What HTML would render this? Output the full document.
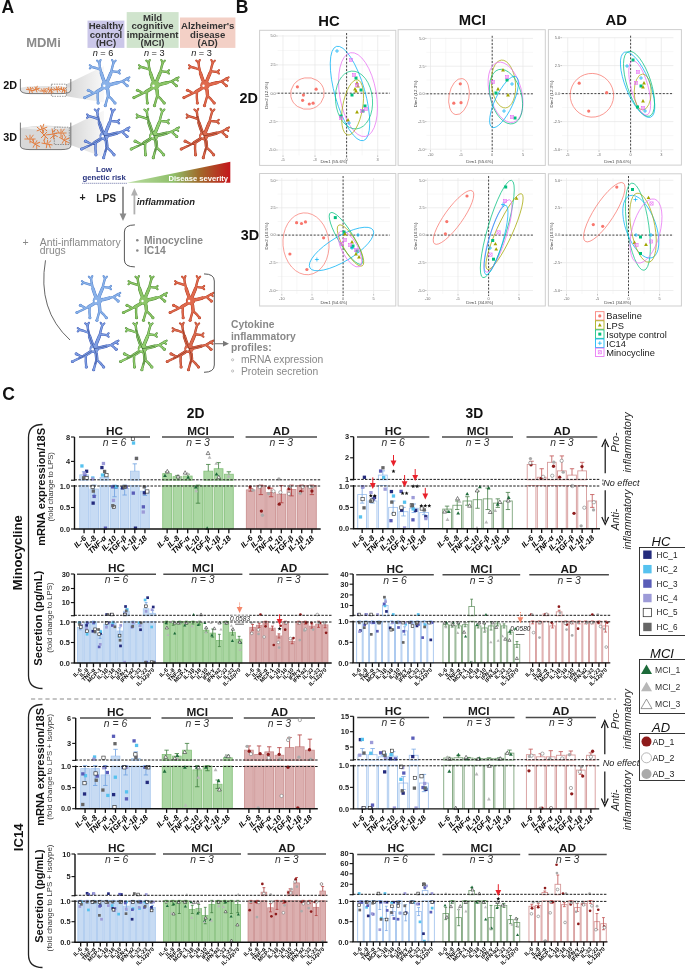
<!DOCTYPE html>
<html><head><meta charset="utf-8"><style>
html,body{margin:0;padding:0;background:#fff;width:685px;height:970px;overflow:hidden}
svg{display:block;will-change:transform}
text{font-family:"Liberation Sans", sans-serif}
</style></head><body>
<svg width="685" height="970" viewBox="0 0 685 970">
<line x1="79.00" y1="437.00" x2="150.00" y2="437.00" stroke="#4a4a4a" stroke-width="1.5"/>
<text x="114.50" y="435.00" font-size="11.8" font-weight="bold" fill="#1a1a1a" text-anchor="middle">HC</text>
<text x="114.50" y="445.90" font-size="10.4" font-style="italic" fill="#333" text-anchor="middle">n = 6</text>
<rect x="79.71" y="485.50" width="8.72" height="43.50" fill="#c7dbf3" stroke="#a9c8ee" stroke-width="0.8"/>
<rect x="79.71" y="474.82" width="8.72" height="5.38" fill="#c7dbf3" stroke="#a9c8ee" stroke-width="0.8"/>
<line x1="84.07" y1="471.77" x2="84.07" y2="474.82" stroke="#6d9fe0" stroke-width="0.8"/>
<line x1="81.89" y1="471.77" x2="86.25" y2="471.77" stroke="#6d9fe0" stroke-width="0.8"/>
<rect x="84.96" y="469.59" width="3.30" height="3.30" fill="#242b7d"/>
<rect x="80.28" y="464.31" width="3.30" height="3.30" fill="#56c2ef"/>
<rect x="83.21" y="473.41" width="3.30" height="3.30" fill="#5a5db8"/>
<rect x="82.63" y="471.45" width="3.30" height="3.30" fill="#9d9bd8"/>
<rect x="84.91" y="476.30" width="3.30" height="3.30" fill="#ffffff" stroke="#222" stroke-width="0.6"/>
<rect x="81.99" y="476.17" width="3.30" height="3.30" fill="#666666"/>
<rect x="89.85" y="489.01" width="8.72" height="39.99" fill="#c7dbf3" stroke="#a9c8ee" stroke-width="0.8"/>
<line x1="94.21" y1="485.14" x2="94.21" y2="495.46" stroke="#6d9fe0" stroke-width="0.8"/>
<line x1="92.03" y1="485.14" x2="96.39" y2="485.14" stroke="#6d9fe0" stroke-width="0.8"/>
<line x1="92.03" y1="495.46" x2="96.39" y2="495.46" stroke="#6d9fe0" stroke-width="0.8"/>
<rect x="91.50" y="501.46" width="3.30" height="3.30" fill="#242b7d"/>
<rect x="91.14" y="476.34" width="3.30" height="3.30" fill="#56c2ef"/>
<rect x="92.50" y="494.74" width="3.30" height="3.30" fill="#5a5db8"/>
<rect x="90.93" y="477.35" width="3.30" height="3.30" fill="#9d9bd8"/>
<rect x="90.97" y="485.21" width="3.30" height="3.30" fill="#ffffff" stroke="#222" stroke-width="0.6"/>
<rect x="91.68" y="489.45" width="3.30" height="3.30" fill="#666666"/>
<rect x="100.00" y="485.50" width="8.72" height="43.50" fill="#c7dbf3" stroke="#a9c8ee" stroke-width="0.8"/>
<rect x="100.00" y="477.56" width="8.72" height="2.64" fill="#c7dbf3" stroke="#a9c8ee" stroke-width="0.8"/>
<line x1="104.36" y1="474.51" x2="104.36" y2="477.56" stroke="#6d9fe0" stroke-width="0.8"/>
<line x1="102.18" y1="474.51" x2="106.54" y2="474.51" stroke="#6d9fe0" stroke-width="0.8"/>
<rect x="100.28" y="465.93" width="3.30" height="3.30" fill="#242b7d"/>
<rect x="100.79" y="473.41" width="3.30" height="3.30" fill="#56c2ef"/>
<rect x="103.80" y="526.49" width="3.30" height="3.30" fill="#5a5db8"/>
<rect x="101.79" y="461.86" width="3.30" height="3.30" fill="#9d9bd8"/>
<rect x="104.80" y="473.51" width="3.30" height="3.30" fill="#ffffff" stroke="#222" stroke-width="0.6"/>
<rect x="102.96" y="469.79" width="3.30" height="3.30" fill="#666666"/>
<rect x="110.14" y="485.50" width="8.72" height="43.50" fill="#c7dbf3" stroke="#a9c8ee" stroke-width="0.8"/>
<line x1="114.50" y1="485.14" x2="114.50" y2="496.75" stroke="#6d9fe0" stroke-width="0.8"/>
<line x1="112.32" y1="485.14" x2="116.68" y2="485.14" stroke="#6d9fe0" stroke-width="0.8"/>
<line x1="112.32" y1="496.75" x2="116.68" y2="496.75" stroke="#6d9fe0" stroke-width="0.8"/>
<rect x="114.32" y="485.21" width="3.30" height="3.30" fill="#242b7d"/>
<rect x="114.45" y="485.21" width="3.30" height="3.30" fill="#56c2ef"/>
<rect x="110.96" y="485.21" width="3.30" height="3.30" fill="#5a5db8"/>
<rect x="111.78" y="498.81" width="3.30" height="3.30" fill="#9d9bd8"/>
<rect x="112.32" y="505.32" width="3.30" height="3.30" fill="#ffffff" stroke="#222" stroke-width="0.6"/>
<rect x="111.18" y="504.04" width="3.30" height="3.30" fill="#666666"/>
<rect x="120.28" y="488.58" width="8.72" height="40.42" fill="#c7dbf3" stroke="#a9c8ee" stroke-width="0.8"/>
<line x1="124.64" y1="485.14" x2="124.64" y2="495.03" stroke="#6d9fe0" stroke-width="0.8"/>
<line x1="122.46" y1="485.14" x2="126.82" y2="485.14" stroke="#6d9fe0" stroke-width="0.8"/>
<line x1="122.46" y1="495.03" x2="126.82" y2="495.03" stroke="#6d9fe0" stroke-width="0.8"/>
<rect x="120.79" y="486.26" width="3.30" height="3.30" fill="#242b7d"/>
<rect x="124.57" y="485.21" width="3.30" height="3.30" fill="#5a5db8"/>
<rect x="123.88" y="485.21" width="3.30" height="3.30" fill="#9d9bd8"/>
<rect x="123.03" y="485.21" width="3.30" height="3.30" fill="#ffffff" stroke="#222" stroke-width="0.6"/>
<rect x="122.56" y="485.21" width="3.30" height="3.30" fill="#666666"/>
<rect x="130.42" y="485.50" width="8.72" height="43.50" fill="#c7dbf3" stroke="#a9c8ee" stroke-width="0.8"/>
<rect x="130.42" y="471.16" width="8.72" height="9.04" fill="#c7dbf3" stroke="#a9c8ee" stroke-width="0.8"/>
<line x1="134.79" y1="463.84" x2="134.79" y2="471.16" stroke="#6d9fe0" stroke-width="0.8"/>
<line x1="132.61" y1="463.84" x2="136.97" y2="463.84" stroke="#6d9fe0" stroke-width="0.8"/>
<rect x="133.83" y="526.49" width="3.30" height="3.30" fill="#242b7d"/>
<rect x="131.87" y="441.38" width="3.30" height="3.30" fill="#56c2ef"/>
<rect x="131.65" y="491.46" width="3.30" height="3.30" fill="#5a5db8"/>
<rect x="134.80" y="456.87" width="3.30" height="3.30" fill="#9d9bd8"/>
<rect x="131.24" y="437.35" width="3.30" height="3.30" fill="#ffffff" stroke="#222" stroke-width="0.6"/>
<rect x="134.85" y="456.75" width="3.30" height="3.30" fill="#666666"/>
<rect x="140.57" y="491.16" width="8.72" height="37.84" fill="#c7dbf3" stroke="#a9c8ee" stroke-width="0.8"/>
<line x1="144.93" y1="486.86" x2="144.93" y2="495.46" stroke="#6d9fe0" stroke-width="0.8"/>
<line x1="142.75" y1="486.86" x2="147.11" y2="486.86" stroke="#6d9fe0" stroke-width="0.8"/>
<line x1="142.75" y1="495.46" x2="147.11" y2="495.46" stroke="#6d9fe0" stroke-width="0.8"/>
<rect x="142.71" y="491.17" width="3.30" height="3.30" fill="#242b7d"/>
<rect x="141.71" y="505.20" width="3.30" height="3.30" fill="#5a5db8"/>
<rect x="141.62" y="510.36" width="3.30" height="3.30" fill="#9d9bd8"/>
<rect x="145.65" y="489.82" width="3.30" height="3.30" fill="#ffffff" stroke="#222" stroke-width="0.6"/>
<rect x="142.63" y="485.21" width="3.30" height="3.30" fill="#666666"/>
<line x1="162.00" y1="437.00" x2="234.00" y2="437.00" stroke="#4a4a4a" stroke-width="1.5"/>
<text x="198.00" y="435.00" font-size="11.8" font-weight="bold" fill="#1a1a1a" text-anchor="middle">MCI</text>
<text x="198.00" y="445.90" font-size="10.4" font-style="italic" fill="#333" text-anchor="middle">n = 3</text>
<rect x="162.72" y="485.50" width="8.85" height="43.50" fill="#abd7a3" stroke="#86c07c" stroke-width="0.8"/>
<rect x="162.72" y="473.60" width="8.85" height="6.60" fill="#abd7a3" stroke="#86c07c" stroke-width="0.8"/>
<line x1="167.14" y1="471.77" x2="167.14" y2="473.60" stroke="#3e7e3c" stroke-width="0.8"/>
<line x1="164.93" y1="471.77" x2="169.35" y2="471.77" stroke="#3e7e3c" stroke-width="0.8"/>
<path d="M164.99 473.70L166.89 477.12L163.09 477.12Z" fill="#1d6b3a"/>
<path d="M167.54 470.13L169.44 473.55L165.64 473.55Z" fill="#b8b8b8"/>
<path d="M167.33 469.39L169.22 472.81L165.43 472.81Z" fill="#ffffff" stroke="#333" stroke-width="0.6"/>
<rect x="173.01" y="485.50" width="8.85" height="43.50" fill="#abd7a3" stroke="#86c07c" stroke-width="0.8"/>
<rect x="173.01" y="476.65" width="8.85" height="3.55" fill="#abd7a3" stroke="#86c07c" stroke-width="0.8"/>
<line x1="177.43" y1="475.43" x2="177.43" y2="476.65" stroke="#3e7e3c" stroke-width="0.8"/>
<line x1="175.22" y1="475.43" x2="179.64" y2="475.43" stroke="#3e7e3c" stroke-width="0.8"/>
<path d="M179.57 475.02L181.46 478.43L177.67 478.43Z" fill="#b8b8b8"/>
<path d="M178.00 474.63L179.90 478.04L176.10 478.04Z" fill="#ffffff" stroke="#333" stroke-width="0.6"/>
<rect x="183.29" y="485.50" width="8.85" height="43.50" fill="#abd7a3" stroke="#86c07c" stroke-width="0.8"/>
<rect x="183.29" y="476.04" width="8.85" height="4.16" fill="#abd7a3" stroke="#86c07c" stroke-width="0.8"/>
<line x1="187.71" y1="474.21" x2="187.71" y2="476.04" stroke="#3e7e3c" stroke-width="0.8"/>
<line x1="185.50" y1="474.21" x2="189.93" y2="474.21" stroke="#3e7e3c" stroke-width="0.8"/>
<path d="M188.15 475.22L190.05 478.64L186.25 478.64Z" fill="#1d6b3a"/>
<path d="M187.63 471.68L189.53 475.10L185.73 475.10Z" fill="#b8b8b8"/>
<path d="M185.11 470.72L187.01 474.13L183.22 474.13Z" fill="#ffffff" stroke="#333" stroke-width="0.6"/>
<rect x="193.58" y="485.50" width="8.85" height="43.50" fill="#abd7a3" stroke="#86c07c" stroke-width="0.8"/>
<line x1="198.00" y1="485.14" x2="198.00" y2="503.20" stroke="#3e7e3c" stroke-width="0.8"/>
<line x1="195.79" y1="485.14" x2="200.21" y2="485.14" stroke="#3e7e3c" stroke-width="0.8"/>
<line x1="195.79" y1="503.20" x2="200.21" y2="503.20" stroke="#3e7e3c" stroke-width="0.8"/>
<path d="M195.81 484.96L197.70 488.38L193.91 488.38Z" fill="#1d6b3a"/>
<path d="M196.21 488.83L198.11 492.24L194.31 492.24Z" fill="#b8b8b8"/>
<rect x="203.86" y="485.50" width="8.85" height="43.50" fill="#abd7a3" stroke="#86c07c" stroke-width="0.8"/>
<rect x="203.86" y="471.16" width="8.85" height="9.04" fill="#abd7a3" stroke="#86c07c" stroke-width="0.8"/>
<line x1="208.29" y1="464.45" x2="208.29" y2="471.16" stroke="#3e7e3c" stroke-width="0.8"/>
<line x1="206.07" y1="464.45" x2="210.50" y2="464.45" stroke="#3e7e3c" stroke-width="0.8"/>
<path d="M207.18 526.24L209.07 529.66L205.28 529.66Z" fill="#1d6b3a"/>
<path d="M209.58 455.41L211.48 458.82L207.69 458.82Z" fill="#b8b8b8"/>
<path d="M208.04 451.17L209.94 454.58L206.14 454.58Z" fill="#ffffff" stroke="#333" stroke-width="0.6"/>
<rect x="214.15" y="485.50" width="8.85" height="43.50" fill="#abd7a3" stroke="#86c07c" stroke-width="0.8"/>
<rect x="214.15" y="468.72" width="8.85" height="11.48" fill="#abd7a3" stroke="#86c07c" stroke-width="0.8"/>
<line x1="218.57" y1="462.62" x2="218.57" y2="468.72" stroke="#3e7e3c" stroke-width="0.8"/>
<line x1="216.36" y1="462.62" x2="220.78" y2="462.62" stroke="#3e7e3c" stroke-width="0.8"/>
<path d="M216.54 472.20L218.44 475.62L214.64 475.62Z" fill="#1d6b3a"/>
<path d="M216.27 461.46L218.17 464.87L214.37 464.87Z" fill="#b8b8b8"/>
<path d="M218.72 475.21L220.62 478.63L216.82 478.63Z" fill="#ffffff" stroke="#333" stroke-width="0.6"/>
<rect x="224.43" y="485.50" width="8.85" height="43.50" fill="#abd7a3" stroke="#86c07c" stroke-width="0.8"/>
<rect x="224.43" y="474.21" width="8.85" height="5.99" fill="#abd7a3" stroke="#86c07c" stroke-width="0.8"/>
<line x1="228.86" y1="471.77" x2="228.86" y2="474.21" stroke="#3e7e3c" stroke-width="0.8"/>
<line x1="226.65" y1="471.77" x2="231.07" y2="471.77" stroke="#3e7e3c" stroke-width="0.8"/>
<path d="M228.67 474.23L230.56 477.65L226.77 477.65Z" fill="#b8b8b8"/>
<line x1="245.60" y1="437.00" x2="317.00" y2="437.00" stroke="#4a4a4a" stroke-width="1.5"/>
<text x="281.30" y="435.00" font-size="11.8" font-weight="bold" fill="#1a1a1a" text-anchor="middle">AD</text>
<text x="281.30" y="445.90" font-size="10.4" font-style="italic" fill="#333" text-anchor="middle">n = 3</text>
<rect x="246.31" y="489.87" width="8.77" height="39.13" fill="#dcb0b0" stroke="#c98c8c" stroke-width="0.8"/>
<line x1="250.70" y1="488.58" x2="250.70" y2="491.16" stroke="#b03a3a" stroke-width="0.8"/>
<line x1="248.51" y1="488.58" x2="252.89" y2="488.58" stroke="#b03a3a" stroke-width="0.8"/>
<line x1="248.51" y1="491.16" x2="252.89" y2="491.16" stroke="#b03a3a" stroke-width="0.8"/>
<circle cx="250.12" cy="486.86" r="1.65" fill="#8e1b1b"/>
<circle cx="253.04" cy="490.19" r="1.65" fill="#aaaaaa"/>
<rect x="256.51" y="485.50" width="8.77" height="43.50" fill="#dcb0b0" stroke="#c98c8c" stroke-width="0.8"/>
<line x1="260.90" y1="485.14" x2="260.90" y2="494.60" stroke="#b03a3a" stroke-width="0.8"/>
<line x1="258.71" y1="485.14" x2="263.09" y2="485.14" stroke="#b03a3a" stroke-width="0.8"/>
<line x1="258.71" y1="494.60" x2="263.09" y2="494.60" stroke="#b03a3a" stroke-width="0.8"/>
<circle cx="261.37" cy="511.08" r="1.65" fill="#8e1b1b"/>
<circle cx="259.67" cy="486.86" r="1.65" fill="#ffffff" stroke="#777" stroke-width="0.6"/>
<circle cx="262.46" cy="515.26" r="1.65" fill="#aaaaaa"/>
<rect x="266.71" y="492.45" width="8.77" height="36.55" fill="#dcb0b0" stroke="#c98c8c" stroke-width="0.8"/>
<line x1="271.10" y1="488.15" x2="271.10" y2="496.75" stroke="#b03a3a" stroke-width="0.8"/>
<line x1="268.91" y1="488.15" x2="273.29" y2="488.15" stroke="#b03a3a" stroke-width="0.8"/>
<line x1="268.91" y1="496.75" x2="273.29" y2="496.75" stroke="#b03a3a" stroke-width="0.8"/>
<circle cx="268.84" cy="487.83" r="1.65" fill="#8e1b1b"/>
<circle cx="273.52" cy="491.24" r="1.65" fill="#ffffff" stroke="#777" stroke-width="0.6"/>
<circle cx="268.63" cy="493.54" r="1.65" fill="#aaaaaa"/>
<rect x="276.91" y="494.17" width="8.77" height="34.83" fill="#dcb0b0" stroke="#c98c8c" stroke-width="0.8"/>
<line x1="281.30" y1="485.57" x2="281.30" y2="502.77" stroke="#b03a3a" stroke-width="0.8"/>
<line x1="279.11" y1="485.57" x2="283.49" y2="485.57" stroke="#b03a3a" stroke-width="0.8"/>
<line x1="279.11" y1="502.77" x2="283.49" y2="502.77" stroke="#b03a3a" stroke-width="0.8"/>
<circle cx="279.28" cy="504.13" r="1.65" fill="#8e1b1b"/>
<circle cx="280.39" cy="492.31" r="1.65" fill="#ffffff" stroke="#777" stroke-width="0.6"/>
<circle cx="278.86" cy="479.00" r="1.65" fill="#aaaaaa"/>
<rect x="287.11" y="489.44" width="8.77" height="39.56" fill="#dcb0b0" stroke="#c98c8c" stroke-width="0.8"/>
<line x1="291.50" y1="485.14" x2="291.50" y2="495.89" stroke="#b03a3a" stroke-width="0.8"/>
<line x1="289.31" y1="485.14" x2="293.69" y2="485.14" stroke="#b03a3a" stroke-width="0.8"/>
<line x1="289.31" y1="495.89" x2="293.69" y2="495.89" stroke="#b03a3a" stroke-width="0.8"/>
<circle cx="288.99" cy="488.67" r="1.65" fill="#8e1b1b"/>
<circle cx="288.90" cy="493.87" r="1.65" fill="#ffffff" stroke="#777" stroke-width="0.6"/>
<circle cx="290.30" cy="486.86" r="1.65" fill="#aaaaaa"/>
<rect x="297.31" y="485.50" width="8.77" height="43.50" fill="#dcb0b0" stroke="#c98c8c" stroke-width="0.8"/>
<line x1="301.70" y1="485.14" x2="301.70" y2="491.16" stroke="#b03a3a" stroke-width="0.8"/>
<line x1="299.51" y1="485.14" x2="303.89" y2="485.14" stroke="#b03a3a" stroke-width="0.8"/>
<line x1="299.51" y1="491.16" x2="303.89" y2="491.16" stroke="#b03a3a" stroke-width="0.8"/>
<circle cx="300.63" cy="491.63" r="1.65" fill="#8e1b1b"/>
<circle cx="302.75" cy="486.86" r="1.65" fill="#ffffff" stroke="#777" stroke-width="0.6"/>
<circle cx="300.25" cy="493.28" r="1.65" fill="#aaaaaa"/>
<rect x="307.51" y="485.50" width="8.77" height="43.50" fill="#dcb0b0" stroke="#c98c8c" stroke-width="0.8"/>
<line x1="311.90" y1="485.14" x2="311.90" y2="494.60" stroke="#b03a3a" stroke-width="0.8"/>
<line x1="309.71" y1="485.14" x2="314.09" y2="485.14" stroke="#b03a3a" stroke-width="0.8"/>
<line x1="309.71" y1="494.60" x2="314.09" y2="494.60" stroke="#b03a3a" stroke-width="0.8"/>
<circle cx="311.94" cy="491.03" r="1.65" fill="#8e1b1b"/>
<circle cx="309.78" cy="486.86" r="1.65" fill="#ffffff" stroke="#777" stroke-width="0.6"/>
<circle cx="312.31" cy="486.86" r="1.65" fill="#aaaaaa"/>
<line x1="74.50" y1="479.80" x2="320.70" y2="479.80" stroke="#1a1a1a" stroke-width="1.0" stroke-dasharray="2.5,1.3"/>
<line x1="74.50" y1="486.00" x2="320.70" y2="486.00" stroke="#1a1a1a" stroke-width="1.0" stroke-dasharray="2.5,1.3"/>
<line x1="74.50" y1="437.00" x2="74.50" y2="480.70" stroke="#111" stroke-width="1.4"/>
<line x1="74.50" y1="485.00" x2="74.50" y2="529.00" stroke="#111" stroke-width="1.4"/>
<line x1="73.80" y1="529.00" x2="320.70" y2="529.00" stroke="#111" stroke-width="1.4"/>
<line x1="71.00" y1="437.00" x2="74.50" y2="437.00" stroke="#111" stroke-width="1.1"/>
<text x="70.00" y="439.60" font-size="7.4" font-weight="bold" fill="#222" text-anchor="end">8</text>
<line x1="71.00" y1="461.40" x2="74.50" y2="461.40" stroke="#111" stroke-width="1.1"/>
<text x="70.00" y="464.00" font-size="7.4" font-weight="bold" fill="#222" text-anchor="end">4</text>
<line x1="71.00" y1="480.20" x2="74.50" y2="480.20" stroke="#111" stroke-width="1.1"/>
<line x1="71.00" y1="486.00" x2="74.50" y2="486.00" stroke="#111" stroke-width="1.1"/>
<text x="70.00" y="488.60" font-size="7.4" font-weight="bold" fill="#222" text-anchor="end">1.0</text>
<line x1="71.00" y1="507.50" x2="74.50" y2="507.50" stroke="#111" stroke-width="1.1"/>
<text x="70.00" y="510.10" font-size="7.4" font-weight="bold" fill="#222" text-anchor="end">0.5</text>
<line x1="71.00" y1="529.00" x2="74.50" y2="529.00" stroke="#111" stroke-width="1.1"/>
<text x="70.00" y="531.60" font-size="7.4" font-weight="bold" fill="#222" text-anchor="end">0.0</text>
<line x1="84.07" y1="529.00" x2="84.07" y2="533.20" stroke="#111" stroke-width="1.3"/>
<text x="86.67" y="538.60" font-size="7.7" font-weight="bold" font-style="italic" fill="#000" text-anchor="end" transform="rotate(-45 86.67142857142856 538.6)">IL-6</text>
<line x1="94.21" y1="529.00" x2="94.21" y2="533.20" stroke="#111" stroke-width="1.3"/>
<text x="96.81" y="538.60" font-size="7.7" font-weight="bold" font-style="italic" fill="#000" text-anchor="end" transform="rotate(-45 96.8142857142857 538.6)">IL-8</text>
<line x1="104.36" y1="529.00" x2="104.36" y2="533.20" stroke="#111" stroke-width="1.3"/>
<text x="106.96" y="538.60" font-size="7.7" font-weight="bold" font-style="italic" fill="#000" text-anchor="end" transform="rotate(-45 106.95714285714286 538.6)">TNF-α</text>
<line x1="114.50" y1="529.00" x2="114.50" y2="533.20" stroke="#111" stroke-width="1.3"/>
<text x="117.10" y="538.60" font-size="7.7" font-weight="bold" font-style="italic" fill="#000" text-anchor="end" transform="rotate(-45 117.1 538.6)">IL-10</text>
<line x1="124.64" y1="529.00" x2="124.64" y2="533.20" stroke="#111" stroke-width="1.3"/>
<text x="127.24" y="538.60" font-size="7.7" font-weight="bold" font-style="italic" fill="#000" text-anchor="end" transform="rotate(-45 127.24285714285713 538.6)">TGF-β</text>
<line x1="134.79" y1="529.00" x2="134.79" y2="533.20" stroke="#111" stroke-width="1.3"/>
<text x="137.39" y="538.60" font-size="7.7" font-weight="bold" font-style="italic" fill="#000" text-anchor="end" transform="rotate(-45 137.38571428571427 538.6)">IL-1β</text>
<line x1="144.93" y1="529.00" x2="144.93" y2="533.20" stroke="#111" stroke-width="1.3"/>
<text x="147.53" y="538.60" font-size="7.7" font-weight="bold" font-style="italic" fill="#000" text-anchor="end" transform="rotate(-45 147.52857142857144 538.6)">IL-18</text>
<line x1="167.14" y1="529.00" x2="167.14" y2="533.20" stroke="#111" stroke-width="1.3"/>
<text x="169.74" y="538.60" font-size="7.7" font-weight="bold" font-style="italic" fill="#000" text-anchor="end" transform="rotate(-45 169.74285714285713 538.6)">IL-6</text>
<line x1="177.43" y1="529.00" x2="177.43" y2="533.20" stroke="#111" stroke-width="1.3"/>
<text x="180.03" y="538.60" font-size="7.7" font-weight="bold" font-style="italic" fill="#000" text-anchor="end" transform="rotate(-45 180.02857142857144 538.6)">IL-8</text>
<line x1="187.71" y1="529.00" x2="187.71" y2="533.20" stroke="#111" stroke-width="1.3"/>
<text x="190.31" y="538.60" font-size="7.7" font-weight="bold" font-style="italic" fill="#000" text-anchor="end" transform="rotate(-45 190.31428571428572 538.6)">TNF-α</text>
<line x1="198.00" y1="529.00" x2="198.00" y2="533.20" stroke="#111" stroke-width="1.3"/>
<text x="200.60" y="538.60" font-size="7.7" font-weight="bold" font-style="italic" fill="#000" text-anchor="end" transform="rotate(-45 200.6 538.6)">IL-10</text>
<line x1="208.29" y1="529.00" x2="208.29" y2="533.20" stroke="#111" stroke-width="1.3"/>
<text x="210.89" y="538.60" font-size="7.7" font-weight="bold" font-style="italic" fill="#000" text-anchor="end" transform="rotate(-45 210.88571428571427 538.6)">TGF-β</text>
<line x1="218.57" y1="529.00" x2="218.57" y2="533.20" stroke="#111" stroke-width="1.3"/>
<text x="221.17" y="538.60" font-size="7.7" font-weight="bold" font-style="italic" fill="#000" text-anchor="end" transform="rotate(-45 221.17142857142858 538.6)">IL-1β</text>
<line x1="228.86" y1="529.00" x2="228.86" y2="533.20" stroke="#111" stroke-width="1.3"/>
<text x="231.46" y="538.60" font-size="7.7" font-weight="bold" font-style="italic" fill="#000" text-anchor="end" transform="rotate(-45 231.45714285714286 538.6)">IL-18</text>
<line x1="250.70" y1="529.00" x2="250.70" y2="533.20" stroke="#111" stroke-width="1.3"/>
<text x="253.30" y="538.60" font-size="7.7" font-weight="bold" font-style="italic" fill="#000" text-anchor="end" transform="rotate(-45 253.29999999999998 538.6)">IL-6</text>
<line x1="260.90" y1="529.00" x2="260.90" y2="533.20" stroke="#111" stroke-width="1.3"/>
<text x="263.50" y="538.60" font-size="7.7" font-weight="bold" font-style="italic" fill="#000" text-anchor="end" transform="rotate(-45 263.5 538.6)">IL-8</text>
<line x1="271.10" y1="529.00" x2="271.10" y2="533.20" stroke="#111" stroke-width="1.3"/>
<text x="273.70" y="538.60" font-size="7.7" font-weight="bold" font-style="italic" fill="#000" text-anchor="end" transform="rotate(-45 273.70000000000005 538.6)">TNF-α</text>
<line x1="281.30" y1="529.00" x2="281.30" y2="533.20" stroke="#111" stroke-width="1.3"/>
<text x="283.90" y="538.60" font-size="7.7" font-weight="bold" font-style="italic" fill="#000" text-anchor="end" transform="rotate(-45 283.90000000000003 538.6)">IL-10</text>
<line x1="291.50" y1="529.00" x2="291.50" y2="533.20" stroke="#111" stroke-width="1.3"/>
<text x="294.10" y="538.60" font-size="7.7" font-weight="bold" font-style="italic" fill="#000" text-anchor="end" transform="rotate(-45 294.1 538.6)">TGF-β</text>
<line x1="301.70" y1="529.00" x2="301.70" y2="533.20" stroke="#111" stroke-width="1.3"/>
<text x="304.30" y="538.60" font-size="7.7" font-weight="bold" font-style="italic" fill="#000" text-anchor="end" transform="rotate(-45 304.3 538.6)">IL-1β</text>
<line x1="311.90" y1="529.00" x2="311.90" y2="533.20" stroke="#111" stroke-width="1.3"/>
<text x="314.50" y="538.60" font-size="7.7" font-weight="bold" font-style="italic" fill="#000" text-anchor="end" transform="rotate(-45 314.5 538.6)">IL-18</text>
<line x1="77.00" y1="574.30" x2="156.00" y2="574.30" stroke="#4a4a4a" stroke-width="1.5"/>
<text x="116.50" y="572.30" font-size="11.8" font-weight="bold" fill="#1a1a1a" text-anchor="middle">HC</text>
<text x="116.50" y="583.20" font-size="10.4" font-style="italic" fill="#333" text-anchor="middle">n = 6</text>
<rect x="77.46" y="627.33" width="5.66" height="35.67" fill="#c7dbf3" stroke="#a9c8ee" stroke-width="0.8"/>
<line x1="80.29" y1="624.87" x2="80.29" y2="629.79" stroke="#6d9fe0" stroke-width="0.8"/>
<line x1="78.88" y1="624.87" x2="81.71" y2="624.87" stroke="#6d9fe0" stroke-width="0.8"/>
<line x1="78.88" y1="629.79" x2="81.71" y2="629.79" stroke="#6d9fe0" stroke-width="0.8"/>
<rect x="78.57" y="621.47" width="2.70" height="2.70" fill="#242b7d"/>
<rect x="77.79" y="621.47" width="2.70" height="2.70" fill="#56c2ef"/>
<rect x="80.36" y="623.97" width="2.70" height="2.70" fill="#9d9bd8"/>
<rect x="79.43" y="625.68" width="2.70" height="2.70" fill="#ffffff" stroke="#222" stroke-width="0.6"/>
<rect x="78.17" y="623.08" width="2.70" height="2.70" fill="#666666"/>
<rect x="84.04" y="622.62" width="5.66" height="40.38" fill="#c7dbf3" stroke="#a9c8ee" stroke-width="0.8"/>
<line x1="86.87" y1="621.38" x2="86.87" y2="623.85" stroke="#6d9fe0" stroke-width="0.8"/>
<line x1="85.46" y1="621.38" x2="88.29" y2="621.38" stroke="#6d9fe0" stroke-width="0.8"/>
<line x1="85.46" y1="623.85" x2="88.29" y2="623.85" stroke="#6d9fe0" stroke-width="0.8"/>
<rect x="85.25" y="624.04" width="2.70" height="2.70" fill="#242b7d"/>
<rect x="85.76" y="632.88" width="2.70" height="2.70" fill="#56c2ef"/>
<rect x="86.06" y="621.47" width="2.70" height="2.70" fill="#5a5db8"/>
<rect x="85.14" y="627.09" width="2.70" height="2.70" fill="#9d9bd8"/>
<rect x="85.64" y="629.86" width="2.70" height="2.70" fill="#ffffff" stroke="#222" stroke-width="0.6"/>
<rect x="90.63" y="621.50" width="5.66" height="41.50" fill="#c7dbf3" stroke="#a9c8ee" stroke-width="0.8"/>
<line x1="93.46" y1="621.18" x2="93.46" y2="624.05" stroke="#6d9fe0" stroke-width="0.8"/>
<line x1="92.04" y1="621.18" x2="94.87" y2="621.18" stroke="#6d9fe0" stroke-width="0.8"/>
<line x1="92.04" y1="624.05" x2="94.87" y2="624.05" stroke="#6d9fe0" stroke-width="0.8"/>
<rect x="91.51" y="629.89" width="2.70" height="2.70" fill="#242b7d"/>
<rect x="92.72" y="621.47" width="2.70" height="2.70" fill="#56c2ef"/>
<rect x="92.36" y="621.47" width="2.70" height="2.70" fill="#5a5db8"/>
<rect x="93.78" y="627.95" width="2.70" height="2.70" fill="#ffffff" stroke="#222" stroke-width="0.6"/>
<rect x="93.71" y="630.61" width="2.70" height="2.70" fill="#666666"/>
<rect x="97.21" y="634.30" width="5.66" height="28.70" fill="#c7dbf3" stroke="#a9c8ee" stroke-width="0.8"/>
<line x1="100.04" y1="630.20" x2="100.04" y2="638.40" stroke="#6d9fe0" stroke-width="0.8"/>
<line x1="98.63" y1="630.20" x2="101.46" y2="630.20" stroke="#6d9fe0" stroke-width="0.8"/>
<line x1="98.63" y1="638.40" x2="101.46" y2="638.40" stroke="#6d9fe0" stroke-width="0.8"/>
<rect x="99.36" y="632.02" width="2.70" height="2.70" fill="#242b7d"/>
<rect x="99.50" y="630.21" width="2.70" height="2.70" fill="#56c2ef"/>
<rect x="97.80" y="645.53" width="2.70" height="2.70" fill="#5a5db8"/>
<rect x="98.89" y="643.00" width="2.70" height="2.70" fill="#9d9bd8"/>
<rect x="97.81" y="632.87" width="2.70" height="2.70" fill="#ffffff" stroke="#222" stroke-width="0.6"/>
<rect x="97.19" y="628.14" width="2.70" height="2.70" fill="#666666"/>
<rect x="103.79" y="624.05" width="5.66" height="38.95" fill="#c7dbf3" stroke="#a9c8ee" stroke-width="0.8"/>
<line x1="106.62" y1="622.00" x2="106.62" y2="626.10" stroke="#6d9fe0" stroke-width="0.8"/>
<line x1="105.21" y1="622.00" x2="108.04" y2="622.00" stroke="#6d9fe0" stroke-width="0.8"/>
<line x1="105.21" y1="626.10" x2="108.04" y2="626.10" stroke="#6d9fe0" stroke-width="0.8"/>
<rect x="105.33" y="613.15" width="2.70" height="2.70" fill="#242b7d"/>
<rect x="106.95" y="621.47" width="2.70" height="2.70" fill="#5a5db8"/>
<rect x="105.07" y="625.91" width="2.70" height="2.70" fill="#9d9bd8"/>
<rect x="105.31" y="621.65" width="2.70" height="2.70" fill="#ffffff" stroke="#222" stroke-width="0.6"/>
<rect x="106.59" y="613.15" width="2.70" height="2.70" fill="#666666"/>
<rect x="110.38" y="622.82" width="5.66" height="40.18" fill="#c7dbf3" stroke="#a9c8ee" stroke-width="0.8"/>
<line x1="113.21" y1="621.18" x2="113.21" y2="624.87" stroke="#6d9fe0" stroke-width="0.8"/>
<line x1="111.79" y1="621.18" x2="114.62" y2="621.18" stroke="#6d9fe0" stroke-width="0.8"/>
<line x1="111.79" y1="624.87" x2="114.62" y2="624.87" stroke="#6d9fe0" stroke-width="0.8"/>
<rect x="110.25" y="613.15" width="2.70" height="2.70" fill="#242b7d"/>
<rect x="111.41" y="621.47" width="2.70" height="2.70" fill="#56c2ef"/>
<rect x="110.97" y="624.17" width="2.70" height="2.70" fill="#5a5db8"/>
<rect x="110.68" y="613.15" width="2.70" height="2.70" fill="#ffffff" stroke="#222" stroke-width="0.6"/>
<rect x="113.55" y="625.42" width="2.70" height="2.70" fill="#666666"/>
<rect x="116.96" y="631.02" width="5.66" height="31.98" fill="#c7dbf3" stroke="#a9c8ee" stroke-width="0.8"/>
<line x1="119.79" y1="627.74" x2="119.79" y2="634.30" stroke="#6d9fe0" stroke-width="0.8"/>
<line x1="118.38" y1="627.74" x2="121.21" y2="627.74" stroke="#6d9fe0" stroke-width="0.8"/>
<line x1="118.38" y1="634.30" x2="121.21" y2="634.30" stroke="#6d9fe0" stroke-width="0.8"/>
<rect x="119.16" y="644.57" width="2.70" height="2.70" fill="#242b7d"/>
<rect x="117.78" y="634.76" width="2.70" height="2.70" fill="#56c2ef"/>
<rect x="119.38" y="624.09" width="2.70" height="2.70" fill="#9d9bd8"/>
<rect x="118.20" y="634.27" width="2.70" height="2.70" fill="#ffffff" stroke="#222" stroke-width="0.6"/>
<rect x="118.68" y="638.93" width="2.70" height="2.70" fill="#666666"/>
<rect x="123.54" y="621.50" width="5.66" height="41.50" fill="#c7dbf3" stroke="#a9c8ee" stroke-width="0.8"/>
<rect x="123.54" y="611.18" width="5.66" height="4.52" fill="#c7dbf3" stroke="#a9c8ee" stroke-width="0.8"/>
<line x1="126.37" y1="609.04" x2="126.37" y2="611.18" stroke="#6d9fe0" stroke-width="0.8"/>
<line x1="124.96" y1="609.04" x2="127.79" y2="609.04" stroke="#6d9fe0" stroke-width="0.8"/>
<rect x="124.20" y="605.15" width="2.70" height="2.70" fill="#242b7d"/>
<rect x="125.89" y="608.14" width="2.70" height="2.70" fill="#56c2ef"/>
<rect x="123.71" y="612.60" width="2.70" height="2.70" fill="#5a5db8"/>
<rect x="123.33" y="660.83" width="2.70" height="2.70" fill="#9d9bd8"/>
<rect x="123.58" y="613.15" width="2.70" height="2.70" fill="#ffffff" stroke="#222" stroke-width="0.6"/>
<rect x="124.89" y="609.52" width="2.70" height="2.70" fill="#666666"/>
<rect x="130.13" y="621.50" width="5.66" height="41.50" fill="#c7dbf3" stroke="#a9c8ee" stroke-width="0.8"/>
<line x1="132.96" y1="621.18" x2="132.96" y2="624.05" stroke="#6d9fe0" stroke-width="0.8"/>
<line x1="131.54" y1="621.18" x2="134.37" y2="621.18" stroke="#6d9fe0" stroke-width="0.8"/>
<line x1="131.54" y1="624.05" x2="134.37" y2="624.05" stroke="#6d9fe0" stroke-width="0.8"/>
<rect x="130.74" y="625.65" width="2.70" height="2.70" fill="#5a5db8"/>
<rect x="131.82" y="621.47" width="2.70" height="2.70" fill="#9d9bd8"/>
<rect x="131.39" y="625.01" width="2.70" height="2.70" fill="#666666"/>
<rect x="136.71" y="624.05" width="5.66" height="38.95" fill="#c7dbf3" stroke="#a9c8ee" stroke-width="0.8"/>
<line x1="139.54" y1="622.00" x2="139.54" y2="626.10" stroke="#6d9fe0" stroke-width="0.8"/>
<line x1="138.13" y1="622.00" x2="140.96" y2="622.00" stroke="#6d9fe0" stroke-width="0.8"/>
<line x1="138.13" y1="626.10" x2="140.96" y2="626.10" stroke="#6d9fe0" stroke-width="0.8"/>
<rect x="139.20" y="628.39" width="2.70" height="2.70" fill="#242b7d"/>
<rect x="137.63" y="621.47" width="2.70" height="2.70" fill="#56c2ef"/>
<rect x="138.85" y="624.29" width="2.70" height="2.70" fill="#9d9bd8"/>
<rect x="139.83" y="621.47" width="2.70" height="2.70" fill="#666666"/>
<rect x="143.29" y="621.50" width="5.66" height="41.50" fill="#c7dbf3" stroke="#a9c8ee" stroke-width="0.8"/>
<rect x="143.29" y="608.75" width="5.66" height="6.95" fill="#c7dbf3" stroke="#a9c8ee" stroke-width="0.8"/>
<line x1="146.12" y1="602.60" x2="146.12" y2="608.75" stroke="#6d9fe0" stroke-width="0.8"/>
<line x1="144.71" y1="602.60" x2="147.54" y2="602.60" stroke="#6d9fe0" stroke-width="0.8"/>
<rect x="146.28" y="596.33" width="2.70" height="2.70" fill="#242b7d"/>
<rect x="143.76" y="598.63" width="2.70" height="2.70" fill="#56c2ef"/>
<rect x="145.33" y="660.83" width="2.70" height="2.70" fill="#5a5db8"/>
<rect x="144.74" y="610.02" width="2.70" height="2.70" fill="#9d9bd8"/>
<rect x="144.57" y="604.94" width="2.70" height="2.70" fill="#ffffff" stroke="#222" stroke-width="0.6"/>
<rect x="144.12" y="660.83" width="2.70" height="2.70" fill="#666666"/>
<rect x="149.88" y="621.50" width="5.66" height="41.50" fill="#c7dbf3" stroke="#a9c8ee" stroke-width="0.8"/>
<rect x="149.88" y="613.33" width="5.66" height="2.37" fill="#c7dbf3" stroke="#a9c8ee" stroke-width="0.8"/>
<line x1="152.71" y1="610.32" x2="152.71" y2="613.33" stroke="#6d9fe0" stroke-width="0.8"/>
<line x1="151.29" y1="610.32" x2="154.12" y2="610.32" stroke="#6d9fe0" stroke-width="0.8"/>
<rect x="151.89" y="605.65" width="2.70" height="2.70" fill="#242b7d"/>
<rect x="150.34" y="625.65" width="2.70" height="2.70" fill="#56c2ef"/>
<rect x="152.87" y="660.83" width="2.70" height="2.70" fill="#5a5db8"/>
<rect x="150.69" y="608.33" width="2.70" height="2.70" fill="#9d9bd8"/>
<rect x="150.28" y="660.83" width="2.70" height="2.70" fill="#ffffff" stroke="#222" stroke-width="0.6"/>
<rect x="152.61" y="660.83" width="2.70" height="2.70" fill="#666666"/>
<line x1="163.30" y1="574.30" x2="242.40" y2="574.30" stroke="#4a4a4a" stroke-width="1.5"/>
<text x="202.85" y="572.30" font-size="11.8" font-weight="bold" fill="#1a1a1a" text-anchor="middle">MCI</text>
<text x="202.85" y="583.20" font-size="10.4" font-style="italic" fill="#333" text-anchor="middle">n = 3</text>
<rect x="163.76" y="621.50" width="5.67" height="41.50" fill="#abd7a3" stroke="#86c07c" stroke-width="0.8"/>
<line x1="166.60" y1="621.18" x2="166.60" y2="624.05" stroke="#3e7e3c" stroke-width="0.8"/>
<line x1="165.18" y1="621.18" x2="168.01" y2="621.18" stroke="#3e7e3c" stroke-width="0.8"/>
<line x1="165.18" y1="624.05" x2="168.01" y2="624.05" stroke="#3e7e3c" stroke-width="0.8"/>
<path d="M166.10 621.27L167.65 624.06L164.55 624.06Z" fill="#1d6b3a"/>
<path d="M168.02 633.21L169.57 636.01L166.46 636.01Z" fill="#b8b8b8"/>
<path d="M166.88 626.10L168.44 628.90L165.33 628.90Z" fill="#ffffff" stroke="#333" stroke-width="0.6"/>
<rect x="170.35" y="623.23" width="5.67" height="39.77" fill="#abd7a3" stroke="#86c07c" stroke-width="0.8"/>
<line x1="173.19" y1="621.18" x2="173.19" y2="625.28" stroke="#3e7e3c" stroke-width="0.8"/>
<line x1="171.77" y1="621.18" x2="174.60" y2="621.18" stroke="#3e7e3c" stroke-width="0.8"/>
<line x1="171.77" y1="625.28" x2="174.60" y2="625.28" stroke="#3e7e3c" stroke-width="0.8"/>
<path d="M174.71 631.79L176.26 634.58L173.16 634.58Z" fill="#1d6b3a"/>
<path d="M174.85 621.27L176.40 624.06L173.30 624.06Z" fill="#ffffff" stroke="#333" stroke-width="0.6"/>
<rect x="176.94" y="621.50" width="5.67" height="41.50" fill="#abd7a3" stroke="#86c07c" stroke-width="0.8"/>
<line x1="179.78" y1="621.18" x2="179.78" y2="624.05" stroke="#3e7e3c" stroke-width="0.8"/>
<line x1="178.36" y1="621.18" x2="181.20" y2="621.18" stroke="#3e7e3c" stroke-width="0.8"/>
<line x1="178.36" y1="624.05" x2="181.20" y2="624.05" stroke="#3e7e3c" stroke-width="0.8"/>
<path d="M179.95 621.27L181.50 624.06L178.39 624.06Z" fill="#1d6b3a"/>
<path d="M179.73 621.73L181.29 624.53L178.18 624.53Z" fill="#b8b8b8"/>
<path d="M178.17 621.27L179.72 624.06L176.62 624.06Z" fill="#ffffff" stroke="#333" stroke-width="0.6"/>
<rect x="183.54" y="621.50" width="5.67" height="41.50" fill="#abd7a3" stroke="#86c07c" stroke-width="0.8"/>
<line x1="186.37" y1="621.18" x2="186.37" y2="624.05" stroke="#3e7e3c" stroke-width="0.8"/>
<line x1="184.95" y1="621.18" x2="187.79" y2="621.18" stroke="#3e7e3c" stroke-width="0.8"/>
<line x1="184.95" y1="624.05" x2="187.79" y2="624.05" stroke="#3e7e3c" stroke-width="0.8"/>
<path d="M184.75 623.66L186.31 626.46L183.20 626.46Z" fill="#1d6b3a"/>
<path d="M185.19 621.27L186.74 624.06L183.64 624.06Z" fill="#b8b8b8"/>
<path d="M186.62 621.27L188.17 624.06L185.06 624.06Z" fill="#ffffff" stroke="#333" stroke-width="0.6"/>
<rect x="190.13" y="621.50" width="5.67" height="41.50" fill="#abd7a3" stroke="#86c07c" stroke-width="0.8"/>
<line x1="192.96" y1="621.18" x2="192.96" y2="624.05" stroke="#3e7e3c" stroke-width="0.8"/>
<line x1="191.55" y1="621.18" x2="194.38" y2="621.18" stroke="#3e7e3c" stroke-width="0.8"/>
<line x1="191.55" y1="624.05" x2="194.38" y2="624.05" stroke="#3e7e3c" stroke-width="0.8"/>
<path d="M193.66 612.95L195.21 615.74L192.11 615.74Z" fill="#1d6b3a"/>
<path d="M191.98 624.55L193.54 627.35L190.43 627.35Z" fill="#b8b8b8"/>
<rect x="196.72" y="622.82" width="5.67" height="40.18" fill="#abd7a3" stroke="#86c07c" stroke-width="0.8"/>
<line x1="199.55" y1="621.18" x2="199.55" y2="624.87" stroke="#3e7e3c" stroke-width="0.8"/>
<line x1="198.14" y1="621.18" x2="200.97" y2="621.18" stroke="#3e7e3c" stroke-width="0.8"/>
<line x1="198.14" y1="624.87" x2="200.97" y2="624.87" stroke="#3e7e3c" stroke-width="0.8"/>
<path d="M198.24 623.11L199.80 625.91L196.69 625.91Z" fill="#1d6b3a"/>
<path d="M201.06 612.95L202.61 615.74L199.51 615.74Z" fill="#ffffff" stroke="#333" stroke-width="0.6"/>
<rect x="203.31" y="630.20" width="5.67" height="32.80" fill="#abd7a3" stroke="#86c07c" stroke-width="0.8"/>
<line x1="206.15" y1="628.15" x2="206.15" y2="632.25" stroke="#3e7e3c" stroke-width="0.8"/>
<line x1="204.73" y1="628.15" x2="207.56" y2="628.15" stroke="#3e7e3c" stroke-width="0.8"/>
<line x1="204.73" y1="632.25" x2="207.56" y2="632.25" stroke="#3e7e3c" stroke-width="0.8"/>
<path d="M204.86 621.27L206.41 624.06L203.30 624.06Z" fill="#1d6b3a"/>
<path d="M206.02 630.72L207.57 633.52L204.47 633.52Z" fill="#b8b8b8"/>
<path d="M206.21 626.03L207.76 628.82L204.66 628.82Z" fill="#ffffff" stroke="#333" stroke-width="0.6"/>
<rect x="209.90" y="633.07" width="5.67" height="29.93" fill="#abd7a3" stroke="#86c07c" stroke-width="0.8"/>
<line x1="212.74" y1="628.97" x2="212.74" y2="637.17" stroke="#3e7e3c" stroke-width="0.8"/>
<line x1="211.32" y1="628.97" x2="214.15" y2="628.97" stroke="#3e7e3c" stroke-width="0.8"/>
<line x1="211.32" y1="637.17" x2="214.15" y2="637.17" stroke="#3e7e3c" stroke-width="0.8"/>
<path d="M211.85 633.58L213.40 636.38L210.30 636.38Z" fill="#1d6b3a"/>
<path d="M211.11 621.27L212.67 624.06L209.56 624.06Z" fill="#b8b8b8"/>
<path d="M214.33 626.85L215.89 629.64L212.78 629.64Z" fill="#ffffff" stroke="#333" stroke-width="0.6"/>
<rect x="216.49" y="640.45" width="5.67" height="22.55" fill="#abd7a3" stroke="#86c07c" stroke-width="0.8"/>
<line x1="219.33" y1="634.30" x2="219.33" y2="646.60" stroke="#3e7e3c" stroke-width="0.8"/>
<line x1="217.91" y1="634.30" x2="220.75" y2="634.30" stroke="#3e7e3c" stroke-width="0.8"/>
<line x1="217.91" y1="646.60" x2="220.75" y2="646.60" stroke="#3e7e3c" stroke-width="0.8"/>
<path d="M220.09 621.27L221.64 624.06L218.54 624.06Z" fill="#1d6b3a"/>
<path d="M220.94 627.74L222.49 630.53L219.39 630.53Z" fill="#b8b8b8"/>
<path d="M219.40 621.27L220.95 624.06L217.85 624.06Z" fill="#ffffff" stroke="#333" stroke-width="0.6"/>
<rect x="223.09" y="621.50" width="5.67" height="41.50" fill="#abd7a3" stroke="#86c07c" stroke-width="0.8"/>
<line x1="225.92" y1="621.18" x2="225.92" y2="624.05" stroke="#3e7e3c" stroke-width="0.8"/>
<line x1="224.50" y1="621.18" x2="227.34" y2="621.18" stroke="#3e7e3c" stroke-width="0.8"/>
<line x1="224.50" y1="624.05" x2="227.34" y2="624.05" stroke="#3e7e3c" stroke-width="0.8"/>
<path d="M225.87 621.27L227.42 624.06L224.31 624.06Z" fill="#1d6b3a"/>
<path d="M225.32 621.27L226.87 624.06L223.77 624.06Z" fill="#b8b8b8"/>
<path d="M226.90 621.27L228.45 624.06L225.35 624.06Z" fill="#ffffff" stroke="#333" stroke-width="0.6"/>
<rect x="229.68" y="632.25" width="5.67" height="30.75" fill="#abd7a3" stroke="#86c07c" stroke-width="0.8"/>
<line x1="232.51" y1="629.38" x2="232.51" y2="635.12" stroke="#3e7e3c" stroke-width="0.8"/>
<line x1="231.10" y1="629.38" x2="233.93" y2="629.38" stroke="#3e7e3c" stroke-width="0.8"/>
<line x1="231.10" y1="635.12" x2="233.93" y2="635.12" stroke="#3e7e3c" stroke-width="0.8"/>
<path d="M232.39 639.10L233.94 641.90L230.84 641.90Z" fill="#1d6b3a"/>
<path d="M231.36 624.04L232.92 626.83L229.81 626.83Z" fill="#b8b8b8"/>
<path d="M232.93 627.51L234.48 630.30L231.38 630.30Z" fill="#ffffff" stroke="#333" stroke-width="0.6"/>
<rect x="236.27" y="639.22" width="5.67" height="23.78" fill="#abd7a3" stroke="#86c07c" stroke-width="0.8"/>
<line x1="239.10" y1="636.35" x2="239.10" y2="642.09" stroke="#3e7e3c" stroke-width="0.8"/>
<line x1="237.69" y1="636.35" x2="240.52" y2="636.35" stroke="#3e7e3c" stroke-width="0.8"/>
<line x1="237.69" y1="642.09" x2="240.52" y2="642.09" stroke="#3e7e3c" stroke-width="0.8"/>
<path d="M240.79 641.04L242.34 643.83L239.24 643.83Z" fill="#1d6b3a"/>
<path d="M240.33 648.05L241.88 650.84L238.78 650.84Z" fill="#b8b8b8"/>
<path d="M239.77 640.35L241.32 643.14L238.22 643.14Z" fill="#ffffff" stroke="#333" stroke-width="0.6"/>
<line x1="249.30" y1="574.30" x2="328.40" y2="574.30" stroke="#4a4a4a" stroke-width="1.5"/>
<text x="288.85" y="572.30" font-size="11.8" font-weight="bold" fill="#1a1a1a" text-anchor="middle">AD</text>
<text x="288.85" y="583.20" font-size="10.4" font-style="italic" fill="#333" text-anchor="middle">n = 3</text>
<rect x="249.76" y="627.33" width="5.67" height="35.67" fill="#dcb0b0" stroke="#c98c8c" stroke-width="0.8"/>
<line x1="252.60" y1="624.46" x2="252.60" y2="630.20" stroke="#b03a3a" stroke-width="0.8"/>
<line x1="251.18" y1="624.46" x2="254.01" y2="624.46" stroke="#b03a3a" stroke-width="0.8"/>
<line x1="251.18" y1="630.20" x2="254.01" y2="630.20" stroke="#b03a3a" stroke-width="0.8"/>
<circle cx="251.47" cy="633.03" r="1.35" fill="#8e1b1b"/>
<circle cx="251.73" cy="633.38" r="1.35" fill="#ffffff" stroke="#777" stroke-width="0.6"/>
<circle cx="251.58" cy="622.82" r="1.35" fill="#aaaaaa"/>
<rect x="256.35" y="625.28" width="5.67" height="37.72" fill="#dcb0b0" stroke="#c98c8c" stroke-width="0.8"/>
<line x1="259.19" y1="623.23" x2="259.19" y2="627.33" stroke="#b03a3a" stroke-width="0.8"/>
<line x1="257.77" y1="623.23" x2="260.60" y2="623.23" stroke="#b03a3a" stroke-width="0.8"/>
<line x1="257.77" y1="627.33" x2="260.60" y2="627.33" stroke="#b03a3a" stroke-width="0.8"/>
<circle cx="260.47" cy="614.50" r="1.35" fill="#8e1b1b"/>
<circle cx="258.37" cy="629.80" r="1.35" fill="#ffffff" stroke="#777" stroke-width="0.6"/>
<circle cx="258.55" cy="634.00" r="1.35" fill="#aaaaaa"/>
<rect x="262.94" y="621.50" width="5.67" height="41.50" fill="#dcb0b0" stroke="#c98c8c" stroke-width="0.8"/>
<line x1="265.78" y1="621.18" x2="265.78" y2="624.05" stroke="#b03a3a" stroke-width="0.8"/>
<line x1="264.36" y1="621.18" x2="267.20" y2="621.18" stroke="#b03a3a" stroke-width="0.8"/>
<line x1="264.36" y1="624.05" x2="267.20" y2="624.05" stroke="#b03a3a" stroke-width="0.8"/>
<circle cx="265.55" cy="626.35" r="1.35" fill="#8e1b1b"/>
<circle cx="264.15" cy="636.95" r="1.35" fill="#ffffff" stroke="#777" stroke-width="0.6"/>
<rect x="269.54" y="628.15" width="5.67" height="34.85" fill="#dcb0b0" stroke="#c98c8c" stroke-width="0.8"/>
<line x1="272.37" y1="626.10" x2="272.37" y2="630.20" stroke="#b03a3a" stroke-width="0.8"/>
<line x1="270.95" y1="626.10" x2="273.79" y2="626.10" stroke="#b03a3a" stroke-width="0.8"/>
<line x1="270.95" y1="630.20" x2="273.79" y2="630.20" stroke="#b03a3a" stroke-width="0.8"/>
<circle cx="273.77" cy="644.99" r="1.35" fill="#8e1b1b"/>
<circle cx="273.32" cy="622.82" r="1.35" fill="#aaaaaa"/>
<rect x="276.13" y="635.94" width="5.67" height="27.06" fill="#dcb0b0" stroke="#c98c8c" stroke-width="0.8"/>
<line x1="278.96" y1="633.89" x2="278.96" y2="637.99" stroke="#b03a3a" stroke-width="0.8"/>
<line x1="277.55" y1="633.89" x2="280.38" y2="633.89" stroke="#b03a3a" stroke-width="0.8"/>
<line x1="277.55" y1="637.99" x2="280.38" y2="637.99" stroke="#b03a3a" stroke-width="0.8"/>
<circle cx="280.66" cy="625.74" r="1.35" fill="#8e1b1b"/>
<circle cx="278.29" cy="642.36" r="1.35" fill="#ffffff" stroke="#777" stroke-width="0.6"/>
<circle cx="279.07" cy="647.60" r="1.35" fill="#aaaaaa"/>
<rect x="282.72" y="621.50" width="5.67" height="41.50" fill="#dcb0b0" stroke="#c98c8c" stroke-width="0.8"/>
<line x1="285.55" y1="621.18" x2="285.55" y2="624.05" stroke="#b03a3a" stroke-width="0.8"/>
<line x1="284.14" y1="621.18" x2="286.97" y2="621.18" stroke="#b03a3a" stroke-width="0.8"/>
<line x1="284.14" y1="624.05" x2="286.97" y2="624.05" stroke="#b03a3a" stroke-width="0.8"/>
<circle cx="285.19" cy="629.63" r="1.35" fill="#8e1b1b"/>
<circle cx="286.10" cy="622.82" r="1.35" fill="#ffffff" stroke="#777" stroke-width="0.6"/>
<rect x="289.31" y="641.27" width="5.67" height="21.73" fill="#dcb0b0" stroke="#c98c8c" stroke-width="0.8"/>
<line x1="292.15" y1="638.81" x2="292.15" y2="643.73" stroke="#b03a3a" stroke-width="0.8"/>
<line x1="290.73" y1="638.81" x2="293.56" y2="638.81" stroke="#b03a3a" stroke-width="0.8"/>
<line x1="290.73" y1="643.73" x2="293.56" y2="643.73" stroke="#b03a3a" stroke-width="0.8"/>
<circle cx="293.47" cy="638.06" r="1.35" fill="#8e1b1b"/>
<circle cx="290.46" cy="638.50" r="1.35" fill="#ffffff" stroke="#777" stroke-width="0.6"/>
<rect x="295.90" y="621.50" width="5.67" height="41.50" fill="#dcb0b0" stroke="#c98c8c" stroke-width="0.8"/>
<line x1="298.74" y1="621.18" x2="298.74" y2="624.05" stroke="#b03a3a" stroke-width="0.8"/>
<line x1="297.32" y1="621.18" x2="300.15" y2="621.18" stroke="#b03a3a" stroke-width="0.8"/>
<line x1="297.32" y1="624.05" x2="300.15" y2="624.05" stroke="#b03a3a" stroke-width="0.8"/>
<circle cx="300.42" cy="614.50" r="1.35" fill="#8e1b1b"/>
<circle cx="299.56" cy="623.08" r="1.35" fill="#ffffff" stroke="#777" stroke-width="0.6"/>
<circle cx="299.75" cy="640.04" r="1.35" fill="#aaaaaa"/>
<rect x="302.49" y="621.50" width="5.67" height="41.50" fill="#dcb0b0" stroke="#c98c8c" stroke-width="0.8"/>
<line x1="305.33" y1="621.18" x2="305.33" y2="624.05" stroke="#b03a3a" stroke-width="0.8"/>
<line x1="303.91" y1="621.18" x2="306.75" y2="621.18" stroke="#b03a3a" stroke-width="0.8"/>
<line x1="303.91" y1="624.05" x2="306.75" y2="624.05" stroke="#b03a3a" stroke-width="0.8"/>
<circle cx="306.23" cy="622.82" r="1.35" fill="#8e1b1b"/>
<circle cx="305.34" cy="629.27" r="1.35" fill="#ffffff" stroke="#777" stroke-width="0.6"/>
<circle cx="304.50" cy="630.40" r="1.35" fill="#aaaaaa"/>
<rect x="309.09" y="626.10" width="5.67" height="36.90" fill="#dcb0b0" stroke="#c98c8c" stroke-width="0.8"/>
<line x1="311.92" y1="624.05" x2="311.92" y2="628.15" stroke="#b03a3a" stroke-width="0.8"/>
<line x1="310.50" y1="624.05" x2="313.34" y2="624.05" stroke="#b03a3a" stroke-width="0.8"/>
<line x1="310.50" y1="628.15" x2="313.34" y2="628.15" stroke="#b03a3a" stroke-width="0.8"/>
<circle cx="311.58" cy="622.84" r="1.35" fill="#8e1b1b"/>
<circle cx="313.12" cy="629.54" r="1.35" fill="#aaaaaa"/>
<rect x="315.68" y="624.05" width="5.67" height="38.95" fill="#dcb0b0" stroke="#c98c8c" stroke-width="0.8"/>
<line x1="318.51" y1="621.18" x2="318.51" y2="627.33" stroke="#b03a3a" stroke-width="0.8"/>
<line x1="317.10" y1="621.18" x2="319.93" y2="621.18" stroke="#b03a3a" stroke-width="0.8"/>
<line x1="317.10" y1="627.33" x2="319.93" y2="627.33" stroke="#b03a3a" stroke-width="0.8"/>
<circle cx="320.21" cy="622.82" r="1.35" fill="#8e1b1b"/>
<circle cx="317.27" cy="614.50" r="1.35" fill="#ffffff" stroke="#777" stroke-width="0.6"/>
<circle cx="318.73" cy="622.82" r="1.35" fill="#aaaaaa"/>
<rect x="322.27" y="624.87" width="5.67" height="38.13" fill="#dcb0b0" stroke="#c98c8c" stroke-width="0.8"/>
<line x1="325.10" y1="622.00" x2="325.10" y2="627.74" stroke="#b03a3a" stroke-width="0.8"/>
<line x1="323.69" y1="622.00" x2="326.52" y2="622.00" stroke="#b03a3a" stroke-width="0.8"/>
<line x1="323.69" y1="627.74" x2="326.52" y2="627.74" stroke="#b03a3a" stroke-width="0.8"/>
<circle cx="326.07" cy="632.86" r="1.35" fill="#8e1b1b"/>
<circle cx="324.57" cy="622.82" r="1.35" fill="#ffffff" stroke="#777" stroke-width="0.6"/>
<circle cx="325.02" cy="622.39" r="1.35" fill="#aaaaaa"/>
<line x1="74.40" y1="615.30" x2="331.70" y2="615.30" stroke="#1a1a1a" stroke-width="1.0" stroke-dasharray="2.5,1.3"/>
<line x1="74.40" y1="622.00" x2="331.70" y2="622.00" stroke="#1a1a1a" stroke-width="1.0" stroke-dasharray="2.5,1.3"/>
<line x1="74.40" y1="574.00" x2="74.40" y2="616.20" stroke="#111" stroke-width="1.4"/>
<line x1="74.40" y1="621.00" x2="74.40" y2="663.00" stroke="#111" stroke-width="1.4"/>
<line x1="73.70" y1="663.00" x2="331.70" y2="663.00" stroke="#111" stroke-width="1.4"/>
<line x1="70.90" y1="574.00" x2="74.40" y2="574.00" stroke="#111" stroke-width="1.1"/>
<text x="69.90" y="576.60" font-size="7.4" font-weight="bold" fill="#222" text-anchor="end">30</text>
<line x1="70.90" y1="588.50" x2="74.40" y2="588.50" stroke="#111" stroke-width="1.1"/>
<text x="69.90" y="591.10" font-size="7.4" font-weight="bold" fill="#222" text-anchor="end">20</text>
<line x1="70.90" y1="602.60" x2="74.40" y2="602.60" stroke="#111" stroke-width="1.1"/>
<text x="69.90" y="605.20" font-size="7.4" font-weight="bold" fill="#222" text-anchor="end">10</text>
<line x1="70.90" y1="615.70" x2="74.40" y2="615.70" stroke="#111" stroke-width="1.1"/>
<line x1="70.90" y1="622.00" x2="74.40" y2="622.00" stroke="#111" stroke-width="1.1"/>
<text x="69.90" y="624.60" font-size="7.4" font-weight="bold" fill="#222" text-anchor="end">1.0</text>
<line x1="70.90" y1="642.50" x2="74.40" y2="642.50" stroke="#111" stroke-width="1.1"/>
<text x="69.90" y="645.10" font-size="7.4" font-weight="bold" fill="#222" text-anchor="end">0.5</text>
<line x1="70.90" y1="663.00" x2="74.40" y2="663.00" stroke="#111" stroke-width="1.1"/>
<text x="69.90" y="665.60" font-size="7.4" font-weight="bold" fill="#222" text-anchor="end">0.0</text>
<line x1="80.29" y1="663.00" x2="80.29" y2="667.20" stroke="#111" stroke-width="1.3"/>
<text x="82.19" y="670.40" font-size="5.6" font-weight="bold" fill="#000" text-anchor="end" transform="rotate(-45 82.19166666666668 670.4)">IL-6</text>
<line x1="86.88" y1="663.00" x2="86.88" y2="667.20" stroke="#111" stroke-width="1.3"/>
<text x="88.78" y="670.40" font-size="5.6" font-weight="bold" fill="#000" text-anchor="end" transform="rotate(-45 88.775 670.4)">IL-8</text>
<line x1="93.46" y1="663.00" x2="93.46" y2="667.20" stroke="#111" stroke-width="1.3"/>
<text x="95.36" y="670.40" font-size="5.6" font-weight="bold" fill="#000" text-anchor="end" transform="rotate(-45 95.35833333333333 670.4)">TNF-α</text>
<line x1="100.04" y1="663.00" x2="100.04" y2="667.20" stroke="#111" stroke-width="1.3"/>
<text x="101.94" y="670.40" font-size="5.6" font-weight="bold" fill="#000" text-anchor="end" transform="rotate(-45 101.94166666666666 670.4)">MCP-1</text>
<line x1="106.62" y1="663.00" x2="106.62" y2="667.20" stroke="#111" stroke-width="1.3"/>
<text x="108.53" y="670.40" font-size="5.6" font-weight="bold" fill="#000" text-anchor="end" transform="rotate(-45 108.525 670.4)">IL-1β</text>
<line x1="113.21" y1="663.00" x2="113.21" y2="667.20" stroke="#111" stroke-width="1.3"/>
<text x="115.11" y="670.40" font-size="5.6" font-weight="bold" fill="#000" text-anchor="end" transform="rotate(-45 115.10833333333333 670.4)">IL-18</text>
<line x1="119.79" y1="663.00" x2="119.79" y2="667.20" stroke="#111" stroke-width="1.3"/>
<text x="121.69" y="670.40" font-size="5.6" font-weight="bold" fill="#000" text-anchor="end" transform="rotate(-45 121.69166666666666 670.4)">IL-10</text>
<line x1="126.38" y1="663.00" x2="126.38" y2="667.20" stroke="#111" stroke-width="1.3"/>
<text x="128.28" y="670.40" font-size="5.6" font-weight="bold" fill="#000" text-anchor="end" transform="rotate(-45 128.275 670.4)">IFN-γ</text>
<line x1="132.96" y1="663.00" x2="132.96" y2="667.20" stroke="#111" stroke-width="1.3"/>
<text x="134.86" y="670.40" font-size="5.6" font-weight="bold" fill="#000" text-anchor="end" transform="rotate(-45 134.85833333333332 670.4)">IFN-α2</text>
<line x1="139.54" y1="663.00" x2="139.54" y2="667.20" stroke="#111" stroke-width="1.3"/>
<text x="141.44" y="670.40" font-size="5.6" font-weight="bold" fill="#000" text-anchor="end" transform="rotate(-45 141.44166666666666 670.4)">IL-33</text>
<line x1="146.12" y1="663.00" x2="146.12" y2="667.20" stroke="#111" stroke-width="1.3"/>
<text x="148.03" y="670.40" font-size="5.6" font-weight="bold" fill="#000" text-anchor="end" transform="rotate(-45 148.025 670.4)">IL-23</text>
<line x1="152.71" y1="663.00" x2="152.71" y2="667.20" stroke="#111" stroke-width="1.3"/>
<text x="154.61" y="670.40" font-size="5.6" font-weight="bold" fill="#000" text-anchor="end" transform="rotate(-45 154.60833333333332 670.4)">IL-12p70</text>
<line x1="166.60" y1="663.00" x2="166.60" y2="667.20" stroke="#111" stroke-width="1.3"/>
<text x="168.50" y="670.40" font-size="5.6" font-weight="bold" fill="#000" text-anchor="end" transform="rotate(-45 168.49583333333334 670.4)">IL-6</text>
<line x1="173.19" y1="663.00" x2="173.19" y2="667.20" stroke="#111" stroke-width="1.3"/>
<text x="175.09" y="670.40" font-size="5.6" font-weight="bold" fill="#000" text-anchor="end" transform="rotate(-45 175.0875 670.4)">IL-8</text>
<line x1="179.78" y1="663.00" x2="179.78" y2="667.20" stroke="#111" stroke-width="1.3"/>
<text x="181.68" y="670.40" font-size="5.6" font-weight="bold" fill="#000" text-anchor="end" transform="rotate(-45 181.67916666666667 670.4)">TNF-α</text>
<line x1="186.37" y1="663.00" x2="186.37" y2="667.20" stroke="#111" stroke-width="1.3"/>
<text x="188.27" y="670.40" font-size="5.6" font-weight="bold" fill="#000" text-anchor="end" transform="rotate(-45 188.27083333333334 670.4)">MCP-1</text>
<line x1="192.96" y1="663.00" x2="192.96" y2="667.20" stroke="#111" stroke-width="1.3"/>
<text x="194.86" y="670.40" font-size="5.6" font-weight="bold" fill="#000" text-anchor="end" transform="rotate(-45 194.8625 670.4)">IL-1β</text>
<line x1="199.55" y1="663.00" x2="199.55" y2="667.20" stroke="#111" stroke-width="1.3"/>
<text x="201.45" y="670.40" font-size="5.6" font-weight="bold" fill="#000" text-anchor="end" transform="rotate(-45 201.45416666666668 670.4)">IL-18</text>
<line x1="206.15" y1="663.00" x2="206.15" y2="667.20" stroke="#111" stroke-width="1.3"/>
<text x="208.05" y="670.40" font-size="5.6" font-weight="bold" fill="#000" text-anchor="end" transform="rotate(-45 208.04583333333335 670.4)">IL-10</text>
<line x1="212.74" y1="663.00" x2="212.74" y2="667.20" stroke="#111" stroke-width="1.3"/>
<text x="214.64" y="670.40" font-size="5.6" font-weight="bold" fill="#000" text-anchor="end" transform="rotate(-45 214.63750000000002 670.4)">IFN-γ</text>
<line x1="219.33" y1="663.00" x2="219.33" y2="667.20" stroke="#111" stroke-width="1.3"/>
<text x="221.23" y="670.40" font-size="5.6" font-weight="bold" fill="#000" text-anchor="end" transform="rotate(-45 221.22916666666669 670.4)">IFN-α2</text>
<line x1="225.92" y1="663.00" x2="225.92" y2="667.20" stroke="#111" stroke-width="1.3"/>
<text x="227.82" y="670.40" font-size="5.6" font-weight="bold" fill="#000" text-anchor="end" transform="rotate(-45 227.82083333333335 670.4)">IL-33</text>
<line x1="232.51" y1="663.00" x2="232.51" y2="667.20" stroke="#111" stroke-width="1.3"/>
<text x="234.41" y="670.40" font-size="5.6" font-weight="bold" fill="#000" text-anchor="end" transform="rotate(-45 234.4125 670.4)">IL-23</text>
<line x1="239.10" y1="663.00" x2="239.10" y2="667.20" stroke="#111" stroke-width="1.3"/>
<text x="241.00" y="670.40" font-size="5.6" font-weight="bold" fill="#000" text-anchor="end" transform="rotate(-45 241.0041666666667 670.4)">IL-12p70</text>
<line x1="252.60" y1="663.00" x2="252.60" y2="667.20" stroke="#111" stroke-width="1.3"/>
<text x="254.50" y="670.40" font-size="5.6" font-weight="bold" fill="#000" text-anchor="end" transform="rotate(-45 254.49583333333334 670.4)">IL-6</text>
<line x1="259.19" y1="663.00" x2="259.19" y2="667.20" stroke="#111" stroke-width="1.3"/>
<text x="261.09" y="670.40" font-size="5.6" font-weight="bold" fill="#000" text-anchor="end" transform="rotate(-45 261.0875 670.4)">IL-8</text>
<line x1="265.78" y1="663.00" x2="265.78" y2="667.20" stroke="#111" stroke-width="1.3"/>
<text x="267.68" y="670.40" font-size="5.6" font-weight="bold" fill="#000" text-anchor="end" transform="rotate(-45 267.6791666666667 670.4)">TNF-α</text>
<line x1="272.37" y1="663.00" x2="272.37" y2="667.20" stroke="#111" stroke-width="1.3"/>
<text x="274.27" y="670.40" font-size="5.6" font-weight="bold" fill="#000" text-anchor="end" transform="rotate(-45 274.2708333333333 670.4)">MCP-1</text>
<line x1="278.96" y1="663.00" x2="278.96" y2="667.20" stroke="#111" stroke-width="1.3"/>
<text x="280.86" y="670.40" font-size="5.6" font-weight="bold" fill="#000" text-anchor="end" transform="rotate(-45 280.86249999999995 670.4)">IL-1β</text>
<line x1="285.55" y1="663.00" x2="285.55" y2="667.20" stroke="#111" stroke-width="1.3"/>
<text x="287.45" y="670.40" font-size="5.6" font-weight="bold" fill="#000" text-anchor="end" transform="rotate(-45 287.45416666666665 670.4)">IL-18</text>
<line x1="292.15" y1="663.00" x2="292.15" y2="667.20" stroke="#111" stroke-width="1.3"/>
<text x="294.05" y="670.40" font-size="5.6" font-weight="bold" fill="#000" text-anchor="end" transform="rotate(-45 294.0458333333333 670.4)">IL-10</text>
<line x1="298.74" y1="663.00" x2="298.74" y2="667.20" stroke="#111" stroke-width="1.3"/>
<text x="300.64" y="670.40" font-size="5.6" font-weight="bold" fill="#000" text-anchor="end" transform="rotate(-45 300.6375 670.4)">IFN-γ</text>
<line x1="305.33" y1="663.00" x2="305.33" y2="667.20" stroke="#111" stroke-width="1.3"/>
<text x="307.23" y="670.40" font-size="5.6" font-weight="bold" fill="#000" text-anchor="end" transform="rotate(-45 307.22916666666663 670.4)">IFN-α2</text>
<line x1="311.92" y1="663.00" x2="311.92" y2="667.20" stroke="#111" stroke-width="1.3"/>
<text x="313.82" y="670.40" font-size="5.6" font-weight="bold" fill="#000" text-anchor="end" transform="rotate(-45 313.8208333333333 670.4)">IL-33</text>
<line x1="318.51" y1="663.00" x2="318.51" y2="667.20" stroke="#111" stroke-width="1.3"/>
<text x="320.41" y="670.40" font-size="5.6" font-weight="bold" fill="#000" text-anchor="end" transform="rotate(-45 320.41249999999997 670.4)">IL-23</text>
<line x1="325.10" y1="663.00" x2="325.10" y2="667.20" stroke="#111" stroke-width="1.3"/>
<text x="327.00" y="670.40" font-size="5.6" font-weight="bold" fill="#000" text-anchor="end" transform="rotate(-45 327.0041666666666 670.4)">IL-12p70</text>
<line x1="80.00" y1="718.00" x2="151.00" y2="718.00" stroke="#4a4a4a" stroke-width="1.5"/>
<text x="115.50" y="716.00" font-size="11.8" font-weight="bold" fill="#1a1a1a" text-anchor="middle">HC</text>
<text x="115.50" y="726.90" font-size="10.4" font-style="italic" fill="#333" text-anchor="middle">n = 6</text>
<rect x="80.71" y="768.61" width="8.72" height="40.09" fill="#c7dbf3" stroke="#a9c8ee" stroke-width="0.8"/>
<line x1="85.07" y1="765.66" x2="85.07" y2="783.38" stroke="#6d9fe0" stroke-width="0.8"/>
<line x1="82.89" y1="765.66" x2="87.25" y2="765.66" stroke="#6d9fe0" stroke-width="0.8"/>
<line x1="82.89" y1="783.38" x2="87.25" y2="783.38" stroke="#6d9fe0" stroke-width="0.8"/>
<rect x="82.90" y="792.32" width="3.30" height="3.30" fill="#242b7d"/>
<rect x="83.83" y="774.03" width="3.30" height="3.30" fill="#56c2ef"/>
<rect x="81.17" y="772.24" width="3.30" height="3.30" fill="#5a5db8"/>
<rect x="82.85" y="781.51" width="3.30" height="3.30" fill="#ffffff" stroke="#222" stroke-width="0.6"/>
<rect x="81.13" y="802.85" width="3.30" height="3.30" fill="#666666"/>
<rect x="90.85" y="768.61" width="8.72" height="40.09" fill="#c7dbf3" stroke="#a9c8ee" stroke-width="0.8"/>
<line x1="95.21" y1="765.66" x2="95.21" y2="785.49" stroke="#6d9fe0" stroke-width="0.8"/>
<line x1="93.03" y1="765.66" x2="97.39" y2="765.66" stroke="#6d9fe0" stroke-width="0.8"/>
<line x1="93.03" y1="785.49" x2="97.39" y2="785.49" stroke="#6d9fe0" stroke-width="0.8"/>
<rect x="92.93" y="755.35" width="3.30" height="3.30" fill="#56c2ef"/>
<rect x="95.60" y="774.42" width="3.30" height="3.30" fill="#5a5db8"/>
<rect x="92.21" y="757.55" width="3.30" height="3.30" fill="#9d9bd8"/>
<rect x="93.93" y="771.81" width="3.30" height="3.30" fill="#ffffff" stroke="#222" stroke-width="0.6"/>
<rect x="94.58" y="778.61" width="3.30" height="3.30" fill="#666666"/>
<rect x="101.00" y="774.94" width="8.72" height="33.76" fill="#c7dbf3" stroke="#a9c8ee" stroke-width="0.8"/>
<line x1="105.36" y1="765.66" x2="105.36" y2="785.49" stroke="#6d9fe0" stroke-width="0.8"/>
<line x1="103.18" y1="765.66" x2="107.54" y2="765.66" stroke="#6d9fe0" stroke-width="0.8"/>
<line x1="103.18" y1="785.49" x2="107.54" y2="785.49" stroke="#6d9fe0" stroke-width="0.8"/>
<rect x="103.16" y="765.69" width="3.30" height="3.30" fill="#242b7d"/>
<rect x="106.18" y="793.77" width="3.30" height="3.30" fill="#56c2ef"/>
<rect x="105.68" y="770.87" width="3.30" height="3.30" fill="#5a5db8"/>
<rect x="102.10" y="766.08" width="3.30" height="3.30" fill="#9d9bd8"/>
<rect x="101.84" y="756.09" width="3.30" height="3.30" fill="#ffffff" stroke="#222" stroke-width="0.6"/>
<rect x="101.24" y="788.40" width="3.30" height="3.30" fill="#666666"/>
<rect x="111.14" y="766.00" width="8.72" height="42.70" fill="#c7dbf3" stroke="#a9c8ee" stroke-width="0.8"/>
<rect x="111.14" y="756.10" width="8.72" height="4.30" fill="#c7dbf3" stroke="#a9c8ee" stroke-width="0.8"/>
<line x1="115.50" y1="749.33" x2="115.50" y2="756.10" stroke="#6d9fe0" stroke-width="0.8"/>
<line x1="113.32" y1="749.33" x2="117.68" y2="749.33" stroke="#6d9fe0" stroke-width="0.8"/>
<rect x="111.97" y="792.96" width="3.30" height="3.30" fill="#242b7d"/>
<rect x="113.68" y="775.56" width="3.30" height="3.30" fill="#56c2ef"/>
<rect x="111.87" y="734.64" width="3.30" height="3.30" fill="#5a5db8"/>
<rect x="112.81" y="806.21" width="3.30" height="3.30" fill="#9d9bd8"/>
<rect x="112.84" y="805.48" width="3.30" height="3.30" fill="#ffffff" stroke="#222" stroke-width="0.6"/>
<rect x="113.34" y="742.05" width="3.30" height="3.30" fill="#666666"/>
<rect x="121.28" y="766.00" width="8.72" height="42.70" fill="#c7dbf3" stroke="#a9c8ee" stroke-width="0.8"/>
<line x1="125.64" y1="765.66" x2="125.64" y2="774.94" stroke="#6d9fe0" stroke-width="0.8"/>
<line x1="123.46" y1="765.66" x2="127.82" y2="765.66" stroke="#6d9fe0" stroke-width="0.8"/>
<line x1="123.46" y1="774.94" x2="127.82" y2="774.94" stroke="#6d9fe0" stroke-width="0.8"/>
<rect x="121.75" y="765.69" width="3.30" height="3.30" fill="#242b7d"/>
<rect x="124.93" y="790.24" width="3.30" height="3.30" fill="#56c2ef"/>
<rect x="124.84" y="797.21" width="3.30" height="3.30" fill="#5a5db8"/>
<rect x="124.92" y="765.69" width="3.30" height="3.30" fill="#9d9bd8"/>
<rect x="122.70" y="765.69" width="3.30" height="3.30" fill="#ffffff" stroke="#222" stroke-width="0.6"/>
<rect x="131.42" y="766.00" width="8.72" height="42.70" fill="#c7dbf3" stroke="#a9c8ee" stroke-width="0.8"/>
<rect x="131.42" y="758.64" width="8.72" height="1.76" fill="#c7dbf3" stroke="#a9c8ee" stroke-width="0.8"/>
<line x1="135.79" y1="751.87" x2="135.79" y2="758.64" stroke="#6d9fe0" stroke-width="0.8"/>
<line x1="133.61" y1="751.87" x2="137.97" y2="751.87" stroke="#6d9fe0" stroke-width="0.8"/>
<rect x="134.91" y="743.78" width="3.30" height="3.30" fill="#56c2ef"/>
<rect x="132.44" y="739.22" width="3.30" height="3.30" fill="#5a5db8"/>
<rect x="134.24" y="754.75" width="3.30" height="3.30" fill="#9d9bd8"/>
<rect x="133.74" y="752.74" width="3.30" height="3.30" fill="#ffffff" stroke="#222" stroke-width="0.6"/>
<rect x="134.29" y="756.04" width="3.30" height="3.30" fill="#666666"/>
<rect x="141.57" y="766.00" width="8.72" height="42.70" fill="#c7dbf3" stroke="#a9c8ee" stroke-width="0.8"/>
<line x1="145.93" y1="765.66" x2="145.93" y2="774.94" stroke="#6d9fe0" stroke-width="0.8"/>
<line x1="143.75" y1="765.66" x2="148.11" y2="765.66" stroke="#6d9fe0" stroke-width="0.8"/>
<line x1="143.75" y1="774.94" x2="148.11" y2="774.94" stroke="#6d9fe0" stroke-width="0.8"/>
<rect x="145.57" y="780.75" width="3.30" height="3.30" fill="#242b7d"/>
<rect x="143.64" y="765.69" width="3.30" height="3.30" fill="#56c2ef"/>
<rect x="143.33" y="765.69" width="3.30" height="3.30" fill="#5a5db8"/>
<rect x="146.61" y="765.69" width="3.30" height="3.30" fill="#ffffff" stroke="#222" stroke-width="0.6"/>
<rect x="144.68" y="765.69" width="3.30" height="3.30" fill="#666666"/>
<line x1="161.50" y1="718.00" x2="233.00" y2="718.00" stroke="#4a4a4a" stroke-width="1.5"/>
<text x="197.25" y="716.00" font-size="11.8" font-weight="bold" fill="#1a1a1a" text-anchor="middle">MCI</text>
<text x="197.25" y="726.90" font-size="10.4" font-style="italic" fill="#333" text-anchor="middle">n = 3</text>
<rect x="162.22" y="766.00" width="8.78" height="42.70" fill="#abd7a3" stroke="#86c07c" stroke-width="0.8"/>
<rect x="162.22" y="754.41" width="8.78" height="5.99" fill="#abd7a3" stroke="#86c07c" stroke-width="0.8"/>
<line x1="166.61" y1="750.17" x2="166.61" y2="754.41" stroke="#3e7e3c" stroke-width="0.8"/>
<line x1="164.41" y1="750.17" x2="168.80" y2="750.17" stroke="#3e7e3c" stroke-width="0.8"/>
<path d="M164.55 769.29L166.45 772.71L162.66 772.71Z" fill="#1d6b3a"/>
<path d="M165.73 754.92L167.63 758.33L163.83 758.33Z" fill="#ffffff" stroke="#333" stroke-width="0.6"/>
<rect x="172.43" y="766.00" width="8.78" height="42.70" fill="#abd7a3" stroke="#86c07c" stroke-width="0.8"/>
<rect x="172.43" y="756.10" width="8.78" height="4.30" fill="#abd7a3" stroke="#86c07c" stroke-width="0.8"/>
<line x1="176.82" y1="753.56" x2="176.82" y2="756.10" stroke="#3e7e3c" stroke-width="0.8"/>
<line x1="174.63" y1="753.56" x2="179.02" y2="753.56" stroke="#3e7e3c" stroke-width="0.8"/>
<path d="M177.41 753.67L179.31 757.08L175.52 757.08Z" fill="#1d6b3a"/>
<path d="M177.50 756.60L179.40 760.02L175.61 760.02Z" fill="#b8b8b8"/>
<path d="M174.80 756.27L176.70 759.69L172.91 759.69Z" fill="#ffffff" stroke="#333" stroke-width="0.6"/>
<rect x="182.64" y="766.00" width="8.78" height="42.70" fill="#abd7a3" stroke="#86c07c" stroke-width="0.8"/>
<rect x="182.64" y="750.17" width="8.78" height="10.23" fill="#abd7a3" stroke="#86c07c" stroke-width="0.8"/>
<line x1="187.04" y1="743.40" x2="187.04" y2="750.17" stroke="#3e7e3c" stroke-width="0.8"/>
<line x1="184.84" y1="743.40" x2="189.23" y2="743.40" stroke="#3e7e3c" stroke-width="0.8"/>
<path d="M184.91 765.33L186.81 768.75L183.02 768.75Z" fill="#1d6b3a"/>
<path d="M185.55 803.36L187.45 806.77L183.65 806.77Z" fill="#b8b8b8"/>
<path d="M184.73 750.09L186.63 753.50L182.83 753.50Z" fill="#ffffff" stroke="#333" stroke-width="0.6"/>
<rect x="192.86" y="769.88" width="8.78" height="38.82" fill="#abd7a3" stroke="#86c07c" stroke-width="0.8"/>
<line x1="197.25" y1="765.66" x2="197.25" y2="786.76" stroke="#3e7e3c" stroke-width="0.8"/>
<line x1="195.05" y1="765.66" x2="199.45" y2="765.66" stroke="#3e7e3c" stroke-width="0.8"/>
<line x1="195.05" y1="786.76" x2="199.45" y2="786.76" stroke="#3e7e3c" stroke-width="0.8"/>
<path d="M196.73 765.45L198.63 768.86L194.83 768.86Z" fill="#1d6b3a"/>
<path d="M198.41 775.39L200.31 778.80L196.51 778.80Z" fill="#b8b8b8"/>
<path d="M198.32 765.45L200.22 768.86L196.42 768.86Z" fill="#ffffff" stroke="#333" stroke-width="0.6"/>
<rect x="203.07" y="766.00" width="8.78" height="42.70" fill="#abd7a3" stroke="#86c07c" stroke-width="0.8"/>
<line x1="207.46" y1="765.66" x2="207.46" y2="770.72" stroke="#3e7e3c" stroke-width="0.8"/>
<line x1="205.27" y1="765.66" x2="209.66" y2="765.66" stroke="#3e7e3c" stroke-width="0.8"/>
<line x1="205.27" y1="770.72" x2="209.66" y2="770.72" stroke="#3e7e3c" stroke-width="0.8"/>
<path d="M205.95 765.45L207.85 768.86L204.05 768.86Z" fill="#1d6b3a"/>
<rect x="213.29" y="784.22" width="8.78" height="24.48" fill="#abd7a3" stroke="#86c07c" stroke-width="0.8"/>
<line x1="217.68" y1="780.00" x2="217.68" y2="788.44" stroke="#3e7e3c" stroke-width="0.8"/>
<line x1="215.48" y1="780.00" x2="219.87" y2="780.00" stroke="#3e7e3c" stroke-width="0.8"/>
<line x1="215.48" y1="788.44" x2="219.87" y2="788.44" stroke="#3e7e3c" stroke-width="0.8"/>
<path d="M218.59 778.81L220.48 782.23L216.69 782.23Z" fill="#1d6b3a"/>
<path d="M215.55 767.85L217.45 771.27L213.66 771.27Z" fill="#b8b8b8"/>
<path d="M219.39 787.59L221.29 791.01L217.49 791.01Z" fill="#ffffff" stroke="#333" stroke-width="0.6"/>
<rect x="223.50" y="766.00" width="8.78" height="42.70" fill="#abd7a3" stroke="#86c07c" stroke-width="0.8"/>
<rect x="223.50" y="757.79" width="8.78" height="2.61" fill="#abd7a3" stroke="#86c07c" stroke-width="0.8"/>
<line x1="227.89" y1="755.25" x2="227.89" y2="757.79" stroke="#3e7e3c" stroke-width="0.8"/>
<line x1="225.70" y1="755.25" x2="230.09" y2="755.25" stroke="#3e7e3c" stroke-width="0.8"/>
<path d="M225.86 754.25L227.76 757.67L223.96 757.67Z" fill="#1d6b3a"/>
<path d="M225.94 753.78L227.84 757.20L224.04 757.20Z" fill="#b8b8b8"/>
<path d="M228.35 754.21L230.25 757.63L226.45 757.63Z" fill="#ffffff" stroke="#333" stroke-width="0.6"/>
<line x1="243.80" y1="718.00" x2="315.00" y2="718.00" stroke="#4a4a4a" stroke-width="1.5"/>
<text x="279.40" y="716.00" font-size="11.8" font-weight="bold" fill="#1a1a1a" text-anchor="middle">AD</text>
<text x="279.40" y="726.90" font-size="10.4" font-style="italic" fill="#333" text-anchor="middle">n = 3</text>
<rect x="244.51" y="766.00" width="8.75" height="42.70" fill="#dcb0b0" stroke="#c98c8c" stroke-width="0.8"/>
<rect x="244.51" y="750.17" width="8.75" height="10.23" fill="#dcb0b0" stroke="#c98c8c" stroke-width="0.8"/>
<line x1="248.89" y1="745.94" x2="248.89" y2="750.17" stroke="#b03a3a" stroke-width="0.8"/>
<line x1="246.70" y1="745.94" x2="251.07" y2="745.94" stroke="#b03a3a" stroke-width="0.8"/>
<circle cx="249.25" cy="751.24" r="1.65" fill="#8e1b1b"/>
<circle cx="250.92" cy="754.09" r="1.65" fill="#ffffff" stroke="#777" stroke-width="0.6"/>
<circle cx="247.05" cy="746.36" r="1.65" fill="#aaaaaa"/>
<rect x="254.68" y="766.00" width="8.75" height="42.70" fill="#dcb0b0" stroke="#c98c8c" stroke-width="0.8"/>
<rect x="254.68" y="754.41" width="8.75" height="5.99" fill="#dcb0b0" stroke="#c98c8c" stroke-width="0.8"/>
<line x1="259.06" y1="745.94" x2="259.06" y2="754.41" stroke="#b03a3a" stroke-width="0.8"/>
<line x1="256.87" y1="745.94" x2="261.24" y2="745.94" stroke="#b03a3a" stroke-width="0.8"/>
<circle cx="260.15" cy="753.71" r="1.65" fill="#8e1b1b"/>
<circle cx="258.19" cy="807.86" r="1.65" fill="#aaaaaa"/>
<rect x="264.85" y="766.00" width="8.75" height="42.70" fill="#dcb0b0" stroke="#c98c8c" stroke-width="0.8"/>
<rect x="264.85" y="751.87" width="8.75" height="8.53" fill="#dcb0b0" stroke="#c98c8c" stroke-width="0.8"/>
<line x1="269.23" y1="746.79" x2="269.23" y2="751.87" stroke="#b03a3a" stroke-width="0.8"/>
<line x1="267.04" y1="746.79" x2="271.42" y2="746.79" stroke="#b03a3a" stroke-width="0.8"/>
<circle cx="268.33" cy="754.51" r="1.65" fill="#8e1b1b"/>
<circle cx="268.71" cy="757.92" r="1.65" fill="#ffffff" stroke="#777" stroke-width="0.6"/>
<rect x="275.03" y="766.00" width="8.75" height="42.70" fill="#dcb0b0" stroke="#c98c8c" stroke-width="0.8"/>
<rect x="275.03" y="755.25" width="8.75" height="5.15" fill="#dcb0b0" stroke="#c98c8c" stroke-width="0.8"/>
<line x1="279.40" y1="747.63" x2="279.40" y2="755.25" stroke="#b03a3a" stroke-width="0.8"/>
<line x1="277.21" y1="747.63" x2="281.59" y2="747.63" stroke="#b03a3a" stroke-width="0.8"/>
<circle cx="279.15" cy="754.34" r="1.65" fill="#8e1b1b"/>
<circle cx="281.57" cy="795.96" r="1.65" fill="#ffffff" stroke="#777" stroke-width="0.6"/>
<circle cx="279.80" cy="758.82" r="1.65" fill="#aaaaaa"/>
<rect x="285.20" y="766.00" width="8.75" height="42.70" fill="#dcb0b0" stroke="#c98c8c" stroke-width="0.8"/>
<rect x="285.20" y="747.63" width="8.75" height="12.77" fill="#dcb0b0" stroke="#c98c8c" stroke-width="0.8"/>
<line x1="289.57" y1="737.47" x2="289.57" y2="747.63" stroke="#b03a3a" stroke-width="0.8"/>
<line x1="287.38" y1="737.47" x2="291.76" y2="737.47" stroke="#b03a3a" stroke-width="0.8"/>
<circle cx="288.03" cy="767.25" r="1.65" fill="#8e1b1b"/>
<circle cx="288.07" cy="740.04" r="1.65" fill="#ffffff" stroke="#777" stroke-width="0.6"/>
<circle cx="289.12" cy="738.01" r="1.65" fill="#aaaaaa"/>
<rect x="295.37" y="766.00" width="8.75" height="42.70" fill="#dcb0b0" stroke="#c98c8c" stroke-width="0.8"/>
<rect x="295.37" y="746.79" width="8.75" height="13.61" fill="#dcb0b0" stroke="#c98c8c" stroke-width="0.8"/>
<line x1="299.74" y1="734.93" x2="299.74" y2="746.79" stroke="#b03a3a" stroke-width="0.8"/>
<line x1="297.56" y1="734.93" x2="301.93" y2="734.93" stroke="#b03a3a" stroke-width="0.8"/>
<circle cx="297.80" cy="807.86" r="1.65" fill="#8e1b1b"/>
<circle cx="299.82" cy="720.00" r="1.65" fill="#ffffff" stroke="#777" stroke-width="0.6"/>
<circle cx="298.91" cy="757.19" r="1.65" fill="#aaaaaa"/>
<rect x="305.54" y="766.00" width="8.75" height="42.70" fill="#dcb0b0" stroke="#c98c8c" stroke-width="0.8"/>
<rect x="305.54" y="750.17" width="8.75" height="10.23" fill="#dcb0b0" stroke="#c98c8c" stroke-width="0.8"/>
<line x1="309.91" y1="739.17" x2="309.91" y2="750.17" stroke="#b03a3a" stroke-width="0.8"/>
<line x1="307.73" y1="739.17" x2="312.10" y2="739.17" stroke="#b03a3a" stroke-width="0.8"/>
<circle cx="309.44" cy="749.76" r="1.65" fill="#8e1b1b"/>
<circle cx="310.79" cy="759.20" r="1.65" fill="#aaaaaa"/>
<line x1="75.70" y1="760.00" x2="317.80" y2="760.00" stroke="#1a1a1a" stroke-width="1.0" stroke-dasharray="2.5,1.3"/>
<line x1="75.70" y1="766.50" x2="317.80" y2="766.50" stroke="#1a1a1a" stroke-width="1.0" stroke-dasharray="2.5,1.3"/>
<line x1="75.70" y1="718.00" x2="75.70" y2="760.90" stroke="#111" stroke-width="1.4"/>
<line x1="75.70" y1="765.50" x2="75.70" y2="808.70" stroke="#111" stroke-width="1.4"/>
<line x1="75.00" y1="808.70" x2="317.80" y2="808.70" stroke="#111" stroke-width="1.4"/>
<line x1="72.20" y1="718.00" x2="75.70" y2="718.00" stroke="#111" stroke-width="1.1"/>
<text x="71.20" y="720.60" font-size="7.4" font-weight="bold" fill="#222" text-anchor="end">6</text>
<line x1="72.20" y1="743.40" x2="75.70" y2="743.40" stroke="#111" stroke-width="1.1"/>
<text x="71.20" y="746.00" font-size="7.4" font-weight="bold" fill="#222" text-anchor="end">3</text>
<line x1="72.20" y1="760.40" x2="75.70" y2="760.40" stroke="#111" stroke-width="1.1"/>
<line x1="72.20" y1="766.50" x2="75.70" y2="766.50" stroke="#111" stroke-width="1.1"/>
<text x="71.20" y="769.10" font-size="7.4" font-weight="bold" fill="#222" text-anchor="end">1.0</text>
<line x1="72.20" y1="787.60" x2="75.70" y2="787.60" stroke="#111" stroke-width="1.1"/>
<text x="71.20" y="790.20" font-size="7.4" font-weight="bold" fill="#222" text-anchor="end">0.5</text>
<line x1="72.20" y1="808.70" x2="75.70" y2="808.70" stroke="#111" stroke-width="1.1"/>
<text x="71.20" y="811.30" font-size="7.4" font-weight="bold" fill="#222" text-anchor="end">0.0</text>
<line x1="85.07" y1="808.70" x2="85.07" y2="812.90" stroke="#111" stroke-width="1.3"/>
<text x="87.67" y="818.30" font-size="7.7" font-weight="bold" font-style="italic" fill="#000" text-anchor="end" transform="rotate(-45 87.67142857142856 818.3000000000001)">IL-6</text>
<line x1="95.21" y1="808.70" x2="95.21" y2="812.90" stroke="#111" stroke-width="1.3"/>
<text x="97.81" y="818.30" font-size="7.7" font-weight="bold" font-style="italic" fill="#000" text-anchor="end" transform="rotate(-45 97.8142857142857 818.3000000000001)">IL-8</text>
<line x1="105.36" y1="808.70" x2="105.36" y2="812.90" stroke="#111" stroke-width="1.3"/>
<text x="107.96" y="818.30" font-size="7.7" font-weight="bold" font-style="italic" fill="#000" text-anchor="end" transform="rotate(-45 107.95714285714286 818.3000000000001)">TNF-α</text>
<line x1="115.50" y1="808.70" x2="115.50" y2="812.90" stroke="#111" stroke-width="1.3"/>
<text x="118.10" y="818.30" font-size="7.7" font-weight="bold" font-style="italic" fill="#000" text-anchor="end" transform="rotate(-45 118.1 818.3000000000001)">IL-10</text>
<line x1="125.64" y1="808.70" x2="125.64" y2="812.90" stroke="#111" stroke-width="1.3"/>
<text x="128.24" y="818.30" font-size="7.7" font-weight="bold" font-style="italic" fill="#000" text-anchor="end" transform="rotate(-45 128.24285714285713 818.3000000000001)">TGF-β</text>
<line x1="135.79" y1="808.70" x2="135.79" y2="812.90" stroke="#111" stroke-width="1.3"/>
<text x="138.39" y="818.30" font-size="7.7" font-weight="bold" font-style="italic" fill="#000" text-anchor="end" transform="rotate(-45 138.38571428571427 818.3000000000001)">IL-1β</text>
<line x1="145.93" y1="808.70" x2="145.93" y2="812.90" stroke="#111" stroke-width="1.3"/>
<text x="148.53" y="818.30" font-size="7.7" font-weight="bold" font-style="italic" fill="#000" text-anchor="end" transform="rotate(-45 148.52857142857144 818.3000000000001)">IL-18</text>
<line x1="166.61" y1="808.70" x2="166.61" y2="812.90" stroke="#111" stroke-width="1.3"/>
<text x="169.21" y="818.30" font-size="7.7" font-weight="bold" font-style="italic" fill="#000" text-anchor="end" transform="rotate(-45 169.20714285714286 818.3000000000001)">IL-6</text>
<line x1="176.82" y1="808.70" x2="176.82" y2="812.90" stroke="#111" stroke-width="1.3"/>
<text x="179.42" y="818.30" font-size="7.7" font-weight="bold" font-style="italic" fill="#000" text-anchor="end" transform="rotate(-45 179.42142857142855 818.3000000000001)">IL-8</text>
<line x1="187.04" y1="808.70" x2="187.04" y2="812.90" stroke="#111" stroke-width="1.3"/>
<text x="189.64" y="818.30" font-size="7.7" font-weight="bold" font-style="italic" fill="#000" text-anchor="end" transform="rotate(-45 189.63571428571427 818.3000000000001)">TNF-α</text>
<line x1="197.25" y1="808.70" x2="197.25" y2="812.90" stroke="#111" stroke-width="1.3"/>
<text x="199.85" y="818.30" font-size="7.7" font-weight="bold" font-style="italic" fill="#000" text-anchor="end" transform="rotate(-45 199.85 818.3000000000001)">IL-10</text>
<line x1="207.46" y1="808.70" x2="207.46" y2="812.90" stroke="#111" stroke-width="1.3"/>
<text x="210.06" y="818.30" font-size="7.7" font-weight="bold" font-style="italic" fill="#000" text-anchor="end" transform="rotate(-45 210.06428571428572 818.3000000000001)">TGF-β</text>
<line x1="217.68" y1="808.70" x2="217.68" y2="812.90" stroke="#111" stroke-width="1.3"/>
<text x="220.28" y="818.30" font-size="7.7" font-weight="bold" font-style="italic" fill="#000" text-anchor="end" transform="rotate(-45 220.2785714285714 818.3000000000001)">IL-1β</text>
<line x1="227.89" y1="808.70" x2="227.89" y2="812.90" stroke="#111" stroke-width="1.3"/>
<text x="230.49" y="818.30" font-size="7.7" font-weight="bold" font-style="italic" fill="#000" text-anchor="end" transform="rotate(-45 230.49285714285713 818.3000000000001)">IL-18</text>
<line x1="248.89" y1="808.70" x2="248.89" y2="812.90" stroke="#111" stroke-width="1.3"/>
<text x="251.49" y="818.30" font-size="7.7" font-weight="bold" font-style="italic" fill="#000" text-anchor="end" transform="rotate(-45 251.4857142857143 818.3000000000001)">IL-6</text>
<line x1="259.06" y1="808.70" x2="259.06" y2="812.90" stroke="#111" stroke-width="1.3"/>
<text x="261.66" y="818.30" font-size="7.7" font-weight="bold" font-style="italic" fill="#000" text-anchor="end" transform="rotate(-45 261.6571428571429 818.3000000000001)">IL-8</text>
<line x1="269.23" y1="808.70" x2="269.23" y2="812.90" stroke="#111" stroke-width="1.3"/>
<text x="271.83" y="818.30" font-size="7.7" font-weight="bold" font-style="italic" fill="#000" text-anchor="end" transform="rotate(-45 271.8285714285715 818.3000000000001)">TNF-α</text>
<line x1="279.40" y1="808.70" x2="279.40" y2="812.90" stroke="#111" stroke-width="1.3"/>
<text x="282.00" y="818.30" font-size="7.7" font-weight="bold" font-style="italic" fill="#000" text-anchor="end" transform="rotate(-45 282.0 818.3000000000001)">IL-10</text>
<line x1="289.57" y1="808.70" x2="289.57" y2="812.90" stroke="#111" stroke-width="1.3"/>
<text x="292.17" y="818.30" font-size="7.7" font-weight="bold" font-style="italic" fill="#000" text-anchor="end" transform="rotate(-45 292.1714285714286 818.3000000000001)">TGF-β</text>
<line x1="299.74" y1="808.70" x2="299.74" y2="812.90" stroke="#111" stroke-width="1.3"/>
<text x="302.34" y="818.30" font-size="7.7" font-weight="bold" font-style="italic" fill="#000" text-anchor="end" transform="rotate(-45 302.34285714285716 818.3000000000001)">IL-1β</text>
<line x1="309.91" y1="808.70" x2="309.91" y2="812.90" stroke="#111" stroke-width="1.3"/>
<text x="312.51" y="818.30" font-size="7.7" font-weight="bold" font-style="italic" fill="#000" text-anchor="end" transform="rotate(-45 312.51428571428573 818.3000000000001)">IL-18</text>
<line x1="77.40" y1="854.00" x2="155.80" y2="854.00" stroke="#4a4a4a" stroke-width="1.5"/>
<text x="116.60" y="852.00" font-size="11.8" font-weight="bold" fill="#1a1a1a" text-anchor="middle">HC</text>
<text x="116.60" y="862.90" font-size="10.4" font-style="italic" fill="#333" text-anchor="middle">n = 6</text>
<rect x="77.86" y="900.70" width="5.62" height="41.50" fill="#c7dbf3" stroke="#a9c8ee" stroke-width="0.8"/>
<line x1="80.67" y1="900.38" x2="80.67" y2="903.25" stroke="#6d9fe0" stroke-width="0.8"/>
<line x1="79.26" y1="900.38" x2="82.07" y2="900.38" stroke="#6d9fe0" stroke-width="0.8"/>
<line x1="79.26" y1="903.25" x2="82.07" y2="903.25" stroke="#6d9fe0" stroke-width="0.8"/>
<rect x="77.95" y="900.67" width="2.70" height="2.70" fill="#242b7d"/>
<rect x="80.14" y="900.67" width="2.70" height="2.70" fill="#56c2ef"/>
<rect x="78.48" y="900.67" width="2.70" height="2.70" fill="#5a5db8"/>
<rect x="78.46" y="905.19" width="2.70" height="2.70" fill="#9d9bd8"/>
<rect x="78.74" y="900.81" width="2.70" height="2.70" fill="#ffffff" stroke="#222" stroke-width="0.6"/>
<rect x="80.07" y="902.97" width="2.70" height="2.70" fill="#666666"/>
<rect x="84.39" y="900.70" width="5.62" height="41.50" fill="#c7dbf3" stroke="#a9c8ee" stroke-width="0.8"/>
<line x1="87.20" y1="900.38" x2="87.20" y2="903.25" stroke="#6d9fe0" stroke-width="0.8"/>
<line x1="85.80" y1="900.38" x2="88.60" y2="900.38" stroke="#6d9fe0" stroke-width="0.8"/>
<line x1="85.80" y1="903.25" x2="88.60" y2="903.25" stroke="#6d9fe0" stroke-width="0.8"/>
<rect x="85.75" y="891.97" width="2.70" height="2.70" fill="#242b7d"/>
<rect x="87.06" y="908.62" width="2.70" height="2.70" fill="#56c2ef"/>
<rect x="87.33" y="893.15" width="2.70" height="2.70" fill="#5a5db8"/>
<rect x="85.18" y="900.10" width="2.70" height="2.70" fill="#9d9bd8"/>
<rect x="85.82" y="900.67" width="2.70" height="2.70" fill="#666666"/>
<rect x="90.92" y="900.70" width="5.62" height="41.50" fill="#c7dbf3" stroke="#a9c8ee" stroke-width="0.8"/>
<line x1="93.73" y1="900.38" x2="93.73" y2="903.25" stroke="#6d9fe0" stroke-width="0.8"/>
<line x1="92.33" y1="900.38" x2="95.14" y2="900.38" stroke="#6d9fe0" stroke-width="0.8"/>
<line x1="92.33" y1="903.25" x2="95.14" y2="903.25" stroke="#6d9fe0" stroke-width="0.8"/>
<rect x="91.38" y="900.67" width="2.70" height="2.70" fill="#242b7d"/>
<rect x="93.41" y="900.67" width="2.70" height="2.70" fill="#56c2ef"/>
<rect x="92.12" y="892.32" width="2.70" height="2.70" fill="#5a5db8"/>
<rect x="92.66" y="892.49" width="2.70" height="2.70" fill="#9d9bd8"/>
<rect x="91.03" y="900.67" width="2.70" height="2.70" fill="#ffffff" stroke="#222" stroke-width="0.6"/>
<rect x="94.02" y="900.67" width="2.70" height="2.70" fill="#666666"/>
<rect x="97.46" y="900.70" width="5.62" height="41.50" fill="#c7dbf3" stroke="#a9c8ee" stroke-width="0.8"/>
<line x1="100.27" y1="900.38" x2="100.27" y2="903.25" stroke="#6d9fe0" stroke-width="0.8"/>
<line x1="98.86" y1="900.38" x2="101.67" y2="900.38" stroke="#6d9fe0" stroke-width="0.8"/>
<line x1="98.86" y1="903.25" x2="101.67" y2="903.25" stroke="#6d9fe0" stroke-width="0.8"/>
<rect x="98.92" y="904.26" width="2.70" height="2.70" fill="#242b7d"/>
<rect x="98.32" y="904.97" width="2.70" height="2.70" fill="#5a5db8"/>
<rect x="100.19" y="917.89" width="2.70" height="2.70" fill="#9d9bd8"/>
<rect x="98.17" y="900.67" width="2.70" height="2.70" fill="#ffffff" stroke="#222" stroke-width="0.6"/>
<rect x="98.05" y="914.00" width="2.70" height="2.70" fill="#666666"/>
<rect x="103.99" y="900.70" width="5.62" height="41.50" fill="#c7dbf3" stroke="#a9c8ee" stroke-width="0.8"/>
<line x1="106.80" y1="900.38" x2="106.80" y2="903.25" stroke="#6d9fe0" stroke-width="0.8"/>
<line x1="105.40" y1="900.38" x2="108.20" y2="900.38" stroke="#6d9fe0" stroke-width="0.8"/>
<line x1="105.40" y1="903.25" x2="108.20" y2="903.25" stroke="#6d9fe0" stroke-width="0.8"/>
<rect x="107.08" y="892.32" width="2.70" height="2.70" fill="#242b7d"/>
<rect x="106.17" y="900.67" width="2.70" height="2.70" fill="#56c2ef"/>
<rect x="106.02" y="900.67" width="2.70" height="2.70" fill="#5a5db8"/>
<rect x="107.02" y="904.24" width="2.70" height="2.70" fill="#9d9bd8"/>
<rect x="104.95" y="900.67" width="2.70" height="2.70" fill="#ffffff" stroke="#222" stroke-width="0.6"/>
<rect x="106.45" y="901.16" width="2.70" height="2.70" fill="#666666"/>
<rect x="110.52" y="900.70" width="5.62" height="41.50" fill="#c7dbf3" stroke="#a9c8ee" stroke-width="0.8"/>
<line x1="113.33" y1="900.38" x2="113.33" y2="903.25" stroke="#6d9fe0" stroke-width="0.8"/>
<line x1="111.93" y1="900.38" x2="114.74" y2="900.38" stroke="#6d9fe0" stroke-width="0.8"/>
<line x1="111.93" y1="903.25" x2="114.74" y2="903.25" stroke="#6d9fe0" stroke-width="0.8"/>
<rect x="111.42" y="907.00" width="2.70" height="2.70" fill="#242b7d"/>
<rect x="110.83" y="904.23" width="2.70" height="2.70" fill="#56c2ef"/>
<rect x="113.66" y="907.17" width="2.70" height="2.70" fill="#5a5db8"/>
<rect x="113.18" y="909.24" width="2.70" height="2.70" fill="#9d9bd8"/>
<rect x="112.15" y="908.37" width="2.70" height="2.70" fill="#ffffff" stroke="#222" stroke-width="0.6"/>
<rect x="111.16" y="900.67" width="2.70" height="2.70" fill="#666666"/>
<rect x="117.06" y="900.70" width="5.62" height="41.50" fill="#c7dbf3" stroke="#a9c8ee" stroke-width="0.8"/>
<line x1="119.87" y1="900.38" x2="119.87" y2="903.25" stroke="#6d9fe0" stroke-width="0.8"/>
<line x1="118.46" y1="900.38" x2="121.27" y2="900.38" stroke="#6d9fe0" stroke-width="0.8"/>
<line x1="118.46" y1="903.25" x2="121.27" y2="903.25" stroke="#6d9fe0" stroke-width="0.8"/>
<rect x="120.03" y="893.15" width="2.70" height="2.70" fill="#242b7d"/>
<rect x="117.28" y="912.78" width="2.70" height="2.70" fill="#56c2ef"/>
<rect x="118.26" y="892.89" width="2.70" height="2.70" fill="#5a5db8"/>
<rect x="119.67" y="900.67" width="2.70" height="2.70" fill="#ffffff" stroke="#222" stroke-width="0.6"/>
<rect x="118.67" y="900.67" width="2.70" height="2.70" fill="#666666"/>
<rect x="123.59" y="906.12" width="5.62" height="36.08" fill="#c7dbf3" stroke="#a9c8ee" stroke-width="0.8"/>
<line x1="126.40" y1="902.02" x2="126.40" y2="910.22" stroke="#6d9fe0" stroke-width="0.8"/>
<line x1="125.00" y1="902.02" x2="127.80" y2="902.02" stroke="#6d9fe0" stroke-width="0.8"/>
<line x1="125.00" y1="910.22" x2="127.80" y2="910.22" stroke="#6d9fe0" stroke-width="0.8"/>
<rect x="124.09" y="900.67" width="2.70" height="2.70" fill="#242b7d"/>
<rect x="125.11" y="900.67" width="2.70" height="2.70" fill="#56c2ef"/>
<rect x="123.88" y="901.70" width="2.70" height="2.70" fill="#5a5db8"/>
<rect x="124.87" y="907.60" width="2.70" height="2.70" fill="#9d9bd8"/>
<rect x="124.66" y="912.30" width="2.70" height="2.70" fill="#666666"/>
<rect x="130.12" y="900.70" width="5.62" height="41.50" fill="#c7dbf3" stroke="#a9c8ee" stroke-width="0.8"/>
<line x1="132.93" y1="900.38" x2="132.93" y2="903.25" stroke="#6d9fe0" stroke-width="0.8"/>
<line x1="131.53" y1="900.38" x2="134.34" y2="900.38" stroke="#6d9fe0" stroke-width="0.8"/>
<line x1="131.53" y1="903.25" x2="134.34" y2="903.25" stroke="#6d9fe0" stroke-width="0.8"/>
<rect x="130.77" y="917.89" width="2.70" height="2.70" fill="#242b7d"/>
<rect x="131.64" y="907.26" width="2.70" height="2.70" fill="#56c2ef"/>
<rect x="131.03" y="908.29" width="2.70" height="2.70" fill="#5a5db8"/>
<rect x="130.62" y="900.67" width="2.70" height="2.70" fill="#9d9bd8"/>
<rect x="131.66" y="900.67" width="2.70" height="2.70" fill="#ffffff" stroke="#222" stroke-width="0.6"/>
<rect x="132.97" y="892.20" width="2.70" height="2.70" fill="#666666"/>
<rect x="136.66" y="900.70" width="5.62" height="41.50" fill="#c7dbf3" stroke="#a9c8ee" stroke-width="0.8"/>
<line x1="139.47" y1="900.38" x2="139.47" y2="903.25" stroke="#6d9fe0" stroke-width="0.8"/>
<line x1="138.06" y1="900.38" x2="140.87" y2="900.38" stroke="#6d9fe0" stroke-width="0.8"/>
<line x1="138.06" y1="903.25" x2="140.87" y2="903.25" stroke="#6d9fe0" stroke-width="0.8"/>
<rect x="139.54" y="900.67" width="2.70" height="2.70" fill="#242b7d"/>
<rect x="138.16" y="907.19" width="2.70" height="2.70" fill="#56c2ef"/>
<rect x="139.16" y="900.67" width="2.70" height="2.70" fill="#5a5db8"/>
<rect x="137.82" y="906.04" width="2.70" height="2.70" fill="#9d9bd8"/>
<rect x="136.78" y="893.15" width="2.70" height="2.70" fill="#ffffff" stroke="#222" stroke-width="0.6"/>
<rect x="136.91" y="900.67" width="2.70" height="2.70" fill="#666666"/>
<rect x="143.19" y="902.02" width="5.62" height="40.18" fill="#c7dbf3" stroke="#a9c8ee" stroke-width="0.8"/>
<line x1="146.00" y1="900.38" x2="146.00" y2="904.07" stroke="#6d9fe0" stroke-width="0.8"/>
<line x1="144.60" y1="900.38" x2="147.40" y2="900.38" stroke="#6d9fe0" stroke-width="0.8"/>
<line x1="144.60" y1="904.07" x2="147.40" y2="904.07" stroke="#6d9fe0" stroke-width="0.8"/>
<rect x="143.54" y="900.67" width="2.70" height="2.70" fill="#56c2ef"/>
<rect x="143.09" y="906.12" width="2.70" height="2.70" fill="#5a5db8"/>
<rect x="144.88" y="893.15" width="2.70" height="2.70" fill="#9d9bd8"/>
<rect x="145.73" y="900.67" width="2.70" height="2.70" fill="#ffffff" stroke="#222" stroke-width="0.6"/>
<rect x="143.80" y="905.00" width="2.70" height="2.70" fill="#666666"/>
<rect x="149.72" y="907.35" width="5.62" height="34.85" fill="#c7dbf3" stroke="#a9c8ee" stroke-width="0.8"/>
<line x1="152.53" y1="905.30" x2="152.53" y2="909.40" stroke="#6d9fe0" stroke-width="0.8"/>
<line x1="151.13" y1="905.30" x2="153.94" y2="905.30" stroke="#6d9fe0" stroke-width="0.8"/>
<line x1="151.13" y1="909.40" x2="153.94" y2="909.40" stroke="#6d9fe0" stroke-width="0.8"/>
<rect x="150.14" y="905.99" width="2.70" height="2.70" fill="#242b7d"/>
<rect x="149.75" y="900.67" width="2.70" height="2.70" fill="#56c2ef"/>
<rect x="150.24" y="900.79" width="2.70" height="2.70" fill="#5a5db8"/>
<rect x="152.22" y="900.67" width="2.70" height="2.70" fill="#9d9bd8"/>
<rect x="150.22" y="909.09" width="2.70" height="2.70" fill="#ffffff" stroke="#222" stroke-width="0.6"/>
<rect x="149.63" y="900.67" width="2.70" height="2.70" fill="#666666"/>
<line x1="163.00" y1="854.00" x2="241.00" y2="854.00" stroke="#4a4a4a" stroke-width="1.5"/>
<text x="202.00" y="852.00" font-size="11.8" font-weight="bold" fill="#1a1a1a" text-anchor="middle">MCI</text>
<text x="202.00" y="862.90" font-size="10.4" font-style="italic" fill="#333" text-anchor="middle">n = 3</text>
<rect x="163.46" y="900.70" width="5.59" height="41.50" fill="#abd7a3" stroke="#86c07c" stroke-width="0.8"/>
<line x1="166.25" y1="900.38" x2="166.25" y2="903.25" stroke="#3e7e3c" stroke-width="0.8"/>
<line x1="164.85" y1="900.38" x2="167.65" y2="900.38" stroke="#3e7e3c" stroke-width="0.8"/>
<line x1="164.85" y1="903.25" x2="167.65" y2="903.25" stroke="#3e7e3c" stroke-width="0.8"/>
<path d="M167.29 904.30L168.85 907.09L165.74 907.09Z" fill="#1d6b3a"/>
<path d="M166.15 900.47L167.71 903.26L164.60 903.26Z" fill="#b8b8b8"/>
<rect x="169.96" y="900.70" width="5.59" height="41.50" fill="#abd7a3" stroke="#86c07c" stroke-width="0.8"/>
<line x1="172.75" y1="900.38" x2="172.75" y2="905.30" stroke="#3e7e3c" stroke-width="0.8"/>
<line x1="171.35" y1="900.38" x2="174.15" y2="900.38" stroke="#3e7e3c" stroke-width="0.8"/>
<line x1="171.35" y1="905.30" x2="174.15" y2="905.30" stroke="#3e7e3c" stroke-width="0.8"/>
<path d="M173.81 902.39L175.36 905.19L172.26 905.19Z" fill="#1d6b3a"/>
<path d="M171.88 911.59L173.43 914.39L170.33 914.39Z" fill="#b8b8b8"/>
<path d="M173.62 912.17L175.17 914.97L172.07 914.97Z" fill="#ffffff" stroke="#333" stroke-width="0.6"/>
<rect x="176.46" y="900.70" width="5.59" height="41.50" fill="#abd7a3" stroke="#86c07c" stroke-width="0.8"/>
<line x1="179.25" y1="900.38" x2="179.25" y2="913.50" stroke="#3e7e3c" stroke-width="0.8"/>
<line x1="177.85" y1="900.38" x2="180.65" y2="900.38" stroke="#3e7e3c" stroke-width="0.8"/>
<line x1="177.85" y1="913.50" x2="180.65" y2="913.50" stroke="#3e7e3c" stroke-width="0.8"/>
<path d="M177.86 900.62L179.41 903.42L176.31 903.42Z" fill="#1d6b3a"/>
<path d="M178.60 900.47L180.15 903.26L177.04 903.26Z" fill="#b8b8b8"/>
<path d="M178.66 900.47L180.21 903.26L177.10 903.26Z" fill="#ffffff" stroke="#333" stroke-width="0.6"/>
<rect x="182.96" y="900.70" width="5.59" height="41.50" fill="#abd7a3" stroke="#86c07c" stroke-width="0.8"/>
<line x1="185.75" y1="900.38" x2="185.75" y2="903.25" stroke="#3e7e3c" stroke-width="0.8"/>
<line x1="184.35" y1="900.38" x2="187.15" y2="900.38" stroke="#3e7e3c" stroke-width="0.8"/>
<line x1="184.35" y1="903.25" x2="187.15" y2="903.25" stroke="#3e7e3c" stroke-width="0.8"/>
<path d="M185.35 904.65L186.90 907.44L183.80 907.44Z" fill="#1d6b3a"/>
<path d="M186.91 892.95L188.46 895.74L185.36 895.74Z" fill="#b8b8b8"/>
<path d="M184.84 900.47L186.39 903.26L183.29 903.26Z" fill="#ffffff" stroke="#333" stroke-width="0.6"/>
<rect x="189.46" y="909.40" width="5.59" height="32.80" fill="#abd7a3" stroke="#86c07c" stroke-width="0.8"/>
<line x1="192.25" y1="905.30" x2="192.25" y2="913.50" stroke="#3e7e3c" stroke-width="0.8"/>
<line x1="190.85" y1="905.30" x2="193.65" y2="905.30" stroke="#3e7e3c" stroke-width="0.8"/>
<line x1="190.85" y1="913.50" x2="193.65" y2="913.50" stroke="#3e7e3c" stroke-width="0.8"/>
<path d="M191.06 900.47L192.61 903.26L189.51 903.26Z" fill="#1d6b3a"/>
<path d="M191.55 915.94L193.11 918.73L190.00 918.73Z" fill="#b8b8b8"/>
<path d="M193.73 900.81L195.28 903.61L192.17 903.61Z" fill="#ffffff" stroke="#333" stroke-width="0.6"/>
<rect x="195.96" y="908.58" width="5.59" height="33.62" fill="#abd7a3" stroke="#86c07c" stroke-width="0.8"/>
<line x1="198.75" y1="904.48" x2="198.75" y2="912.68" stroke="#3e7e3c" stroke-width="0.8"/>
<line x1="197.35" y1="904.48" x2="200.15" y2="904.48" stroke="#3e7e3c" stroke-width="0.8"/>
<line x1="197.35" y1="912.68" x2="200.15" y2="912.68" stroke="#3e7e3c" stroke-width="0.8"/>
<path d="M197.75 911.69L199.30 914.48L196.20 914.48Z" fill="#1d6b3a"/>
<path d="M199.70 907.68L201.26 910.47L198.15 910.47Z" fill="#b8b8b8"/>
<path d="M197.77 900.54L199.32 903.33L196.22 903.33Z" fill="#ffffff" stroke="#333" stroke-width="0.6"/>
<rect x="202.46" y="915.55" width="5.59" height="26.65" fill="#abd7a3" stroke="#86c07c" stroke-width="0.8"/>
<line x1="205.25" y1="907.35" x2="205.25" y2="923.75" stroke="#3e7e3c" stroke-width="0.8"/>
<line x1="203.85" y1="907.35" x2="206.65" y2="907.35" stroke="#3e7e3c" stroke-width="0.8"/>
<line x1="203.85" y1="923.75" x2="206.65" y2="923.75" stroke="#3e7e3c" stroke-width="0.8"/>
<path d="M204.52 919.21L206.08 922.01L202.97 922.01Z" fill="#1d6b3a"/>
<path d="M204.42 920.23L205.97 923.02L202.86 923.02Z" fill="#b8b8b8"/>
<path d="M205.70 916.23L207.25 919.03L204.14 919.03Z" fill="#ffffff" stroke="#333" stroke-width="0.6"/>
<rect x="208.96" y="904.48" width="5.59" height="37.72" fill="#abd7a3" stroke="#86c07c" stroke-width="0.8"/>
<line x1="211.75" y1="900.38" x2="211.75" y2="912.68" stroke="#3e7e3c" stroke-width="0.8"/>
<line x1="210.35" y1="900.38" x2="213.15" y2="900.38" stroke="#3e7e3c" stroke-width="0.8"/>
<line x1="210.35" y1="912.68" x2="213.15" y2="912.68" stroke="#3e7e3c" stroke-width="0.8"/>
<path d="M210.54 918.00L212.10 920.80L208.99 920.80Z" fill="#1d6b3a"/>
<path d="M211.44 918.84L212.99 921.64L209.88 921.64Z" fill="#b8b8b8"/>
<rect x="215.46" y="900.70" width="5.59" height="41.50" fill="#abd7a3" stroke="#86c07c" stroke-width="0.8"/>
<line x1="218.25" y1="900.38" x2="218.25" y2="903.25" stroke="#3e7e3c" stroke-width="0.8"/>
<line x1="216.85" y1="900.38" x2="219.65" y2="900.38" stroke="#3e7e3c" stroke-width="0.8"/>
<line x1="216.85" y1="903.25" x2="219.65" y2="903.25" stroke="#3e7e3c" stroke-width="0.8"/>
<path d="M218.81 904.35L220.36 907.15L217.25 907.15Z" fill="#b8b8b8"/>
<path d="M218.54 900.47L220.09 903.26L216.99 903.26Z" fill="#ffffff" stroke="#333" stroke-width="0.6"/>
<rect x="221.96" y="900.70" width="5.59" height="41.50" fill="#abd7a3" stroke="#86c07c" stroke-width="0.8"/>
<line x1="224.75" y1="900.38" x2="224.75" y2="903.25" stroke="#3e7e3c" stroke-width="0.8"/>
<line x1="223.35" y1="900.38" x2="226.15" y2="900.38" stroke="#3e7e3c" stroke-width="0.8"/>
<line x1="223.35" y1="903.25" x2="226.15" y2="903.25" stroke="#3e7e3c" stroke-width="0.8"/>
<path d="M225.72 900.47L227.27 903.26L224.17 903.26Z" fill="#1d6b3a"/>
<path d="M223.45 905.29L225.00 908.08L221.90 908.08Z" fill="#b8b8b8"/>
<path d="M225.65 909.94L227.20 912.74L224.10 912.74Z" fill="#ffffff" stroke="#333" stroke-width="0.6"/>
<rect x="228.46" y="900.70" width="5.59" height="41.50" fill="#abd7a3" stroke="#86c07c" stroke-width="0.8"/>
<line x1="231.25" y1="900.38" x2="231.25" y2="913.50" stroke="#3e7e3c" stroke-width="0.8"/>
<line x1="229.85" y1="900.38" x2="232.65" y2="900.38" stroke="#3e7e3c" stroke-width="0.8"/>
<line x1="229.85" y1="913.50" x2="232.65" y2="913.50" stroke="#3e7e3c" stroke-width="0.8"/>
<path d="M231.12 914.79L232.67 917.58L229.57 917.58Z" fill="#1d6b3a"/>
<path d="M231.44 939.06L233.00 941.85L229.89 941.85Z" fill="#ffffff" stroke="#333" stroke-width="0.6"/>
<rect x="234.96" y="904.48" width="5.59" height="37.72" fill="#abd7a3" stroke="#86c07c" stroke-width="0.8"/>
<line x1="237.75" y1="900.38" x2="237.75" y2="912.68" stroke="#3e7e3c" stroke-width="0.8"/>
<line x1="236.35" y1="900.38" x2="239.15" y2="900.38" stroke="#3e7e3c" stroke-width="0.8"/>
<line x1="236.35" y1="912.68" x2="239.15" y2="912.68" stroke="#3e7e3c" stroke-width="0.8"/>
<path d="M238.33 912.67L239.88 915.47L236.78 915.47Z" fill="#1d6b3a"/>
<path d="M238.20 892.82L239.75 895.62L236.65 895.62Z" fill="#b8b8b8"/>
<path d="M237.37 923.16L238.92 925.95L235.82 925.95Z" fill="#ffffff" stroke="#333" stroke-width="0.6"/>
<line x1="247.60" y1="854.00" x2="326.00" y2="854.00" stroke="#4a4a4a" stroke-width="1.5"/>
<text x="286.80" y="852.00" font-size="11.8" font-weight="bold" fill="#1a1a1a" text-anchor="middle">AD</text>
<text x="286.80" y="862.90" font-size="10.4" font-style="italic" fill="#333" text-anchor="middle">n = 3</text>
<rect x="248.06" y="900.70" width="5.62" height="41.50" fill="#dcb0b0" stroke="#c98c8c" stroke-width="0.8"/>
<line x1="250.87" y1="900.38" x2="250.87" y2="903.25" stroke="#b03a3a" stroke-width="0.8"/>
<line x1="249.46" y1="900.38" x2="252.27" y2="900.38" stroke="#b03a3a" stroke-width="0.8"/>
<line x1="249.46" y1="903.25" x2="252.27" y2="903.25" stroke="#b03a3a" stroke-width="0.8"/>
<circle cx="249.66" cy="910.17" r="1.35" fill="#8e1b1b"/>
<circle cx="250.76" cy="902.02" r="1.35" fill="#aaaaaa"/>
<rect x="254.59" y="900.70" width="5.62" height="41.50" fill="#dcb0b0" stroke="#c98c8c" stroke-width="0.8"/>
<line x1="257.40" y1="900.38" x2="257.40" y2="903.25" stroke="#b03a3a" stroke-width="0.8"/>
<line x1="256.00" y1="900.38" x2="258.80" y2="900.38" stroke="#b03a3a" stroke-width="0.8"/>
<line x1="256.00" y1="903.25" x2="258.80" y2="903.25" stroke="#b03a3a" stroke-width="0.8"/>
<circle cx="255.72" cy="902.02" r="1.35" fill="#8e1b1b"/>
<circle cx="258.82" cy="902.48" r="1.35" fill="#ffffff" stroke="#777" stroke-width="0.6"/>
<circle cx="256.98" cy="917.06" r="1.35" fill="#aaaaaa"/>
<rect x="261.12" y="900.70" width="5.62" height="41.50" fill="#dcb0b0" stroke="#c98c8c" stroke-width="0.8"/>
<rect x="261.12" y="892.19" width="5.62" height="3.51" fill="#dcb0b0" stroke="#c98c8c" stroke-width="0.8"/>
<line x1="263.93" y1="887.67" x2="263.93" y2="892.19" stroke="#b03a3a" stroke-width="0.8"/>
<line x1="262.53" y1="887.67" x2="265.34" y2="887.67" stroke="#b03a3a" stroke-width="0.8"/>
<circle cx="262.35" cy="883.95" r="1.35" fill="#8e1b1b"/>
<circle cx="263.86" cy="893.49" r="1.35" fill="#ffffff" stroke="#777" stroke-width="0.6"/>
<rect x="267.66" y="907.76" width="5.62" height="34.44" fill="#dcb0b0" stroke="#c98c8c" stroke-width="0.8"/>
<line x1="270.47" y1="903.66" x2="270.47" y2="911.86" stroke="#b03a3a" stroke-width="0.8"/>
<line x1="269.06" y1="903.66" x2="271.87" y2="903.66" stroke="#b03a3a" stroke-width="0.8"/>
<line x1="269.06" y1="911.86" x2="271.87" y2="911.86" stroke="#b03a3a" stroke-width="0.8"/>
<circle cx="271.40" cy="916.30" r="1.35" fill="#8e1b1b"/>
<circle cx="271.61" cy="902.02" r="1.35" fill="#ffffff" stroke="#777" stroke-width="0.6"/>
<circle cx="270.72" cy="894.50" r="1.35" fill="#aaaaaa"/>
<rect x="274.19" y="900.70" width="5.62" height="41.50" fill="#dcb0b0" stroke="#c98c8c" stroke-width="0.8"/>
<line x1="277.00" y1="900.38" x2="277.00" y2="909.40" stroke="#b03a3a" stroke-width="0.8"/>
<line x1="275.60" y1="900.38" x2="278.40" y2="900.38" stroke="#b03a3a" stroke-width="0.8"/>
<line x1="275.60" y1="909.40" x2="278.40" y2="909.40" stroke="#b03a3a" stroke-width="0.8"/>
<circle cx="275.90" cy="914.06" r="1.35" fill="#8e1b1b"/>
<rect x="280.72" y="900.70" width="5.62" height="41.50" fill="#dcb0b0" stroke="#c98c8c" stroke-width="0.8"/>
<line x1="283.53" y1="900.38" x2="283.53" y2="903.25" stroke="#b03a3a" stroke-width="0.8"/>
<line x1="282.13" y1="900.38" x2="284.94" y2="900.38" stroke="#b03a3a" stroke-width="0.8"/>
<line x1="282.13" y1="903.25" x2="284.94" y2="903.25" stroke="#b03a3a" stroke-width="0.8"/>
<circle cx="285.10" cy="902.02" r="1.35" fill="#8e1b1b"/>
<circle cx="283.37" cy="912.75" r="1.35" fill="#ffffff" stroke="#777" stroke-width="0.6"/>
<circle cx="284.64" cy="905.30" r="1.35" fill="#aaaaaa"/>
<rect x="287.26" y="900.70" width="5.62" height="41.50" fill="#dcb0b0" stroke="#c98c8c" stroke-width="0.8"/>
<rect x="287.26" y="891.06" width="5.62" height="4.64" fill="#dcb0b0" stroke="#c98c8c" stroke-width="0.8"/>
<line x1="290.07" y1="888.80" x2="290.07" y2="891.06" stroke="#b03a3a" stroke-width="0.8"/>
<line x1="288.66" y1="888.80" x2="291.47" y2="888.80" stroke="#b03a3a" stroke-width="0.8"/>
<circle cx="288.50" cy="892.52" r="1.35" fill="#8e1b1b"/>
<circle cx="290.75" cy="892.95" r="1.35" fill="#ffffff" stroke="#777" stroke-width="0.6"/>
<circle cx="291.55" cy="889.21" r="1.35" fill="#aaaaaa"/>
<rect x="293.79" y="900.70" width="5.62" height="41.50" fill="#dcb0b0" stroke="#c98c8c" stroke-width="0.8"/>
<rect x="293.79" y="882.93" width="5.62" height="12.77" fill="#dcb0b0" stroke="#c98c8c" stroke-width="0.8"/>
<line x1="296.60" y1="877.50" x2="296.60" y2="882.93" stroke="#b03a3a" stroke-width="0.8"/>
<line x1="295.20" y1="877.50" x2="298.00" y2="877.50" stroke="#b03a3a" stroke-width="0.8"/>
<circle cx="295.62" cy="879.26" r="1.35" fill="#8e1b1b"/>
<circle cx="294.97" cy="881.74" r="1.35" fill="#ffffff" stroke="#777" stroke-width="0.6"/>
<circle cx="296.87" cy="886.71" r="1.35" fill="#aaaaaa"/>
<rect x="300.32" y="900.70" width="5.62" height="41.50" fill="#dcb0b0" stroke="#c98c8c" stroke-width="0.8"/>
<line x1="303.13" y1="900.38" x2="303.13" y2="903.25" stroke="#b03a3a" stroke-width="0.8"/>
<line x1="301.73" y1="900.38" x2="304.54" y2="900.38" stroke="#b03a3a" stroke-width="0.8"/>
<line x1="301.73" y1="903.25" x2="304.54" y2="903.25" stroke="#b03a3a" stroke-width="0.8"/>
<circle cx="301.69" cy="902.02" r="1.35" fill="#8e1b1b"/>
<circle cx="303.39" cy="903.75" r="1.35" fill="#ffffff" stroke="#777" stroke-width="0.6"/>
<circle cx="301.56" cy="911.20" r="1.35" fill="#aaaaaa"/>
<rect x="306.86" y="900.70" width="5.62" height="41.50" fill="#dcb0b0" stroke="#c98c8c" stroke-width="0.8"/>
<line x1="309.67" y1="900.38" x2="309.67" y2="903.25" stroke="#b03a3a" stroke-width="0.8"/>
<line x1="308.26" y1="900.38" x2="311.07" y2="900.38" stroke="#b03a3a" stroke-width="0.8"/>
<line x1="308.26" y1="903.25" x2="311.07" y2="903.25" stroke="#b03a3a" stroke-width="0.8"/>
<circle cx="311.14" cy="911.59" r="1.35" fill="#8e1b1b"/>
<circle cx="308.25" cy="903.05" r="1.35" fill="#ffffff" stroke="#777" stroke-width="0.6"/>
<circle cx="308.67" cy="908.05" r="1.35" fill="#aaaaaa"/>
<rect x="313.39" y="907.35" width="5.62" height="34.85" fill="#dcb0b0" stroke="#c98c8c" stroke-width="0.8"/>
<line x1="316.20" y1="900.38" x2="316.20" y2="915.55" stroke="#b03a3a" stroke-width="0.8"/>
<line x1="314.80" y1="900.38" x2="317.60" y2="900.38" stroke="#b03a3a" stroke-width="0.8"/>
<line x1="314.80" y1="915.55" x2="317.60" y2="915.55" stroke="#b03a3a" stroke-width="0.8"/>
<circle cx="314.65" cy="902.02" r="1.35" fill="#8e1b1b"/>
<circle cx="316.59" cy="902.02" r="1.35" fill="#ffffff" stroke="#777" stroke-width="0.6"/>
<rect x="319.92" y="900.70" width="5.62" height="41.50" fill="#dcb0b0" stroke="#c98c8c" stroke-width="0.8"/>
<rect x="319.92" y="891.06" width="5.62" height="4.64" fill="#dcb0b0" stroke="#c98c8c" stroke-width="0.8"/>
<line x1="322.73" y1="886.54" x2="322.73" y2="891.06" stroke="#b03a3a" stroke-width="0.8"/>
<line x1="321.33" y1="886.54" x2="324.14" y2="886.54" stroke="#b03a3a" stroke-width="0.8"/>
<circle cx="321.56" cy="884.11" r="1.35" fill="#8e1b1b"/>
<circle cx="321.47" cy="884.02" r="1.35" fill="#ffffff" stroke="#777" stroke-width="0.6"/>
<circle cx="322.68" cy="941.38" r="1.35" fill="#aaaaaa"/>
<line x1="75.00" y1="895.30" x2="327.50" y2="895.30" stroke="#1a1a1a" stroke-width="1.0" stroke-dasharray="2.5,1.3"/>
<line x1="75.00" y1="901.20" x2="327.50" y2="901.20" stroke="#1a1a1a" stroke-width="1.0" stroke-dasharray="2.5,1.3"/>
<line x1="75.00" y1="854.00" x2="75.00" y2="896.20" stroke="#111" stroke-width="1.4"/>
<line x1="75.00" y1="900.20" x2="75.00" y2="942.20" stroke="#111" stroke-width="1.4"/>
<line x1="74.30" y1="942.20" x2="327.50" y2="942.20" stroke="#111" stroke-width="1.4"/>
<line x1="71.50" y1="854.00" x2="75.00" y2="854.00" stroke="#111" stroke-width="1.1"/>
<text x="70.50" y="856.60" font-size="7.4" font-weight="bold" fill="#222" text-anchor="end">10</text>
<line x1="71.50" y1="876.60" x2="75.00" y2="876.60" stroke="#111" stroke-width="1.1"/>
<text x="70.50" y="879.20" font-size="7.4" font-weight="bold" fill="#222" text-anchor="end">5</text>
<line x1="71.50" y1="895.70" x2="75.00" y2="895.70" stroke="#111" stroke-width="1.1"/>
<line x1="71.50" y1="901.20" x2="75.00" y2="901.20" stroke="#111" stroke-width="1.1"/>
<text x="70.50" y="903.80" font-size="7.4" font-weight="bold" fill="#222" text-anchor="end">1.0</text>
<line x1="71.50" y1="921.70" x2="75.00" y2="921.70" stroke="#111" stroke-width="1.1"/>
<text x="70.50" y="924.30" font-size="7.4" font-weight="bold" fill="#222" text-anchor="end">0.5</text>
<line x1="71.50" y1="942.20" x2="75.00" y2="942.20" stroke="#111" stroke-width="1.1"/>
<text x="70.50" y="944.80" font-size="7.4" font-weight="bold" fill="#222" text-anchor="end">0.0</text>
<line x1="80.67" y1="942.20" x2="80.67" y2="946.40" stroke="#111" stroke-width="1.3"/>
<text x="82.57" y="949.60" font-size="5.6" font-weight="bold" fill="#000" text-anchor="end" transform="rotate(-45 82.56666666666668 949.6)">IL-6</text>
<line x1="87.20" y1="942.20" x2="87.20" y2="946.40" stroke="#111" stroke-width="1.3"/>
<text x="89.10" y="949.60" font-size="5.6" font-weight="bold" fill="#000" text-anchor="end" transform="rotate(-45 89.10000000000001 949.6)">IL-8</text>
<line x1="93.73" y1="942.20" x2="93.73" y2="946.40" stroke="#111" stroke-width="1.3"/>
<text x="95.63" y="949.60" font-size="5.6" font-weight="bold" fill="#000" text-anchor="end" transform="rotate(-45 95.63333333333335 949.6)">TNF-α</text>
<line x1="100.27" y1="942.20" x2="100.27" y2="946.40" stroke="#111" stroke-width="1.3"/>
<text x="102.17" y="949.60" font-size="5.6" font-weight="bold" fill="#000" text-anchor="end" transform="rotate(-45 102.16666666666669 949.6)">MCP-1</text>
<line x1="106.80" y1="942.20" x2="106.80" y2="946.40" stroke="#111" stroke-width="1.3"/>
<text x="108.70" y="949.60" font-size="5.6" font-weight="bold" fill="#000" text-anchor="end" transform="rotate(-45 108.70000000000002 949.6)">IL-1β</text>
<line x1="113.33" y1="942.20" x2="113.33" y2="946.40" stroke="#111" stroke-width="1.3"/>
<text x="115.23" y="949.60" font-size="5.6" font-weight="bold" fill="#000" text-anchor="end" transform="rotate(-45 115.23333333333335 949.6)">IL-18</text>
<line x1="119.87" y1="942.20" x2="119.87" y2="946.40" stroke="#111" stroke-width="1.3"/>
<text x="121.77" y="949.60" font-size="5.6" font-weight="bold" fill="#000" text-anchor="end" transform="rotate(-45 121.76666666666668 949.6)">IL-10</text>
<line x1="126.40" y1="942.20" x2="126.40" y2="946.40" stroke="#111" stroke-width="1.3"/>
<text x="128.30" y="949.60" font-size="5.6" font-weight="bold" fill="#000" text-anchor="end" transform="rotate(-45 128.3 949.6)">IFN-γ</text>
<line x1="132.93" y1="942.20" x2="132.93" y2="946.40" stroke="#111" stroke-width="1.3"/>
<text x="134.83" y="949.60" font-size="5.6" font-weight="bold" fill="#000" text-anchor="end" transform="rotate(-45 134.83333333333334 949.6)">IFN-α2</text>
<line x1="139.47" y1="942.20" x2="139.47" y2="946.40" stroke="#111" stroke-width="1.3"/>
<text x="141.37" y="949.60" font-size="5.6" font-weight="bold" fill="#000" text-anchor="end" transform="rotate(-45 141.3666666666667 949.6)">IL-33</text>
<line x1="146.00" y1="942.20" x2="146.00" y2="946.40" stroke="#111" stroke-width="1.3"/>
<text x="147.90" y="949.60" font-size="5.6" font-weight="bold" fill="#000" text-anchor="end" transform="rotate(-45 147.9 949.6)">IL-23</text>
<line x1="152.53" y1="942.20" x2="152.53" y2="946.40" stroke="#111" stroke-width="1.3"/>
<text x="154.43" y="949.60" font-size="5.6" font-weight="bold" fill="#000" text-anchor="end" transform="rotate(-45 154.43333333333337 949.6)">IL-12p70</text>
<line x1="166.25" y1="942.20" x2="166.25" y2="946.40" stroke="#111" stroke-width="1.3"/>
<text x="168.15" y="949.60" font-size="5.6" font-weight="bold" fill="#000" text-anchor="end" transform="rotate(-45 168.15 949.6)">IL-6</text>
<line x1="172.75" y1="942.20" x2="172.75" y2="946.40" stroke="#111" stroke-width="1.3"/>
<text x="174.65" y="949.60" font-size="5.6" font-weight="bold" fill="#000" text-anchor="end" transform="rotate(-45 174.65 949.6)">IL-8</text>
<line x1="179.25" y1="942.20" x2="179.25" y2="946.40" stroke="#111" stroke-width="1.3"/>
<text x="181.15" y="949.60" font-size="5.6" font-weight="bold" fill="#000" text-anchor="end" transform="rotate(-45 181.15 949.6)">TNF-α</text>
<line x1="185.75" y1="942.20" x2="185.75" y2="946.40" stroke="#111" stroke-width="1.3"/>
<text x="187.65" y="949.60" font-size="5.6" font-weight="bold" fill="#000" text-anchor="end" transform="rotate(-45 187.65 949.6)">MCP-1</text>
<line x1="192.25" y1="942.20" x2="192.25" y2="946.40" stroke="#111" stroke-width="1.3"/>
<text x="194.15" y="949.60" font-size="5.6" font-weight="bold" fill="#000" text-anchor="end" transform="rotate(-45 194.15 949.6)">IL-1β</text>
<line x1="198.75" y1="942.20" x2="198.75" y2="946.40" stroke="#111" stroke-width="1.3"/>
<text x="200.65" y="949.60" font-size="5.6" font-weight="bold" fill="#000" text-anchor="end" transform="rotate(-45 200.65 949.6)">IL-18</text>
<line x1="205.25" y1="942.20" x2="205.25" y2="946.40" stroke="#111" stroke-width="1.3"/>
<text x="207.15" y="949.60" font-size="5.6" font-weight="bold" fill="#000" text-anchor="end" transform="rotate(-45 207.15 949.6)">IL-10</text>
<line x1="211.75" y1="942.20" x2="211.75" y2="946.40" stroke="#111" stroke-width="1.3"/>
<text x="213.65" y="949.60" font-size="5.6" font-weight="bold" fill="#000" text-anchor="end" transform="rotate(-45 213.65 949.6)">IFN-γ</text>
<line x1="218.25" y1="942.20" x2="218.25" y2="946.40" stroke="#111" stroke-width="1.3"/>
<text x="220.15" y="949.60" font-size="5.6" font-weight="bold" fill="#000" text-anchor="end" transform="rotate(-45 220.15 949.6)">IFN-α2</text>
<line x1="224.75" y1="942.20" x2="224.75" y2="946.40" stroke="#111" stroke-width="1.3"/>
<text x="226.65" y="949.60" font-size="5.6" font-weight="bold" fill="#000" text-anchor="end" transform="rotate(-45 226.65 949.6)">IL-33</text>
<line x1="231.25" y1="942.20" x2="231.25" y2="946.40" stroke="#111" stroke-width="1.3"/>
<text x="233.15" y="949.60" font-size="5.6" font-weight="bold" fill="#000" text-anchor="end" transform="rotate(-45 233.15 949.6)">IL-23</text>
<line x1="237.75" y1="942.20" x2="237.75" y2="946.40" stroke="#111" stroke-width="1.3"/>
<text x="239.65" y="949.60" font-size="5.6" font-weight="bold" fill="#000" text-anchor="end" transform="rotate(-45 239.65 949.6)">IL-12p70</text>
<line x1="250.87" y1="942.20" x2="250.87" y2="946.40" stroke="#111" stroke-width="1.3"/>
<text x="252.77" y="949.60" font-size="5.6" font-weight="bold" fill="#000" text-anchor="end" transform="rotate(-45 252.76666666666668 949.6)">IL-6</text>
<line x1="257.40" y1="942.20" x2="257.40" y2="946.40" stroke="#111" stroke-width="1.3"/>
<text x="259.30" y="949.60" font-size="5.6" font-weight="bold" fill="#000" text-anchor="end" transform="rotate(-45 259.29999999999995 949.6)">IL-8</text>
<line x1="263.93" y1="942.20" x2="263.93" y2="946.40" stroke="#111" stroke-width="1.3"/>
<text x="265.83" y="949.60" font-size="5.6" font-weight="bold" fill="#000" text-anchor="end" transform="rotate(-45 265.8333333333333 949.6)">TNF-α</text>
<line x1="270.47" y1="942.20" x2="270.47" y2="946.40" stroke="#111" stroke-width="1.3"/>
<text x="272.37" y="949.60" font-size="5.6" font-weight="bold" fill="#000" text-anchor="end" transform="rotate(-45 272.3666666666666 949.6)">MCP-1</text>
<line x1="277.00" y1="942.20" x2="277.00" y2="946.40" stroke="#111" stroke-width="1.3"/>
<text x="278.90" y="949.60" font-size="5.6" font-weight="bold" fill="#000" text-anchor="end" transform="rotate(-45 278.9 949.6)">IL-1β</text>
<line x1="283.53" y1="942.20" x2="283.53" y2="946.40" stroke="#111" stroke-width="1.3"/>
<text x="285.43" y="949.60" font-size="5.6" font-weight="bold" fill="#000" text-anchor="end" transform="rotate(-45 285.4333333333333 949.6)">IL-18</text>
<line x1="290.07" y1="942.20" x2="290.07" y2="946.40" stroke="#111" stroke-width="1.3"/>
<text x="291.97" y="949.60" font-size="5.6" font-weight="bold" fill="#000" text-anchor="end" transform="rotate(-45 291.96666666666664 949.6)">IL-10</text>
<line x1="296.60" y1="942.20" x2="296.60" y2="946.40" stroke="#111" stroke-width="1.3"/>
<text x="298.50" y="949.60" font-size="5.6" font-weight="bold" fill="#000" text-anchor="end" transform="rotate(-45 298.5 949.6)">IFN-γ</text>
<line x1="303.13" y1="942.20" x2="303.13" y2="946.40" stroke="#111" stroke-width="1.3"/>
<text x="305.03" y="949.60" font-size="5.6" font-weight="bold" fill="#000" text-anchor="end" transform="rotate(-45 305.0333333333333 949.6)">IFN-α2</text>
<line x1="309.67" y1="942.20" x2="309.67" y2="946.40" stroke="#111" stroke-width="1.3"/>
<text x="311.57" y="949.60" font-size="5.6" font-weight="bold" fill="#000" text-anchor="end" transform="rotate(-45 311.56666666666666 949.6)">IL-33</text>
<line x1="316.20" y1="942.20" x2="316.20" y2="946.40" stroke="#111" stroke-width="1.3"/>
<text x="318.10" y="949.60" font-size="5.6" font-weight="bold" fill="#000" text-anchor="end" transform="rotate(-45 318.09999999999997 949.6)">IL-23</text>
<line x1="322.73" y1="942.20" x2="322.73" y2="946.40" stroke="#111" stroke-width="1.3"/>
<text x="324.63" y="949.60" font-size="5.6" font-weight="bold" fill="#000" text-anchor="end" transform="rotate(-45 324.6333333333333 949.6)">IL-12p70</text>
<line x1="357.00" y1="437.00" x2="429.30" y2="437.00" stroke="#4a4a4a" stroke-width="1.5"/>
<text x="393.15" y="435.00" font-size="11.8" font-weight="bold" fill="#1a1a1a" text-anchor="middle">HC</text>
<text x="393.15" y="445.90" font-size="10.4" font-style="italic" fill="#333" text-anchor="middle">n = 6</text>
<rect x="357.72" y="494.56" width="8.88" height="34.24" fill="#ffffff" stroke="#a5c5ee" stroke-width="0.9"/>
<line x1="362.16" y1="486.00" x2="362.16" y2="503.12" stroke="#7aa8e4" stroke-width="0.8"/>
<line x1="359.94" y1="486.00" x2="364.38" y2="486.00" stroke="#7aa8e4" stroke-width="0.8"/>
<line x1="359.94" y1="503.12" x2="364.38" y2="503.12" stroke="#7aa8e4" stroke-width="0.8"/>
<rect x="362.75" y="475.63" width="3.30" height="3.30" fill="#242b7d"/>
<rect x="358.83" y="515.28" width="3.30" height="3.30" fill="#56c2ef"/>
<rect x="361.08" y="485.21" width="3.30" height="3.30" fill="#5a5db8"/>
<rect x="360.88" y="485.21" width="3.30" height="3.30" fill="#9d9bd8"/>
<rect x="360.93" y="497.47" width="3.30" height="3.30" fill="#ffffff" stroke="#222" stroke-width="0.6"/>
<rect x="362.37" y="506.19" width="3.30" height="3.30" fill="#666666"/>
<rect x="368.05" y="500.98" width="8.88" height="27.82" fill="#ffffff" stroke="#a5c5ee" stroke-width="0.9"/>
<line x1="372.49" y1="498.84" x2="372.49" y2="503.12" stroke="#7aa8e4" stroke-width="0.8"/>
<line x1="370.27" y1="498.84" x2="374.71" y2="498.84" stroke="#7aa8e4" stroke-width="0.8"/>
<line x1="370.27" y1="503.12" x2="374.71" y2="503.12" stroke="#7aa8e4" stroke-width="0.8"/>
<rect x="372.90" y="495.78" width="3.30" height="3.30" fill="#242b7d"/>
<rect x="371.88" y="497.37" width="3.30" height="3.30" fill="#5a5db8"/>
<rect x="369.34" y="491.00" width="3.30" height="3.30" fill="#9d9bd8"/>
<rect x="370.14" y="498.95" width="3.30" height="3.30" fill="#ffffff" stroke="#222" stroke-width="0.6"/>
<rect x="369.12" y="499.60" width="3.30" height="3.30" fill="#666666"/>
<rect x="378.38" y="485.50" width="8.88" height="43.30" fill="#ffffff" stroke="#a5c5ee" stroke-width="0.9"/>
<rect x="378.38" y="475.13" width="8.88" height="4.67" fill="#ffffff" stroke="#a5c5ee" stroke-width="0.9"/>
<line x1="382.82" y1="470.86" x2="382.82" y2="475.13" stroke="#7aa8e4" stroke-width="0.8"/>
<line x1="380.60" y1="470.86" x2="385.04" y2="470.86" stroke="#7aa8e4" stroke-width="0.8"/>
<rect x="382.03" y="475.83" width="3.30" height="3.30" fill="#56c2ef"/>
<rect x="378.96" y="469.39" width="3.30" height="3.30" fill="#5a5db8"/>
<rect x="383.50" y="487.51" width="3.30" height="3.30" fill="#9d9bd8"/>
<rect x="381.30" y="466.12" width="3.30" height="3.30" fill="#666666"/>
<rect x="388.71" y="507.40" width="8.88" height="21.40" fill="#ffffff" stroke="#a5c5ee" stroke-width="0.9"/>
<line x1="393.15" y1="500.98" x2="393.15" y2="513.82" stroke="#7aa8e4" stroke-width="0.8"/>
<line x1="390.93" y1="500.98" x2="395.37" y2="500.98" stroke="#7aa8e4" stroke-width="0.8"/>
<line x1="390.93" y1="513.82" x2="395.37" y2="513.82" stroke="#7aa8e4" stroke-width="0.8"/>
<rect x="389.78" y="489.92" width="3.30" height="3.30" fill="#242b7d"/>
<rect x="391.83" y="494.33" width="3.30" height="3.30" fill="#56c2ef"/>
<rect x="389.32" y="519.03" width="3.30" height="3.30" fill="#5a5db8"/>
<rect x="392.15" y="512.22" width="3.30" height="3.30" fill="#ffffff" stroke="#222" stroke-width="0.6"/>
<rect x="390.15" y="500.47" width="3.30" height="3.30" fill="#666666"/>
<rect x="399.04" y="511.68" width="8.88" height="17.12" fill="#ffffff" stroke="#a5c5ee" stroke-width="0.9"/>
<line x1="403.48" y1="507.40" x2="403.48" y2="515.96" stroke="#7aa8e4" stroke-width="0.8"/>
<line x1="401.26" y1="507.40" x2="405.70" y2="507.40" stroke="#7aa8e4" stroke-width="0.8"/>
<line x1="401.26" y1="515.96" x2="405.70" y2="515.96" stroke="#7aa8e4" stroke-width="0.8"/>
<rect x="400.03" y="508.54" width="3.30" height="3.30" fill="#242b7d"/>
<rect x="402.89" y="500.56" width="3.30" height="3.30" fill="#56c2ef"/>
<rect x="399.46" y="489.73" width="3.30" height="3.30" fill="#5a5db8"/>
<rect x="402.92" y="526.29" width="3.30" height="3.30" fill="#9d9bd8"/>
<rect x="399.76" y="505.91" width="3.30" height="3.30" fill="#ffffff" stroke="#222" stroke-width="0.6"/>
<rect x="409.37" y="508.26" width="8.88" height="20.54" fill="#ffffff" stroke="#a5c5ee" stroke-width="0.9"/>
<line x1="413.81" y1="503.98" x2="413.81" y2="512.54" stroke="#7aa8e4" stroke-width="0.8"/>
<line x1="411.59" y1="503.98" x2="416.03" y2="503.98" stroke="#7aa8e4" stroke-width="0.8"/>
<line x1="411.59" y1="512.54" x2="416.03" y2="512.54" stroke="#7aa8e4" stroke-width="0.8"/>
<rect x="414.10" y="508.78" width="3.30" height="3.30" fill="#242b7d"/>
<rect x="411.49" y="507.27" width="3.30" height="3.30" fill="#56c2ef"/>
<rect x="411.31" y="518.17" width="3.30" height="3.30" fill="#5a5db8"/>
<rect x="411.44" y="495.95" width="3.30" height="3.30" fill="#9d9bd8"/>
<rect x="410.14" y="503.71" width="3.30" height="3.30" fill="#ffffff" stroke="#222" stroke-width="0.6"/>
<rect x="410.69" y="503.68" width="3.30" height="3.30" fill="#666666"/>
<rect x="419.69" y="512.54" width="8.88" height="16.26" fill="#ffffff" stroke="#a5c5ee" stroke-width="0.9"/>
<line x1="424.14" y1="510.40" x2="424.14" y2="514.68" stroke="#7aa8e4" stroke-width="0.8"/>
<line x1="421.92" y1="510.40" x2="426.36" y2="510.40" stroke="#7aa8e4" stroke-width="0.8"/>
<line x1="421.92" y1="514.68" x2="426.36" y2="514.68" stroke="#7aa8e4" stroke-width="0.8"/>
<rect x="424.12" y="515.07" width="3.30" height="3.30" fill="#242b7d"/>
<rect x="424.19" y="516.92" width="3.30" height="3.30" fill="#9d9bd8"/>
<rect x="420.12" y="506.85" width="3.30" height="3.30" fill="#ffffff" stroke="#222" stroke-width="0.6"/>
<rect x="422.62" y="508.24" width="3.30" height="3.30" fill="#666666"/>
<line x1="442.00" y1="437.00" x2="513.00" y2="437.00" stroke="#4a4a4a" stroke-width="1.5"/>
<text x="477.50" y="435.00" font-size="11.8" font-weight="bold" fill="#1a1a1a" text-anchor="middle">MCI</text>
<text x="477.50" y="445.90" font-size="10.4" font-style="italic" fill="#333" text-anchor="middle">n = 3</text>
<rect x="442.71" y="509.11" width="8.72" height="19.69" fill="#ffffff" stroke="#7ea57c" stroke-width="0.9"/>
<line x1="447.07" y1="506.12" x2="447.07" y2="512.11" stroke="#4a804a" stroke-width="0.8"/>
<line x1="444.89" y1="506.12" x2="449.25" y2="506.12" stroke="#4a804a" stroke-width="0.8"/>
<line x1="444.89" y1="512.11" x2="449.25" y2="512.11" stroke="#4a804a" stroke-width="0.8"/>
<path d="M448.84 509.66L450.74 513.08L446.94 513.08Z" fill="#1d6b3a"/>
<path d="M447.49 517.49L449.39 520.90L445.59 520.90Z" fill="#b8b8b8"/>
<path d="M444.66 509.70L446.55 513.12L442.76 513.12Z" fill="#ffffff" stroke="#333" stroke-width="0.6"/>
<rect x="452.85" y="505.26" width="8.72" height="23.54" fill="#ffffff" stroke="#7ea57c" stroke-width="0.9"/>
<line x1="457.21" y1="500.98" x2="457.21" y2="509.54" stroke="#4a804a" stroke-width="0.8"/>
<line x1="455.03" y1="500.98" x2="459.39" y2="500.98" stroke="#4a804a" stroke-width="0.8"/>
<line x1="455.03" y1="509.54" x2="459.39" y2="509.54" stroke="#4a804a" stroke-width="0.8"/>
<path d="M458.16 511.19L460.05 514.60L456.26 514.60Z" fill="#1d6b3a"/>
<path d="M459.54 499.37L461.44 502.79L457.64 502.79Z" fill="#b8b8b8"/>
<path d="M457.54 496.50L459.44 499.91L455.64 499.91Z" fill="#ffffff" stroke="#333" stroke-width="0.6"/>
<rect x="463.00" y="500.98" width="8.72" height="27.82" fill="#ffffff" stroke="#7ea57c" stroke-width="0.9"/>
<line x1="467.36" y1="496.70" x2="467.36" y2="505.26" stroke="#4a804a" stroke-width="0.8"/>
<line x1="465.18" y1="496.70" x2="469.54" y2="496.70" stroke="#4a804a" stroke-width="0.8"/>
<line x1="465.18" y1="505.26" x2="469.54" y2="505.26" stroke="#4a804a" stroke-width="0.8"/>
<path d="M467.22 491.90L469.12 495.31L465.33 495.31Z" fill="#1d6b3a"/>
<path d="M469.50 503.80L471.39 507.22L467.60 507.22Z" fill="#ffffff" stroke="#333" stroke-width="0.6"/>
<rect x="473.14" y="499.70" width="8.72" height="29.10" fill="#ffffff" stroke="#7ea57c" stroke-width="0.9"/>
<line x1="477.50" y1="491.14" x2="477.50" y2="508.26" stroke="#4a804a" stroke-width="0.8"/>
<line x1="475.32" y1="491.14" x2="479.68" y2="491.14" stroke="#4a804a" stroke-width="0.8"/>
<line x1="475.32" y1="508.26" x2="479.68" y2="508.26" stroke="#4a804a" stroke-width="0.8"/>
<path d="M479.87 484.96L481.77 488.37L477.97 488.37Z" fill="#1d6b3a"/>
<path d="M476.97 526.05L478.87 529.46L475.07 529.46Z" fill="#b8b8b8"/>
<path d="M477.14 488.56L479.04 491.97L475.25 491.97Z" fill="#ffffff" stroke="#333" stroke-width="0.6"/>
<rect x="483.28" y="498.84" width="8.72" height="29.96" fill="#ffffff" stroke="#7ea57c" stroke-width="0.9"/>
<line x1="487.64" y1="488.14" x2="487.64" y2="509.54" stroke="#4a804a" stroke-width="0.8"/>
<line x1="485.46" y1="488.14" x2="489.82" y2="488.14" stroke="#4a804a" stroke-width="0.8"/>
<line x1="485.46" y1="509.54" x2="489.82" y2="509.54" stroke="#4a804a" stroke-width="0.8"/>
<path d="M488.67 486.11L490.56 489.52L486.77 489.52Z" fill="#1d6b3a"/>
<path d="M486.31 520.18L488.20 523.59L484.41 523.59Z" fill="#b8b8b8"/>
<path d="M490.21 510.10L492.11 513.51L488.31 513.51Z" fill="#ffffff" stroke="#333" stroke-width="0.6"/>
<rect x="493.42" y="503.12" width="8.72" height="25.68" fill="#ffffff" stroke="#7ea57c" stroke-width="0.9"/>
<line x1="497.79" y1="498.84" x2="497.79" y2="507.40" stroke="#4a804a" stroke-width="0.8"/>
<line x1="495.60" y1="498.84" x2="499.97" y2="498.84" stroke="#4a804a" stroke-width="0.8"/>
<line x1="495.60" y1="507.40" x2="499.97" y2="507.40" stroke="#4a804a" stroke-width="0.8"/>
<path d="M497.65 502.35L499.55 505.77L495.76 505.77Z" fill="#1d6b3a"/>
<path d="M495.23 508.56L497.13 511.98L493.34 511.98Z" fill="#b8b8b8"/>
<path d="M499.87 500.03L501.77 503.45L497.97 503.45Z" fill="#ffffff" stroke="#333" stroke-width="0.6"/>
<rect x="503.57" y="500.98" width="8.72" height="27.82" fill="#ffffff" stroke="#7ea57c" stroke-width="0.9"/>
<line x1="507.93" y1="492.42" x2="507.93" y2="509.54" stroke="#4a804a" stroke-width="0.8"/>
<line x1="505.75" y1="492.42" x2="510.11" y2="492.42" stroke="#4a804a" stroke-width="0.8"/>
<line x1="505.75" y1="509.54" x2="510.11" y2="509.54" stroke="#4a804a" stroke-width="0.8"/>
<path d="M508.72 495.53L510.62 498.95L506.83 498.95Z" fill="#1d6b3a"/>
<path d="M507.15 498.56L509.04 501.98L505.25 501.98Z" fill="#b8b8b8"/>
<path d="M508.29 498.55L510.19 501.97L506.40 501.97Z" fill="#ffffff" stroke="#333" stroke-width="0.6"/>
<line x1="526.50" y1="437.00" x2="597.30" y2="437.00" stroke="#4a4a4a" stroke-width="1.5"/>
<text x="561.90" y="435.00" font-size="11.8" font-weight="bold" fill="#1a1a1a" text-anchor="middle">AD</text>
<text x="561.90" y="445.90" font-size="10.4" font-style="italic" fill="#333" text-anchor="middle">n = 3</text>
<rect x="527.21" y="485.50" width="8.70" height="43.30" fill="#ffffff" stroke="#d69a9a" stroke-width="0.9"/>
<rect x="527.21" y="464.45" width="8.70" height="15.34" fill="#ffffff" stroke="#d69a9a" stroke-width="0.9"/>
<line x1="531.56" y1="461.25" x2="531.56" y2="464.45" stroke="#c05050" stroke-width="0.8"/>
<line x1="529.38" y1="461.25" x2="533.73" y2="461.25" stroke="#c05050" stroke-width="0.8"/>
<circle cx="531.02" cy="464.79" r="1.65" fill="#8e1b1b"/>
<circle cx="530.29" cy="462.97" r="1.65" fill="#ffffff" stroke="#777" stroke-width="0.6"/>
<circle cx="530.44" cy="458.59" r="1.65" fill="#aaaaaa"/>
<rect x="537.32" y="485.50" width="8.70" height="43.30" fill="#ffffff" stroke="#d69a9a" stroke-width="0.9"/>
<rect x="537.32" y="477.26" width="8.70" height="2.53" fill="#ffffff" stroke="#d69a9a" stroke-width="0.9"/>
<line x1="541.67" y1="468.72" x2="541.67" y2="477.26" stroke="#c05050" stroke-width="0.8"/>
<line x1="539.50" y1="468.72" x2="543.85" y2="468.72" stroke="#c05050" stroke-width="0.8"/>
<circle cx="541.18" cy="478.37" r="1.65" fill="#8e1b1b"/>
<circle cx="543.15" cy="476.80" r="1.65" fill="#ffffff" stroke="#777" stroke-width="0.6"/>
<rect x="547.44" y="485.50" width="8.70" height="43.30" fill="#ffffff" stroke="#d69a9a" stroke-width="0.9"/>
<rect x="547.44" y="462.32" width="8.70" height="17.48" fill="#ffffff" stroke="#d69a9a" stroke-width="0.9"/>
<line x1="551.79" y1="455.91" x2="551.79" y2="462.32" stroke="#c05050" stroke-width="0.8"/>
<line x1="549.61" y1="455.91" x2="553.96" y2="455.91" stroke="#c05050" stroke-width="0.8"/>
<circle cx="553.51" cy="466.24" r="1.65" fill="#8e1b1b"/>
<circle cx="552.25" cy="475.75" r="1.65" fill="#ffffff" stroke="#777" stroke-width="0.6"/>
<circle cx="553.83" cy="462.21" r="1.65" fill="#aaaaaa"/>
<rect x="557.55" y="485.50" width="8.70" height="43.30" fill="#ffffff" stroke="#d69a9a" stroke-width="0.9"/>
<rect x="557.55" y="470.86" width="8.70" height="8.94" fill="#ffffff" stroke="#d69a9a" stroke-width="0.9"/>
<line x1="561.90" y1="455.91" x2="561.90" y2="470.86" stroke="#c05050" stroke-width="0.8"/>
<line x1="559.73" y1="455.91" x2="564.07" y2="455.91" stroke="#c05050" stroke-width="0.8"/>
<circle cx="559.66" cy="477.13" r="1.65" fill="#8e1b1b"/>
<circle cx="561.67" cy="460.83" r="1.65" fill="#ffffff" stroke="#777" stroke-width="0.6"/>
<circle cx="563.23" cy="472.21" r="1.65" fill="#aaaaaa"/>
<rect x="567.67" y="485.50" width="8.70" height="43.30" fill="#ffffff" stroke="#d69a9a" stroke-width="0.9"/>
<rect x="567.67" y="475.13" width="8.70" height="4.67" fill="#ffffff" stroke="#d69a9a" stroke-width="0.9"/>
<line x1="572.01" y1="468.72" x2="572.01" y2="475.13" stroke="#c05050" stroke-width="0.8"/>
<line x1="569.84" y1="468.72" x2="574.19" y2="468.72" stroke="#c05050" stroke-width="0.8"/>
<circle cx="574.01" cy="513.34" r="1.65" fill="#8e1b1b"/>
<circle cx="572.37" cy="486.05" r="1.65" fill="#ffffff" stroke="#777" stroke-width="0.6"/>
<rect x="577.78" y="485.50" width="8.70" height="43.30" fill="#ffffff" stroke="#d69a9a" stroke-width="0.9"/>
<rect x="577.78" y="470.86" width="8.70" height="8.94" fill="#ffffff" stroke="#d69a9a" stroke-width="0.9"/>
<line x1="582.13" y1="462.32" x2="582.13" y2="470.86" stroke="#c05050" stroke-width="0.8"/>
<line x1="579.95" y1="462.32" x2="584.30" y2="462.32" stroke="#c05050" stroke-width="0.8"/>
<circle cx="581.97" cy="466.53" r="1.65" fill="#8e1b1b"/>
<circle cx="584.32" cy="507.72" r="1.65" fill="#ffffff" stroke="#777" stroke-width="0.6"/>
<circle cx="581.16" cy="525.79" r="1.65" fill="#aaaaaa"/>
<rect x="587.89" y="500.98" width="8.70" height="27.82" fill="#ffffff" stroke="#d69a9a" stroke-width="0.9"/>
<line x1="592.24" y1="494.56" x2="592.24" y2="507.40" stroke="#c05050" stroke-width="0.8"/>
<line x1="590.07" y1="494.56" x2="594.42" y2="494.56" stroke="#c05050" stroke-width="0.8"/>
<line x1="590.07" y1="507.40" x2="594.42" y2="507.40" stroke="#c05050" stroke-width="0.8"/>
<circle cx="593.89" cy="502.24" r="1.65" fill="#ffffff" stroke="#777" stroke-width="0.6"/>
<circle cx="593.53" cy="509.90" r="1.65" fill="#aaaaaa"/>
<line x1="353.60" y1="479.40" x2="600.00" y2="479.40" stroke="#1a1a1a" stroke-width="1.0" stroke-dasharray="2.5,1.3"/>
<line x1="353.60" y1="486.00" x2="600.00" y2="486.00" stroke="#1a1a1a" stroke-width="1.0" stroke-dasharray="2.5,1.3"/>
<line x1="353.60" y1="436.70" x2="353.60" y2="480.30" stroke="#111" stroke-width="1.4"/>
<line x1="353.60" y1="485.00" x2="353.60" y2="528.80" stroke="#111" stroke-width="1.4"/>
<line x1="352.90" y1="528.80" x2="600.00" y2="528.80" stroke="#111" stroke-width="1.4"/>
<line x1="350.10" y1="436.70" x2="353.60" y2="436.70" stroke="#111" stroke-width="1.1"/>
<text x="349.10" y="439.30" font-size="7.4" font-weight="bold" fill="#222" text-anchor="end">3</text>
<line x1="350.10" y1="457.80" x2="353.60" y2="457.80" stroke="#111" stroke-width="1.1"/>
<text x="349.10" y="460.40" font-size="7.4" font-weight="bold" fill="#222" text-anchor="end">2</text>
<line x1="350.10" y1="479.40" x2="353.60" y2="479.40" stroke="#111" stroke-width="1.1"/>
<text x="349.10" y="482.00" font-size="7.4" font-weight="bold" fill="#222" text-anchor="end">1</text>
<line x1="350.10" y1="479.80" x2="353.60" y2="479.80" stroke="#111" stroke-width="1.1"/>
<line x1="350.10" y1="486.00" x2="353.60" y2="486.00" stroke="#111" stroke-width="1.1"/>
<text x="349.10" y="488.60" font-size="7.4" font-weight="bold" fill="#222" text-anchor="end">1.0</text>
<line x1="350.10" y1="507.40" x2="353.60" y2="507.40" stroke="#111" stroke-width="1.1"/>
<text x="349.10" y="510.00" font-size="7.4" font-weight="bold" fill="#222" text-anchor="end">0.5</text>
<line x1="350.10" y1="528.80" x2="353.60" y2="528.80" stroke="#111" stroke-width="1.1"/>
<text x="349.10" y="531.40" font-size="7.4" font-weight="bold" fill="#222" text-anchor="end">0.0</text>
<line x1="362.16" y1="528.80" x2="362.16" y2="533.00" stroke="#111" stroke-width="1.3"/>
<text x="364.76" y="538.40" font-size="7.7" font-weight="bold" font-style="italic" fill="#000" text-anchor="end" transform="rotate(-45 364.76428571428573 538.4)">IL-6</text>
<line x1="372.49" y1="528.80" x2="372.49" y2="533.00" stroke="#111" stroke-width="1.3"/>
<text x="375.09" y="538.40" font-size="7.7" font-weight="bold" font-style="italic" fill="#000" text-anchor="end" transform="rotate(-45 375.09285714285716 538.4)">IL-8</text>
<line x1="382.82" y1="528.80" x2="382.82" y2="533.00" stroke="#111" stroke-width="1.3"/>
<text x="385.42" y="538.40" font-size="7.7" font-weight="bold" font-style="italic" fill="#000" text-anchor="end" transform="rotate(-45 385.4214285714286 538.4)">TNF-α</text>
<line x1="393.15" y1="528.80" x2="393.15" y2="533.00" stroke="#111" stroke-width="1.3"/>
<text x="395.75" y="538.40" font-size="7.7" font-weight="bold" font-style="italic" fill="#000" text-anchor="end" transform="rotate(-45 395.75 538.4)">IL-10</text>
<line x1="403.48" y1="528.80" x2="403.48" y2="533.00" stroke="#111" stroke-width="1.3"/>
<text x="406.08" y="538.40" font-size="7.7" font-weight="bold" font-style="italic" fill="#000" text-anchor="end" transform="rotate(-45 406.0785714285715 538.4)">TGF-β</text>
<line x1="413.81" y1="528.80" x2="413.81" y2="533.00" stroke="#111" stroke-width="1.3"/>
<text x="416.41" y="538.40" font-size="7.7" font-weight="bold" font-style="italic" fill="#000" text-anchor="end" transform="rotate(-45 416.4071428571429 538.4)">IL-1β</text>
<line x1="424.14" y1="528.80" x2="424.14" y2="533.00" stroke="#111" stroke-width="1.3"/>
<text x="426.74" y="538.40" font-size="7.7" font-weight="bold" font-style="italic" fill="#000" text-anchor="end" transform="rotate(-45 426.7357142857143 538.4)">IL-18</text>
<line x1="447.07" y1="528.80" x2="447.07" y2="533.00" stroke="#111" stroke-width="1.3"/>
<text x="449.67" y="538.40" font-size="7.7" font-weight="bold" font-style="italic" fill="#000" text-anchor="end" transform="rotate(-45 449.6714285714286 538.4)">IL-6</text>
<line x1="457.21" y1="528.80" x2="457.21" y2="533.00" stroke="#111" stroke-width="1.3"/>
<text x="459.81" y="538.40" font-size="7.7" font-weight="bold" font-style="italic" fill="#000" text-anchor="end" transform="rotate(-45 459.81428571428575 538.4)">IL-8</text>
<line x1="467.36" y1="528.80" x2="467.36" y2="533.00" stroke="#111" stroke-width="1.3"/>
<text x="469.96" y="538.40" font-size="7.7" font-weight="bold" font-style="italic" fill="#000" text-anchor="end" transform="rotate(-45 469.95714285714286 538.4)">TNF-α</text>
<line x1="477.50" y1="528.80" x2="477.50" y2="533.00" stroke="#111" stroke-width="1.3"/>
<text x="480.10" y="538.40" font-size="7.7" font-weight="bold" font-style="italic" fill="#000" text-anchor="end" transform="rotate(-45 480.1 538.4)">IL-10</text>
<line x1="487.64" y1="528.80" x2="487.64" y2="533.00" stroke="#111" stroke-width="1.3"/>
<text x="490.24" y="538.40" font-size="7.7" font-weight="bold" font-style="italic" fill="#000" text-anchor="end" transform="rotate(-45 490.24285714285713 538.4)">TGF-β</text>
<line x1="497.79" y1="528.80" x2="497.79" y2="533.00" stroke="#111" stroke-width="1.3"/>
<text x="500.39" y="538.40" font-size="7.7" font-weight="bold" font-style="italic" fill="#000" text-anchor="end" transform="rotate(-45 500.3857142857143 538.4)">IL-1β</text>
<line x1="507.93" y1="528.80" x2="507.93" y2="533.00" stroke="#111" stroke-width="1.3"/>
<text x="510.53" y="538.40" font-size="7.7" font-weight="bold" font-style="italic" fill="#000" text-anchor="end" transform="rotate(-45 510.52857142857147 538.4)">IL-18</text>
<line x1="531.56" y1="528.80" x2="531.56" y2="533.00" stroke="#111" stroke-width="1.3"/>
<text x="534.16" y="538.40" font-size="7.7" font-weight="bold" font-style="italic" fill="#000" text-anchor="end" transform="rotate(-45 534.1571428571428 538.4)">IL-6</text>
<line x1="541.67" y1="528.80" x2="541.67" y2="533.00" stroke="#111" stroke-width="1.3"/>
<text x="544.27" y="538.40" font-size="7.7" font-weight="bold" font-style="italic" fill="#000" text-anchor="end" transform="rotate(-45 544.2714285714286 538.4)">IL-8</text>
<line x1="551.79" y1="528.80" x2="551.79" y2="533.00" stroke="#111" stroke-width="1.3"/>
<text x="554.39" y="538.40" font-size="7.7" font-weight="bold" font-style="italic" fill="#000" text-anchor="end" transform="rotate(-45 554.3857142857142 538.4)">TNF-α</text>
<line x1="561.90" y1="528.80" x2="561.90" y2="533.00" stroke="#111" stroke-width="1.3"/>
<text x="564.50" y="538.40" font-size="7.7" font-weight="bold" font-style="italic" fill="#000" text-anchor="end" transform="rotate(-45 564.5 538.4)">IL-10</text>
<line x1="572.01" y1="528.80" x2="572.01" y2="533.00" stroke="#111" stroke-width="1.3"/>
<text x="574.61" y="538.40" font-size="7.7" font-weight="bold" font-style="italic" fill="#000" text-anchor="end" transform="rotate(-45 574.6142857142858 538.4)">TGF-β</text>
<line x1="582.13" y1="528.80" x2="582.13" y2="533.00" stroke="#111" stroke-width="1.3"/>
<text x="584.73" y="538.40" font-size="7.7" font-weight="bold" font-style="italic" fill="#000" text-anchor="end" transform="rotate(-45 584.7285714285714 538.4)">IL-1β</text>
<line x1="592.24" y1="528.80" x2="592.24" y2="533.00" stroke="#111" stroke-width="1.3"/>
<text x="594.84" y="538.40" font-size="7.7" font-weight="bold" font-style="italic" fill="#000" text-anchor="end" transform="rotate(-45 594.8428571428572 538.4)">IL-18</text>
<line x1="356.20" y1="574.80" x2="433.80" y2="574.80" stroke="#4a4a4a" stroke-width="1.5"/>
<text x="395.00" y="572.80" font-size="11.8" font-weight="bold" fill="#1a1a1a" text-anchor="middle">HC</text>
<text x="395.00" y="583.70" font-size="10.4" font-style="italic" fill="#333" text-anchor="middle">n = 6</text>
<rect x="356.65" y="621.30" width="5.56" height="41.60" fill="#ffffff" stroke="#a5c5ee" stroke-width="0.9"/>
<line x1="359.43" y1="620.98" x2="359.43" y2="623.85" stroke="#7aa8e4" stroke-width="0.8"/>
<line x1="358.04" y1="620.98" x2="360.82" y2="620.98" stroke="#7aa8e4" stroke-width="0.8"/>
<line x1="358.04" y1="623.85" x2="360.82" y2="623.85" stroke="#7aa8e4" stroke-width="0.8"/>
<rect x="359.02" y="629.24" width="2.70" height="2.70" fill="#242b7d"/>
<rect x="357.07" y="613.15" width="2.70" height="2.70" fill="#5a5db8"/>
<rect x="358.20" y="630.31" width="2.70" height="2.70" fill="#9d9bd8"/>
<rect x="357.98" y="613.15" width="2.70" height="2.70" fill="#ffffff" stroke="#222" stroke-width="0.6"/>
<rect x="357.93" y="621.27" width="2.70" height="2.70" fill="#666666"/>
<rect x="363.12" y="621.30" width="5.56" height="41.60" fill="#ffffff" stroke="#a5c5ee" stroke-width="0.9"/>
<line x1="365.90" y1="620.98" x2="365.90" y2="623.85" stroke="#7aa8e4" stroke-width="0.8"/>
<line x1="364.51" y1="620.98" x2="367.29" y2="620.98" stroke="#7aa8e4" stroke-width="0.8"/>
<line x1="364.51" y1="623.85" x2="367.29" y2="623.85" stroke="#7aa8e4" stroke-width="0.8"/>
<rect x="364.68" y="613.15" width="2.70" height="2.70" fill="#242b7d"/>
<rect x="364.53" y="621.27" width="2.70" height="2.70" fill="#56c2ef"/>
<rect x="363.32" y="623.58" width="2.70" height="2.70" fill="#5a5db8"/>
<rect x="365.27" y="613.15" width="2.70" height="2.70" fill="#9d9bd8"/>
<rect x="364.57" y="621.27" width="2.70" height="2.70" fill="#ffffff" stroke="#222" stroke-width="0.6"/>
<rect x="362.94" y="626.34" width="2.70" height="2.70" fill="#666666"/>
<rect x="369.59" y="621.30" width="5.56" height="41.60" fill="#ffffff" stroke="#a5c5ee" stroke-width="0.9"/>
<line x1="372.37" y1="620.98" x2="372.37" y2="623.85" stroke="#7aa8e4" stroke-width="0.8"/>
<line x1="370.98" y1="620.98" x2="373.76" y2="620.98" stroke="#7aa8e4" stroke-width="0.8"/>
<line x1="370.98" y1="623.85" x2="373.76" y2="623.85" stroke="#7aa8e4" stroke-width="0.8"/>
<rect x="371.90" y="621.27" width="2.70" height="2.70" fill="#242b7d"/>
<rect x="369.74" y="621.27" width="2.70" height="2.70" fill="#56c2ef"/>
<rect x="372.39" y="621.27" width="2.70" height="2.70" fill="#5a5db8"/>
<rect x="369.37" y="621.27" width="2.70" height="2.70" fill="#9d9bd8"/>
<rect x="369.83" y="613.15" width="2.70" height="2.70" fill="#ffffff" stroke="#222" stroke-width="0.6"/>
<rect x="369.92" y="632.99" width="2.70" height="2.70" fill="#666666"/>
<rect x="376.05" y="621.30" width="5.56" height="41.60" fill="#ffffff" stroke="#a5c5ee" stroke-width="0.9"/>
<line x1="378.83" y1="620.98" x2="378.83" y2="623.85" stroke="#7aa8e4" stroke-width="0.8"/>
<line x1="377.44" y1="620.98" x2="380.22" y2="620.98" stroke="#7aa8e4" stroke-width="0.8"/>
<line x1="377.44" y1="623.85" x2="380.22" y2="623.85" stroke="#7aa8e4" stroke-width="0.8"/>
<rect x="377.61" y="621.27" width="2.70" height="2.70" fill="#242b7d"/>
<rect x="377.17" y="621.27" width="2.70" height="2.70" fill="#56c2ef"/>
<rect x="376.00" y="629.89" width="2.70" height="2.70" fill="#5a5db8"/>
<rect x="376.23" y="613.15" width="2.70" height="2.70" fill="#9d9bd8"/>
<rect x="377.90" y="621.27" width="2.70" height="2.70" fill="#ffffff" stroke="#222" stroke-width="0.6"/>
<rect x="377.44" y="621.27" width="2.70" height="2.70" fill="#666666"/>
<rect x="382.52" y="621.30" width="5.56" height="41.60" fill="#ffffff" stroke="#a5c5ee" stroke-width="0.9"/>
<rect x="382.52" y="605.50" width="5.56" height="10.20" fill="#ffffff" stroke="#a5c5ee" stroke-width="0.9"/>
<line x1="385.30" y1="599.20" x2="385.30" y2="605.50" stroke="#7aa8e4" stroke-width="0.8"/>
<line x1="383.91" y1="599.20" x2="386.69" y2="599.20" stroke="#7aa8e4" stroke-width="0.8"/>
<rect x="385.10" y="610.08" width="2.70" height="2.70" fill="#242b7d"/>
<rect x="383.65" y="604.55" width="2.70" height="2.70" fill="#56c2ef"/>
<rect x="382.76" y="602.54" width="2.70" height="2.70" fill="#5a5db8"/>
<rect x="384.23" y="600.21" width="2.70" height="2.70" fill="#9d9bd8"/>
<rect x="383.07" y="595.85" width="2.70" height="2.70" fill="#666666"/>
<rect x="388.99" y="621.30" width="5.56" height="41.60" fill="#ffffff" stroke="#a5c5ee" stroke-width="0.9"/>
<line x1="391.77" y1="620.98" x2="391.77" y2="623.85" stroke="#7aa8e4" stroke-width="0.8"/>
<line x1="390.38" y1="620.98" x2="393.16" y2="620.98" stroke="#7aa8e4" stroke-width="0.8"/>
<line x1="390.38" y1="623.85" x2="393.16" y2="623.85" stroke="#7aa8e4" stroke-width="0.8"/>
<rect x="388.84" y="626.51" width="2.70" height="2.70" fill="#242b7d"/>
<rect x="391.91" y="613.15" width="2.70" height="2.70" fill="#56c2ef"/>
<rect x="391.20" y="621.27" width="2.70" height="2.70" fill="#9d9bd8"/>
<rect x="389.99" y="628.39" width="2.70" height="2.70" fill="#ffffff" stroke="#222" stroke-width="0.6"/>
<rect x="391.47" y="628.29" width="2.70" height="2.70" fill="#666666"/>
<rect x="395.45" y="621.30" width="5.56" height="41.60" fill="#ffffff" stroke="#a5c5ee" stroke-width="0.9"/>
<line x1="398.23" y1="620.98" x2="398.23" y2="623.85" stroke="#7aa8e4" stroke-width="0.8"/>
<line x1="396.84" y1="620.98" x2="399.62" y2="620.98" stroke="#7aa8e4" stroke-width="0.8"/>
<line x1="396.84" y1="623.85" x2="399.62" y2="623.85" stroke="#7aa8e4" stroke-width="0.8"/>
<rect x="395.48" y="621.27" width="2.70" height="2.70" fill="#56c2ef"/>
<rect x="397.15" y="626.13" width="2.70" height="2.70" fill="#5a5db8"/>
<rect x="398.35" y="621.27" width="2.70" height="2.70" fill="#9d9bd8"/>
<rect x="395.48" y="621.27" width="2.70" height="2.70" fill="#666666"/>
<rect x="401.92" y="630.84" width="5.56" height="32.06" fill="#ffffff" stroke="#a5c5ee" stroke-width="0.9"/>
<line x1="404.70" y1="626.73" x2="404.70" y2="634.95" stroke="#7aa8e4" stroke-width="0.8"/>
<line x1="403.31" y1="626.73" x2="406.09" y2="626.73" stroke="#7aa8e4" stroke-width="0.8"/>
<line x1="403.31" y1="634.95" x2="406.09" y2="634.95" stroke="#7aa8e4" stroke-width="0.8"/>
<rect x="404.35" y="622.88" width="2.70" height="2.70" fill="#56c2ef"/>
<rect x="402.41" y="629.96" width="2.70" height="2.70" fill="#5a5db8"/>
<rect x="403.89" y="621.27" width="2.70" height="2.70" fill="#9d9bd8"/>
<rect x="401.80" y="621.27" width="2.70" height="2.70" fill="#ffffff" stroke="#222" stroke-width="0.6"/>
<rect x="401.86" y="641.08" width="2.70" height="2.70" fill="#666666"/>
<rect x="408.39" y="621.30" width="5.56" height="41.60" fill="#ffffff" stroke="#a5c5ee" stroke-width="0.9"/>
<line x1="411.17" y1="620.98" x2="411.17" y2="623.85" stroke="#7aa8e4" stroke-width="0.8"/>
<line x1="409.78" y1="620.98" x2="412.56" y2="620.98" stroke="#7aa8e4" stroke-width="0.8"/>
<line x1="409.78" y1="623.85" x2="412.56" y2="623.85" stroke="#7aa8e4" stroke-width="0.8"/>
<rect x="408.52" y="621.27" width="2.70" height="2.70" fill="#242b7d"/>
<rect x="410.50" y="621.27" width="2.70" height="2.70" fill="#56c2ef"/>
<rect x="408.48" y="621.27" width="2.70" height="2.70" fill="#5a5db8"/>
<rect x="410.16" y="621.27" width="2.70" height="2.70" fill="#9d9bd8"/>
<rect x="411.17" y="624.77" width="2.70" height="2.70" fill="#ffffff" stroke="#222" stroke-width="0.6"/>
<rect x="408.57" y="621.27" width="2.70" height="2.70" fill="#666666"/>
<rect x="414.85" y="621.30" width="5.56" height="41.60" fill="#ffffff" stroke="#a5c5ee" stroke-width="0.9"/>
<line x1="417.63" y1="620.98" x2="417.63" y2="623.85" stroke="#7aa8e4" stroke-width="0.8"/>
<line x1="416.24" y1="620.98" x2="419.02" y2="620.98" stroke="#7aa8e4" stroke-width="0.8"/>
<line x1="416.24" y1="623.85" x2="419.02" y2="623.85" stroke="#7aa8e4" stroke-width="0.8"/>
<rect x="415.64" y="624.57" width="2.70" height="2.70" fill="#242b7d"/>
<rect x="416.85" y="613.15" width="2.70" height="2.70" fill="#56c2ef"/>
<rect x="417.09" y="623.15" width="2.70" height="2.70" fill="#5a5db8"/>
<rect x="416.89" y="621.27" width="2.70" height="2.70" fill="#9d9bd8"/>
<rect x="415.78" y="621.27" width="2.70" height="2.70" fill="#ffffff" stroke="#222" stroke-width="0.6"/>
<rect x="415.04" y="622.47" width="2.70" height="2.70" fill="#666666"/>
<rect x="421.32" y="621.30" width="5.56" height="41.60" fill="#ffffff" stroke="#a5c5ee" stroke-width="0.9"/>
<line x1="424.10" y1="620.98" x2="424.10" y2="623.85" stroke="#7aa8e4" stroke-width="0.8"/>
<line x1="422.71" y1="620.98" x2="425.49" y2="620.98" stroke="#7aa8e4" stroke-width="0.8"/>
<line x1="422.71" y1="623.85" x2="425.49" y2="623.85" stroke="#7aa8e4" stroke-width="0.8"/>
<rect x="423.64" y="623.38" width="2.70" height="2.70" fill="#56c2ef"/>
<rect x="421.29" y="636.26" width="2.70" height="2.70" fill="#5a5db8"/>
<rect x="423.26" y="625.59" width="2.70" height="2.70" fill="#666666"/>
<rect x="427.79" y="621.30" width="5.56" height="41.60" fill="#ffffff" stroke="#a5c5ee" stroke-width="0.9"/>
<line x1="430.57" y1="620.98" x2="430.57" y2="623.85" stroke="#7aa8e4" stroke-width="0.8"/>
<line x1="429.18" y1="620.98" x2="431.96" y2="620.98" stroke="#7aa8e4" stroke-width="0.8"/>
<line x1="429.18" y1="623.85" x2="431.96" y2="623.85" stroke="#7aa8e4" stroke-width="0.8"/>
<rect x="429.43" y="638.53" width="2.70" height="2.70" fill="#242b7d"/>
<rect x="427.93" y="621.27" width="2.70" height="2.70" fill="#56c2ef"/>
<rect x="430.71" y="621.27" width="2.70" height="2.70" fill="#5a5db8"/>
<rect x="429.19" y="621.51" width="2.70" height="2.70" fill="#9d9bd8"/>
<rect x="427.72" y="621.27" width="2.70" height="2.70" fill="#ffffff" stroke="#222" stroke-width="0.6"/>
<line x1="442.50" y1="574.80" x2="520.20" y2="574.80" stroke="#4a4a4a" stroke-width="1.5"/>
<text x="481.35" y="572.80" font-size="11.8" font-weight="bold" fill="#1a1a1a" text-anchor="middle">MCI</text>
<text x="481.35" y="583.70" font-size="10.4" font-style="italic" fill="#333" text-anchor="middle">n = 3</text>
<rect x="442.95" y="624.68" width="5.57" height="38.22" fill="#ffffff" stroke="#7ea57c" stroke-width="0.9"/>
<line x1="445.74" y1="622.62" x2="445.74" y2="626.73" stroke="#4a804a" stroke-width="0.8"/>
<line x1="444.35" y1="622.62" x2="447.13" y2="622.62" stroke="#4a804a" stroke-width="0.8"/>
<line x1="444.35" y1="626.73" x2="447.13" y2="626.73" stroke="#4a804a" stroke-width="0.8"/>
<path d="M446.60 621.07L448.15 623.86L445.05 623.86Z" fill="#1d6b3a"/>
<path d="M445.94 625.36L447.49 628.15L444.38 628.15Z" fill="#b8b8b8"/>
<path d="M444.60 621.07L446.15 623.86L443.05 623.86Z" fill="#ffffff" stroke="#333" stroke-width="0.6"/>
<rect x="449.43" y="625.09" width="5.57" height="37.81" fill="#ffffff" stroke="#7ea57c" stroke-width="0.9"/>
<line x1="452.21" y1="623.03" x2="452.21" y2="627.14" stroke="#4a804a" stroke-width="0.8"/>
<line x1="450.82" y1="623.03" x2="453.60" y2="623.03" stroke="#4a804a" stroke-width="0.8"/>
<line x1="450.82" y1="627.14" x2="453.60" y2="627.14" stroke="#4a804a" stroke-width="0.8"/>
<path d="M453.32 621.07L454.88 623.86L451.77 623.86Z" fill="#1d6b3a"/>
<path d="M451.86 621.07L453.41 623.86L450.31 623.86Z" fill="#b8b8b8"/>
<path d="M452.78 623.00L454.33 625.80L451.23 625.80Z" fill="#ffffff" stroke="#333" stroke-width="0.6"/>
<rect x="455.90" y="625.91" width="5.57" height="36.99" fill="#ffffff" stroke="#7ea57c" stroke-width="0.9"/>
<line x1="458.69" y1="623.85" x2="458.69" y2="627.96" stroke="#4a804a" stroke-width="0.8"/>
<line x1="457.30" y1="623.85" x2="460.08" y2="623.85" stroke="#4a804a" stroke-width="0.8"/>
<line x1="457.30" y1="627.96" x2="460.08" y2="627.96" stroke="#4a804a" stroke-width="0.8"/>
<path d="M458.52 621.53L460.07 624.32L456.97 624.32Z" fill="#1d6b3a"/>
<path d="M457.75 631.14L459.30 633.93L456.19 633.93Z" fill="#b8b8b8"/>
<path d="M458.26 621.07L459.81 623.86L456.71 623.86Z" fill="#ffffff" stroke="#333" stroke-width="0.6"/>
<rect x="462.38" y="624.68" width="5.57" height="38.22" fill="#ffffff" stroke="#7ea57c" stroke-width="0.9"/>
<line x1="465.16" y1="622.62" x2="465.16" y2="626.73" stroke="#4a804a" stroke-width="0.8"/>
<line x1="463.77" y1="622.62" x2="466.55" y2="622.62" stroke="#4a804a" stroke-width="0.8"/>
<line x1="463.77" y1="626.73" x2="466.55" y2="626.73" stroke="#4a804a" stroke-width="0.8"/>
<path d="M465.56 634.67L467.11 637.46L464.01 637.46Z" fill="#1d6b3a"/>
<path d="M464.87 621.07L466.42 623.86L463.31 623.86Z" fill="#b8b8b8"/>
<path d="M464.12 630.46L465.67 633.26L462.57 633.26Z" fill="#ffffff" stroke="#333" stroke-width="0.6"/>
<rect x="468.85" y="621.30" width="5.57" height="41.60" fill="#ffffff" stroke="#7ea57c" stroke-width="0.9"/>
<rect x="468.85" y="606.55" width="5.57" height="9.15" fill="#ffffff" stroke="#7ea57c" stroke-width="0.9"/>
<line x1="471.64" y1="599.20" x2="471.64" y2="606.55" stroke="#4a804a" stroke-width="0.8"/>
<line x1="470.25" y1="599.20" x2="473.03" y2="599.20" stroke="#4a804a" stroke-width="0.8"/>
<path d="M470.97 660.53L472.52 663.32L469.41 663.32Z" fill="#1d6b3a"/>
<path d="M472.21 660.53L473.76 663.32L470.65 663.32Z" fill="#b8b8b8"/>
<rect x="475.33" y="625.91" width="5.57" height="36.99" fill="#ffffff" stroke="#7ea57c" stroke-width="0.9"/>
<line x1="478.11" y1="623.85" x2="478.11" y2="627.96" stroke="#4a804a" stroke-width="0.8"/>
<line x1="476.72" y1="623.85" x2="479.50" y2="623.85" stroke="#4a804a" stroke-width="0.8"/>
<line x1="476.72" y1="627.96" x2="479.50" y2="627.96" stroke="#4a804a" stroke-width="0.8"/>
<path d="M476.96 623.27L478.52 626.07L475.41 626.07Z" fill="#1d6b3a"/>
<path d="M478.89 622.01L480.44 624.81L477.33 624.81Z" fill="#b8b8b8"/>
<path d="M479.22 621.07L480.77 623.86L477.67 623.86Z" fill="#ffffff" stroke="#333" stroke-width="0.6"/>
<rect x="481.80" y="627.96" width="5.57" height="34.94" fill="#ffffff" stroke="#7ea57c" stroke-width="0.9"/>
<line x1="484.59" y1="623.85" x2="484.59" y2="632.07" stroke="#4a804a" stroke-width="0.8"/>
<line x1="483.20" y1="623.85" x2="485.98" y2="623.85" stroke="#4a804a" stroke-width="0.8"/>
<line x1="483.20" y1="632.07" x2="485.98" y2="632.07" stroke="#4a804a" stroke-width="0.8"/>
<path d="M485.97 612.95L487.52 615.74L484.42 615.74Z" fill="#1d6b3a"/>
<path d="M485.20 628.64L486.75 631.44L483.64 631.44Z" fill="#b8b8b8"/>
<path d="M484.17 621.07L485.72 623.86L482.61 623.86Z" fill="#ffffff" stroke="#333" stroke-width="0.6"/>
<rect x="488.28" y="625.91" width="5.57" height="36.99" fill="#ffffff" stroke="#7ea57c" stroke-width="0.9"/>
<line x1="491.06" y1="621.80" x2="491.06" y2="630.02" stroke="#4a804a" stroke-width="0.8"/>
<line x1="489.67" y1="621.80" x2="492.45" y2="621.80" stroke="#4a804a" stroke-width="0.8"/>
<line x1="489.67" y1="630.02" x2="492.45" y2="630.02" stroke="#4a804a" stroke-width="0.8"/>
<path d="M490.88 640.50L492.43 643.30L489.32 643.30Z" fill="#b8b8b8"/>
<path d="M492.73 621.07L494.28 623.86L491.18 623.86Z" fill="#ffffff" stroke="#333" stroke-width="0.6"/>
<rect x="494.75" y="623.85" width="5.57" height="39.05" fill="#ffffff" stroke="#7ea57c" stroke-width="0.9"/>
<line x1="497.54" y1="621.80" x2="497.54" y2="625.91" stroke="#4a804a" stroke-width="0.8"/>
<line x1="496.15" y1="621.80" x2="498.93" y2="621.80" stroke="#4a804a" stroke-width="0.8"/>
<line x1="496.15" y1="625.91" x2="498.93" y2="625.91" stroke="#4a804a" stroke-width="0.8"/>
<path d="M498.14 639.08L499.69 641.87L496.58 641.87Z" fill="#b8b8b8"/>
<path d="M496.18 625.68L497.74 628.48L494.63 628.48Z" fill="#ffffff" stroke="#333" stroke-width="0.6"/>
<rect x="501.23" y="625.91" width="5.57" height="36.99" fill="#ffffff" stroke="#7ea57c" stroke-width="0.9"/>
<line x1="504.01" y1="623.85" x2="504.01" y2="627.96" stroke="#4a804a" stroke-width="0.8"/>
<line x1="502.62" y1="623.85" x2="505.40" y2="623.85" stroke="#4a804a" stroke-width="0.8"/>
<line x1="502.62" y1="627.96" x2="505.40" y2="627.96" stroke="#4a804a" stroke-width="0.8"/>
<path d="M502.52 634.45L504.08 637.24L500.97 637.24Z" fill="#b8b8b8"/>
<path d="M505.26 637.46L506.82 640.26L503.71 640.26Z" fill="#ffffff" stroke="#333" stroke-width="0.6"/>
<rect x="507.70" y="632.07" width="5.57" height="30.83" fill="#ffffff" stroke="#7ea57c" stroke-width="0.9"/>
<line x1="510.49" y1="630.02" x2="510.49" y2="634.13" stroke="#4a804a" stroke-width="0.8"/>
<line x1="509.10" y1="630.02" x2="511.88" y2="630.02" stroke="#4a804a" stroke-width="0.8"/>
<line x1="509.10" y1="634.13" x2="511.88" y2="634.13" stroke="#4a804a" stroke-width="0.8"/>
<path d="M509.79 629.96L511.34 632.76L508.24 632.76Z" fill="#1d6b3a"/>
<path d="M509.47 638.53L511.03 641.32L507.92 641.32Z" fill="#ffffff" stroke="#333" stroke-width="0.6"/>
<rect x="514.18" y="644.40" width="5.57" height="18.50" fill="#ffffff" stroke="#7ea57c" stroke-width="0.9"/>
<line x1="516.96" y1="641.53" x2="516.96" y2="647.28" stroke="#4a804a" stroke-width="0.8"/>
<line x1="515.57" y1="641.53" x2="518.35" y2="641.53" stroke="#4a804a" stroke-width="0.8"/>
<line x1="515.57" y1="647.28" x2="518.35" y2="647.28" stroke="#4a804a" stroke-width="0.8"/>
<path d="M515.32 626.88L516.87 629.68L513.76 629.68Z" fill="#1d6b3a"/>
<path d="M516.85 656.75L518.41 659.54L515.30 659.54Z" fill="#ffffff" stroke="#333" stroke-width="0.6"/>
<line x1="529.30" y1="574.80" x2="608.90" y2="574.80" stroke="#4a4a4a" stroke-width="1.5"/>
<text x="569.10" y="572.80" font-size="11.8" font-weight="bold" fill="#1a1a1a" text-anchor="middle">AD</text>
<text x="569.10" y="583.70" font-size="10.4" font-style="italic" fill="#333" text-anchor="middle">n = 3</text>
<rect x="529.76" y="621.30" width="5.70" height="41.60" fill="#ffffff" stroke="#d69a9a" stroke-width="0.9"/>
<line x1="532.62" y1="620.98" x2="532.62" y2="623.85" stroke="#c05050" stroke-width="0.8"/>
<line x1="531.19" y1="620.98" x2="534.04" y2="620.98" stroke="#c05050" stroke-width="0.8"/>
<line x1="531.19" y1="623.85" x2="534.04" y2="623.85" stroke="#c05050" stroke-width="0.8"/>
<circle cx="531.14" cy="614.50" r="1.35" fill="#8e1b1b"/>
<circle cx="533.53" cy="632.60" r="1.35" fill="#ffffff" stroke="#777" stroke-width="0.6"/>
<circle cx="532.16" cy="614.50" r="1.35" fill="#aaaaaa"/>
<rect x="536.40" y="621.30" width="5.70" height="41.60" fill="#ffffff" stroke="#d69a9a" stroke-width="0.9"/>
<line x1="539.25" y1="620.98" x2="539.25" y2="623.85" stroke="#c05050" stroke-width="0.8"/>
<line x1="537.82" y1="620.98" x2="540.68" y2="620.98" stroke="#c05050" stroke-width="0.8"/>
<line x1="537.82" y1="623.85" x2="540.68" y2="623.85" stroke="#c05050" stroke-width="0.8"/>
<circle cx="540.32" cy="622.62" r="1.35" fill="#8e1b1b"/>
<circle cx="540.01" cy="622.62" r="1.35" fill="#ffffff" stroke="#777" stroke-width="0.6"/>
<circle cx="539.52" cy="637.57" r="1.35" fill="#aaaaaa"/>
<rect x="543.03" y="621.30" width="5.70" height="41.60" fill="#ffffff" stroke="#d69a9a" stroke-width="0.9"/>
<rect x="543.03" y="613.90" width="5.70" height="1.80" fill="#ffffff" stroke="#d69a9a" stroke-width="0.9"/>
<line x1="545.88" y1="613.38" x2="545.88" y2="613.90" stroke="#c05050" stroke-width="0.8"/>
<line x1="544.46" y1="613.38" x2="547.31" y2="613.38" stroke="#c05050" stroke-width="0.8"/>
<circle cx="545.58" cy="614.43" r="1.35" fill="#8e1b1b"/>
<circle cx="546.64" cy="614.24" r="1.35" fill="#ffffff" stroke="#777" stroke-width="0.6"/>
<rect x="549.66" y="625.91" width="5.70" height="36.99" fill="#ffffff" stroke="#d69a9a" stroke-width="0.9"/>
<line x1="552.52" y1="623.85" x2="552.52" y2="627.96" stroke="#c05050" stroke-width="0.8"/>
<line x1="551.09" y1="623.85" x2="553.94" y2="623.85" stroke="#c05050" stroke-width="0.8"/>
<line x1="551.09" y1="627.96" x2="553.94" y2="627.96" stroke="#c05050" stroke-width="0.8"/>
<circle cx="551.63" cy="622.62" r="1.35" fill="#8e1b1b"/>
<rect x="556.30" y="621.30" width="5.70" height="41.60" fill="#ffffff" stroke="#d69a9a" stroke-width="0.9"/>
<rect x="556.30" y="611.80" width="5.70" height="3.90" fill="#ffffff" stroke="#d69a9a" stroke-width="0.9"/>
<line x1="559.15" y1="610.23" x2="559.15" y2="611.80" stroke="#c05050" stroke-width="0.8"/>
<line x1="557.72" y1="610.23" x2="560.58" y2="610.23" stroke="#c05050" stroke-width="0.8"/>
<circle cx="558.90" cy="606.65" r="1.35" fill="#8e1b1b"/>
<circle cx="560.07" cy="612.74" r="1.35" fill="#aaaaaa"/>
<rect x="562.93" y="621.30" width="5.70" height="41.60" fill="#ffffff" stroke="#d69a9a" stroke-width="0.9"/>
<line x1="565.78" y1="620.98" x2="565.78" y2="623.85" stroke="#c05050" stroke-width="0.8"/>
<line x1="564.36" y1="620.98" x2="567.21" y2="620.98" stroke="#c05050" stroke-width="0.8"/>
<line x1="564.36" y1="623.85" x2="567.21" y2="623.85" stroke="#c05050" stroke-width="0.8"/>
<circle cx="566.88" cy="624.61" r="1.35" fill="#8e1b1b"/>
<circle cx="565.25" cy="623.17" r="1.35" fill="#ffffff" stroke="#777" stroke-width="0.6"/>
<circle cx="566.59" cy="629.57" r="1.35" fill="#aaaaaa"/>
<rect x="569.56" y="621.30" width="5.70" height="41.60" fill="#ffffff" stroke="#d69a9a" stroke-width="0.9"/>
<line x1="572.42" y1="620.98" x2="572.42" y2="623.85" stroke="#c05050" stroke-width="0.8"/>
<line x1="570.99" y1="620.98" x2="573.84" y2="620.98" stroke="#c05050" stroke-width="0.8"/>
<line x1="570.99" y1="623.85" x2="573.84" y2="623.85" stroke="#c05050" stroke-width="0.8"/>
<circle cx="571.16" cy="622.62" r="1.35" fill="#8e1b1b"/>
<circle cx="571.39" cy="622.62" r="1.35" fill="#ffffff" stroke="#777" stroke-width="0.6"/>
<circle cx="572.15" cy="635.47" r="1.35" fill="#aaaaaa"/>
<rect x="576.20" y="621.30" width="5.70" height="41.60" fill="#ffffff" stroke="#d69a9a" stroke-width="0.9"/>
<line x1="579.05" y1="620.98" x2="579.05" y2="623.85" stroke="#c05050" stroke-width="0.8"/>
<line x1="577.62" y1="620.98" x2="580.48" y2="620.98" stroke="#c05050" stroke-width="0.8"/>
<line x1="577.62" y1="623.85" x2="580.48" y2="623.85" stroke="#c05050" stroke-width="0.8"/>
<circle cx="578.06" cy="628.70" r="1.35" fill="#8e1b1b"/>
<circle cx="577.69" cy="622.62" r="1.35" fill="#aaaaaa"/>
<rect x="582.83" y="621.30" width="5.70" height="41.60" fill="#ffffff" stroke="#d69a9a" stroke-width="0.9"/>
<line x1="585.68" y1="620.98" x2="585.68" y2="623.85" stroke="#c05050" stroke-width="0.8"/>
<line x1="584.26" y1="620.98" x2="587.11" y2="620.98" stroke="#c05050" stroke-width="0.8"/>
<line x1="584.26" y1="623.85" x2="587.11" y2="623.85" stroke="#c05050" stroke-width="0.8"/>
<circle cx="586.84" cy="622.62" r="1.35" fill="#ffffff" stroke="#777" stroke-width="0.6"/>
<circle cx="587.20" cy="622.62" r="1.35" fill="#aaaaaa"/>
<rect x="589.46" y="621.30" width="5.70" height="41.60" fill="#ffffff" stroke="#d69a9a" stroke-width="0.9"/>
<line x1="592.32" y1="620.98" x2="592.32" y2="623.85" stroke="#c05050" stroke-width="0.8"/>
<line x1="590.89" y1="620.98" x2="593.74" y2="620.98" stroke="#c05050" stroke-width="0.8"/>
<line x1="590.89" y1="623.85" x2="593.74" y2="623.85" stroke="#c05050" stroke-width="0.8"/>
<circle cx="592.32" cy="614.50" r="1.35" fill="#8e1b1b"/>
<circle cx="591.29" cy="622.62" r="1.35" fill="#ffffff" stroke="#777" stroke-width="0.6"/>
<circle cx="593.37" cy="622.62" r="1.35" fill="#aaaaaa"/>
<rect x="596.10" y="621.30" width="5.70" height="41.60" fill="#ffffff" stroke="#d69a9a" stroke-width="0.9"/>
<line x1="598.95" y1="620.98" x2="598.95" y2="623.85" stroke="#c05050" stroke-width="0.8"/>
<line x1="597.52" y1="620.98" x2="600.38" y2="620.98" stroke="#c05050" stroke-width="0.8"/>
<line x1="597.52" y1="623.85" x2="600.38" y2="623.85" stroke="#c05050" stroke-width="0.8"/>
<circle cx="598.33" cy="622.62" r="1.35" fill="#8e1b1b"/>
<circle cx="600.51" cy="626.52" r="1.35" fill="#ffffff" stroke="#777" stroke-width="0.6"/>
<circle cx="597.79" cy="614.50" r="1.35" fill="#aaaaaa"/>
<rect x="602.73" y="625.91" width="5.70" height="36.99" fill="#ffffff" stroke="#d69a9a" stroke-width="0.9"/>
<line x1="605.58" y1="620.98" x2="605.58" y2="632.07" stroke="#c05050" stroke-width="0.8"/>
<line x1="604.16" y1="620.98" x2="607.01" y2="620.98" stroke="#c05050" stroke-width="0.8"/>
<line x1="604.16" y1="632.07" x2="607.01" y2="632.07" stroke="#c05050" stroke-width="0.8"/>
<circle cx="607.27" cy="622.62" r="1.35" fill="#8e1b1b"/>
<circle cx="606.26" cy="647.05" r="1.35" fill="#ffffff" stroke="#777" stroke-width="0.6"/>
<circle cx="604.18" cy="629.01" r="1.35" fill="#aaaaaa"/>
<line x1="353.10" y1="615.30" x2="610.30" y2="615.30" stroke="#1a1a1a" stroke-width="1.0" stroke-dasharray="2.5,1.3"/>
<line x1="353.10" y1="621.80" x2="610.30" y2="621.80" stroke="#1a1a1a" stroke-width="1.0" stroke-dasharray="2.5,1.3"/>
<line x1="353.10" y1="574.00" x2="353.10" y2="616.20" stroke="#111" stroke-width="1.4"/>
<line x1="353.10" y1="620.80" x2="353.10" y2="662.90" stroke="#111" stroke-width="1.4"/>
<line x1="352.40" y1="662.90" x2="610.30" y2="662.90" stroke="#111" stroke-width="1.4"/>
<line x1="349.60" y1="574.00" x2="353.10" y2="574.00" stroke="#111" stroke-width="1.1"/>
<text x="348.60" y="576.60" font-size="7.4" font-weight="bold" fill="#222" text-anchor="end">40</text>
<line x1="349.60" y1="584.20" x2="353.10" y2="584.20" stroke="#111" stroke-width="1.1"/>
<text x="348.60" y="586.80" font-size="7.4" font-weight="bold" fill="#222" text-anchor="end">30</text>
<line x1="349.60" y1="594.90" x2="353.10" y2="594.90" stroke="#111" stroke-width="1.1"/>
<text x="348.60" y="597.50" font-size="7.4" font-weight="bold" fill="#222" text-anchor="end">20</text>
<line x1="349.60" y1="605.50" x2="353.10" y2="605.50" stroke="#111" stroke-width="1.1"/>
<text x="348.60" y="608.10" font-size="7.4" font-weight="bold" fill="#222" text-anchor="end">10</text>
<line x1="349.60" y1="615.70" x2="353.10" y2="615.70" stroke="#111" stroke-width="1.1"/>
<line x1="349.60" y1="621.80" x2="353.10" y2="621.80" stroke="#111" stroke-width="1.1"/>
<text x="348.60" y="624.40" font-size="7.4" font-weight="bold" fill="#222" text-anchor="end">1.0</text>
<line x1="349.60" y1="642.35" x2="353.10" y2="642.35" stroke="#111" stroke-width="1.1"/>
<text x="348.60" y="644.95" font-size="7.4" font-weight="bold" fill="#222" text-anchor="end">0.5</text>
<line x1="349.60" y1="662.90" x2="353.10" y2="662.90" stroke="#111" stroke-width="1.1"/>
<text x="348.60" y="665.50" font-size="7.4" font-weight="bold" fill="#222" text-anchor="end">0.0</text>
<line x1="359.43" y1="662.90" x2="359.43" y2="667.10" stroke="#111" stroke-width="1.3"/>
<text x="361.33" y="670.30" font-size="5.6" font-weight="bold" fill="#000" text-anchor="end" transform="rotate(-45 361.3333333333333 670.3)">IL-6</text>
<line x1="365.90" y1="662.90" x2="365.90" y2="667.10" stroke="#111" stroke-width="1.3"/>
<text x="367.80" y="670.30" font-size="5.6" font-weight="bold" fill="#000" text-anchor="end" transform="rotate(-45 367.79999999999995 670.3)">IL-8</text>
<line x1="372.37" y1="662.90" x2="372.37" y2="667.10" stroke="#111" stroke-width="1.3"/>
<text x="374.27" y="670.30" font-size="5.6" font-weight="bold" fill="#000" text-anchor="end" transform="rotate(-45 374.26666666666665 670.3)">TNF-α</text>
<line x1="378.83" y1="662.90" x2="378.83" y2="667.10" stroke="#111" stroke-width="1.3"/>
<text x="380.73" y="670.30" font-size="5.6" font-weight="bold" fill="#000" text-anchor="end" transform="rotate(-45 380.7333333333333 670.3)">MCP-1</text>
<line x1="385.30" y1="662.90" x2="385.30" y2="667.10" stroke="#111" stroke-width="1.3"/>
<text x="387.20" y="670.30" font-size="5.6" font-weight="bold" fill="#000" text-anchor="end" transform="rotate(-45 387.2 670.3)">IL-1β</text>
<line x1="391.77" y1="662.90" x2="391.77" y2="667.10" stroke="#111" stroke-width="1.3"/>
<text x="393.67" y="670.30" font-size="5.6" font-weight="bold" fill="#000" text-anchor="end" transform="rotate(-45 393.66666666666663 670.3)">IL-18</text>
<line x1="398.23" y1="662.90" x2="398.23" y2="667.10" stroke="#111" stroke-width="1.3"/>
<text x="400.13" y="670.30" font-size="5.6" font-weight="bold" fill="#000" text-anchor="end" transform="rotate(-45 400.1333333333333 670.3)">IL-10</text>
<line x1="404.70" y1="662.90" x2="404.70" y2="667.10" stroke="#111" stroke-width="1.3"/>
<text x="406.60" y="670.30" font-size="5.6" font-weight="bold" fill="#000" text-anchor="end" transform="rotate(-45 406.59999999999997 670.3)">IFN-γ</text>
<line x1="411.17" y1="662.90" x2="411.17" y2="667.10" stroke="#111" stroke-width="1.3"/>
<text x="413.07" y="670.30" font-size="5.6" font-weight="bold" fill="#000" text-anchor="end" transform="rotate(-45 413.06666666666666 670.3)">IFN-α2</text>
<line x1="417.63" y1="662.90" x2="417.63" y2="667.10" stroke="#111" stroke-width="1.3"/>
<text x="419.53" y="670.30" font-size="5.6" font-weight="bold" fill="#000" text-anchor="end" transform="rotate(-45 419.5333333333333 670.3)">IL-33</text>
<line x1="424.10" y1="662.90" x2="424.10" y2="667.10" stroke="#111" stroke-width="1.3"/>
<text x="426.00" y="670.30" font-size="5.6" font-weight="bold" fill="#000" text-anchor="end" transform="rotate(-45 426.0 670.3)">IL-23</text>
<line x1="430.57" y1="662.90" x2="430.57" y2="667.10" stroke="#111" stroke-width="1.3"/>
<text x="432.47" y="670.30" font-size="5.6" font-weight="bold" fill="#000" text-anchor="end" transform="rotate(-45 432.46666666666664 670.3)">IL-12p70</text>
<line x1="445.74" y1="662.90" x2="445.74" y2="667.10" stroke="#111" stroke-width="1.3"/>
<text x="447.64" y="670.30" font-size="5.6" font-weight="bold" fill="#000" text-anchor="end" transform="rotate(-45 447.6375 670.3)">IL-6</text>
<line x1="452.21" y1="662.90" x2="452.21" y2="667.10" stroke="#111" stroke-width="1.3"/>
<text x="454.11" y="670.30" font-size="5.6" font-weight="bold" fill="#000" text-anchor="end" transform="rotate(-45 454.11249999999995 670.3)">IL-8</text>
<line x1="458.69" y1="662.90" x2="458.69" y2="667.10" stroke="#111" stroke-width="1.3"/>
<text x="460.59" y="670.30" font-size="5.6" font-weight="bold" fill="#000" text-anchor="end" transform="rotate(-45 460.5875 670.3)">TNF-α</text>
<line x1="465.16" y1="662.90" x2="465.16" y2="667.10" stroke="#111" stroke-width="1.3"/>
<text x="467.06" y="670.30" font-size="5.6" font-weight="bold" fill="#000" text-anchor="end" transform="rotate(-45 467.0625 670.3)">MCP-1</text>
<line x1="471.64" y1="662.90" x2="471.64" y2="667.10" stroke="#111" stroke-width="1.3"/>
<text x="473.54" y="670.30" font-size="5.6" font-weight="bold" fill="#000" text-anchor="end" transform="rotate(-45 473.5375 670.3)">IL-1β</text>
<line x1="478.11" y1="662.90" x2="478.11" y2="667.10" stroke="#111" stroke-width="1.3"/>
<text x="480.01" y="670.30" font-size="5.6" font-weight="bold" fill="#000" text-anchor="end" transform="rotate(-45 480.0125 670.3)">IL-18</text>
<line x1="484.59" y1="662.90" x2="484.59" y2="667.10" stroke="#111" stroke-width="1.3"/>
<text x="486.49" y="670.30" font-size="5.6" font-weight="bold" fill="#000" text-anchor="end" transform="rotate(-45 486.4875 670.3)">IL-10</text>
<line x1="491.06" y1="662.90" x2="491.06" y2="667.10" stroke="#111" stroke-width="1.3"/>
<text x="492.96" y="670.30" font-size="5.6" font-weight="bold" fill="#000" text-anchor="end" transform="rotate(-45 492.9625 670.3)">IFN-γ</text>
<line x1="497.54" y1="662.90" x2="497.54" y2="667.10" stroke="#111" stroke-width="1.3"/>
<text x="499.44" y="670.30" font-size="5.6" font-weight="bold" fill="#000" text-anchor="end" transform="rotate(-45 499.4375 670.3)">IFN-α2</text>
<line x1="504.01" y1="662.90" x2="504.01" y2="667.10" stroke="#111" stroke-width="1.3"/>
<text x="505.91" y="670.30" font-size="5.6" font-weight="bold" fill="#000" text-anchor="end" transform="rotate(-45 505.9125 670.3)">IL-33</text>
<line x1="510.49" y1="662.90" x2="510.49" y2="667.10" stroke="#111" stroke-width="1.3"/>
<text x="512.39" y="670.30" font-size="5.6" font-weight="bold" fill="#000" text-anchor="end" transform="rotate(-45 512.3875 670.3)">IL-23</text>
<line x1="516.96" y1="662.90" x2="516.96" y2="667.10" stroke="#111" stroke-width="1.3"/>
<text x="518.86" y="670.30" font-size="5.6" font-weight="bold" fill="#000" text-anchor="end" transform="rotate(-45 518.8625000000001 670.3)">IL-12p70</text>
<line x1="532.62" y1="662.90" x2="532.62" y2="667.10" stroke="#111" stroke-width="1.3"/>
<text x="534.52" y="670.30" font-size="5.6" font-weight="bold" fill="#000" text-anchor="end" transform="rotate(-45 534.5166666666667 670.3)">IL-6</text>
<line x1="539.25" y1="662.90" x2="539.25" y2="667.10" stroke="#111" stroke-width="1.3"/>
<text x="541.15" y="670.30" font-size="5.6" font-weight="bold" fill="#000" text-anchor="end" transform="rotate(-45 541.15 670.3)">IL-8</text>
<line x1="545.88" y1="662.90" x2="545.88" y2="667.10" stroke="#111" stroke-width="1.3"/>
<text x="547.78" y="670.30" font-size="5.6" font-weight="bold" fill="#000" text-anchor="end" transform="rotate(-45 547.7833333333333 670.3)">TNF-α</text>
<line x1="552.52" y1="662.90" x2="552.52" y2="667.10" stroke="#111" stroke-width="1.3"/>
<text x="554.42" y="670.30" font-size="5.6" font-weight="bold" fill="#000" text-anchor="end" transform="rotate(-45 554.4166666666666 670.3)">MCP-1</text>
<line x1="559.15" y1="662.90" x2="559.15" y2="667.10" stroke="#111" stroke-width="1.3"/>
<text x="561.05" y="670.30" font-size="5.6" font-weight="bold" fill="#000" text-anchor="end" transform="rotate(-45 561.05 670.3)">IL-1β</text>
<line x1="565.78" y1="662.90" x2="565.78" y2="667.10" stroke="#111" stroke-width="1.3"/>
<text x="567.68" y="670.30" font-size="5.6" font-weight="bold" fill="#000" text-anchor="end" transform="rotate(-45 567.6833333333333 670.3)">IL-18</text>
<line x1="572.42" y1="662.90" x2="572.42" y2="667.10" stroke="#111" stroke-width="1.3"/>
<text x="574.32" y="670.30" font-size="5.6" font-weight="bold" fill="#000" text-anchor="end" transform="rotate(-45 574.3166666666666 670.3)">IL-10</text>
<line x1="579.05" y1="662.90" x2="579.05" y2="667.10" stroke="#111" stroke-width="1.3"/>
<text x="580.95" y="670.30" font-size="5.6" font-weight="bold" fill="#000" text-anchor="end" transform="rotate(-45 580.9499999999999 670.3)">IFN-γ</text>
<line x1="585.68" y1="662.90" x2="585.68" y2="667.10" stroke="#111" stroke-width="1.3"/>
<text x="587.58" y="670.30" font-size="5.6" font-weight="bold" fill="#000" text-anchor="end" transform="rotate(-45 587.5833333333333 670.3)">IFN-α2</text>
<line x1="592.32" y1="662.90" x2="592.32" y2="667.10" stroke="#111" stroke-width="1.3"/>
<text x="594.22" y="670.30" font-size="5.6" font-weight="bold" fill="#000" text-anchor="end" transform="rotate(-45 594.2166666666666 670.3)">IL-33</text>
<line x1="598.95" y1="662.90" x2="598.95" y2="667.10" stroke="#111" stroke-width="1.3"/>
<text x="600.85" y="670.30" font-size="5.6" font-weight="bold" fill="#000" text-anchor="end" transform="rotate(-45 600.8499999999999 670.3)">IL-23</text>
<line x1="605.58" y1="662.90" x2="605.58" y2="667.10" stroke="#111" stroke-width="1.3"/>
<text x="607.48" y="670.30" font-size="5.6" font-weight="bold" fill="#000" text-anchor="end" transform="rotate(-45 607.4833333333332 670.3)">IL-12p70</text>
<line x1="357.20" y1="717.40" x2="429.10" y2="717.40" stroke="#4a4a4a" stroke-width="1.5"/>
<text x="393.15" y="715.40" font-size="11.8" font-weight="bold" fill="#1a1a1a" text-anchor="middle">HC</text>
<text x="393.15" y="726.30" font-size="10.4" font-style="italic" fill="#333" text-anchor="middle">n = 6</text>
<rect x="357.92" y="765.30" width="8.83" height="43.60" fill="#ffffff" stroke="#a5c5ee" stroke-width="0.9"/>
<rect x="357.92" y="754.67" width="8.83" height="5.43" fill="#ffffff" stroke="#a5c5ee" stroke-width="0.9"/>
<line x1="362.34" y1="748.53" x2="362.34" y2="754.67" stroke="#7aa8e4" stroke-width="0.8"/>
<line x1="360.13" y1="748.53" x2="364.54" y2="748.53" stroke="#7aa8e4" stroke-width="0.8"/>
<rect x="358.75" y="737.98" width="3.30" height="3.30" fill="#242b7d"/>
<rect x="360.68" y="737.77" width="3.30" height="3.30" fill="#56c2ef"/>
<rect x="361.53" y="806.39" width="3.30" height="3.30" fill="#5a5db8"/>
<rect x="358.14" y="753.53" width="3.30" height="3.30" fill="#9d9bd8"/>
<rect x="362.08" y="806.39" width="3.30" height="3.30" fill="#ffffff" stroke="#222" stroke-width="0.6"/>
<rect x="362.34" y="751.39" width="3.30" height="3.30" fill="#666666"/>
<rect x="368.19" y="765.30" width="8.83" height="43.60" fill="#ffffff" stroke="#a5c5ee" stroke-width="0.9"/>
<rect x="368.19" y="754.67" width="8.83" height="5.43" fill="#ffffff" stroke="#a5c5ee" stroke-width="0.9"/>
<line x1="372.61" y1="748.53" x2="372.61" y2="754.67" stroke="#7aa8e4" stroke-width="0.8"/>
<line x1="370.40" y1="748.53" x2="374.82" y2="748.53" stroke="#7aa8e4" stroke-width="0.8"/>
<rect x="369.44" y="806.39" width="3.30" height="3.30" fill="#242b7d"/>
<rect x="369.13" y="751.60" width="3.30" height="3.30" fill="#56c2ef"/>
<rect x="370.87" y="803.44" width="3.30" height="3.30" fill="#5a5db8"/>
<rect x="369.96" y="740.84" width="3.30" height="3.30" fill="#9d9bd8"/>
<rect x="368.36" y="806.39" width="3.30" height="3.30" fill="#ffffff" stroke="#222" stroke-width="0.6"/>
<rect x="378.46" y="765.30" width="8.83" height="43.60" fill="#ffffff" stroke="#a5c5ee" stroke-width="0.9"/>
<rect x="378.46" y="756.82" width="8.83" height="3.28" fill="#ffffff" stroke="#a5c5ee" stroke-width="0.9"/>
<line x1="382.88" y1="755.29" x2="382.88" y2="756.82" stroke="#7aa8e4" stroke-width="0.8"/>
<line x1="380.67" y1="755.29" x2="385.09" y2="755.29" stroke="#7aa8e4" stroke-width="0.8"/>
<rect x="383.01" y="770.23" width="3.30" height="3.30" fill="#242b7d"/>
<rect x="383.26" y="752.99" width="3.30" height="3.30" fill="#56c2ef"/>
<rect x="378.96" y="751.18" width="3.30" height="3.30" fill="#5a5db8"/>
<rect x="383.83" y="756.38" width="3.30" height="3.30" fill="#9d9bd8"/>
<rect x="382.30" y="750.98" width="3.30" height="3.30" fill="#ffffff" stroke="#222" stroke-width="0.6"/>
<rect x="383.28" y="753.77" width="3.30" height="3.30" fill="#666666"/>
<rect x="388.73" y="765.30" width="8.83" height="43.60" fill="#ffffff" stroke="#a5c5ee" stroke-width="0.9"/>
<rect x="388.73" y="756.21" width="8.83" height="3.89" fill="#ffffff" stroke="#a5c5ee" stroke-width="0.9"/>
<line x1="393.15" y1="751.61" x2="393.15" y2="756.21" stroke="#7aa8e4" stroke-width="0.8"/>
<line x1="390.94" y1="751.61" x2="395.36" y2="751.61" stroke="#7aa8e4" stroke-width="0.8"/>
<rect x="388.95" y="757.09" width="3.30" height="3.30" fill="#242b7d"/>
<rect x="389.48" y="753.00" width="3.30" height="3.30" fill="#56c2ef"/>
<rect x="393.70" y="757.25" width="3.30" height="3.30" fill="#5a5db8"/>
<rect x="392.76" y="806.39" width="3.30" height="3.30" fill="#9d9bd8"/>
<rect x="390.33" y="749.16" width="3.30" height="3.30" fill="#ffffff" stroke="#222" stroke-width="0.6"/>
<rect x="399.00" y="783.04" width="8.83" height="25.86" fill="#ffffff" stroke="#a5c5ee" stroke-width="0.9"/>
<line x1="403.42" y1="776.57" x2="403.42" y2="789.50" stroke="#7aa8e4" stroke-width="0.8"/>
<line x1="401.21" y1="776.57" x2="405.63" y2="776.57" stroke="#7aa8e4" stroke-width="0.8"/>
<line x1="401.21" y1="789.50" x2="405.63" y2="789.50" stroke="#7aa8e4" stroke-width="0.8"/>
<rect x="401.50" y="791.48" width="3.30" height="3.30" fill="#242b7d"/>
<rect x="399.28" y="777.68" width="3.30" height="3.30" fill="#56c2ef"/>
<rect x="402.14" y="771.39" width="3.30" height="3.30" fill="#5a5db8"/>
<rect x="400.99" y="765.94" width="3.30" height="3.30" fill="#9d9bd8"/>
<rect x="399.45" y="765.01" width="3.30" height="3.30" fill="#ffffff" stroke="#222" stroke-width="0.6"/>
<rect x="400.63" y="789.17" width="3.30" height="3.30" fill="#666666"/>
<rect x="409.28" y="765.30" width="8.83" height="43.60" fill="#ffffff" stroke="#a5c5ee" stroke-width="0.9"/>
<rect x="409.28" y="755.29" width="8.83" height="4.81" fill="#ffffff" stroke="#a5c5ee" stroke-width="0.9"/>
<line x1="413.69" y1="749.15" x2="413.69" y2="755.29" stroke="#7aa8e4" stroke-width="0.8"/>
<line x1="411.48" y1="749.15" x2="415.90" y2="749.15" stroke="#7aa8e4" stroke-width="0.8"/>
<rect x="411.09" y="754.99" width="3.30" height="3.30" fill="#242b7d"/>
<rect x="411.27" y="736.50" width="3.30" height="3.30" fill="#5a5db8"/>
<rect x="414.42" y="806.39" width="3.30" height="3.30" fill="#9d9bd8"/>
<rect x="413.25" y="776.28" width="3.30" height="3.30" fill="#ffffff" stroke="#222" stroke-width="0.6"/>
<rect x="412.75" y="786.46" width="3.30" height="3.30" fill="#666666"/>
<rect x="419.55" y="783.04" width="8.83" height="25.86" fill="#ffffff" stroke="#a5c5ee" stroke-width="0.9"/>
<line x1="423.96" y1="774.42" x2="423.96" y2="791.66" stroke="#7aa8e4" stroke-width="0.8"/>
<line x1="421.76" y1="774.42" x2="426.17" y2="774.42" stroke="#7aa8e4" stroke-width="0.8"/>
<line x1="421.76" y1="791.66" x2="426.17" y2="791.66" stroke="#7aa8e4" stroke-width="0.8"/>
<rect x="424.30" y="787.75" width="3.30" height="3.30" fill="#242b7d"/>
<rect x="423.99" y="786.44" width="3.30" height="3.30" fill="#56c2ef"/>
<rect x="421.36" y="785.88" width="3.30" height="3.30" fill="#5a5db8"/>
<rect x="422.98" y="781.83" width="3.30" height="3.30" fill="#9d9bd8"/>
<rect x="419.87" y="774.60" width="3.30" height="3.30" fill="#ffffff" stroke="#222" stroke-width="0.6"/>
<rect x="423.49" y="786.43" width="3.30" height="3.30" fill="#666666"/>
<line x1="443.00" y1="717.40" x2="514.60" y2="717.40" stroke="#4a4a4a" stroke-width="1.5"/>
<text x="478.80" y="715.40" font-size="11.8" font-weight="bold" fill="#1a1a1a" text-anchor="middle">MCI</text>
<text x="478.80" y="726.30" font-size="10.4" font-style="italic" fill="#333" text-anchor="middle">n = 3</text>
<rect x="443.72" y="765.30" width="8.80" height="43.60" fill="#ffffff" stroke="#7ea57c" stroke-width="0.9"/>
<rect x="443.72" y="758.05" width="8.80" height="2.05" fill="#ffffff" stroke="#7ea57c" stroke-width="0.9"/>
<line x1="448.11" y1="757.13" x2="448.11" y2="758.05" stroke="#4a804a" stroke-width="0.8"/>
<line x1="445.92" y1="757.13" x2="450.31" y2="757.13" stroke="#4a804a" stroke-width="0.8"/>
<path d="M449.30 769.35L451.19 772.77L447.40 772.77Z" fill="#1d6b3a"/>
<path d="M447.43 755.24L449.33 758.66L445.53 758.66Z" fill="#b8b8b8"/>
<path d="M449.65 757.00L451.55 760.42L447.75 760.42Z" fill="#ffffff" stroke="#333" stroke-width="0.6"/>
<rect x="453.94" y="765.30" width="8.80" height="43.60" fill="#ffffff" stroke="#7ea57c" stroke-width="0.9"/>
<rect x="453.94" y="757.75" width="8.80" height="2.36" fill="#ffffff" stroke="#7ea57c" stroke-width="0.9"/>
<line x1="458.34" y1="755.29" x2="458.34" y2="757.75" stroke="#4a804a" stroke-width="0.8"/>
<line x1="456.14" y1="755.29" x2="460.54" y2="755.29" stroke="#4a804a" stroke-width="0.8"/>
<path d="M458.42 752.72L460.32 756.13L456.53 756.13Z" fill="#1d6b3a"/>
<path d="M455.97 806.14L457.87 809.56L454.07 809.56Z" fill="#b8b8b8"/>
<path d="M455.72 806.14L457.62 809.56L453.83 809.56Z" fill="#ffffff" stroke="#333" stroke-width="0.6"/>
<rect x="464.17" y="765.30" width="8.80" height="43.60" fill="#ffffff" stroke="#7ea57c" stroke-width="0.9"/>
<rect x="464.17" y="758.05" width="8.80" height="2.05" fill="#ffffff" stroke="#7ea57c" stroke-width="0.9"/>
<line x1="468.57" y1="757.44" x2="468.57" y2="758.05" stroke="#4a804a" stroke-width="0.8"/>
<line x1="466.37" y1="757.44" x2="470.77" y2="757.44" stroke="#4a804a" stroke-width="0.8"/>
<path d="M467.20 756.86L469.09 760.27L465.30 760.27Z" fill="#1d6b3a"/>
<path d="M466.08 755.27L467.98 758.68L464.19 758.68Z" fill="#ffffff" stroke="#333" stroke-width="0.6"/>
<rect x="474.40" y="765.30" width="8.80" height="43.60" fill="#ffffff" stroke="#7ea57c" stroke-width="0.9"/>
<rect x="474.40" y="758.67" width="8.80" height="1.43" fill="#ffffff" stroke="#7ea57c" stroke-width="0.9"/>
<line x1="478.80" y1="758.05" x2="478.80" y2="758.67" stroke="#4a804a" stroke-width="0.8"/>
<line x1="476.60" y1="758.05" x2="481.00" y2="758.05" stroke="#4a804a" stroke-width="0.8"/>
<path d="M479.21 756.23L481.11 759.64L477.31 759.64Z" fill="#1d6b3a"/>
<path d="M476.58 772.11L478.48 775.53L474.69 775.53Z" fill="#b8b8b8"/>
<path d="M478.13 757.00L480.02 760.42L476.23 760.42Z" fill="#ffffff" stroke="#333" stroke-width="0.6"/>
<rect x="484.63" y="765.30" width="8.80" height="43.60" fill="#ffffff" stroke="#7ea57c" stroke-width="0.9"/>
<rect x="484.63" y="758.67" width="8.80" height="1.43" fill="#ffffff" stroke="#7ea57c" stroke-width="0.9"/>
<line x1="489.03" y1="757.75" x2="489.03" y2="758.67" stroke="#4a804a" stroke-width="0.8"/>
<line x1="486.83" y1="757.75" x2="491.23" y2="757.75" stroke="#4a804a" stroke-width="0.8"/>
<path d="M488.88 796.98L490.78 800.40L486.98 800.40Z" fill="#b8b8b8"/>
<path d="M489.35 763.97L491.25 767.38L487.46 767.38Z" fill="#ffffff" stroke="#333" stroke-width="0.6"/>
<rect x="494.86" y="765.30" width="8.80" height="43.60" fill="#ffffff" stroke="#7ea57c" stroke-width="0.9"/>
<rect x="494.86" y="758.36" width="8.80" height="1.74" fill="#ffffff" stroke="#7ea57c" stroke-width="0.9"/>
<line x1="499.26" y1="757.75" x2="499.26" y2="758.36" stroke="#4a804a" stroke-width="0.8"/>
<line x1="497.06" y1="757.75" x2="501.46" y2="757.75" stroke="#4a804a" stroke-width="0.8"/>
<path d="M498.75 757.00L500.65 760.42L496.85 760.42Z" fill="#1d6b3a"/>
<path d="M498.74 757.00L500.64 760.42L496.85 760.42Z" fill="#b8b8b8"/>
<path d="M500.25 756.65L502.15 760.06L498.35 760.06Z" fill="#ffffff" stroke="#333" stroke-width="0.6"/>
<rect x="505.09" y="765.30" width="8.80" height="43.60" fill="#ffffff" stroke="#7ea57c" stroke-width="0.9"/>
<rect x="505.09" y="753.14" width="8.80" height="6.96" fill="#ffffff" stroke="#7ea57c" stroke-width="0.9"/>
<line x1="509.49" y1="750.07" x2="509.49" y2="753.14" stroke="#4a804a" stroke-width="0.8"/>
<line x1="507.29" y1="750.07" x2="511.68" y2="750.07" stroke="#4a804a" stroke-width="0.8"/>
<path d="M510.89 752.33L512.79 755.74L509.00 755.74Z" fill="#1d6b3a"/>
<path d="M507.30 751.02L509.20 754.44L505.40 754.44Z" fill="#ffffff" stroke="#333" stroke-width="0.6"/>
<line x1="525.70" y1="717.40" x2="595.90" y2="717.40" stroke="#4a4a4a" stroke-width="1.5"/>
<text x="560.80" y="715.40" font-size="11.8" font-weight="bold" fill="#1a1a1a" text-anchor="middle">AD</text>
<text x="560.80" y="726.30" font-size="10.4" font-style="italic" fill="#333" text-anchor="middle">n = 3</text>
<rect x="526.40" y="765.30" width="8.62" height="43.60" fill="#ffffff" stroke="#d69a9a" stroke-width="0.9"/>
<rect x="526.40" y="754.67" width="8.62" height="5.43" fill="#ffffff" stroke="#d69a9a" stroke-width="0.9"/>
<line x1="530.71" y1="749.15" x2="530.71" y2="754.67" stroke="#c05050" stroke-width="0.8"/>
<line x1="528.56" y1="749.15" x2="532.87" y2="749.15" stroke="#c05050" stroke-width="0.8"/>
<circle cx="528.98" cy="770.78" r="1.65" fill="#8e1b1b"/>
<circle cx="531.56" cy="755.72" r="1.65" fill="#ffffff" stroke="#777" stroke-width="0.6"/>
<circle cx="529.51" cy="756.42" r="1.65" fill="#aaaaaa"/>
<rect x="536.43" y="765.30" width="8.62" height="43.60" fill="#ffffff" stroke="#d69a9a" stroke-width="0.9"/>
<rect x="536.43" y="756.82" width="8.62" height="3.28" fill="#ffffff" stroke="#d69a9a" stroke-width="0.9"/>
<line x1="540.74" y1="753.75" x2="540.74" y2="756.82" stroke="#c05050" stroke-width="0.8"/>
<line x1="538.59" y1="753.75" x2="542.90" y2="753.75" stroke="#c05050" stroke-width="0.8"/>
<circle cx="541.98" cy="808.04" r="1.65" fill="#8e1b1b"/>
<circle cx="542.39" cy="753.66" r="1.65" fill="#ffffff" stroke="#777" stroke-width="0.6"/>
<circle cx="540.28" cy="808.04" r="1.65" fill="#aaaaaa"/>
<rect x="546.46" y="765.30" width="8.62" height="43.60" fill="#ffffff" stroke="#d69a9a" stroke-width="0.9"/>
<rect x="546.46" y="756.82" width="8.62" height="3.28" fill="#ffffff" stroke="#d69a9a" stroke-width="0.9"/>
<line x1="550.77" y1="750.68" x2="550.77" y2="756.82" stroke="#c05050" stroke-width="0.8"/>
<line x1="548.62" y1="750.68" x2="552.93" y2="750.68" stroke="#c05050" stroke-width="0.8"/>
<circle cx="550.86" cy="808.04" r="1.65" fill="#8e1b1b"/>
<circle cx="551.08" cy="808.04" r="1.65" fill="#ffffff" stroke="#777" stroke-width="0.6"/>
<circle cx="549.90" cy="758.50" r="1.65" fill="#aaaaaa"/>
<rect x="556.49" y="765.30" width="8.62" height="43.60" fill="#ffffff" stroke="#d69a9a" stroke-width="0.9"/>
<rect x="556.49" y="755.29" width="8.62" height="4.81" fill="#ffffff" stroke="#d69a9a" stroke-width="0.9"/>
<line x1="560.80" y1="751.61" x2="560.80" y2="755.29" stroke="#c05050" stroke-width="0.8"/>
<line x1="558.64" y1="751.61" x2="562.96" y2="751.61" stroke="#c05050" stroke-width="0.8"/>
<circle cx="562.18" cy="758.40" r="1.65" fill="#ffffff" stroke="#777" stroke-width="0.6"/>
<rect x="566.52" y="765.30" width="8.62" height="43.60" fill="#ffffff" stroke="#d69a9a" stroke-width="0.9"/>
<rect x="566.52" y="754.98" width="8.62" height="5.12" fill="#ffffff" stroke="#d69a9a" stroke-width="0.9"/>
<line x1="570.83" y1="750.99" x2="570.83" y2="754.98" stroke="#c05050" stroke-width="0.8"/>
<line x1="568.67" y1="750.99" x2="572.98" y2="750.99" stroke="#c05050" stroke-width="0.8"/>
<circle cx="571.73" cy="793.79" r="1.65" fill="#8e1b1b"/>
<circle cx="570.93" cy="788.00" r="1.65" fill="#ffffff" stroke="#777" stroke-width="0.6"/>
<circle cx="569.42" cy="754.73" r="1.65" fill="#aaaaaa"/>
<rect x="576.54" y="770.11" width="8.62" height="38.79" fill="#ffffff" stroke="#d69a9a" stroke-width="0.9"/>
<line x1="580.86" y1="765.80" x2="580.86" y2="774.42" stroke="#c05050" stroke-width="0.8"/>
<line x1="578.70" y1="765.80" x2="583.01" y2="765.80" stroke="#c05050" stroke-width="0.8"/>
<line x1="578.70" y1="774.42" x2="583.01" y2="774.42" stroke="#c05050" stroke-width="0.8"/>
<circle cx="582.70" cy="776.05" r="1.65" fill="#8e1b1b"/>
<circle cx="579.87" cy="771.80" r="1.65" fill="#ffffff" stroke="#777" stroke-width="0.6"/>
<circle cx="581.35" cy="766.66" r="1.65" fill="#aaaaaa"/>
<rect x="586.57" y="765.30" width="8.62" height="43.60" fill="#ffffff" stroke="#d69a9a" stroke-width="0.9"/>
<rect x="586.57" y="755.29" width="8.62" height="4.81" fill="#ffffff" stroke="#d69a9a" stroke-width="0.9"/>
<line x1="590.89" y1="752.83" x2="590.89" y2="755.29" stroke="#c05050" stroke-width="0.8"/>
<line x1="588.73" y1="752.83" x2="593.04" y2="752.83" stroke="#c05050" stroke-width="0.8"/>
<circle cx="592.62" cy="751.23" r="1.65" fill="#8e1b1b"/>
<circle cx="590.93" cy="756.82" r="1.65" fill="#ffffff" stroke="#777" stroke-width="0.6"/>
<line x1="353.50" y1="759.70" x2="599.20" y2="759.70" stroke="#1a1a1a" stroke-width="1.0" stroke-dasharray="2.5,1.3"/>
<line x1="353.50" y1="765.80" x2="599.20" y2="765.80" stroke="#1a1a1a" stroke-width="1.0" stroke-dasharray="2.5,1.3"/>
<line x1="353.50" y1="716.30" x2="353.50" y2="760.60" stroke="#111" stroke-width="1.4"/>
<line x1="353.50" y1="764.80" x2="353.50" y2="808.90" stroke="#111" stroke-width="1.4"/>
<line x1="352.80" y1="808.90" x2="599.20" y2="808.90" stroke="#111" stroke-width="1.4"/>
<line x1="350.00" y1="716.30" x2="353.50" y2="716.30" stroke="#111" stroke-width="1.1"/>
<text x="349.00" y="718.90" font-size="7.4" font-weight="bold" fill="#222" text-anchor="end">15</text>
<line x1="350.00" y1="731.70" x2="353.50" y2="731.70" stroke="#111" stroke-width="1.1"/>
<text x="349.00" y="734.30" font-size="7.4" font-weight="bold" fill="#222" text-anchor="end">10</text>
<line x1="350.00" y1="747.00" x2="353.50" y2="747.00" stroke="#111" stroke-width="1.1"/>
<text x="349.00" y="749.60" font-size="7.4" font-weight="bold" fill="#222" text-anchor="end">5</text>
<line x1="350.00" y1="760.10" x2="353.50" y2="760.10" stroke="#111" stroke-width="1.1"/>
<line x1="350.00" y1="765.80" x2="353.50" y2="765.80" stroke="#111" stroke-width="1.1"/>
<text x="349.00" y="768.40" font-size="7.4" font-weight="bold" fill="#222" text-anchor="end">1.0</text>
<line x1="350.00" y1="787.35" x2="353.50" y2="787.35" stroke="#111" stroke-width="1.1"/>
<text x="349.00" y="789.95" font-size="7.4" font-weight="bold" fill="#222" text-anchor="end">0.5</text>
<line x1="350.00" y1="808.90" x2="353.50" y2="808.90" stroke="#111" stroke-width="1.1"/>
<text x="349.00" y="811.50" font-size="7.4" font-weight="bold" fill="#222" text-anchor="end">0.0</text>
<line x1="362.34" y1="808.90" x2="362.34" y2="813.10" stroke="#111" stroke-width="1.3"/>
<text x="364.94" y="818.50" font-size="7.7" font-weight="bold" font-style="italic" fill="#000" text-anchor="end" transform="rotate(-45 364.9357142857143 818.5)">IL-6</text>
<line x1="372.61" y1="808.90" x2="372.61" y2="813.10" stroke="#111" stroke-width="1.3"/>
<text x="375.21" y="818.50" font-size="7.7" font-weight="bold" font-style="italic" fill="#000" text-anchor="end" transform="rotate(-45 375.20714285714286 818.5)">IL-8</text>
<line x1="382.88" y1="808.90" x2="382.88" y2="813.10" stroke="#111" stroke-width="1.3"/>
<text x="385.48" y="818.50" font-size="7.7" font-weight="bold" font-style="italic" fill="#000" text-anchor="end" transform="rotate(-45 385.47857142857146 818.5)">TNF-α</text>
<line x1="393.15" y1="808.90" x2="393.15" y2="813.10" stroke="#111" stroke-width="1.3"/>
<text x="395.75" y="818.50" font-size="7.7" font-weight="bold" font-style="italic" fill="#000" text-anchor="end" transform="rotate(-45 395.75 818.5)">IL-10</text>
<line x1="403.42" y1="808.90" x2="403.42" y2="813.10" stroke="#111" stroke-width="1.3"/>
<text x="406.02" y="818.50" font-size="7.7" font-weight="bold" font-style="italic" fill="#000" text-anchor="end" transform="rotate(-45 406.0214285714286 818.5)">TGF-β</text>
<line x1="413.69" y1="808.90" x2="413.69" y2="813.10" stroke="#111" stroke-width="1.3"/>
<text x="416.29" y="818.50" font-size="7.7" font-weight="bold" font-style="italic" fill="#000" text-anchor="end" transform="rotate(-45 416.2928571428572 818.5)">IL-1β</text>
<line x1="423.96" y1="808.90" x2="423.96" y2="813.10" stroke="#111" stroke-width="1.3"/>
<text x="426.56" y="818.50" font-size="7.7" font-weight="bold" font-style="italic" fill="#000" text-anchor="end" transform="rotate(-45 426.56428571428575 818.5)">IL-18</text>
<line x1="448.11" y1="808.90" x2="448.11" y2="813.10" stroke="#111" stroke-width="1.3"/>
<text x="450.71" y="818.50" font-size="7.7" font-weight="bold" font-style="italic" fill="#000" text-anchor="end" transform="rotate(-45 450.7142857142857 818.5)">IL-6</text>
<line x1="458.34" y1="808.90" x2="458.34" y2="813.10" stroke="#111" stroke-width="1.3"/>
<text x="460.94" y="818.50" font-size="7.7" font-weight="bold" font-style="italic" fill="#000" text-anchor="end" transform="rotate(-45 460.9428571428572 818.5)">IL-8</text>
<line x1="468.57" y1="808.90" x2="468.57" y2="813.10" stroke="#111" stroke-width="1.3"/>
<text x="471.17" y="818.50" font-size="7.7" font-weight="bold" font-style="italic" fill="#000" text-anchor="end" transform="rotate(-45 471.1714285714286 818.5)">TNF-α</text>
<line x1="478.80" y1="808.90" x2="478.80" y2="813.10" stroke="#111" stroke-width="1.3"/>
<text x="481.40" y="818.50" font-size="7.7" font-weight="bold" font-style="italic" fill="#000" text-anchor="end" transform="rotate(-45 481.40000000000003 818.5)">IL-10</text>
<line x1="489.03" y1="808.90" x2="489.03" y2="813.10" stroke="#111" stroke-width="1.3"/>
<text x="491.63" y="818.50" font-size="7.7" font-weight="bold" font-style="italic" fill="#000" text-anchor="end" transform="rotate(-45 491.6285714285715 818.5)">TGF-β</text>
<line x1="499.26" y1="808.90" x2="499.26" y2="813.10" stroke="#111" stroke-width="1.3"/>
<text x="501.86" y="818.50" font-size="7.7" font-weight="bold" font-style="italic" fill="#000" text-anchor="end" transform="rotate(-45 501.8571428571429 818.5)">IL-1β</text>
<line x1="509.49" y1="808.90" x2="509.49" y2="813.10" stroke="#111" stroke-width="1.3"/>
<text x="512.09" y="818.50" font-size="7.7" font-weight="bold" font-style="italic" fill="#000" text-anchor="end" transform="rotate(-45 512.0857142857143 818.5)">IL-18</text>
<line x1="530.71" y1="808.90" x2="530.71" y2="813.10" stroke="#111" stroke-width="1.3"/>
<text x="533.31" y="818.50" font-size="7.7" font-weight="bold" font-style="italic" fill="#000" text-anchor="end" transform="rotate(-45 533.3142857142858 818.5)">IL-6</text>
<line x1="540.74" y1="808.90" x2="540.74" y2="813.10" stroke="#111" stroke-width="1.3"/>
<text x="543.34" y="818.50" font-size="7.7" font-weight="bold" font-style="italic" fill="#000" text-anchor="end" transform="rotate(-45 543.3428571428572 818.5)">IL-8</text>
<line x1="550.77" y1="808.90" x2="550.77" y2="813.10" stroke="#111" stroke-width="1.3"/>
<text x="553.37" y="818.50" font-size="7.7" font-weight="bold" font-style="italic" fill="#000" text-anchor="end" transform="rotate(-45 553.3714285714286 818.5)">TNF-α</text>
<line x1="560.80" y1="808.90" x2="560.80" y2="813.10" stroke="#111" stroke-width="1.3"/>
<text x="563.40" y="818.50" font-size="7.7" font-weight="bold" font-style="italic" fill="#000" text-anchor="end" transform="rotate(-45 563.4 818.5)">IL-10</text>
<line x1="570.83" y1="808.90" x2="570.83" y2="813.10" stroke="#111" stroke-width="1.3"/>
<text x="573.43" y="818.50" font-size="7.7" font-weight="bold" font-style="italic" fill="#000" text-anchor="end" transform="rotate(-45 573.4285714285714 818.5)">TGF-β</text>
<line x1="580.86" y1="808.90" x2="580.86" y2="813.10" stroke="#111" stroke-width="1.3"/>
<text x="583.46" y="818.50" font-size="7.7" font-weight="bold" font-style="italic" fill="#000" text-anchor="end" transform="rotate(-45 583.4571428571429 818.5)">IL-1β</text>
<line x1="590.89" y1="808.90" x2="590.89" y2="813.10" stroke="#111" stroke-width="1.3"/>
<text x="593.49" y="818.50" font-size="7.7" font-weight="bold" font-style="italic" fill="#000" text-anchor="end" transform="rotate(-45 593.4857142857143 818.5)">IL-18</text>
<line x1="357.20" y1="854.40" x2="434.80" y2="854.40" stroke="#4a4a4a" stroke-width="1.5"/>
<text x="396.00" y="852.40" font-size="11.8" font-weight="bold" fill="#1a1a1a" text-anchor="middle">HC</text>
<text x="396.00" y="863.30" font-size="10.4" font-style="italic" fill="#333" text-anchor="middle">n = 6</text>
<rect x="357.65" y="900.90" width="5.56" height="41.00" fill="#ffffff" stroke="#a5c5ee" stroke-width="0.9"/>
<line x1="360.43" y1="900.59" x2="360.43" y2="903.42" stroke="#7aa8e4" stroke-width="0.8"/>
<line x1="359.04" y1="900.59" x2="361.82" y2="900.59" stroke="#7aa8e4" stroke-width="0.8"/>
<line x1="359.04" y1="903.42" x2="361.82" y2="903.42" stroke="#7aa8e4" stroke-width="0.8"/>
<rect x="360.40" y="900.86" width="2.70" height="2.70" fill="#242b7d"/>
<rect x="357.77" y="892.15" width="2.70" height="2.70" fill="#56c2ef"/>
<rect x="360.33" y="900.86" width="2.70" height="2.70" fill="#5a5db8"/>
<rect x="357.79" y="900.86" width="2.70" height="2.70" fill="#9d9bd8"/>
<rect x="357.80" y="903.78" width="2.70" height="2.70" fill="#ffffff" stroke="#222" stroke-width="0.6"/>
<rect x="358.41" y="908.68" width="2.70" height="2.70" fill="#666666"/>
<rect x="364.12" y="900.90" width="5.56" height="41.00" fill="#ffffff" stroke="#a5c5ee" stroke-width="0.9"/>
<line x1="366.90" y1="900.59" x2="366.90" y2="903.42" stroke="#7aa8e4" stroke-width="0.8"/>
<line x1="365.51" y1="900.59" x2="368.29" y2="900.59" stroke="#7aa8e4" stroke-width="0.8"/>
<line x1="365.51" y1="903.42" x2="368.29" y2="903.42" stroke="#7aa8e4" stroke-width="0.8"/>
<rect x="366.91" y="914.54" width="2.70" height="2.70" fill="#242b7d"/>
<rect x="365.28" y="905.95" width="2.70" height="2.70" fill="#56c2ef"/>
<rect x="366.34" y="904.26" width="2.70" height="2.70" fill="#5a5db8"/>
<rect x="365.41" y="900.86" width="2.70" height="2.70" fill="#ffffff" stroke="#222" stroke-width="0.6"/>
<rect x="364.91" y="900.86" width="2.70" height="2.70" fill="#666666"/>
<rect x="370.59" y="900.90" width="5.56" height="41.00" fill="#ffffff" stroke="#a5c5ee" stroke-width="0.9"/>
<line x1="373.37" y1="900.59" x2="373.37" y2="903.42" stroke="#7aa8e4" stroke-width="0.8"/>
<line x1="371.98" y1="900.59" x2="374.76" y2="900.59" stroke="#7aa8e4" stroke-width="0.8"/>
<line x1="371.98" y1="903.42" x2="374.76" y2="903.42" stroke="#7aa8e4" stroke-width="0.8"/>
<rect x="372.65" y="900.86" width="2.70" height="2.70" fill="#242b7d"/>
<rect x="371.90" y="900.86" width="2.70" height="2.70" fill="#56c2ef"/>
<rect x="371.78" y="912.87" width="2.70" height="2.70" fill="#5a5db8"/>
<rect x="370.81" y="912.33" width="2.70" height="2.70" fill="#9d9bd8"/>
<rect x="372.69" y="900.86" width="2.70" height="2.70" fill="#ffffff" stroke="#222" stroke-width="0.6"/>
<rect x="371.35" y="901.86" width="2.70" height="2.70" fill="#666666"/>
<rect x="377.05" y="900.90" width="5.56" height="41.00" fill="#ffffff" stroke="#a5c5ee" stroke-width="0.9"/>
<line x1="379.83" y1="900.59" x2="379.83" y2="909.50" stroke="#7aa8e4" stroke-width="0.8"/>
<line x1="378.44" y1="900.59" x2="381.22" y2="900.59" stroke="#7aa8e4" stroke-width="0.8"/>
<line x1="378.44" y1="909.50" x2="381.22" y2="909.50" stroke="#7aa8e4" stroke-width="0.8"/>
<rect x="379.22" y="900.86" width="2.70" height="2.70" fill="#242b7d"/>
<rect x="379.86" y="916.81" width="2.70" height="2.70" fill="#56c2ef"/>
<rect x="378.46" y="928.34" width="2.70" height="2.70" fill="#9d9bd8"/>
<rect x="377.10" y="892.15" width="2.70" height="2.70" fill="#ffffff" stroke="#222" stroke-width="0.6"/>
<rect x="379.70" y="917.99" width="2.70" height="2.70" fill="#666666"/>
<rect x="383.52" y="918.41" width="5.56" height="23.49" fill="#ffffff" stroke="#a5c5ee" stroke-width="0.9"/>
<line x1="386.30" y1="906.26" x2="386.30" y2="930.56" stroke="#7aa8e4" stroke-width="0.8"/>
<line x1="384.91" y1="906.26" x2="387.69" y2="906.26" stroke="#7aa8e4" stroke-width="0.8"/>
<line x1="384.91" y1="930.56" x2="387.69" y2="930.56" stroke="#7aa8e4" stroke-width="0.8"/>
<rect x="385.60" y="900.86" width="2.70" height="2.70" fill="#242b7d"/>
<rect x="383.60" y="892.15" width="2.70" height="2.70" fill="#56c2ef"/>
<rect x="385.85" y="909.08" width="2.70" height="2.70" fill="#5a5db8"/>
<rect x="383.47" y="900.86" width="2.70" height="2.70" fill="#9d9bd8"/>
<rect x="385.21" y="918.16" width="2.70" height="2.70" fill="#ffffff" stroke="#222" stroke-width="0.6"/>
<rect x="389.99" y="911.52" width="5.56" height="30.38" fill="#ffffff" stroke="#a5c5ee" stroke-width="0.9"/>
<line x1="392.77" y1="907.48" x2="392.77" y2="915.57" stroke="#7aa8e4" stroke-width="0.8"/>
<line x1="391.38" y1="907.48" x2="394.16" y2="907.48" stroke="#7aa8e4" stroke-width="0.8"/>
<line x1="391.38" y1="915.57" x2="394.16" y2="915.57" stroke="#7aa8e4" stroke-width="0.8"/>
<rect x="392.41" y="900.86" width="2.70" height="2.70" fill="#242b7d"/>
<rect x="390.30" y="901.15" width="2.70" height="2.70" fill="#56c2ef"/>
<rect x="392.62" y="917.16" width="2.70" height="2.70" fill="#5a5db8"/>
<rect x="390.76" y="911.45" width="2.70" height="2.70" fill="#9d9bd8"/>
<rect x="390.54" y="904.96" width="2.70" height="2.70" fill="#ffffff" stroke="#222" stroke-width="0.6"/>
<rect x="390.15" y="911.20" width="2.70" height="2.70" fill="#666666"/>
<rect x="396.45" y="900.90" width="5.56" height="41.00" fill="#ffffff" stroke="#a5c5ee" stroke-width="0.9"/>
<line x1="399.23" y1="900.59" x2="399.23" y2="903.42" stroke="#7aa8e4" stroke-width="0.8"/>
<line x1="397.84" y1="900.59" x2="400.62" y2="900.59" stroke="#7aa8e4" stroke-width="0.8"/>
<line x1="397.84" y1="903.42" x2="400.62" y2="903.42" stroke="#7aa8e4" stroke-width="0.8"/>
<rect x="396.61" y="900.86" width="2.70" height="2.70" fill="#242b7d"/>
<rect x="398.57" y="911.63" width="2.70" height="2.70" fill="#56c2ef"/>
<rect x="396.67" y="917.87" width="2.70" height="2.70" fill="#5a5db8"/>
<rect x="398.81" y="911.76" width="2.70" height="2.70" fill="#9d9bd8"/>
<rect x="396.98" y="904.56" width="2.70" height="2.70" fill="#ffffff" stroke="#222" stroke-width="0.6"/>
<rect x="397.21" y="900.90" width="2.70" height="2.70" fill="#666666"/>
<rect x="402.92" y="912.74" width="5.56" height="29.16" fill="#ffffff" stroke="#a5c5ee" stroke-width="0.9"/>
<line x1="405.70" y1="904.64" x2="405.70" y2="920.84" stroke="#7aa8e4" stroke-width="0.8"/>
<line x1="404.31" y1="904.64" x2="407.09" y2="904.64" stroke="#7aa8e4" stroke-width="0.8"/>
<line x1="404.31" y1="920.84" x2="407.09" y2="920.84" stroke="#7aa8e4" stroke-width="0.8"/>
<rect x="404.79" y="911.37" width="2.70" height="2.70" fill="#242b7d"/>
<rect x="403.58" y="892.15" width="2.70" height="2.70" fill="#9d9bd8"/>
<rect x="403.89" y="912.08" width="2.70" height="2.70" fill="#ffffff" stroke="#222" stroke-width="0.6"/>
<rect x="403.42" y="904.50" width="2.70" height="2.70" fill="#666666"/>
<rect x="409.39" y="900.90" width="5.56" height="41.00" fill="#ffffff" stroke="#a5c5ee" stroke-width="0.9"/>
<line x1="412.17" y1="900.59" x2="412.17" y2="903.42" stroke="#7aa8e4" stroke-width="0.8"/>
<line x1="410.78" y1="900.59" x2="413.56" y2="900.59" stroke="#7aa8e4" stroke-width="0.8"/>
<line x1="410.78" y1="903.42" x2="413.56" y2="903.42" stroke="#7aa8e4" stroke-width="0.8"/>
<rect x="412.19" y="900.86" width="2.70" height="2.70" fill="#242b7d"/>
<rect x="412.20" y="900.86" width="2.70" height="2.70" fill="#56c2ef"/>
<rect x="409.23" y="900.86" width="2.70" height="2.70" fill="#5a5db8"/>
<rect x="410.97" y="900.86" width="2.70" height="2.70" fill="#ffffff" stroke="#222" stroke-width="0.6"/>
<rect x="409.53" y="900.86" width="2.70" height="2.70" fill="#666666"/>
<rect x="415.85" y="911.52" width="5.56" height="30.38" fill="#ffffff" stroke="#a5c5ee" stroke-width="0.9"/>
<line x1="418.63" y1="907.48" x2="418.63" y2="915.57" stroke="#7aa8e4" stroke-width="0.8"/>
<line x1="417.24" y1="907.48" x2="420.02" y2="907.48" stroke="#7aa8e4" stroke-width="0.8"/>
<line x1="417.24" y1="915.57" x2="420.02" y2="915.57" stroke="#7aa8e4" stroke-width="0.8"/>
<rect x="418.63" y="920.50" width="2.70" height="2.70" fill="#56c2ef"/>
<rect x="417.24" y="902.65" width="2.70" height="2.70" fill="#5a5db8"/>
<rect x="415.70" y="902.68" width="2.70" height="2.70" fill="#9d9bd8"/>
<rect x="416.82" y="892.15" width="2.70" height="2.70" fill="#ffffff" stroke="#222" stroke-width="0.6"/>
<rect x="422.32" y="900.90" width="5.56" height="41.00" fill="#ffffff" stroke="#a5c5ee" stroke-width="0.9"/>
<rect x="422.32" y="890.48" width="5.56" height="4.22" fill="#ffffff" stroke="#a5c5ee" stroke-width="0.9"/>
<line x1="425.10" y1="887.39" x2="425.10" y2="890.48" stroke="#7aa8e4" stroke-width="0.8"/>
<line x1="423.71" y1="887.39" x2="426.49" y2="887.39" stroke="#7aa8e4" stroke-width="0.8"/>
<rect x="422.11" y="932.33" width="2.70" height="2.70" fill="#242b7d"/>
<rect x="423.01" y="939.74" width="2.70" height="2.70" fill="#56c2ef"/>
<rect x="423.46" y="886.17" width="2.70" height="2.70" fill="#5a5db8"/>
<rect x="425.18" y="884.56" width="2.70" height="2.70" fill="#9d9bd8"/>
<rect x="422.66" y="883.07" width="2.70" height="2.70" fill="#ffffff" stroke="#222" stroke-width="0.6"/>
<rect x="422.52" y="882.47" width="2.70" height="2.70" fill="#666666"/>
<rect x="428.79" y="900.90" width="5.56" height="41.00" fill="#ffffff" stroke="#a5c5ee" stroke-width="0.9"/>
<line x1="431.57" y1="900.59" x2="431.57" y2="903.42" stroke="#7aa8e4" stroke-width="0.8"/>
<line x1="430.18" y1="900.59" x2="432.96" y2="900.59" stroke="#7aa8e4" stroke-width="0.8"/>
<line x1="430.18" y1="903.42" x2="432.96" y2="903.42" stroke="#7aa8e4" stroke-width="0.8"/>
<rect x="431.78" y="900.86" width="2.70" height="2.70" fill="#242b7d"/>
<rect x="430.80" y="906.74" width="2.70" height="2.70" fill="#56c2ef"/>
<rect x="429.54" y="910.78" width="2.70" height="2.70" fill="#5a5db8"/>
<rect x="430.61" y="892.15" width="2.70" height="2.70" fill="#9d9bd8"/>
<rect x="430.94" y="900.86" width="2.70" height="2.70" fill="#ffffff" stroke="#222" stroke-width="0.6"/>
<line x1="442.50" y1="854.40" x2="520.20" y2="854.40" stroke="#4a4a4a" stroke-width="1.5"/>
<text x="481.35" y="852.40" font-size="11.8" font-weight="bold" fill="#1a1a1a" text-anchor="middle">MCI</text>
<text x="481.35" y="863.30" font-size="10.4" font-style="italic" fill="#333" text-anchor="middle">n = 3</text>
<rect x="442.95" y="913.55" width="5.57" height="28.35" fill="#ffffff" stroke="#7ea57c" stroke-width="0.9"/>
<line x1="445.74" y1="907.48" x2="445.74" y2="919.62" stroke="#4a804a" stroke-width="0.8"/>
<line x1="444.35" y1="907.48" x2="447.13" y2="907.48" stroke="#4a804a" stroke-width="0.8"/>
<line x1="444.35" y1="919.62" x2="447.13" y2="919.62" stroke="#4a804a" stroke-width="0.8"/>
<path d="M445.02 903.72L446.58 906.51L443.47 906.51Z" fill="#1d6b3a"/>
<path d="M445.95 891.95L447.50 894.74L444.39 894.74Z" fill="#b8b8b8"/>
<path d="M446.90 915.51L448.45 918.30L445.35 918.30Z" fill="#ffffff" stroke="#333" stroke-width="0.6"/>
<rect x="449.43" y="900.90" width="5.57" height="41.00" fill="#ffffff" stroke="#7ea57c" stroke-width="0.9"/>
<line x1="452.21" y1="900.59" x2="452.21" y2="903.42" stroke="#4a804a" stroke-width="0.8"/>
<line x1="450.82" y1="900.59" x2="453.60" y2="900.59" stroke="#4a804a" stroke-width="0.8"/>
<line x1="450.82" y1="903.42" x2="453.60" y2="903.42" stroke="#4a804a" stroke-width="0.8"/>
<path d="M452.00 900.66L453.55 903.45L450.45 903.45Z" fill="#1d6b3a"/>
<path d="M452.78 900.66L454.33 903.45L451.22 903.45Z" fill="#b8b8b8"/>
<path d="M450.95 904.84L452.50 907.64L449.40 907.64Z" fill="#ffffff" stroke="#333" stroke-width="0.6"/>
<rect x="455.90" y="917.60" width="5.57" height="24.30" fill="#ffffff" stroke="#7ea57c" stroke-width="0.9"/>
<line x1="458.69" y1="909.50" x2="458.69" y2="925.70" stroke="#4a804a" stroke-width="0.8"/>
<line x1="457.30" y1="909.50" x2="460.08" y2="909.50" stroke="#4a804a" stroke-width="0.8"/>
<line x1="457.30" y1="925.70" x2="460.08" y2="925.70" stroke="#4a804a" stroke-width="0.8"/>
<path d="M458.57 907.48L460.12 910.28L457.02 910.28Z" fill="#b8b8b8"/>
<path d="M460.25 904.62L461.80 907.41L458.70 907.41Z" fill="#ffffff" stroke="#333" stroke-width="0.6"/>
<rect x="462.38" y="900.90" width="5.57" height="41.00" fill="#ffffff" stroke="#7ea57c" stroke-width="0.9"/>
<line x1="465.16" y1="900.59" x2="465.16" y2="903.42" stroke="#4a804a" stroke-width="0.8"/>
<line x1="463.77" y1="900.59" x2="466.55" y2="900.59" stroke="#4a804a" stroke-width="0.8"/>
<line x1="463.77" y1="903.42" x2="466.55" y2="903.42" stroke="#4a804a" stroke-width="0.8"/>
<path d="M465.90 909.60L467.45 912.39L464.35 912.39Z" fill="#b8b8b8"/>
<path d="M465.97 900.66L467.53 903.45L464.42 903.45Z" fill="#ffffff" stroke="#333" stroke-width="0.6"/>
<rect x="468.85" y="900.90" width="5.57" height="41.00" fill="#ffffff" stroke="#7ea57c" stroke-width="0.9"/>
<rect x="468.85" y="890.48" width="5.57" height="4.22" fill="#ffffff" stroke="#7ea57c" stroke-width="0.9"/>
<line x1="471.64" y1="887.39" x2="471.64" y2="890.48" stroke="#4a804a" stroke-width="0.8"/>
<line x1="470.25" y1="887.39" x2="473.03" y2="887.39" stroke="#4a804a" stroke-width="0.8"/>
<path d="M472.05 885.40L473.60 888.19L470.49 888.19Z" fill="#1d6b3a"/>
<path d="M472.52 891.95L474.07 894.74L470.96 894.74Z" fill="#b8b8b8"/>
<path d="M472.55 888.30L474.10 891.09L471.00 891.09Z" fill="#ffffff" stroke="#333" stroke-width="0.6"/>
<rect x="475.33" y="900.90" width="5.57" height="41.00" fill="#ffffff" stroke="#7ea57c" stroke-width="0.9"/>
<line x1="478.11" y1="900.59" x2="478.11" y2="903.42" stroke="#4a804a" stroke-width="0.8"/>
<line x1="476.72" y1="900.59" x2="479.50" y2="900.59" stroke="#4a804a" stroke-width="0.8"/>
<line x1="476.72" y1="903.42" x2="479.50" y2="903.42" stroke="#4a804a" stroke-width="0.8"/>
<path d="M476.86 900.66L478.41 903.45L475.31 903.45Z" fill="#1d6b3a"/>
<path d="M479.54 900.66L481.09 903.45L477.98 903.45Z" fill="#b8b8b8"/>
<path d="M479.33 891.95L480.89 894.74L477.78 894.74Z" fill="#ffffff" stroke="#333" stroke-width="0.6"/>
<rect x="481.80" y="900.90" width="5.57" height="41.00" fill="#ffffff" stroke="#7ea57c" stroke-width="0.9"/>
<line x1="484.59" y1="900.59" x2="484.59" y2="903.42" stroke="#4a804a" stroke-width="0.8"/>
<line x1="483.20" y1="900.59" x2="485.98" y2="900.59" stroke="#4a804a" stroke-width="0.8"/>
<line x1="483.20" y1="903.42" x2="485.98" y2="903.42" stroke="#4a804a" stroke-width="0.8"/>
<path d="M485.66 917.67L487.21 920.46L484.10 920.46Z" fill="#1d6b3a"/>
<path d="M485.47 905.44L487.02 908.24L483.92 908.24Z" fill="#b8b8b8"/>
<path d="M483.73 900.66L485.28 903.45L482.17 903.45Z" fill="#ffffff" stroke="#333" stroke-width="0.6"/>
<rect x="488.28" y="917.60" width="5.57" height="24.30" fill="#ffffff" stroke="#7ea57c" stroke-width="0.9"/>
<line x1="491.06" y1="905.45" x2="491.06" y2="929.75" stroke="#4a804a" stroke-width="0.8"/>
<line x1="489.67" y1="905.45" x2="492.45" y2="905.45" stroke="#4a804a" stroke-width="0.8"/>
<line x1="489.67" y1="929.75" x2="492.45" y2="929.75" stroke="#4a804a" stroke-width="0.8"/>
<path d="M491.65 926.55L493.20 929.35L490.10 929.35Z" fill="#1d6b3a"/>
<path d="M490.17 926.72L491.72 929.51L488.61 929.51Z" fill="#b8b8b8"/>
<rect x="494.75" y="905.45" width="5.57" height="36.45" fill="#ffffff" stroke="#7ea57c" stroke-width="0.9"/>
<line x1="497.54" y1="903.42" x2="497.54" y2="907.48" stroke="#4a804a" stroke-width="0.8"/>
<line x1="496.15" y1="903.42" x2="498.93" y2="903.42" stroke="#4a804a" stroke-width="0.8"/>
<line x1="496.15" y1="907.48" x2="498.93" y2="907.48" stroke="#4a804a" stroke-width="0.8"/>
<path d="M497.09 906.25L498.64 909.05L495.54 909.05Z" fill="#1d6b3a"/>
<path d="M499.19 900.66L500.74 903.45L497.63 903.45Z" fill="#b8b8b8"/>
<path d="M497.27 900.66L498.82 903.45L495.71 903.45Z" fill="#ffffff" stroke="#333" stroke-width="0.6"/>
<rect x="501.23" y="905.45" width="5.57" height="36.45" fill="#ffffff" stroke="#7ea57c" stroke-width="0.9"/>
<line x1="504.01" y1="903.42" x2="504.01" y2="907.48" stroke="#4a804a" stroke-width="0.8"/>
<line x1="502.62" y1="903.42" x2="505.40" y2="903.42" stroke="#4a804a" stroke-width="0.8"/>
<line x1="502.62" y1="907.48" x2="505.40" y2="907.48" stroke="#4a804a" stroke-width="0.8"/>
<path d="M503.39 903.26L504.94 906.05L501.84 906.05Z" fill="#1d6b3a"/>
<path d="M504.92 903.74L506.47 906.53L503.36 906.53Z" fill="#b8b8b8"/>
<path d="M502.64 903.29L504.19 906.09L501.09 906.09Z" fill="#ffffff" stroke="#333" stroke-width="0.6"/>
<rect x="507.70" y="919.62" width="5.57" height="22.27" fill="#ffffff" stroke="#7ea57c" stroke-width="0.9"/>
<line x1="510.49" y1="915.57" x2="510.49" y2="923.67" stroke="#4a804a" stroke-width="0.8"/>
<line x1="509.10" y1="915.57" x2="511.88" y2="915.57" stroke="#4a804a" stroke-width="0.8"/>
<line x1="509.10" y1="923.67" x2="511.88" y2="923.67" stroke="#4a804a" stroke-width="0.8"/>
<path d="M512.01 922.91L513.56 925.70L510.45 925.70Z" fill="#b8b8b8"/>
<rect x="514.18" y="922.46" width="5.57" height="19.44" fill="#ffffff" stroke="#7ea57c" stroke-width="0.9"/>
<line x1="516.96" y1="918.41" x2="516.96" y2="926.51" stroke="#4a804a" stroke-width="0.8"/>
<line x1="515.57" y1="918.41" x2="518.35" y2="918.41" stroke="#4a804a" stroke-width="0.8"/>
<line x1="515.57" y1="926.51" x2="518.35" y2="926.51" stroke="#4a804a" stroke-width="0.8"/>
<path d="M517.53 933.25L519.08 936.05L515.98 936.05Z" fill="#1d6b3a"/>
<path d="M517.87 925.04L519.43 927.83L516.32 927.83Z" fill="#b8b8b8"/>
<path d="M516.13 916.99L517.69 919.79L514.58 919.79Z" fill="#ffffff" stroke="#333" stroke-width="0.6"/>
<line x1="528.50" y1="854.40" x2="606.70" y2="854.40" stroke="#4a4a4a" stroke-width="1.5"/>
<text x="567.60" y="852.40" font-size="11.8" font-weight="bold" fill="#1a1a1a" text-anchor="middle">AD</text>
<text x="567.60" y="863.30" font-size="10.4" font-style="italic" fill="#333" text-anchor="middle">n = 3</text>
<rect x="528.96" y="906.26" width="5.60" height="35.64" fill="#ffffff" stroke="#d69a9a" stroke-width="0.9"/>
<line x1="531.76" y1="904.24" x2="531.76" y2="908.28" stroke="#c05050" stroke-width="0.8"/>
<line x1="530.36" y1="904.24" x2="533.16" y2="904.24" stroke="#c05050" stroke-width="0.8"/>
<line x1="530.36" y1="908.28" x2="533.16" y2="908.28" stroke="#c05050" stroke-width="0.8"/>
<circle cx="532.10" cy="908.31" r="1.35" fill="#8e1b1b"/>
<circle cx="531.44" cy="913.81" r="1.35" fill="#ffffff" stroke="#777" stroke-width="0.6"/>
<circle cx="533.20" cy="902.21" r="1.35" fill="#aaaaaa"/>
<rect x="535.47" y="905.45" width="5.60" height="36.45" fill="#ffffff" stroke="#d69a9a" stroke-width="0.9"/>
<line x1="538.28" y1="903.42" x2="538.28" y2="907.48" stroke="#c05050" stroke-width="0.8"/>
<line x1="536.87" y1="903.42" x2="539.68" y2="903.42" stroke="#c05050" stroke-width="0.8"/>
<line x1="536.87" y1="907.48" x2="539.68" y2="907.48" stroke="#c05050" stroke-width="0.8"/>
<circle cx="538.16" cy="907.15" r="1.35" fill="#8e1b1b"/>
<circle cx="538.27" cy="916.36" r="1.35" fill="#ffffff" stroke="#777" stroke-width="0.6"/>
<circle cx="538.12" cy="902.21" r="1.35" fill="#aaaaaa"/>
<rect x="541.99" y="900.90" width="5.60" height="41.00" fill="#ffffff" stroke="#d69a9a" stroke-width="0.9"/>
<rect x="541.99" y="892.54" width="5.60" height="2.16" fill="#ffffff" stroke="#d69a9a" stroke-width="0.9"/>
<line x1="544.79" y1="891.00" x2="544.79" y2="892.54" stroke="#c05050" stroke-width="0.8"/>
<line x1="543.39" y1="891.00" x2="546.19" y2="891.00" stroke="#c05050" stroke-width="0.8"/>
<circle cx="545.02" cy="888.06" r="1.35" fill="#8e1b1b"/>
<circle cx="545.41" cy="941.09" r="1.35" fill="#ffffff" stroke="#777" stroke-width="0.6"/>
<circle cx="544.75" cy="941.09" r="1.35" fill="#aaaaaa"/>
<rect x="548.51" y="900.90" width="5.60" height="41.00" fill="#ffffff" stroke="#d69a9a" stroke-width="0.9"/>
<line x1="551.31" y1="900.59" x2="551.31" y2="903.42" stroke="#c05050" stroke-width="0.8"/>
<line x1="549.91" y1="900.59" x2="552.71" y2="900.59" stroke="#c05050" stroke-width="0.8"/>
<line x1="549.91" y1="903.42" x2="552.71" y2="903.42" stroke="#c05050" stroke-width="0.8"/>
<circle cx="552.75" cy="902.21" r="1.35" fill="#8e1b1b"/>
<circle cx="550.20" cy="912.85" r="1.35" fill="#ffffff" stroke="#777" stroke-width="0.6"/>
<circle cx="550.63" cy="902.21" r="1.35" fill="#aaaaaa"/>
<rect x="555.02" y="900.90" width="5.60" height="41.00" fill="#ffffff" stroke="#d69a9a" stroke-width="0.9"/>
<rect x="555.02" y="884.30" width="5.60" height="10.40" fill="#ffffff" stroke="#d69a9a" stroke-width="0.9"/>
<line x1="557.83" y1="875.03" x2="557.83" y2="884.30" stroke="#c05050" stroke-width="0.8"/>
<line x1="556.42" y1="875.03" x2="559.23" y2="875.03" stroke="#c05050" stroke-width="0.8"/>
<circle cx="556.55" cy="864.75" r="1.35" fill="#8e1b1b"/>
<circle cx="557.54" cy="889.48" r="1.35" fill="#ffffff" stroke="#777" stroke-width="0.6"/>
<circle cx="556.94" cy="873.11" r="1.35" fill="#aaaaaa"/>
<rect x="561.54" y="904.64" width="5.60" height="37.26" fill="#ffffff" stroke="#d69a9a" stroke-width="0.9"/>
<line x1="564.34" y1="902.62" x2="564.34" y2="906.66" stroke="#c05050" stroke-width="0.8"/>
<line x1="562.94" y1="902.62" x2="565.74" y2="902.62" stroke="#c05050" stroke-width="0.8"/>
<line x1="562.94" y1="906.66" x2="565.74" y2="906.66" stroke="#c05050" stroke-width="0.8"/>
<circle cx="563.02" cy="893.50" r="1.35" fill="#8e1b1b"/>
<circle cx="565.04" cy="922.46" r="1.35" fill="#ffffff" stroke="#777" stroke-width="0.6"/>
<circle cx="565.98" cy="893.50" r="1.35" fill="#aaaaaa"/>
<rect x="568.06" y="900.90" width="5.60" height="41.00" fill="#ffffff" stroke="#d69a9a" stroke-width="0.9"/>
<line x1="570.86" y1="900.59" x2="570.86" y2="903.42" stroke="#c05050" stroke-width="0.8"/>
<line x1="569.46" y1="900.59" x2="572.26" y2="900.59" stroke="#c05050" stroke-width="0.8"/>
<line x1="569.46" y1="903.42" x2="572.26" y2="903.42" stroke="#c05050" stroke-width="0.8"/>
<circle cx="570.73" cy="904.40" r="1.35" fill="#8e1b1b"/>
<circle cx="571.43" cy="902.56" r="1.35" fill="#ffffff" stroke="#777" stroke-width="0.6"/>
<circle cx="571.55" cy="902.21" r="1.35" fill="#aaaaaa"/>
<rect x="574.57" y="907.48" width="5.60" height="34.42" fill="#ffffff" stroke="#d69a9a" stroke-width="0.9"/>
<line x1="577.38" y1="903.42" x2="577.38" y2="911.52" stroke="#c05050" stroke-width="0.8"/>
<line x1="575.97" y1="903.42" x2="578.78" y2="903.42" stroke="#c05050" stroke-width="0.8"/>
<line x1="575.97" y1="911.52" x2="578.78" y2="911.52" stroke="#c05050" stroke-width="0.8"/>
<circle cx="578.33" cy="923.88" r="1.35" fill="#8e1b1b"/>
<circle cx="576.62" cy="902.21" r="1.35" fill="#ffffff" stroke="#777" stroke-width="0.6"/>
<circle cx="576.12" cy="911.75" r="1.35" fill="#aaaaaa"/>
<rect x="581.09" y="903.42" width="5.60" height="38.48" fill="#ffffff" stroke="#d69a9a" stroke-width="0.9"/>
<line x1="583.89" y1="901.40" x2="583.89" y2="905.45" stroke="#c05050" stroke-width="0.8"/>
<line x1="582.49" y1="901.40" x2="585.29" y2="901.40" stroke="#c05050" stroke-width="0.8"/>
<line x1="582.49" y1="905.45" x2="585.29" y2="905.45" stroke="#c05050" stroke-width="0.8"/>
<circle cx="582.93" cy="904.29" r="1.35" fill="#8e1b1b"/>
<circle cx="583.64" cy="904.88" r="1.35" fill="#ffffff" stroke="#777" stroke-width="0.6"/>
<circle cx="582.87" cy="902.21" r="1.35" fill="#aaaaaa"/>
<rect x="587.61" y="900.90" width="5.60" height="41.00" fill="#ffffff" stroke="#d69a9a" stroke-width="0.9"/>
<line x1="590.41" y1="900.59" x2="590.41" y2="903.42" stroke="#c05050" stroke-width="0.8"/>
<line x1="589.01" y1="900.59" x2="591.81" y2="900.59" stroke="#c05050" stroke-width="0.8"/>
<line x1="589.01" y1="903.42" x2="591.81" y2="903.42" stroke="#c05050" stroke-width="0.8"/>
<circle cx="590.07" cy="910.79" r="1.35" fill="#8e1b1b"/>
<circle cx="591.88" cy="905.79" r="1.35" fill="#ffffff" stroke="#777" stroke-width="0.6"/>
<circle cx="589.56" cy="893.50" r="1.35" fill="#aaaaaa"/>
<rect x="594.12" y="921.65" width="5.60" height="20.25" fill="#ffffff" stroke="#d69a9a" stroke-width="0.9"/>
<line x1="596.93" y1="913.55" x2="596.93" y2="929.75" stroke="#c05050" stroke-width="0.8"/>
<line x1="595.52" y1="913.55" x2="598.33" y2="913.55" stroke="#c05050" stroke-width="0.8"/>
<line x1="595.52" y1="929.75" x2="598.33" y2="929.75" stroke="#c05050" stroke-width="0.8"/>
<circle cx="598.25" cy="909.74" r="1.35" fill="#8e1b1b"/>
<circle cx="595.87" cy="929.68" r="1.35" fill="#ffffff" stroke="#777" stroke-width="0.6"/>
<circle cx="597.09" cy="906.16" r="1.35" fill="#aaaaaa"/>
<rect x="600.64" y="923.67" width="5.60" height="18.23" fill="#ffffff" stroke="#d69a9a" stroke-width="0.9"/>
<line x1="603.44" y1="917.60" x2="603.44" y2="929.75" stroke="#c05050" stroke-width="0.8"/>
<line x1="602.04" y1="917.60" x2="604.84" y2="917.60" stroke="#c05050" stroke-width="0.8"/>
<line x1="602.04" y1="929.75" x2="604.84" y2="929.75" stroke="#c05050" stroke-width="0.8"/>
<circle cx="604.15" cy="926.48" r="1.35" fill="#8e1b1b"/>
<circle cx="604.47" cy="927.53" r="1.35" fill="#ffffff" stroke="#777" stroke-width="0.6"/>
<line x1="353.10" y1="894.30" x2="607.50" y2="894.30" stroke="#1a1a1a" stroke-width="1.0" stroke-dasharray="2.5,1.3"/>
<line x1="353.10" y1="901.40" x2="607.50" y2="901.40" stroke="#1a1a1a" stroke-width="1.0" stroke-dasharray="2.5,1.3"/>
<line x1="353.10" y1="853.40" x2="353.10" y2="895.20" stroke="#111" stroke-width="1.4"/>
<line x1="353.10" y1="900.40" x2="353.10" y2="941.90" stroke="#111" stroke-width="1.4"/>
<line x1="352.40" y1="941.90" x2="607.50" y2="941.90" stroke="#111" stroke-width="1.4"/>
<line x1="349.60" y1="853.40" x2="353.10" y2="853.40" stroke="#111" stroke-width="1.1"/>
<text x="348.60" y="856.00" font-size="7.4" font-weight="bold" fill="#222" text-anchor="end">80</text>
<line x1="349.60" y1="863.60" x2="353.10" y2="863.60" stroke="#111" stroke-width="1.1"/>
<text x="348.60" y="866.20" font-size="7.4" font-weight="bold" fill="#222" text-anchor="end">60</text>
<line x1="349.60" y1="873.80" x2="353.10" y2="873.80" stroke="#111" stroke-width="1.1"/>
<text x="348.60" y="876.40" font-size="7.4" font-weight="bold" fill="#222" text-anchor="end">40</text>
<line x1="349.60" y1="884.30" x2="353.10" y2="884.30" stroke="#111" stroke-width="1.1"/>
<text x="348.60" y="886.90" font-size="7.4" font-weight="bold" fill="#222" text-anchor="end">20</text>
<line x1="349.60" y1="894.70" x2="353.10" y2="894.70" stroke="#111" stroke-width="1.1"/>
<line x1="349.60" y1="901.40" x2="353.10" y2="901.40" stroke="#111" stroke-width="1.1"/>
<text x="348.60" y="904.00" font-size="7.4" font-weight="bold" fill="#222" text-anchor="end">1.0</text>
<line x1="349.60" y1="921.65" x2="353.10" y2="921.65" stroke="#111" stroke-width="1.1"/>
<text x="348.60" y="924.25" font-size="7.4" font-weight="bold" fill="#222" text-anchor="end">0.5</text>
<line x1="349.60" y1="941.90" x2="353.10" y2="941.90" stroke="#111" stroke-width="1.1"/>
<text x="348.60" y="944.50" font-size="7.4" font-weight="bold" fill="#222" text-anchor="end">0.0</text>
<line x1="360.43" y1="941.90" x2="360.43" y2="946.10" stroke="#111" stroke-width="1.3"/>
<text x="362.33" y="949.30" font-size="5.6" font-weight="bold" fill="#000" text-anchor="end" transform="rotate(-45 362.3333333333333 949.3)">IL-6</text>
<line x1="366.90" y1="941.90" x2="366.90" y2="946.10" stroke="#111" stroke-width="1.3"/>
<text x="368.80" y="949.30" font-size="5.6" font-weight="bold" fill="#000" text-anchor="end" transform="rotate(-45 368.79999999999995 949.3)">IL-8</text>
<line x1="373.37" y1="941.90" x2="373.37" y2="946.10" stroke="#111" stroke-width="1.3"/>
<text x="375.27" y="949.30" font-size="5.6" font-weight="bold" fill="#000" text-anchor="end" transform="rotate(-45 375.26666666666665 949.3)">TNF-α</text>
<line x1="379.83" y1="941.90" x2="379.83" y2="946.10" stroke="#111" stroke-width="1.3"/>
<text x="381.73" y="949.30" font-size="5.6" font-weight="bold" fill="#000" text-anchor="end" transform="rotate(-45 381.7333333333333 949.3)">MCP-1</text>
<line x1="386.30" y1="941.90" x2="386.30" y2="946.10" stroke="#111" stroke-width="1.3"/>
<text x="388.20" y="949.30" font-size="5.6" font-weight="bold" fill="#000" text-anchor="end" transform="rotate(-45 388.2 949.3)">IL-1β</text>
<line x1="392.77" y1="941.90" x2="392.77" y2="946.10" stroke="#111" stroke-width="1.3"/>
<text x="394.67" y="949.30" font-size="5.6" font-weight="bold" fill="#000" text-anchor="end" transform="rotate(-45 394.66666666666663 949.3)">IL-18</text>
<line x1="399.23" y1="941.90" x2="399.23" y2="946.10" stroke="#111" stroke-width="1.3"/>
<text x="401.13" y="949.30" font-size="5.6" font-weight="bold" fill="#000" text-anchor="end" transform="rotate(-45 401.1333333333333 949.3)">IL-10</text>
<line x1="405.70" y1="941.90" x2="405.70" y2="946.10" stroke="#111" stroke-width="1.3"/>
<text x="407.60" y="949.30" font-size="5.6" font-weight="bold" fill="#000" text-anchor="end" transform="rotate(-45 407.59999999999997 949.3)">IFN-γ</text>
<line x1="412.17" y1="941.90" x2="412.17" y2="946.10" stroke="#111" stroke-width="1.3"/>
<text x="414.07" y="949.30" font-size="5.6" font-weight="bold" fill="#000" text-anchor="end" transform="rotate(-45 414.06666666666666 949.3)">IFN-α2</text>
<line x1="418.63" y1="941.90" x2="418.63" y2="946.10" stroke="#111" stroke-width="1.3"/>
<text x="420.53" y="949.30" font-size="5.6" font-weight="bold" fill="#000" text-anchor="end" transform="rotate(-45 420.5333333333333 949.3)">IL-33</text>
<line x1="425.10" y1="941.90" x2="425.10" y2="946.10" stroke="#111" stroke-width="1.3"/>
<text x="427.00" y="949.30" font-size="5.6" font-weight="bold" fill="#000" text-anchor="end" transform="rotate(-45 427.0 949.3)">IL-23</text>
<line x1="431.57" y1="941.90" x2="431.57" y2="946.10" stroke="#111" stroke-width="1.3"/>
<text x="433.47" y="949.30" font-size="5.6" font-weight="bold" fill="#000" text-anchor="end" transform="rotate(-45 433.46666666666664 949.3)">IL-12p70</text>
<line x1="445.74" y1="941.90" x2="445.74" y2="946.10" stroke="#111" stroke-width="1.3"/>
<text x="447.64" y="949.30" font-size="5.6" font-weight="bold" fill="#000" text-anchor="end" transform="rotate(-45 447.6375 949.3)">IL-6</text>
<line x1="452.21" y1="941.90" x2="452.21" y2="946.10" stroke="#111" stroke-width="1.3"/>
<text x="454.11" y="949.30" font-size="5.6" font-weight="bold" fill="#000" text-anchor="end" transform="rotate(-45 454.11249999999995 949.3)">IL-8</text>
<line x1="458.69" y1="941.90" x2="458.69" y2="946.10" stroke="#111" stroke-width="1.3"/>
<text x="460.59" y="949.30" font-size="5.6" font-weight="bold" fill="#000" text-anchor="end" transform="rotate(-45 460.5875 949.3)">TNF-α</text>
<line x1="465.16" y1="941.90" x2="465.16" y2="946.10" stroke="#111" stroke-width="1.3"/>
<text x="467.06" y="949.30" font-size="5.6" font-weight="bold" fill="#000" text-anchor="end" transform="rotate(-45 467.0625 949.3)">MCP-1</text>
<line x1="471.64" y1="941.90" x2="471.64" y2="946.10" stroke="#111" stroke-width="1.3"/>
<text x="473.54" y="949.30" font-size="5.6" font-weight="bold" fill="#000" text-anchor="end" transform="rotate(-45 473.5375 949.3)">IL-1β</text>
<line x1="478.11" y1="941.90" x2="478.11" y2="946.10" stroke="#111" stroke-width="1.3"/>
<text x="480.01" y="949.30" font-size="5.6" font-weight="bold" fill="#000" text-anchor="end" transform="rotate(-45 480.0125 949.3)">IL-18</text>
<line x1="484.59" y1="941.90" x2="484.59" y2="946.10" stroke="#111" stroke-width="1.3"/>
<text x="486.49" y="949.30" font-size="5.6" font-weight="bold" fill="#000" text-anchor="end" transform="rotate(-45 486.4875 949.3)">IL-10</text>
<line x1="491.06" y1="941.90" x2="491.06" y2="946.10" stroke="#111" stroke-width="1.3"/>
<text x="492.96" y="949.30" font-size="5.6" font-weight="bold" fill="#000" text-anchor="end" transform="rotate(-45 492.9625 949.3)">IFN-γ</text>
<line x1="497.54" y1="941.90" x2="497.54" y2="946.10" stroke="#111" stroke-width="1.3"/>
<text x="499.44" y="949.30" font-size="5.6" font-weight="bold" fill="#000" text-anchor="end" transform="rotate(-45 499.4375 949.3)">IFN-α2</text>
<line x1="504.01" y1="941.90" x2="504.01" y2="946.10" stroke="#111" stroke-width="1.3"/>
<text x="505.91" y="949.30" font-size="5.6" font-weight="bold" fill="#000" text-anchor="end" transform="rotate(-45 505.9125 949.3)">IL-33</text>
<line x1="510.49" y1="941.90" x2="510.49" y2="946.10" stroke="#111" stroke-width="1.3"/>
<text x="512.39" y="949.30" font-size="5.6" font-weight="bold" fill="#000" text-anchor="end" transform="rotate(-45 512.3875 949.3)">IL-23</text>
<line x1="516.96" y1="941.90" x2="516.96" y2="946.10" stroke="#111" stroke-width="1.3"/>
<text x="518.86" y="949.30" font-size="5.6" font-weight="bold" fill="#000" text-anchor="end" transform="rotate(-45 518.8625000000001 949.3)">IL-12p70</text>
<line x1="531.76" y1="941.90" x2="531.76" y2="946.10" stroke="#111" stroke-width="1.3"/>
<text x="533.66" y="949.30" font-size="5.6" font-weight="bold" fill="#000" text-anchor="end" transform="rotate(-45 533.6583333333333 949.3)">IL-6</text>
<line x1="538.27" y1="941.90" x2="538.27" y2="946.10" stroke="#111" stroke-width="1.3"/>
<text x="540.17" y="949.30" font-size="5.6" font-weight="bold" fill="#000" text-anchor="end" transform="rotate(-45 540.175 949.3)">IL-8</text>
<line x1="544.79" y1="941.90" x2="544.79" y2="946.10" stroke="#111" stroke-width="1.3"/>
<text x="546.69" y="949.30" font-size="5.6" font-weight="bold" fill="#000" text-anchor="end" transform="rotate(-45 546.6916666666666 949.3)">TNF-α</text>
<line x1="551.31" y1="941.90" x2="551.31" y2="946.10" stroke="#111" stroke-width="1.3"/>
<text x="553.21" y="949.30" font-size="5.6" font-weight="bold" fill="#000" text-anchor="end" transform="rotate(-45 553.2083333333334 949.3)">MCP-1</text>
<line x1="557.83" y1="941.90" x2="557.83" y2="946.10" stroke="#111" stroke-width="1.3"/>
<text x="559.73" y="949.30" font-size="5.6" font-weight="bold" fill="#000" text-anchor="end" transform="rotate(-45 559.725 949.3)">IL-1β</text>
<line x1="564.34" y1="941.90" x2="564.34" y2="946.10" stroke="#111" stroke-width="1.3"/>
<text x="566.24" y="949.30" font-size="5.6" font-weight="bold" fill="#000" text-anchor="end" transform="rotate(-45 566.2416666666667 949.3)">IL-18</text>
<line x1="570.86" y1="941.90" x2="570.86" y2="946.10" stroke="#111" stroke-width="1.3"/>
<text x="572.76" y="949.30" font-size="5.6" font-weight="bold" fill="#000" text-anchor="end" transform="rotate(-45 572.7583333333333 949.3)">IL-10</text>
<line x1="577.38" y1="941.90" x2="577.38" y2="946.10" stroke="#111" stroke-width="1.3"/>
<text x="579.27" y="949.30" font-size="5.6" font-weight="bold" fill="#000" text-anchor="end" transform="rotate(-45 579.275 949.3)">IFN-γ</text>
<line x1="583.89" y1="941.90" x2="583.89" y2="946.10" stroke="#111" stroke-width="1.3"/>
<text x="585.79" y="949.30" font-size="5.6" font-weight="bold" fill="#000" text-anchor="end" transform="rotate(-45 585.7916666666666 949.3)">IFN-α2</text>
<line x1="590.41" y1="941.90" x2="590.41" y2="946.10" stroke="#111" stroke-width="1.3"/>
<text x="592.31" y="949.30" font-size="5.6" font-weight="bold" fill="#000" text-anchor="end" transform="rotate(-45 592.3083333333334 949.3)">IL-33</text>
<line x1="596.93" y1="941.90" x2="596.93" y2="946.10" stroke="#111" stroke-width="1.3"/>
<text x="598.83" y="949.30" font-size="5.6" font-weight="bold" fill="#000" text-anchor="end" transform="rotate(-45 598.825 949.3)">IL-23</text>
<line x1="603.44" y1="941.90" x2="603.44" y2="946.10" stroke="#111" stroke-width="1.3"/>
<text x="605.34" y="949.30" font-size="5.6" font-weight="bold" fill="#000" text-anchor="end" transform="rotate(-45 605.3416666666667 949.3)">IL-12p70</text>
<path d="M372.8 477.4 V483.5" stroke="#e8202a" stroke-width="1"/>
<path d="M369.90000000000003 483 L375.7 483 L372.8 489Z" fill="#e8202a"/>
<polygon points="370.80,493.70 371.36,495.03 372.80,495.15 371.70,496.09 372.03,497.50 370.80,496.75 369.57,497.50 369.90,496.09 368.80,495.15 370.24,495.03" fill="#111"/>
<polygon points="374.80,493.70 375.36,495.03 376.80,495.15 375.70,496.09 376.03,497.50 374.80,496.75 373.57,497.50 373.90,496.09 372.80,495.15 374.24,495.03" fill="#111"/>
<path d="M393.5 455 V461.1" stroke="#e8202a" stroke-width="1"/>
<path d="M390.6 460.6 L396.4 460.6 L393.5 466.6Z" fill="#e8202a"/>
<polygon points="393.50,469.20 394.06,470.53 395.50,470.65 394.40,471.59 394.73,473.00 393.50,472.25 392.27,473.00 392.60,471.59 391.50,470.65 392.94,470.53" fill="#111"/>
<path d="M404.6 475 V481.8" stroke="#e8202a" stroke-width="1"/>
<path d="M401.70000000000005 481.3 L407.5 481.3 L404.6 487.3Z" fill="#e8202a"/>
<polygon points="402.60,491.20 403.16,492.53 404.60,492.65 403.50,493.59 403.83,495.00 402.60,494.25 401.37,495.00 401.70,493.59 400.60,492.65 402.04,492.53" fill="#111"/>
<polygon points="406.60,491.20 407.16,492.53 408.60,492.65 407.50,493.59 407.83,495.00 406.60,494.25 405.37,495.00 405.70,493.59 404.60,492.65 406.04,492.53" fill="#111"/>
<path d="M415.2 469 V475.4" stroke="#e8202a" stroke-width="1"/>
<path d="M412.3 474.9 L418.09999999999997 474.9 L415.2 480.9Z" fill="#e8202a"/>
<polygon points="413.20,484.20 413.76,485.53 415.20,485.65 414.10,486.59 414.43,488.00 413.20,487.25 411.97,488.00 412.30,486.59 411.20,485.65 412.64,485.53" fill="#111"/>
<polygon points="417.20,484.20 417.76,485.53 419.20,485.65 418.10,486.59 418.43,488.00 417.20,487.25 415.97,488.00 416.30,486.59 415.20,485.65 416.64,485.53" fill="#111"/>
<path d="M425.3 487.9 V494.1" stroke="#e8202a" stroke-width="1"/>
<path d="M422.40000000000003 493.6 L428.2 493.6 L425.3 499.6Z" fill="#e8202a"/>
<polygon points="421.30,503.70 421.86,505.03 423.30,505.15 422.20,506.09 422.53,507.50 421.30,506.75 420.07,507.50 420.40,506.09 419.30,505.15 420.74,505.03" fill="#111"/>
<polygon points="425.30,503.70 425.86,505.03 427.30,505.15 426.20,506.09 426.53,507.50 425.30,506.75 424.07,507.50 424.40,506.09 423.30,505.15 424.74,505.03" fill="#111"/>
<polygon points="429.30,503.70 429.86,505.03 431.30,505.15 430.20,506.09 430.53,507.50 429.30,506.75 428.07,507.50 428.40,506.09 427.30,505.15 428.74,505.03" fill="#111"/>
<path d="M239.6 602.6 V607.6" stroke="#f4876a" stroke-width="1" stroke-dasharray="1,0.8"/>
<path d="M236.7 607.1 L242.5 607.1 L239.6 613.1Z" fill="#f4876a"/>
<rect x="230.50" y="615.50" width="19.00" height="5.50" fill="#fff" stroke="none" stroke-width="1"/>
<text x="240.00" y="620.80" font-size="6.6" font-style="italic" fill="#222" text-anchor="middle">0.0583</text>
<line x1="235.20" y1="624.20" x2="244.00" y2="624.20" stroke="#222" stroke-width="0.7"/>
<path d="M279.6 614.3 V619.6" stroke="#e8202a" stroke-width="1"/>
<path d="M276.70000000000005 619.1 L282.5 619.1 L279.6 625.1Z" fill="#e8202a"/>
<polygon points="279.60,626.70 280.16,628.03 281.60,628.15 280.50,629.09 280.83,630.50 279.60,629.75 278.37,630.50 278.70,629.09 277.60,628.15 279.04,628.03" fill="#111"/>
<path d="M520.4 612 V617.8" stroke="#f4876a" stroke-width="1" stroke-dasharray="1,0.8"/>
<path d="M517.5 617.3 L523.3 617.3 L520.4 623.3Z" fill="#f4876a"/>
<text x="520.40" y="631.00" font-size="6.6" font-style="italic" fill="#222" text-anchor="middle">0.0580</text>
<line x1="515.70" y1="634.50" x2="524.50" y2="634.50" stroke="#222" stroke-width="0.7"/>
<path d="M498.3 884.2 V890.4" stroke="#e8202a" stroke-width="1"/>
<path d="M495.40000000000003 889.9 L501.2 889.9 L498.3 895.9Z" fill="#e8202a"/>
<polygon points="498.30,896.70 498.86,898.03 500.30,898.15 499.20,899.09 499.53,900.50 498.30,899.75 497.07,900.50 497.40,899.09 496.30,898.15 497.74,898.03" fill="#111"/>
<text x="2.20" y="399.80" font-size="17.5" font-weight="bold" fill="#111" text-anchor="start">C</text>
<text x="195.60" y="418.30" font-size="13.8" font-weight="bold" fill="#111" text-anchor="middle">2D</text>
<text x="474.30" y="418.10" font-size="13.8" font-weight="bold" fill="#111" text-anchor="middle">3D</text>
<path d="M42.5 424.5 Q28.5 424.5 28.5 437.5 L28.5 675.5 Q28.5 688.5 42.5 688.5" fill="none" stroke="#222" stroke-width="1.3"/>
<path d="M42.5 704.5 Q28.5 704.5 28.5 717.5 L28.5 954.5 Q28.5 967.5 42.5 967.5" fill="none" stroke="#222" stroke-width="1.3"/>
<text x="22.40" y="552.70" font-size="13.1" font-weight="bold" fill="#111" text-anchor="middle" transform="rotate(-90 22.4 552.7)">Minocycline</text>
<text x="23.00" y="837.30" font-size="13.1" font-weight="bold" fill="#111" text-anchor="middle" transform="rotate(-90 23.0 837.3)">IC14</text>
<text x="45.00" y="486.80" font-size="11.1" font-weight="bold" fill="#111" text-anchor="middle" transform="rotate(-90 45.0 486.8)">mRNA expression/18S</text>
<text x="53.40" y="486.80" font-size="7.6" fill="#333" text-anchor="middle" transform="rotate(-90 53.4 486.8)">(fold change to LPS)</text>
<text x="41.80" y="618.20" font-size="11.2" font-weight="bold" fill="#111" text-anchor="middle" transform="rotate(-90 41.8 618.2)">Secretion (pg/mL)</text>
<text x="52.00" y="617.60" font-size="7.7" fill="#333" text-anchor="middle" transform="rotate(-90 52.0 617.6)">(fold change to LPS)</text>
<text x="44.20" y="766.80" font-size="11.1" font-weight="bold" fill="#111" text-anchor="middle" transform="rotate(-90 44.2 766.8)">mRNA expression/18S</text>
<text x="52.50" y="766.80" font-size="7.85" fill="#333" text-anchor="middle" transform="rotate(-90 52.5 766.8)">(fold change to LPS + Isotype)</text>
<text x="42.50" y="896.00" font-size="11.0" font-weight="bold" fill="#111" text-anchor="middle" transform="rotate(-90 42.5 896.0)">Secretion (pg/mL)</text>
<text x="52.20" y="898.00" font-size="7.95" fill="#333" text-anchor="middle" transform="rotate(-90 52.2 898.0)">(fold change to LPS + Isotype)</text>
<line x1="31.00" y1="699.00" x2="616.00" y2="699.00" stroke="#8a8a8a" stroke-width="1.1" stroke-dasharray="4.2,3"/>
<line x1="602.90" y1="479.40" x2="602.90" y2="486.00" stroke="#222" stroke-width="0.8" stroke-dasharray="2,1.5"/>
<path d="M605.2 473.3 L605.2 442.6" stroke="#111" stroke-width="1.2"/>
<path d="M601.8000000000001 447.1 L605.2 439.6 L608.6 447.1" fill="none" stroke="#111" stroke-width="1.2"/>
<path d="M605.2 490.3 L605.2 521.4" stroke="#111" stroke-width="1.2"/>
<path d="M601.8000000000001 516.9 L605.2 524.4 L608.6 516.9" fill="none" stroke="#111" stroke-width="1.2"/>
<text x="603.20" y="486.00" font-size="9.1" font-style="italic" fill="#222" text-anchor="start">No effect</text>
<text x="619.30" y="442.40" font-size="10.5" font-style="italic" fill="#222" text-anchor="middle" transform="rotate(-90 619.3 442.4)">Pro-</text>
<text x="631.30" y="442.40" font-size="10.5" font-style="italic" fill="#222" text-anchor="middle" transform="rotate(-90 631.3 442.4)">inflammatory</text>
<text x="619.30" y="519.50" font-size="10.5" font-style="italic" fill="#222" text-anchor="middle" transform="rotate(-90 619.3 519.5)">Anti-</text>
<text x="631.30" y="519.50" font-size="10.5" font-style="italic" fill="#222" text-anchor="middle" transform="rotate(-90 631.3 519.5)">inflammatory</text>
<path d="M604.8 754.2 L604.8 723.4" stroke="#111" stroke-width="1.2"/>
<path d="M601.4 727.9 L604.8 720.4 L608.1999999999999 727.9" fill="none" stroke="#111" stroke-width="1.2"/>
<path d="M604.8 771.5 L604.8 803.1" stroke="#111" stroke-width="1.2"/>
<path d="M601.4 798.6 L604.8 806.1 L608.1999999999999 798.6" fill="none" stroke="#111" stroke-width="1.2"/>
<text x="602.80" y="766.30" font-size="9.1" font-style="italic" fill="#222" text-anchor="start">No effect</text>
<text x="619.30" y="719.10" font-size="10.5" font-style="italic" fill="#222" text-anchor="middle" transform="rotate(-90 619.3 719.1)">Pro-</text>
<text x="631.30" y="719.10" font-size="10.5" font-style="italic" fill="#222" text-anchor="middle" transform="rotate(-90 631.3 719.1)">inflammatory</text>
<text x="619.30" y="800.30" font-size="10.5" font-style="italic" fill="#222" text-anchor="middle" transform="rotate(-90 619.3 800.3)">Anti-</text>
<text x="631.30" y="800.30" font-size="10.5" font-style="italic" fill="#222" text-anchor="middle" transform="rotate(-90 631.3 800.3)">inflammatory</text>
<text x="661.00" y="545.50" font-size="13" font-style="italic" fill="#111" text-anchor="middle">HC</text>
<rect x="639.50" y="547.50" width="46.00" height="88.00" fill="#fff" stroke="#222" stroke-width="0.9"/>
<rect x="643.2" y="550.50" width="8.4" height="8.4" fill="#242b7d"/>
<text x="656.50" y="557.60" font-size="8.2" fill="#222" text-anchor="start">HC_1</text>
<rect x="643.2" y="564.95" width="8.4" height="8.4" fill="#56c2ef"/>
<text x="656.50" y="572.05" font-size="8.2" fill="#222" text-anchor="start">HC_2</text>
<rect x="643.2" y="579.40" width="8.4" height="8.4" fill="#5a5db8"/>
<text x="656.50" y="586.50" font-size="8.2" fill="#222" text-anchor="start">HC_3</text>
<rect x="643.2" y="593.85" width="8.4" height="8.4" fill="#9d9bd8"/>
<text x="656.50" y="600.95" font-size="8.2" fill="#222" text-anchor="start">HC_4</text>
<rect x="643.2" y="608.30" width="8.4" height="8.4" fill="#ffffff" stroke="#222" stroke-width="0.7"/>
<text x="656.50" y="615.40" font-size="8.2" fill="#222" text-anchor="start">HC_5</text>
<rect x="643.2" y="622.75" width="8.4" height="8.4" fill="#666666"/>
<text x="656.50" y="629.85" font-size="8.2" fill="#222" text-anchor="start">HC_6</text>
<text x="662.00" y="657.50" font-size="13" font-style="italic" fill="#111" text-anchor="middle">MCI</text>
<rect x="639.50" y="659.50" width="46.00" height="54.00" fill="#fff" stroke="#222" stroke-width="0.9"/>
<path d="M646.5 664.5L652 674.0L641 674.0Z" fill="#1d6b3a"/>
<text x="655.00" y="672.70" font-size="8.6" fill="#333" text-anchor="start">MCI_1</text>
<path d="M646.5 681.8L652 691.3L641 691.3Z" fill="#b8b8b8"/>
<text x="655.00" y="690.00" font-size="8.6" fill="#333" text-anchor="start">MCI_2</text>
<path d="M646.5 699.1L652 708.6L641 708.6Z" fill="#ffffff" stroke="#555" stroke-width="0.6"/>
<text x="655.00" y="707.30" font-size="8.6" fill="#333" text-anchor="start">MCI_3</text>
<text x="661.00" y="731.50" font-size="13" font-style="italic" fill="#111" text-anchor="middle">AD</text>
<rect x="639.50" y="733.50" width="46.00" height="47.00" fill="#fff" stroke="#222" stroke-width="0.9"/>
<circle cx="646.5" cy="741.60" r="5" fill="#8e1b1b"/>
<text x="652.50" y="744.80" font-size="8.8" fill="#222" text-anchor="start">AD_1</text>
<circle cx="646.5" cy="757.80" r="5" fill="#ffffff" stroke="#999" stroke-width="0.7"/>
<text x="652.50" y="761.00" font-size="8.8" fill="#222" text-anchor="start">AD_2</text>
<circle cx="646.5" cy="774.00" r="5" fill="#aaaaaa"/>
<text x="652.50" y="777.20" font-size="8.8" fill="#222" text-anchor="start">AD_3</text>
<text x="235.80" y="12.70" font-size="17.5" font-weight="bold" fill="#111" text-anchor="start">B</text>
<text x="329.00" y="25.70" font-size="14.8" font-weight="bold" fill="#111" text-anchor="middle">HC</text>
<text x="472.20" y="24.90" font-size="14.8" font-weight="bold" fill="#111" text-anchor="middle">MCI</text>
<text x="616.20" y="25.40" font-size="14.8" font-weight="bold" fill="#111" text-anchor="middle">AD</text>
<text x="248.60" y="102.70" font-size="14.4" font-weight="bold" fill="#111" text-anchor="middle">2D</text>
<text x="250.00" y="239.70" font-size="14.4" font-weight="bold" fill="#111" text-anchor="middle">3D</text>
<rect x="259.60" y="30.30" width="136.20" height="135.10" fill="#ffffff" stroke="#cfcfcf" stroke-width="1"/>
<line x1="277.70" y1="50.45" x2="389.90" y2="50.45" stroke="#f2f2f2" stroke-width="0.6"/>
<line x1="277.70" y1="79.05" x2="389.90" y2="79.05" stroke="#f2f2f2" stroke-width="0.6"/>
<line x1="277.70" y1="107.40" x2="389.90" y2="107.40" stroke="#f2f2f2" stroke-width="0.6"/>
<line x1="277.70" y1="135.80" x2="389.90" y2="135.80" stroke="#f2f2f2" stroke-width="0.6"/>
<line x1="299.00" y1="35.00" x2="299.00" y2="155.40" stroke="#f2f2f2" stroke-width="0.6"/>
<line x1="330.80" y1="35.00" x2="330.80" y2="155.40" stroke="#f2f2f2" stroke-width="0.6"/>
<line x1="362.15" y1="35.00" x2="362.15" y2="155.40" stroke="#f2f2f2" stroke-width="0.6"/>
<line x1="277.70" y1="36.00" x2="389.90" y2="36.00" stroke="#e6e6e6" stroke-width="0.7"/>
<line x1="277.70" y1="64.90" x2="389.90" y2="64.90" stroke="#e6e6e6" stroke-width="0.7"/>
<line x1="277.70" y1="93.20" x2="389.90" y2="93.20" stroke="#e6e6e6" stroke-width="0.7"/>
<line x1="277.70" y1="121.60" x2="389.90" y2="121.60" stroke="#e6e6e6" stroke-width="0.7"/>
<line x1="277.70" y1="150.00" x2="389.90" y2="150.00" stroke="#e6e6e6" stroke-width="0.7"/>
<line x1="283.00" y1="35.00" x2="283.00" y2="155.40" stroke="#e6e6e6" stroke-width="0.7"/>
<line x1="315.00" y1="35.00" x2="315.00" y2="155.40" stroke="#e6e6e6" stroke-width="0.7"/>
<line x1="346.60" y1="35.00" x2="346.60" y2="155.40" stroke="#e6e6e6" stroke-width="0.7"/>
<line x1="377.70" y1="35.00" x2="377.70" y2="155.40" stroke="#e6e6e6" stroke-width="0.7"/>
<line x1="277.70" y1="93.20" x2="389.90" y2="93.20" stroke="#333" stroke-width="0.9" stroke-dasharray="2,1.6"/>
<line x1="346.60" y1="33.00" x2="346.60" y2="157.40" stroke="#333" stroke-width="0.9" stroke-dasharray="2,1.6"/>
<text x="275.80" y="37.30" font-size="3.9" fill="#666" text-anchor="end">5.0</text>
<line x1="276.10" y1="36.00" x2="277.70" y2="36.00" stroke="#888" stroke-width="0.5"/>
<text x="275.80" y="66.20" font-size="3.9" fill="#666" text-anchor="end">2.5</text>
<line x1="276.10" y1="64.90" x2="277.70" y2="64.90" stroke="#888" stroke-width="0.5"/>
<text x="275.80" y="94.50" font-size="3.9" fill="#666" text-anchor="end">0.0</text>
<line x1="276.10" y1="93.20" x2="277.70" y2="93.20" stroke="#888" stroke-width="0.5"/>
<text x="275.80" y="122.90" font-size="3.9" fill="#666" text-anchor="end">-2.5</text>
<line x1="276.10" y1="121.60" x2="277.70" y2="121.60" stroke="#888" stroke-width="0.5"/>
<text x="275.80" y="151.30" font-size="3.9" fill="#666" text-anchor="end">-5.0</text>
<line x1="276.10" y1="150.00" x2="277.70" y2="150.00" stroke="#888" stroke-width="0.5"/>
<text x="283.00" y="161.00" font-size="3.9" fill="#666" text-anchor="middle">-5</text>
<line x1="283.00" y1="155.40" x2="283.00" y2="157.00" stroke="#888" stroke-width="0.5"/>
<text x="315.00" y="161.00" font-size="3.9" fill="#666" text-anchor="middle">-3</text>
<line x1="315.00" y1="155.40" x2="315.00" y2="157.00" stroke="#888" stroke-width="0.5"/>
<text x="346.60" y="161.00" font-size="3.9" fill="#666" text-anchor="middle">0</text>
<line x1="346.60" y1="155.40" x2="346.60" y2="157.00" stroke="#888" stroke-width="0.5"/>
<text x="377.70" y="161.00" font-size="3.9" fill="#666" text-anchor="middle">3</text>
<line x1="377.70" y1="155.40" x2="377.70" y2="157.00" stroke="#888" stroke-width="0.5"/>
<text x="333.80" y="163.20" font-size="4.4" fill="#444" text-anchor="middle">Dim1 (55.6%)</text>
<text x="268.20" y="95.20" font-size="4.4" fill="#444" text-anchor="middle" transform="rotate(-90 268.2 95.2)">Dim2 (12.0%)</text>
<ellipse cx="307.40" cy="93.50" rx="16.80" ry="15.80" transform="rotate(-10 307.40 93.50)" fill="none" stroke="#F8766D" stroke-width="0.8" stroke-opacity="0.85"/>
<circle cx="297.40" cy="86.80" r="1.6" fill="#F8766D"/>
<circle cx="303.40" cy="95.10" r="1.6" fill="#F8766D"/>
<circle cx="302.60" cy="100.30" r="1.6" fill="#F8766D"/>
<circle cx="309.30" cy="104.00" r="1.6" fill="#F8766D"/>
<circle cx="313.10" cy="103.20" r="1.6" fill="#F8766D"/>
<circle cx="316.10" cy="89.20" r="1.6" fill="#F8766D"/>
<ellipse cx="350.00" cy="93.50" rx="15.00" ry="49.00" transform="rotate(-16 350.00 93.50)" fill="none" stroke="#00B0F6" stroke-width="0.8" stroke-opacity="0.85"/>
<ellipse cx="358.00" cy="94.60" rx="18.30" ry="42.50" transform="rotate(-10 358.00 94.60)" fill="none" stroke="#E76BF3" stroke-width="0.8" stroke-opacity="0.85"/>
<ellipse cx="354.00" cy="100.00" rx="18.50" ry="29.00" transform="rotate(-5 354.00 100.00)" fill="none" stroke="#00BF7D" stroke-width="0.8" stroke-opacity="0.85"/>
<ellipse cx="352.60" cy="107.40" rx="10.00" ry="28.00" transform="rotate(10 352.60 107.40)" fill="none" stroke="#A3A500" stroke-width="0.8" stroke-opacity="0.85"/>
<rect x="354.50" y="76.50" width="3" height="3" fill="#00BF7D"/>
<rect x="359.50" y="88.50" width="3" height="3" fill="#00BF7D"/>
<rect x="350.50" y="93.50" width="3" height="3" fill="#00BF7D"/>
<rect x="363.50" y="104.50" width="3" height="3" fill="#00BF7D"/>
<rect x="361.50" y="109.50" width="3" height="3" fill="#00BF7D"/>
<rect x="339.50" y="114.50" width="3" height="3" fill="#00BF7D"/>
<path d="M357.00 81.10L358.90 84.40L355.10 84.40Z" fill="#A3A500"/>
<path d="M358.00 84.10L359.90 87.40L356.10 87.40Z" fill="#A3A500"/>
<path d="M355.00 87.10L356.90 90.40L353.10 90.40Z" fill="#A3A500"/>
<path d="M356.00 89.10L357.90 92.40L354.10 92.40Z" fill="#A3A500"/>
<path d="M357.00 110.10L358.90 113.40L355.10 113.40Z" fill="#A3A500"/>
<path d="M348.00 118.10L349.90 121.40L346.10 121.40Z" fill="#A3A500"/>
<path d="M335.00 51.00H339.00M337.00 49.00V53.00" stroke="#00B0F6" stroke-width="0.7"/>
<path d="M347.00 123.00H351.00M349.00 121.00V125.00" stroke="#00B0F6" stroke-width="0.7"/>
<rect x="349.40" y="58.40" width="3.2" height="3.2" fill="none" stroke="#E76BF3" stroke-width="0.6"/><path d="M349.40 58.40L352.60 61.60M352.60 58.40L349.40 61.60" stroke="#E76BF3" stroke-width="0.5"/>
<rect x="352.40" y="73.40" width="3.2" height="3.2" fill="none" stroke="#E76BF3" stroke-width="0.6"/><path d="M352.40 73.40L355.60 76.60M355.60 73.40L352.40 76.60" stroke="#E76BF3" stroke-width="0.5"/>
<rect x="355.40" y="83.40" width="3.2" height="3.2" fill="none" stroke="#E76BF3" stroke-width="0.6"/><path d="M355.40 83.40L358.60 86.60M358.60 83.40L355.40 86.60" stroke="#E76BF3" stroke-width="0.5"/>
<rect x="360.40" y="109.40" width="3.2" height="3.2" fill="none" stroke="#E76BF3" stroke-width="0.6"/><path d="M360.40 109.40L363.60 112.60M363.60 109.40L360.40 112.60" stroke="#E76BF3" stroke-width="0.5"/>
<rect x="364.40" y="107.40" width="3.2" height="3.2" fill="none" stroke="#E76BF3" stroke-width="0.6"/><path d="M364.40 107.40L367.60 110.60M367.60 107.40L364.40 110.60" stroke="#E76BF3" stroke-width="0.5"/>
<rect x="339.40" y="116.40" width="3.2" height="3.2" fill="none" stroke="#E76BF3" stroke-width="0.6"/><path d="M339.40 116.40L342.60 119.60M342.60 116.40L339.40 119.60" stroke="#E76BF3" stroke-width="0.5"/>
<rect x="398.10" y="29.70" width="147.20" height="135.70" fill="#ffffff" stroke="#cfcfcf" stroke-width="1"/>
<line x1="426.50" y1="52.30" x2="533.00" y2="52.30" stroke="#f2f2f2" stroke-width="0.6"/>
<line x1="426.50" y1="80.00" x2="533.00" y2="80.00" stroke="#f2f2f2" stroke-width="0.6"/>
<line x1="426.50" y1="107.70" x2="533.00" y2="107.70" stroke="#f2f2f2" stroke-width="0.6"/>
<line x1="426.50" y1="135.40" x2="533.00" y2="135.40" stroke="#f2f2f2" stroke-width="0.6"/>
<line x1="445.75" y1="37.80" x2="445.75" y2="150.00" stroke="#f2f2f2" stroke-width="0.6"/>
<line x1="476.60" y1="37.80" x2="476.60" y2="150.00" stroke="#f2f2f2" stroke-width="0.6"/>
<line x1="507.60" y1="37.80" x2="507.60" y2="150.00" stroke="#f2f2f2" stroke-width="0.6"/>
<line x1="426.50" y1="38.40" x2="533.00" y2="38.40" stroke="#e6e6e6" stroke-width="0.7"/>
<line x1="426.50" y1="66.20" x2="533.00" y2="66.20" stroke="#e6e6e6" stroke-width="0.7"/>
<line x1="426.50" y1="93.80" x2="533.00" y2="93.80" stroke="#e6e6e6" stroke-width="0.7"/>
<line x1="426.50" y1="121.60" x2="533.00" y2="121.60" stroke="#e6e6e6" stroke-width="0.7"/>
<line x1="426.50" y1="149.20" x2="533.00" y2="149.20" stroke="#e6e6e6" stroke-width="0.7"/>
<line x1="430.50" y1="37.80" x2="430.50" y2="150.00" stroke="#e6e6e6" stroke-width="0.7"/>
<line x1="461.00" y1="37.80" x2="461.00" y2="150.00" stroke="#e6e6e6" stroke-width="0.7"/>
<line x1="492.20" y1="37.80" x2="492.20" y2="150.00" stroke="#e6e6e6" stroke-width="0.7"/>
<line x1="523.00" y1="37.80" x2="523.00" y2="150.00" stroke="#e6e6e6" stroke-width="0.7"/>
<line x1="426.50" y1="93.80" x2="533.00" y2="93.80" stroke="#333" stroke-width="0.9" stroke-dasharray="2,1.6"/>
<line x1="492.20" y1="35.80" x2="492.20" y2="152.00" stroke="#333" stroke-width="0.9" stroke-dasharray="2,1.6"/>
<text x="424.60" y="39.70" font-size="3.9" fill="#666" text-anchor="end">5.0</text>
<line x1="424.90" y1="38.40" x2="426.50" y2="38.40" stroke="#888" stroke-width="0.5"/>
<text x="424.60" y="67.50" font-size="3.9" fill="#666" text-anchor="end">2.5</text>
<line x1="424.90" y1="66.20" x2="426.50" y2="66.20" stroke="#888" stroke-width="0.5"/>
<text x="424.60" y="95.10" font-size="3.9" fill="#666" text-anchor="end">0.0</text>
<line x1="424.90" y1="93.80" x2="426.50" y2="93.80" stroke="#888" stroke-width="0.5"/>
<text x="424.60" y="122.90" font-size="3.9" fill="#666" text-anchor="end">-2.5</text>
<line x1="424.90" y1="121.60" x2="426.50" y2="121.60" stroke="#888" stroke-width="0.5"/>
<text x="424.60" y="150.50" font-size="3.9" fill="#666" text-anchor="end">-5.0</text>
<line x1="424.90" y1="149.20" x2="426.50" y2="149.20" stroke="#888" stroke-width="0.5"/>
<text x="430.50" y="155.60" font-size="3.9" fill="#666" text-anchor="middle">-10</text>
<line x1="430.50" y1="150.00" x2="430.50" y2="151.60" stroke="#888" stroke-width="0.5"/>
<text x="461.00" y="155.60" font-size="3.9" fill="#666" text-anchor="middle">-5</text>
<line x1="461.00" y1="150.00" x2="461.00" y2="151.60" stroke="#888" stroke-width="0.5"/>
<text x="492.20" y="155.60" font-size="3.9" fill="#666" text-anchor="middle">0</text>
<line x1="492.20" y1="150.00" x2="492.20" y2="151.60" stroke="#888" stroke-width="0.5"/>
<text x="523.00" y="155.60" font-size="3.9" fill="#666" text-anchor="middle">5</text>
<line x1="523.00" y1="150.00" x2="523.00" y2="151.60" stroke="#888" stroke-width="0.5"/>
<text x="479.75" y="163.20" font-size="4.4" fill="#444" text-anchor="middle">Dim1 (55.6%)</text>
<text x="417.00" y="93.90" font-size="4.4" fill="#444" text-anchor="middle" transform="rotate(-90 417.0 93.9)">Dim2 (12.3%)</text>
<ellipse cx="459.00" cy="96.60" rx="10.00" ry="18.30" transform="rotate(10 459.00 96.60)" fill="none" stroke="#F8766D" stroke-width="0.8" stroke-opacity="0.85"/>
<circle cx="460.30" cy="83.80" r="1.6" fill="#F8766D"/>
<circle cx="453.80" cy="103.20" r="1.6" fill="#F8766D"/>
<circle cx="461.00" cy="102.70" r="1.6" fill="#F8766D"/>
<ellipse cx="503.50" cy="84.00" rx="12.00" ry="24.00" transform="rotate(-5 503.50 84.00)" fill="none" stroke="#A3A500" stroke-width="0.8" stroke-opacity="0.85"/>
<ellipse cx="505.50" cy="92.30" rx="16.00" ry="31.00" transform="rotate(-15 505.50 92.30)" fill="none" stroke="#E76BF3" stroke-width="0.8" stroke-opacity="0.85"/>
<ellipse cx="506.00" cy="96.60" rx="15.50" ry="28.00" transform="rotate(-15 506.00 96.60)" fill="none" stroke="#00BF7D" stroke-width="0.8" stroke-opacity="0.85"/>
<ellipse cx="504.00" cy="102.00" rx="9.00" ry="28.00" transform="rotate(25 504.00 102.00)" fill="none" stroke="#00B0F6" stroke-width="0.8" stroke-opacity="0.85"/>
<path d="M503.00 68.10L504.90 71.40L501.10 71.40Z" fill="#A3A500"/>
<path d="M498.00 87.10L499.90 90.40L496.10 90.40Z" fill="#A3A500"/>
<path d="M508.00 93.10L509.90 96.40L506.10 96.40Z" fill="#A3A500"/>
<rect x="505.50" y="78.50" width="3" height="3" fill="#00BF7D"/>
<rect x="494.50" y="91.50" width="3" height="3" fill="#00BF7D"/>
<rect x="513.50" y="116.50" width="3" height="3" fill="#00BF7D"/>
<rect x="505.40" y="75.40" width="3.2" height="3.2" fill="none" stroke="#E76BF3" stroke-width="0.6"/><path d="M505.40 75.40L508.60 78.60M508.60 75.40L505.40 78.60" stroke="#E76BF3" stroke-width="0.5"/>
<rect x="491.40" y="80.40" width="3.2" height="3.2" fill="none" stroke="#E76BF3" stroke-width="0.6"/><path d="M491.40 80.40L494.60 83.60M494.60 80.40L491.40 83.60" stroke="#E76BF3" stroke-width="0.5"/>
<rect x="510.40" y="115.40" width="3.2" height="3.2" fill="none" stroke="#E76BF3" stroke-width="0.6"/><path d="M510.40 115.40L513.60 118.60M513.60 115.40L510.40 118.60" stroke="#E76BF3" stroke-width="0.5"/>
<path d="M510.00 84.00H514.00M512.00 82.00V86.00" stroke="#00B0F6" stroke-width="0.7"/>
<path d="M502.00 111.00H506.00M504.00 109.00V113.00" stroke="#00B0F6" stroke-width="0.7"/>
<rect x="548.40" y="29.60" width="133.00" height="135.50" fill="#ffffff" stroke="#cfcfcf" stroke-width="1"/>
<line x1="562.00" y1="51.65" x2="673.40" y2="51.65" stroke="#f2f2f2" stroke-width="0.6"/>
<line x1="562.00" y1="79.60" x2="673.40" y2="79.60" stroke="#f2f2f2" stroke-width="0.6"/>
<line x1="562.00" y1="107.60" x2="673.40" y2="107.60" stroke="#f2f2f2" stroke-width="0.6"/>
<line x1="562.00" y1="135.65" x2="673.40" y2="135.65" stroke="#f2f2f2" stroke-width="0.6"/>
<line x1="583.35" y1="37.70" x2="583.35" y2="150.30" stroke="#f2f2f2" stroke-width="0.6"/>
<line x1="614.80" y1="37.70" x2="614.80" y2="150.30" stroke="#f2f2f2" stroke-width="0.6"/>
<line x1="645.95" y1="37.70" x2="645.95" y2="150.30" stroke="#f2f2f2" stroke-width="0.6"/>
<line x1="562.00" y1="37.70" x2="673.40" y2="37.70" stroke="#e6e6e6" stroke-width="0.7"/>
<line x1="562.00" y1="65.60" x2="673.40" y2="65.60" stroke="#e6e6e6" stroke-width="0.7"/>
<line x1="562.00" y1="93.60" x2="673.40" y2="93.60" stroke="#e6e6e6" stroke-width="0.7"/>
<line x1="562.00" y1="121.60" x2="673.40" y2="121.60" stroke="#e6e6e6" stroke-width="0.7"/>
<line x1="562.00" y1="149.70" x2="673.40" y2="149.70" stroke="#e6e6e6" stroke-width="0.7"/>
<line x1="567.70" y1="37.70" x2="567.70" y2="150.30" stroke="#e6e6e6" stroke-width="0.7"/>
<line x1="599.00" y1="37.70" x2="599.00" y2="150.30" stroke="#e6e6e6" stroke-width="0.7"/>
<line x1="630.60" y1="37.70" x2="630.60" y2="150.30" stroke="#e6e6e6" stroke-width="0.7"/>
<line x1="661.30" y1="37.70" x2="661.30" y2="150.30" stroke="#e6e6e6" stroke-width="0.7"/>
<line x1="562.00" y1="93.60" x2="673.40" y2="93.60" stroke="#333" stroke-width="0.9" stroke-dasharray="2,1.6"/>
<line x1="630.60" y1="35.70" x2="630.60" y2="152.30" stroke="#333" stroke-width="0.9" stroke-dasharray="2,1.6"/>
<text x="560.10" y="39.00" font-size="3.9" fill="#666" text-anchor="end">5.0</text>
<line x1="560.40" y1="37.70" x2="562.00" y2="37.70" stroke="#888" stroke-width="0.5"/>
<text x="560.10" y="66.90" font-size="3.9" fill="#666" text-anchor="end">2.5</text>
<line x1="560.40" y1="65.60" x2="562.00" y2="65.60" stroke="#888" stroke-width="0.5"/>
<text x="560.10" y="94.90" font-size="3.9" fill="#666" text-anchor="end">0.0</text>
<line x1="560.40" y1="93.60" x2="562.00" y2="93.60" stroke="#888" stroke-width="0.5"/>
<text x="560.10" y="122.90" font-size="3.9" fill="#666" text-anchor="end">-2.5</text>
<line x1="560.40" y1="121.60" x2="562.00" y2="121.60" stroke="#888" stroke-width="0.5"/>
<text x="560.10" y="151.00" font-size="3.9" fill="#666" text-anchor="end">-5.0</text>
<line x1="560.40" y1="149.70" x2="562.00" y2="149.70" stroke="#888" stroke-width="0.5"/>
<text x="567.70" y="155.90" font-size="3.9" fill="#666" text-anchor="middle">-5</text>
<line x1="567.70" y1="150.30" x2="567.70" y2="151.90" stroke="#888" stroke-width="0.5"/>
<text x="599.00" y="155.90" font-size="3.9" fill="#666" text-anchor="middle">-3</text>
<line x1="599.00" y1="150.30" x2="599.00" y2="151.90" stroke="#888" stroke-width="0.5"/>
<text x="630.60" y="155.90" font-size="3.9" fill="#666" text-anchor="middle">0</text>
<line x1="630.60" y1="150.30" x2="630.60" y2="151.90" stroke="#888" stroke-width="0.5"/>
<text x="661.30" y="155.90" font-size="3.9" fill="#666" text-anchor="middle">3</text>
<line x1="661.30" y1="150.30" x2="661.30" y2="151.90" stroke="#888" stroke-width="0.5"/>
<text x="617.70" y="162.90" font-size="4.4" fill="#444" text-anchor="middle">Dim1 (55.6%)</text>
<text x="552.50" y="94.00" font-size="4.4" fill="#444" text-anchor="middle" transform="rotate(-90 552.5 94.0)">Dim2 (12.3%)</text>
<ellipse cx="591.90" cy="95.30" rx="21.70" ry="21.90" transform="rotate(-20 591.90 95.30)" fill="none" stroke="#F8766D" stroke-width="0.8" stroke-opacity="0.85"/>
<circle cx="579.20" cy="83.20" r="1.6" fill="#F8766D"/>
<circle cx="606.70" cy="92.70" r="1.6" fill="#F8766D"/>
<circle cx="588.70" cy="111.10" r="1.6" fill="#F8766D"/>
<ellipse cx="637.60" cy="84.70" rx="12.00" ry="35.00" transform="rotate(-22 637.60 84.70)" fill="none" stroke="#00B0F6" stroke-width="0.8" stroke-opacity="0.85"/>
<ellipse cx="639.00" cy="83.80" rx="12.00" ry="34.00" transform="rotate(-18 639.00 83.80)" fill="none" stroke="#00BF7D" stroke-width="0.8" stroke-opacity="0.85"/>
<ellipse cx="639.70" cy="87.90" rx="8.50" ry="28.00" transform="rotate(-15 639.70 87.90)" fill="none" stroke="#E76BF3" stroke-width="0.8" stroke-opacity="0.85"/>
<ellipse cx="642.70" cy="92.00" rx="8.50" ry="18.00" transform="rotate(0 642.70 92.00)" fill="none" stroke="#A3A500" stroke-width="0.8" stroke-opacity="0.85"/>
<rect x="631.50" y="58.50" width="3" height="3" fill="#00BF7D"/>
<rect x="639.50" y="84.50" width="3" height="3" fill="#00BF7D"/>
<rect x="636.00" y="105.50" width="3" height="3" fill="#00BF7D"/>
<path d="M644.00 81.10L645.90 84.40L642.10 84.40Z" fill="#A3A500"/>
<path d="M643.00 85.10L644.90 88.40L641.10 88.40Z" fill="#A3A500"/>
<path d="M643.00 99.10L644.90 102.40L641.10 102.40Z" fill="#A3A500"/>
<rect x="636.40" y="70.40" width="3.2" height="3.2" fill="none" stroke="#E76BF3" stroke-width="0.6"/><path d="M636.40 70.40L639.60 73.60M639.60 70.40L636.40 73.60" stroke="#E76BF3" stroke-width="0.5"/>
<rect x="634.40" y="81.40" width="3.2" height="3.2" fill="none" stroke="#E76BF3" stroke-width="0.6"/><path d="M634.40 81.40L637.60 84.60M637.60 81.40L634.40 84.60" stroke="#E76BF3" stroke-width="0.5"/>
<rect x="641.40" y="106.40" width="3.2" height="3.2" fill="none" stroke="#E76BF3" stroke-width="0.6"/><path d="M641.40 106.40L644.60 109.60M644.60 106.40L641.40 109.60" stroke="#E76BF3" stroke-width="0.5"/>
<path d="M625.00 66.00H629.00M627.00 64.00V68.00" stroke="#00B0F6" stroke-width="0.7"/>
<path d="M639.00 78.00H643.00M641.00 76.00V80.00" stroke="#00B0F6" stroke-width="0.7"/>
<path d="M643.00 111.00H647.00M645.00 109.00V113.00" stroke="#00B0F6" stroke-width="0.7"/>
<rect x="259.60" y="173.50" width="136.20" height="132.50" fill="#ffffff" stroke="#cfcfcf" stroke-width="1"/>
<line x1="277.70" y1="194.05" x2="389.90" y2="194.05" stroke="#f2f2f2" stroke-width="0.6"/>
<line x1="277.70" y1="221.45" x2="389.90" y2="221.45" stroke="#f2f2f2" stroke-width="0.6"/>
<line x1="277.70" y1="248.90" x2="389.90" y2="248.90" stroke="#f2f2f2" stroke-width="0.6"/>
<line x1="277.70" y1="276.60" x2="389.90" y2="276.60" stroke="#f2f2f2" stroke-width="0.6"/>
<line x1="296.90" y1="178.00" x2="296.90" y2="294.00" stroke="#f2f2f2" stroke-width="0.6"/>
<line x1="327.55" y1="178.00" x2="327.55" y2="294.00" stroke="#f2f2f2" stroke-width="0.6"/>
<line x1="358.35" y1="178.00" x2="358.35" y2="294.00" stroke="#f2f2f2" stroke-width="0.6"/>
<line x1="277.70" y1="180.30" x2="389.90" y2="180.30" stroke="#e6e6e6" stroke-width="0.7"/>
<line x1="277.70" y1="207.80" x2="389.90" y2="207.80" stroke="#e6e6e6" stroke-width="0.7"/>
<line x1="277.70" y1="235.10" x2="389.90" y2="235.10" stroke="#e6e6e6" stroke-width="0.7"/>
<line x1="277.70" y1="262.70" x2="389.90" y2="262.70" stroke="#e6e6e6" stroke-width="0.7"/>
<line x1="277.70" y1="290.50" x2="389.90" y2="290.50" stroke="#e6e6e6" stroke-width="0.7"/>
<line x1="281.80" y1="178.00" x2="281.80" y2="294.00" stroke="#e6e6e6" stroke-width="0.7"/>
<line x1="312.00" y1="178.00" x2="312.00" y2="294.00" stroke="#e6e6e6" stroke-width="0.7"/>
<line x1="343.10" y1="178.00" x2="343.10" y2="294.00" stroke="#e6e6e6" stroke-width="0.7"/>
<line x1="373.60" y1="178.00" x2="373.60" y2="294.00" stroke="#e6e6e6" stroke-width="0.7"/>
<line x1="277.70" y1="235.10" x2="389.90" y2="235.10" stroke="#333" stroke-width="0.9" stroke-dasharray="2,1.6"/>
<line x1="343.10" y1="176.00" x2="343.10" y2="296.00" stroke="#333" stroke-width="0.9" stroke-dasharray="2,1.6"/>
<text x="275.80" y="181.60" font-size="3.9" fill="#666" text-anchor="end">5.0</text>
<line x1="276.10" y1="180.30" x2="277.70" y2="180.30" stroke="#888" stroke-width="0.5"/>
<text x="275.80" y="209.10" font-size="3.9" fill="#666" text-anchor="end">2.5</text>
<line x1="276.10" y1="207.80" x2="277.70" y2="207.80" stroke="#888" stroke-width="0.5"/>
<text x="275.80" y="236.40" font-size="3.9" fill="#666" text-anchor="end">0.0</text>
<line x1="276.10" y1="235.10" x2="277.70" y2="235.10" stroke="#888" stroke-width="0.5"/>
<text x="275.80" y="264.00" font-size="3.9" fill="#666" text-anchor="end">-2.5</text>
<line x1="276.10" y1="262.70" x2="277.70" y2="262.70" stroke="#888" stroke-width="0.5"/>
<text x="275.80" y="291.80" font-size="3.9" fill="#666" text-anchor="end">-5.0</text>
<line x1="276.10" y1="290.50" x2="277.70" y2="290.50" stroke="#888" stroke-width="0.5"/>
<text x="281.80" y="299.60" font-size="3.9" fill="#666" text-anchor="middle">-10</text>
<line x1="281.80" y1="294.00" x2="281.80" y2="295.60" stroke="#888" stroke-width="0.5"/>
<text x="312.00" y="299.60" font-size="3.9" fill="#666" text-anchor="middle">-5</text>
<line x1="312.00" y1="294.00" x2="312.00" y2="295.60" stroke="#888" stroke-width="0.5"/>
<text x="343.10" y="299.60" font-size="3.9" fill="#666" text-anchor="middle">0</text>
<line x1="343.10" y1="294.00" x2="343.10" y2="295.60" stroke="#888" stroke-width="0.5"/>
<text x="373.60" y="299.60" font-size="3.9" fill="#666" text-anchor="middle">5</text>
<line x1="373.60" y1="294.00" x2="373.60" y2="295.60" stroke="#888" stroke-width="0.5"/>
<text x="333.80" y="303.80" font-size="4.4" fill="#444" text-anchor="middle">Dim1 (54.6%)</text>
<text x="268.20" y="236.00" font-size="4.4" fill="#444" text-anchor="middle" transform="rotate(-90 268.2 236.0)">Dim2 (16.5%)</text>
<ellipse cx="306.00" cy="243.80" rx="23.00" ry="31.00" transform="rotate(-5 306.00 243.80)" fill="none" stroke="#F8766D" stroke-width="0.8" stroke-opacity="0.85"/>
<circle cx="296.60" cy="222.70" r="1.6" fill="#F8766D"/>
<circle cx="301.50" cy="223.50" r="1.6" fill="#F8766D"/>
<circle cx="305.50" cy="221.90" r="1.6" fill="#F8766D"/>
<circle cx="323.60" cy="237.80" r="1.6" fill="#F8766D"/>
<circle cx="289.90" cy="254.00" r="1.6" fill="#F8766D"/>
<circle cx="306.90" cy="269.50" r="1.6" fill="#F8766D"/>
<ellipse cx="341.50" cy="249.00" rx="36.80" ry="12.50" transform="rotate(-31 341.50 249.00)" fill="none" stroke="#00B0F6" stroke-width="0.8" stroke-opacity="0.85"/>
<ellipse cx="346.00" cy="238.40" rx="30.00" ry="7.50" transform="rotate(58.8 346.00 238.40)" fill="none" stroke="#00BF7D" stroke-width="0.8" stroke-opacity="0.85"/>
<ellipse cx="350.50" cy="245.50" rx="23.50" ry="7.00" transform="rotate(60 350.50 245.50)" fill="none" stroke="#A3A500" stroke-width="0.8" stroke-opacity="0.85"/>
<ellipse cx="350.00" cy="249.00" rx="20.00" ry="8.00" transform="rotate(62 350.00 249.00)" fill="none" stroke="#E76BF3" stroke-width="0.8" stroke-opacity="0.85"/>
<rect x="333.80" y="216.10" width="3" height="3" fill="#00BF7D"/>
<rect x="342.50" y="230.50" width="3" height="3" fill="#00BF7D"/>
<rect x="351.50" y="244.50" width="3" height="3" fill="#00BF7D"/>
<rect x="355.50" y="249.50" width="3" height="3" fill="#00BF7D"/>
<rect x="350.50" y="245.50" width="3" height="3" fill="#00BF7D"/>
<path d="M345.00 232.10L346.90 235.40L343.10 235.40Z" fill="#A3A500"/>
<path d="M352.00 240.10L353.90 243.40L350.10 243.40Z" fill="#A3A500"/>
<path d="M356.00 252.10L357.90 255.40L354.10 255.40Z" fill="#A3A500"/>
<path d="M359.00 255.10L360.90 258.40L357.10 258.40Z" fill="#A3A500"/>
<path d="M314.90 259.50H318.90M316.90 257.50V261.50" stroke="#00B0F6" stroke-width="0.7"/>
<path d="M356.00 235.00H360.00M358.00 233.00V237.00" stroke="#00B0F6" stroke-width="0.7"/>
<path d="M350.00 248.00H354.00M352.00 246.00V250.00" stroke="#00B0F6" stroke-width="0.7"/>
<rect x="343.40" y="238.40" width="3.2" height="3.2" fill="none" stroke="#E76BF3" stroke-width="0.6"/><path d="M343.40 238.40L346.60 241.60M346.60 238.40L343.40 241.60" stroke="#E76BF3" stroke-width="0.5"/>
<rect x="348.40" y="243.40" width="3.2" height="3.2" fill="none" stroke="#E76BF3" stroke-width="0.6"/><path d="M348.40 243.40L351.60 246.60M351.60 243.40L348.40 246.60" stroke="#E76BF3" stroke-width="0.5"/>
<rect x="354.40" y="248.40" width="3.2" height="3.2" fill="none" stroke="#E76BF3" stroke-width="0.6"/><path d="M354.40 248.40L357.60 251.60M357.60 248.40L354.40 251.60" stroke="#E76BF3" stroke-width="0.5"/>
<rect x="340.40" y="242.40" width="3.2" height="3.2" fill="none" stroke="#E76BF3" stroke-width="0.6"/><path d="M340.40 242.40L343.60 245.60M343.60 242.40L340.40 245.60" stroke="#E76BF3" stroke-width="0.5"/>
<rect x="398.10" y="173.50" width="147.20" height="132.50" fill="#ffffff" stroke="#cfcfcf" stroke-width="1"/>
<line x1="426.50" y1="194.05" x2="533.00" y2="194.05" stroke="#f2f2f2" stroke-width="0.6"/>
<line x1="426.50" y1="221.45" x2="533.00" y2="221.45" stroke="#f2f2f2" stroke-width="0.6"/>
<line x1="426.50" y1="248.90" x2="533.00" y2="248.90" stroke="#f2f2f2" stroke-width="0.6"/>
<line x1="426.50" y1="276.60" x2="533.00" y2="276.60" stroke="#f2f2f2" stroke-width="0.6"/>
<line x1="442.75" y1="178.00" x2="442.75" y2="294.00" stroke="#f2f2f2" stroke-width="0.6"/>
<line x1="473.30" y1="178.00" x2="473.30" y2="294.00" stroke="#f2f2f2" stroke-width="0.6"/>
<line x1="503.80" y1="178.00" x2="503.80" y2="294.00" stroke="#f2f2f2" stroke-width="0.6"/>
<line x1="426.50" y1="180.30" x2="533.00" y2="180.30" stroke="#e6e6e6" stroke-width="0.7"/>
<line x1="426.50" y1="207.80" x2="533.00" y2="207.80" stroke="#e6e6e6" stroke-width="0.7"/>
<line x1="426.50" y1="235.10" x2="533.00" y2="235.10" stroke="#e6e6e6" stroke-width="0.7"/>
<line x1="426.50" y1="262.70" x2="533.00" y2="262.70" stroke="#e6e6e6" stroke-width="0.7"/>
<line x1="426.50" y1="290.50" x2="533.00" y2="290.50" stroke="#e6e6e6" stroke-width="0.7"/>
<line x1="427.50" y1="178.00" x2="427.50" y2="294.00" stroke="#e6e6e6" stroke-width="0.7"/>
<line x1="458.00" y1="178.00" x2="458.00" y2="294.00" stroke="#e6e6e6" stroke-width="0.7"/>
<line x1="488.60" y1="178.00" x2="488.60" y2="294.00" stroke="#e6e6e6" stroke-width="0.7"/>
<line x1="519.00" y1="178.00" x2="519.00" y2="294.00" stroke="#e6e6e6" stroke-width="0.7"/>
<line x1="426.50" y1="235.10" x2="533.00" y2="235.10" stroke="#333" stroke-width="0.9" stroke-dasharray="2,1.6"/>
<line x1="488.60" y1="176.00" x2="488.60" y2="296.00" stroke="#333" stroke-width="0.9" stroke-dasharray="2,1.6"/>
<text x="424.60" y="181.60" font-size="3.9" fill="#666" text-anchor="end">5.0</text>
<line x1="424.90" y1="180.30" x2="426.50" y2="180.30" stroke="#888" stroke-width="0.5"/>
<text x="424.60" y="209.10" font-size="3.9" fill="#666" text-anchor="end">2.5</text>
<line x1="424.90" y1="207.80" x2="426.50" y2="207.80" stroke="#888" stroke-width="0.5"/>
<text x="424.60" y="236.40" font-size="3.9" fill="#666" text-anchor="end">0.0</text>
<line x1="424.90" y1="235.10" x2="426.50" y2="235.10" stroke="#888" stroke-width="0.5"/>
<text x="424.60" y="264.00" font-size="3.9" fill="#666" text-anchor="end">-2.5</text>
<line x1="424.90" y1="262.70" x2="426.50" y2="262.70" stroke="#888" stroke-width="0.5"/>
<text x="424.60" y="291.80" font-size="3.9" fill="#666" text-anchor="end">-5.0</text>
<line x1="424.90" y1="290.50" x2="426.50" y2="290.50" stroke="#888" stroke-width="0.5"/>
<text x="427.50" y="299.60" font-size="3.9" fill="#666" text-anchor="middle">-10</text>
<line x1="427.50" y1="294.00" x2="427.50" y2="295.60" stroke="#888" stroke-width="0.5"/>
<text x="458.00" y="299.60" font-size="3.9" fill="#666" text-anchor="middle">-5</text>
<line x1="458.00" y1="294.00" x2="458.00" y2="295.60" stroke="#888" stroke-width="0.5"/>
<text x="488.60" y="299.60" font-size="3.9" fill="#666" text-anchor="middle">0</text>
<line x1="488.60" y1="294.00" x2="488.60" y2="295.60" stroke="#888" stroke-width="0.5"/>
<text x="519.00" y="299.60" font-size="3.9" fill="#666" text-anchor="middle">5</text>
<line x1="519.00" y1="294.00" x2="519.00" y2="295.60" stroke="#888" stroke-width="0.5"/>
<text x="479.75" y="303.80" font-size="4.4" fill="#444" text-anchor="middle">Dim1 (34.8%)</text>
<text x="417.00" y="236.00" font-size="4.4" fill="#444" text-anchor="middle" transform="rotate(-90 417.0 236.0)">Dim2 (16.5%)</text>
<ellipse cx="453.50" cy="217.40" rx="32.50" ry="9.00" transform="rotate(-54.4 453.50 217.40)" fill="none" stroke="#F8766D" stroke-width="0.8" stroke-opacity="0.85"/>
<circle cx="467.00" cy="196.00" r="1.6" fill="#F8766D"/>
<circle cx="446.80" cy="221.60" r="1.6" fill="#F8766D"/>
<circle cx="445.40" cy="233.80" r="1.6" fill="#F8766D"/>
<ellipse cx="497.30" cy="229.00" rx="50.70" ry="9.50" transform="rotate(-73.6 497.30 229.00)" fill="none" stroke="#00BF7D" stroke-width="0.8" stroke-opacity="0.85"/>
<ellipse cx="504.50" cy="231.60" rx="41.50" ry="8.00" transform="rotate(-65.6 504.50 231.60)" fill="none" stroke="#A3A500" stroke-width="0.8" stroke-opacity="0.85"/>
<ellipse cx="498.00" cy="236.00" rx="38.00" ry="8.00" transform="rotate(-72 498.00 236.00)" fill="none" stroke="#E76BF3" stroke-width="0.8" stroke-opacity="0.85"/>
<ellipse cx="496.00" cy="240.00" rx="36.00" ry="7.00" transform="rotate(-74 496.00 240.00)" fill="none" stroke="#00B0F6" stroke-width="0.8" stroke-opacity="0.85"/>
<rect x="504.20" y="185.50" width="3" height="3" fill="#00BF7D"/>
<rect x="491.20" y="239.00" width="3" height="3" fill="#00BF7D"/>
<rect x="492.00" y="257.70" width="3" height="3" fill="#00BF7D"/>
<path d="M516.50 196.50L518.40 199.80L514.60 199.80Z" fill="#A3A500"/>
<path d="M495.40 241.90L497.30 245.20L493.50 245.20Z" fill="#A3A500"/>
<path d="M496.20 247.30L498.10 250.60L494.30 250.60Z" fill="#A3A500"/>
<rect x="503.30" y="199.40" width="3.2" height="3.2" fill="none" stroke="#E76BF3" stroke-width="0.6"/><path d="M503.30 199.40L506.50 202.60M506.50 199.40L503.30 202.60" stroke="#E76BF3" stroke-width="0.5"/>
<rect x="497.00" y="230.80" width="3.2" height="3.2" fill="none" stroke="#E76BF3" stroke-width="0.6"/><path d="M497.00 230.80L500.20 234.00M500.20 230.80L497.00 234.00" stroke="#E76BF3" stroke-width="0.5"/>
<rect x="488.90" y="253.00" width="3.2" height="3.2" fill="none" stroke="#E76BF3" stroke-width="0.6"/><path d="M488.90 253.00L492.10 256.20M492.10 253.00L488.90 256.20" stroke="#E76BF3" stroke-width="0.5"/>
<path d="M501.00 204.60H505.00M503.00 202.60V206.60" stroke="#00B0F6" stroke-width="0.7"/>
<path d="M488.00 248.00H492.00M490.00 246.00V250.00" stroke="#00B0F6" stroke-width="0.7"/>
<rect x="548.40" y="173.80" width="133.00" height="132.20" fill="#ffffff" stroke="#cfcfcf" stroke-width="1"/>
<line x1="562.00" y1="194.05" x2="673.40" y2="194.05" stroke="#f2f2f2" stroke-width="0.6"/>
<line x1="562.00" y1="221.45" x2="673.40" y2="221.45" stroke="#f2f2f2" stroke-width="0.6"/>
<line x1="562.00" y1="248.90" x2="673.40" y2="248.90" stroke="#f2f2f2" stroke-width="0.6"/>
<line x1="562.00" y1="276.60" x2="673.40" y2="276.60" stroke="#f2f2f2" stroke-width="0.6"/>
<line x1="582.00" y1="178.00" x2="582.00" y2="294.00" stroke="#f2f2f2" stroke-width="0.6"/>
<line x1="613.00" y1="178.00" x2="613.00" y2="294.00" stroke="#f2f2f2" stroke-width="0.6"/>
<line x1="644.05" y1="178.00" x2="644.05" y2="294.00" stroke="#f2f2f2" stroke-width="0.6"/>
<line x1="562.00" y1="180.30" x2="673.40" y2="180.30" stroke="#e6e6e6" stroke-width="0.7"/>
<line x1="562.00" y1="207.80" x2="673.40" y2="207.80" stroke="#e6e6e6" stroke-width="0.7"/>
<line x1="562.00" y1="235.10" x2="673.40" y2="235.10" stroke="#e6e6e6" stroke-width="0.7"/>
<line x1="562.00" y1="262.70" x2="673.40" y2="262.70" stroke="#e6e6e6" stroke-width="0.7"/>
<line x1="562.00" y1="290.50" x2="673.40" y2="290.50" stroke="#e6e6e6" stroke-width="0.7"/>
<line x1="566.50" y1="178.00" x2="566.50" y2="294.00" stroke="#e6e6e6" stroke-width="0.7"/>
<line x1="597.50" y1="178.00" x2="597.50" y2="294.00" stroke="#e6e6e6" stroke-width="0.7"/>
<line x1="628.50" y1="178.00" x2="628.50" y2="294.00" stroke="#e6e6e6" stroke-width="0.7"/>
<line x1="659.60" y1="178.00" x2="659.60" y2="294.00" stroke="#e6e6e6" stroke-width="0.7"/>
<line x1="562.00" y1="235.10" x2="673.40" y2="235.10" stroke="#333" stroke-width="0.9" stroke-dasharray="2,1.6"/>
<line x1="628.50" y1="176.00" x2="628.50" y2="296.00" stroke="#333" stroke-width="0.9" stroke-dasharray="2,1.6"/>
<text x="560.10" y="181.60" font-size="3.9" fill="#666" text-anchor="end">5.0</text>
<line x1="560.40" y1="180.30" x2="562.00" y2="180.30" stroke="#888" stroke-width="0.5"/>
<text x="560.10" y="209.10" font-size="3.9" fill="#666" text-anchor="end">2.5</text>
<line x1="560.40" y1="207.80" x2="562.00" y2="207.80" stroke="#888" stroke-width="0.5"/>
<text x="560.10" y="236.40" font-size="3.9" fill="#666" text-anchor="end">0.0</text>
<line x1="560.40" y1="235.10" x2="562.00" y2="235.10" stroke="#888" stroke-width="0.5"/>
<text x="560.10" y="264.00" font-size="3.9" fill="#666" text-anchor="end">-2.5</text>
<line x1="560.40" y1="262.70" x2="562.00" y2="262.70" stroke="#888" stroke-width="0.5"/>
<text x="560.10" y="291.80" font-size="3.9" fill="#666" text-anchor="end">-5.0</text>
<line x1="560.40" y1="290.50" x2="562.00" y2="290.50" stroke="#888" stroke-width="0.5"/>
<text x="566.50" y="299.60" font-size="3.9" fill="#666" text-anchor="middle">-10</text>
<line x1="566.50" y1="294.00" x2="566.50" y2="295.60" stroke="#888" stroke-width="0.5"/>
<text x="597.50" y="299.60" font-size="3.9" fill="#666" text-anchor="middle">-5</text>
<line x1="597.50" y1="294.00" x2="597.50" y2="295.60" stroke="#888" stroke-width="0.5"/>
<text x="628.50" y="299.60" font-size="3.9" fill="#666" text-anchor="middle">0</text>
<line x1="628.50" y1="294.00" x2="628.50" y2="295.60" stroke="#888" stroke-width="0.5"/>
<text x="659.60" y="299.60" font-size="3.9" fill="#666" text-anchor="middle">5</text>
<line x1="659.60" y1="294.00" x2="659.60" y2="295.60" stroke="#888" stroke-width="0.5"/>
<text x="617.70" y="303.80" font-size="4.4" fill="#444" text-anchor="middle">Dim1 (34.8%)</text>
<text x="552.50" y="236.00" font-size="4.4" fill="#444" text-anchor="middle" transform="rotate(-90 552.5 236.0)">Dim2 (16.5%)</text>
<ellipse cx="604.30" cy="212.20" rx="34.80" ry="10.00" transform="rotate(-57 604.30 212.20)" fill="none" stroke="#F8766D" stroke-width="0.8" stroke-opacity="0.85"/>
<circle cx="616.80" cy="187.10" r="1.6" fill="#F8766D"/>
<circle cx="593.30" cy="224.60" r="1.6" fill="#F8766D"/>
<circle cx="602.70" cy="226.30" r="1.6" fill="#F8766D"/>
<ellipse cx="637.90" cy="226.70" rx="11.00" ry="44.00" transform="rotate(-8 637.90 226.70)" fill="none" stroke="#00BF7D" stroke-width="0.8" stroke-opacity="0.85"/>
<ellipse cx="640.80" cy="226.70" rx="15.00" ry="33.00" transform="rotate(-20 640.80 226.70)" fill="none" stroke="#00B0F6" stroke-width="0.8" stroke-opacity="0.85"/>
<ellipse cx="643.00" cy="227.70" rx="12.00" ry="35.00" transform="rotate(-10 643.00 227.70)" fill="none" stroke="#A3A500" stroke-width="0.8" stroke-opacity="0.85"/>
<ellipse cx="646.00" cy="231.00" rx="14.00" ry="33.00" transform="rotate(15 646.00 231.00)" fill="none" stroke="#E76BF3" stroke-width="0.8" stroke-opacity="0.85"/>
<rect x="631.00" y="188.00" width="3" height="3" fill="#00BF7D"/>
<rect x="639.00" y="235.50" width="3" height="3" fill="#00BF7D"/>
<rect x="639.00" y="252.00" width="3" height="3" fill="#00BF7D"/>
<path d="M648.50 195.70L650.40 199.00L646.60 199.00Z" fill="#A3A500"/>
<path d="M634.50 240.60L636.40 243.90L632.60 243.90Z" fill="#A3A500"/>
<path d="M646.00 242.60L647.90 245.90L644.10 245.90Z" fill="#A3A500"/>
<rect x="649.90" y="201.90" width="3.2" height="3.2" fill="none" stroke="#E76BF3" stroke-width="0.6"/><path d="M649.90 201.90L653.10 205.10M653.10 201.90L649.90 205.10" stroke="#E76BF3" stroke-width="0.5"/>
<rect x="634.90" y="243.40" width="3.2" height="3.2" fill="none" stroke="#E76BF3" stroke-width="0.6"/><path d="M634.90 243.40L638.10 246.60M638.10 243.40L634.90 246.60" stroke="#E76BF3" stroke-width="0.5"/>
<rect x="649.40" y="239.90" width="3.2" height="3.2" fill="none" stroke="#E76BF3" stroke-width="0.6"/><path d="M649.40 239.90L652.60 243.10M652.60 239.90L649.40 243.10" stroke="#E76BF3" stroke-width="0.5"/>
<path d="M633.50 199.50H637.50M635.50 197.50V201.50" stroke="#00B0F6" stroke-width="0.7"/>
<path d="M634.00 235.00H638.00M636.00 233.00V237.00" stroke="#00B0F6" stroke-width="0.7"/>
<path d="M649.00 235.00H653.00M651.00 233.00V237.00" stroke="#00B0F6" stroke-width="0.7"/>
<rect x="595.60" y="311.70" width="8.40" height="8.40" fill="#fff" stroke="#F8766D" stroke-width="0.8"/>
<circle cx="599.80" cy="315.90" r="1.6" fill="#F8766D"/>
<text x="606.30" y="319.40" font-size="9.3" fill="#1a1a1a" text-anchor="start">Baseline</text>
<rect x="595.60" y="320.80" width="8.40" height="8.40" fill="#fff" stroke="#A3A500" stroke-width="0.8"/>
<path d="M599.80 323.10L601.70 326.40L597.90 326.40Z" fill="#A3A500"/>
<text x="606.30" y="328.50" font-size="9.3" fill="#1a1a1a" text-anchor="start">LPS</text>
<rect x="595.60" y="329.90" width="8.40" height="8.40" fill="#fff" stroke="#00BF7D" stroke-width="0.8"/>
<rect x="598.30" y="332.60" width="3" height="3" fill="#00BF7D"/>
<text x="606.30" y="337.60" font-size="9.3" fill="#1a1a1a" text-anchor="start">Isotype control</text>
<rect x="595.60" y="339.00" width="8.40" height="8.40" fill="#fff" stroke="#00B0F6" stroke-width="0.8"/>
<path d="M597.80 343.20H601.80M599.80 341.20V345.20" stroke="#00B0F6" stroke-width="0.7"/>
<text x="606.30" y="346.70" font-size="9.3" fill="#1a1a1a" text-anchor="start">IC14</text>
<rect x="595.60" y="348.10" width="8.40" height="8.40" fill="#fff" stroke="#E76BF3" stroke-width="0.8"/>
<rect x="598.20" y="350.70" width="3.2" height="3.2" fill="none" stroke="#E76BF3" stroke-width="0.6"/><path d="M598.20 350.70L601.40 353.90M601.40 350.70L598.20 353.90" stroke="#E76BF3" stroke-width="0.5"/>
<text x="606.30" y="355.80" font-size="9.3" fill="#1a1a1a" text-anchor="start">Minocycline</text>
<text x="1.50" y="12.70" font-size="17.5" font-weight="bold" fill="#111" text-anchor="start">A</text>
<text x="43.50" y="47.20" font-size="13" font-weight="bold" fill="#8a8a8a" text-anchor="middle">MDMi</text>
<rect x="87.50" y="20.60" width="36.90" height="27.30" fill="#cbc7e9" stroke="none" stroke-width="1"/>
<rect x="126.70" y="12.10" width="51.90" height="35.80" fill="#d0e4cd" stroke="none" stroke-width="1"/>
<rect x="180.00" y="17.50" width="55.40" height="30.40" fill="#f3d0c6" stroke="none" stroke-width="1"/>
<text x="106.00" y="29.30" font-size="9.6" font-weight="bold" fill="#333" text-anchor="middle">Healthy</text>
<text x="106.00" y="37.50" font-size="9.6" font-weight="bold" fill="#333" text-anchor="middle">control</text>
<text x="106.00" y="45.70" font-size="9.6" font-weight="bold" fill="#333" text-anchor="middle">(HC)</text>
<text x="152.60" y="21.20" font-size="9.6" font-weight="bold" fill="#333" text-anchor="middle">Mild</text>
<text x="152.60" y="29.40" font-size="9.6" font-weight="bold" fill="#333" text-anchor="middle">cognitive</text>
<text x="152.60" y="37.60" font-size="9.6" font-weight="bold" fill="#333" text-anchor="middle">impairment</text>
<text x="152.60" y="45.80" font-size="9.6" font-weight="bold" fill="#333" text-anchor="middle">(MCI)</text>
<text x="207.70" y="29.30" font-size="9.6" font-weight="bold" fill="#333" text-anchor="middle">Alzheimer's</text>
<text x="207.70" y="37.50" font-size="9.6" font-weight="bold" fill="#333" text-anchor="middle">disease</text>
<text x="207.70" y="45.70" font-size="9.6" font-weight="bold" fill="#333" text-anchor="middle">(AD)</text>
<text x="103.00" y="55.80" font-size="9.2" fill="#222" text-anchor="middle"><tspan font-style="italic">n</tspan> = 6</text>
<text x="154.30" y="55.80" font-size="9.2" fill="#222" text-anchor="middle"><tspan font-style="italic">n</tspan> = 3</text>
<text x="201.50" y="55.80" font-size="9.2" fill="#222" text-anchor="middle"><tspan font-style="italic">n</tspan> = 3</text>
<defs><linearGradient id="fun" x1="0" x2="1" y1="0" y2="0"><stop offset="0" stop-color="#d6d6d6"/><stop offset="1" stop-color="#f8f8f8"/></linearGradient><linearGradient id="sev" x1="0" x2="1" y1="0" y2="0"><stop offset="0" stop-color="#b9dca0"/><stop offset="0.45" stop-color="#8fbf6a"/><stop offset="0.7" stop-color="#a06a2a"/><stop offset="1" stop-color="#c4161c"/></linearGradient></defs>
<path d="M66.4 84.2 L104 66 L104 102.5 L66.4 96.3Z" fill="url(#fun)"/>
<path d="M69.3 127.2 L104 110.5 L104 157.5 L69.3 144.5Z" fill="url(#fun)"/>
<g fill="none" stroke="#5583cc" stroke-linecap="round" stroke-linejoin="round"><path d="M103.30 79.20 L101.30 73.20 L99.80 66.70 L99.30 62.70M108.30 79.20 L110.80 73.20 L112.30 67.20 L113.60 62.70M111.80 84.20 L117.80 82.70 L122.30 81.40 L127.10 78.80M101.80 88.70 L96.80 91.70 L90.80 94.70 L84.70 97.60M107.80 90.20 L108.30 95.20 L106.80 100.20 L105.30 105.60M100.50 69.70 L95.80 68.00 L91.60 66.80M111.40 71.20 L114.80 71.60 L118.00 72.00M122.30 81.40 L124.80 83.70 L127.20 85.80M93.80 93.20 L90.80 91.40 L88.30 90.20M97.80 91.20 L97.60 97.20 L98.10 103.00M108.10 95.70 L111.80 99.20 L115.00 103.00" stroke-width="2.35"/><path d="M105.80 85.20 L103.30 79.20 L101.30 73.20M105.80 85.20 L108.30 79.20 L110.80 73.20M105.80 85.20 L111.80 84.20 L117.80 82.70M105.80 85.20 L101.80 88.70 L96.80 91.70M105.80 85.20 L107.80 90.20 L108.30 95.20" stroke-width="3.40"/><path d="M97.00 60.60 L99.30 62.70 L100.60 60.00M112.10 60.00 L113.60 62.70 L115.70 60.60M89.80 65.20 L91.60 66.80 L89.80 68.40M119.80 70.20 L118.00 72.00 L119.80 73.60M129.40 77.40 L127.10 78.80 L128.60 80.60" stroke-width="2.05"/></g>
<circle cx="127.10" cy="78.80" r="1.55" fill="#5583cc"/>
<circle cx="84.70" cy="97.60" r="1.55" fill="#5583cc"/>
<circle cx="105.30" cy="105.60" r="1.55" fill="#5583cc"/>
<circle cx="127.20" cy="85.80" r="1.55" fill="#5583cc"/>
<circle cx="88.30" cy="90.20" r="1.55" fill="#5583cc"/>
<circle cx="98.10" cy="103.00" r="1.55" fill="#5583cc"/>
<circle cx="115.00" cy="103.00" r="1.55" fill="#5583cc"/>
<ellipse cx="105.80" cy="85.20" rx="4.65" ry="4.35" fill="#5583cc"/>
<g fill="none" stroke="#8ab2e9" stroke-linecap="round" stroke-linejoin="round"><path d="M103.30 79.20 L101.30 73.20 L99.80 66.70 L99.30 62.70M108.30 79.20 L110.80 73.20 L112.30 67.20 L113.60 62.70M111.80 84.20 L117.80 82.70 L122.30 81.40 L127.10 78.80M101.80 88.70 L96.80 91.70 L90.80 94.70 L84.70 97.60M107.80 90.20 L108.30 95.20 L106.80 100.20 L105.30 105.60M100.50 69.70 L95.80 68.00 L91.60 66.80M111.40 71.20 L114.80 71.60 L118.00 72.00M122.30 81.40 L124.80 83.70 L127.20 85.80M93.80 93.20 L90.80 91.40 L88.30 90.20M97.80 91.20 L97.60 97.20 L98.10 103.00M108.10 95.70 L111.80 99.20 L115.00 103.00" stroke-width="1.45"/><path d="M105.80 85.20 L103.30 79.20 L101.30 73.20M105.80 85.20 L108.30 79.20 L110.80 73.20M105.80 85.20 L111.80 84.20 L117.80 82.70M105.80 85.20 L101.80 88.70 L96.80 91.70M105.80 85.20 L107.80 90.20 L108.30 95.20" stroke-width="2.50"/><path d="M97.00 60.60 L99.30 62.70 L100.60 60.00M112.10 60.00 L113.60 62.70 L115.70 60.60M89.80 65.20 L91.60 66.80 L89.80 68.40M119.80 70.20 L118.00 72.00 L119.80 73.60M129.40 77.40 L127.10 78.80 L128.60 80.60" stroke-width="1.15"/></g>
<circle cx="127.10" cy="78.80" r="1.10" fill="#8ab2e9"/>
<circle cx="84.70" cy="97.60" r="1.10" fill="#8ab2e9"/>
<circle cx="105.30" cy="105.60" r="1.10" fill="#8ab2e9"/>
<circle cx="127.20" cy="85.80" r="1.10" fill="#8ab2e9"/>
<circle cx="88.30" cy="90.20" r="1.10" fill="#8ab2e9"/>
<circle cx="98.10" cy="103.00" r="1.10" fill="#8ab2e9"/>
<circle cx="115.00" cy="103.00" r="1.10" fill="#8ab2e9"/>
<ellipse cx="105.80" cy="85.20" rx="4.20" ry="3.90" fill="#8ab2e9"/>
<circle cx="104.30" cy="85.70" r="1.2" fill="#fff"/>
<g fill="none" stroke="#4d8c30" stroke-linecap="round" stroke-linejoin="round"><path d="M152.50 79.20 L150.50 73.20 L149.00 66.70 L148.50 62.70M157.50 79.20 L160.00 73.20 L161.50 67.20 L162.80 62.70M161.00 84.20 L167.00 82.70 L171.50 81.40 L176.30 78.80M151.00 88.70 L146.00 91.70 L140.00 94.70 L133.90 97.60M157.00 90.20 L157.50 95.20 L156.00 100.20 L154.50 105.60M149.70 69.70 L145.00 68.00 L140.80 66.80M160.60 71.20 L164.00 71.60 L167.20 72.00M171.50 81.40 L174.00 83.70 L176.40 85.80M143.00 93.20 L140.00 91.40 L137.50 90.20M147.00 91.20 L146.80 97.20 L147.30 103.00M157.30 95.70 L161.00 99.20 L164.20 103.00" stroke-width="2.35"/><path d="M155.00 85.20 L152.50 79.20 L150.50 73.20M155.00 85.20 L157.50 79.20 L160.00 73.20M155.00 85.20 L161.00 84.20 L167.00 82.70M155.00 85.20 L151.00 88.70 L146.00 91.70M155.00 85.20 L157.00 90.20 L157.50 95.20" stroke-width="3.40"/><path d="M146.20 60.60 L148.50 62.70 L149.80 60.00M161.30 60.00 L162.80 62.70 L164.90 60.60M139.00 65.20 L140.80 66.80 L139.00 68.40M169.00 70.20 L167.20 72.00 L169.00 73.60M178.60 77.40 L176.30 78.80 L177.80 80.60" stroke-width="2.05"/></g>
<circle cx="176.30" cy="78.80" r="1.55" fill="#4d8c30"/>
<circle cx="133.90" cy="97.60" r="1.55" fill="#4d8c30"/>
<circle cx="154.50" cy="105.60" r="1.55" fill="#4d8c30"/>
<circle cx="176.40" cy="85.80" r="1.55" fill="#4d8c30"/>
<circle cx="137.50" cy="90.20" r="1.55" fill="#4d8c30"/>
<circle cx="147.30" cy="103.00" r="1.55" fill="#4d8c30"/>
<circle cx="164.20" cy="103.00" r="1.55" fill="#4d8c30"/>
<ellipse cx="155.00" cy="85.20" rx="4.65" ry="4.35" fill="#4d8c30"/>
<g fill="none" stroke="#8cc567" stroke-linecap="round" stroke-linejoin="round"><path d="M152.50 79.20 L150.50 73.20 L149.00 66.70 L148.50 62.70M157.50 79.20 L160.00 73.20 L161.50 67.20 L162.80 62.70M161.00 84.20 L167.00 82.70 L171.50 81.40 L176.30 78.80M151.00 88.70 L146.00 91.70 L140.00 94.70 L133.90 97.60M157.00 90.20 L157.50 95.20 L156.00 100.20 L154.50 105.60M149.70 69.70 L145.00 68.00 L140.80 66.80M160.60 71.20 L164.00 71.60 L167.20 72.00M171.50 81.40 L174.00 83.70 L176.40 85.80M143.00 93.20 L140.00 91.40 L137.50 90.20M147.00 91.20 L146.80 97.20 L147.30 103.00M157.30 95.70 L161.00 99.20 L164.20 103.00" stroke-width="1.45"/><path d="M155.00 85.20 L152.50 79.20 L150.50 73.20M155.00 85.20 L157.50 79.20 L160.00 73.20M155.00 85.20 L161.00 84.20 L167.00 82.70M155.00 85.20 L151.00 88.70 L146.00 91.70M155.00 85.20 L157.00 90.20 L157.50 95.20" stroke-width="2.50"/><path d="M146.20 60.60 L148.50 62.70 L149.80 60.00M161.30 60.00 L162.80 62.70 L164.90 60.60M139.00 65.20 L140.80 66.80 L139.00 68.40M169.00 70.20 L167.20 72.00 L169.00 73.60M178.60 77.40 L176.30 78.80 L177.80 80.60" stroke-width="1.15"/></g>
<circle cx="176.30" cy="78.80" r="1.10" fill="#8cc567"/>
<circle cx="133.90" cy="97.60" r="1.10" fill="#8cc567"/>
<circle cx="154.50" cy="105.60" r="1.10" fill="#8cc567"/>
<circle cx="176.40" cy="85.80" r="1.10" fill="#8cc567"/>
<circle cx="137.50" cy="90.20" r="1.10" fill="#8cc567"/>
<circle cx="147.30" cy="103.00" r="1.10" fill="#8cc567"/>
<circle cx="164.20" cy="103.00" r="1.10" fill="#8cc567"/>
<ellipse cx="155.00" cy="85.20" rx="4.20" ry="3.90" fill="#8cc567"/>
<circle cx="153.50" cy="85.70" r="1.2" fill="#fff"/>
<g fill="none" stroke="#b63c22" stroke-linecap="round" stroke-linejoin="round"><path d="M202.50 79.20 L200.50 73.20 L199.00 66.70 L198.50 62.70M207.50 79.20 L210.00 73.20 L211.50 67.20 L212.80 62.70M211.00 84.20 L217.00 82.70 L221.50 81.40 L226.30 78.80M201.00 88.70 L196.00 91.70 L190.00 94.70 L183.90 97.60M207.00 90.20 L207.50 95.20 L206.00 100.20 L204.50 105.60M199.70 69.70 L195.00 68.00 L190.80 66.80M210.60 71.20 L214.00 71.60 L217.20 72.00M221.50 81.40 L224.00 83.70 L226.40 85.80M193.00 93.20 L190.00 91.40 L187.50 90.20M197.00 91.20 L196.80 97.20 L197.30 103.00M207.30 95.70 L211.00 99.20 L214.20 103.00" stroke-width="2.35"/><path d="M205.00 85.20 L202.50 79.20 L200.50 73.20M205.00 85.20 L207.50 79.20 L210.00 73.20M205.00 85.20 L211.00 84.20 L217.00 82.70M205.00 85.20 L201.00 88.70 L196.00 91.70M205.00 85.20 L207.00 90.20 L207.50 95.20" stroke-width="3.40"/><path d="M196.20 60.60 L198.50 62.70 L199.80 60.00M211.30 60.00 L212.80 62.70 L214.90 60.60M189.00 65.20 L190.80 66.80 L189.00 68.40M219.00 70.20 L217.20 72.00 L219.00 73.60M228.60 77.40 L226.30 78.80 L227.80 80.60" stroke-width="2.05"/></g>
<circle cx="226.30" cy="78.80" r="1.55" fill="#b63c22"/>
<circle cx="183.90" cy="97.60" r="1.55" fill="#b63c22"/>
<circle cx="204.50" cy="105.60" r="1.55" fill="#b63c22"/>
<circle cx="226.40" cy="85.80" r="1.55" fill="#b63c22"/>
<circle cx="187.50" cy="90.20" r="1.55" fill="#b63c22"/>
<circle cx="197.30" cy="103.00" r="1.55" fill="#b63c22"/>
<circle cx="214.20" cy="103.00" r="1.55" fill="#b63c22"/>
<ellipse cx="205.00" cy="85.20" rx="4.65" ry="4.35" fill="#b63c22"/>
<g fill="none" stroke="#df6a4e" stroke-linecap="round" stroke-linejoin="round"><path d="M202.50 79.20 L200.50 73.20 L199.00 66.70 L198.50 62.70M207.50 79.20 L210.00 73.20 L211.50 67.20 L212.80 62.70M211.00 84.20 L217.00 82.70 L221.50 81.40 L226.30 78.80M201.00 88.70 L196.00 91.70 L190.00 94.70 L183.90 97.60M207.00 90.20 L207.50 95.20 L206.00 100.20 L204.50 105.60M199.70 69.70 L195.00 68.00 L190.80 66.80M210.60 71.20 L214.00 71.60 L217.20 72.00M221.50 81.40 L224.00 83.70 L226.40 85.80M193.00 93.20 L190.00 91.40 L187.50 90.20M197.00 91.20 L196.80 97.20 L197.30 103.00M207.30 95.70 L211.00 99.20 L214.20 103.00" stroke-width="1.45"/><path d="M205.00 85.20 L202.50 79.20 L200.50 73.20M205.00 85.20 L207.50 79.20 L210.00 73.20M205.00 85.20 L211.00 84.20 L217.00 82.70M205.00 85.20 L201.00 88.70 L196.00 91.70M205.00 85.20 L207.00 90.20 L207.50 95.20" stroke-width="2.50"/><path d="M196.20 60.60 L198.50 62.70 L199.80 60.00M211.30 60.00 L212.80 62.70 L214.90 60.60M189.00 65.20 L190.80 66.80 L189.00 68.40M219.00 70.20 L217.20 72.00 L219.00 73.60M228.60 77.40 L226.30 78.80 L227.80 80.60" stroke-width="1.15"/></g>
<circle cx="226.30" cy="78.80" r="1.10" fill="#df6a4e"/>
<circle cx="183.90" cy="97.60" r="1.10" fill="#df6a4e"/>
<circle cx="204.50" cy="105.60" r="1.10" fill="#df6a4e"/>
<circle cx="226.40" cy="85.80" r="1.10" fill="#df6a4e"/>
<circle cx="187.50" cy="90.20" r="1.10" fill="#df6a4e"/>
<circle cx="197.30" cy="103.00" r="1.10" fill="#df6a4e"/>
<circle cx="214.20" cy="103.00" r="1.10" fill="#df6a4e"/>
<ellipse cx="205.00" cy="85.20" rx="4.20" ry="3.90" fill="#df6a4e"/>
<circle cx="203.50" cy="85.70" r="1.2" fill="#fff"/>
<g fill="none" stroke="#3b57b4" stroke-linecap="round" stroke-linejoin="round"><path d="M101.53 129.38 L99.39 122.96 L97.78 116.01 L97.25 111.73M106.88 129.38 L109.55 122.96 L111.16 116.54 L112.55 111.73M110.62 134.73 L117.04 133.12 L121.86 131.73 L126.99 128.95M99.92 139.55 L94.57 142.76 L88.15 145.97 L81.62 149.07M106.34 141.15 L106.88 146.50 L105.27 151.85 L103.67 157.63M98.53 119.22 L93.50 117.40 L89.01 116.11M110.19 120.82 L113.83 121.25 L117.25 121.68M121.86 131.73 L124.53 134.20 L127.10 136.44M91.36 144.36 L88.15 142.43 L85.47 141.15M95.64 142.22 L95.43 148.64 L95.96 154.85M106.66 147.04 L110.62 150.78 L114.04 154.85" stroke-width="2.35"/><path d="M104.20 135.80 L101.53 129.38 L99.39 122.96M104.20 135.80 L106.88 129.38 L109.55 122.96M104.20 135.80 L110.62 134.73 L117.04 133.12M104.20 135.80 L99.92 139.55 L94.57 142.76M104.20 135.80 L106.34 141.15 L106.88 146.50" stroke-width="3.40"/><path d="M94.78 109.48 L97.25 111.73 L98.64 108.84M110.94 108.84 L112.55 111.73 L114.79 109.48M87.08 114.40 L89.01 116.11 L87.08 117.82M119.18 119.75 L117.25 121.68 L119.18 123.39M129.45 127.45 L126.99 128.95 L128.60 130.88" stroke-width="2.05"/></g>
<circle cx="126.99" cy="128.95" r="1.55" fill="#3b57b4"/>
<circle cx="81.62" cy="149.07" r="1.55" fill="#3b57b4"/>
<circle cx="103.67" cy="157.63" r="1.55" fill="#3b57b4"/>
<circle cx="127.10" cy="136.44" r="1.55" fill="#3b57b4"/>
<circle cx="85.47" cy="141.15" r="1.55" fill="#3b57b4"/>
<circle cx="95.96" cy="154.85" r="1.55" fill="#3b57b4"/>
<circle cx="114.04" cy="154.85" r="1.55" fill="#3b57b4"/>
<ellipse cx="104.20" cy="135.80" rx="4.65" ry="4.35" fill="#3b57b4"/>
<g fill="none" stroke="#7f9fe2" stroke-linecap="round" stroke-linejoin="round"><path d="M101.53 129.38 L99.39 122.96 L97.78 116.01 L97.25 111.73M106.88 129.38 L109.55 122.96 L111.16 116.54 L112.55 111.73M110.62 134.73 L117.04 133.12 L121.86 131.73 L126.99 128.95M99.92 139.55 L94.57 142.76 L88.15 145.97 L81.62 149.07M106.34 141.15 L106.88 146.50 L105.27 151.85 L103.67 157.63M98.53 119.22 L93.50 117.40 L89.01 116.11M110.19 120.82 L113.83 121.25 L117.25 121.68M121.86 131.73 L124.53 134.20 L127.10 136.44M91.36 144.36 L88.15 142.43 L85.47 141.15M95.64 142.22 L95.43 148.64 L95.96 154.85M106.66 147.04 L110.62 150.78 L114.04 154.85" stroke-width="1.45"/><path d="M104.20 135.80 L101.53 129.38 L99.39 122.96M104.20 135.80 L106.88 129.38 L109.55 122.96M104.20 135.80 L110.62 134.73 L117.04 133.12M104.20 135.80 L99.92 139.55 L94.57 142.76M104.20 135.80 L106.34 141.15 L106.88 146.50" stroke-width="2.50"/><path d="M94.78 109.48 L97.25 111.73 L98.64 108.84M110.94 108.84 L112.55 111.73 L114.79 109.48M87.08 114.40 L89.01 116.11 L87.08 117.82M119.18 119.75 L117.25 121.68 L119.18 123.39M129.45 127.45 L126.99 128.95 L128.60 130.88" stroke-width="1.15"/></g>
<circle cx="126.99" cy="128.95" r="1.10" fill="#7f9fe2"/>
<circle cx="81.62" cy="149.07" r="1.10" fill="#7f9fe2"/>
<circle cx="103.67" cy="157.63" r="1.10" fill="#7f9fe2"/>
<circle cx="127.10" cy="136.44" r="1.10" fill="#7f9fe2"/>
<circle cx="85.47" cy="141.15" r="1.10" fill="#7f9fe2"/>
<circle cx="95.96" cy="154.85" r="1.10" fill="#7f9fe2"/>
<circle cx="114.04" cy="154.85" r="1.10" fill="#7f9fe2"/>
<ellipse cx="104.20" cy="135.80" rx="4.20" ry="3.90" fill="#7f9fe2"/>
<path d="M104.20 135.80 L101.53 129.38 L99.39 122.96 L97.78 116.01M104.20 135.80 L99.92 139.55 L94.57 142.76 L88.15 145.97M104.20 135.80 L106.34 141.15 L106.88 146.50 L105.27 151.85M104.20 135.80 L110.62 134.73 L117.04 133.12" fill="none" stroke="#2f4590" stroke-width="0.8" stroke-linecap="round" opacity="0.8"/>
<circle cx="102.70" cy="136.30" r="1.2" fill="#fff"/>
<g fill="none" stroke="#45802d" stroke-linecap="round" stroke-linejoin="round"><path d="M151.12 129.38 L148.99 122.96 L147.38 116.01 L146.84 111.73M156.48 129.38 L159.15 122.96 L160.76 116.54 L162.15 111.73M160.22 134.73 L166.64 133.12 L171.46 131.73 L176.59 128.95M149.52 139.55 L144.17 142.76 L137.75 145.97 L131.22 149.07M155.94 141.15 L156.48 146.50 L154.87 151.85 L153.27 157.63M148.13 119.22 L143.10 117.40 L138.61 116.11M159.79 120.82 L163.43 121.25 L166.85 121.68M171.46 131.73 L174.13 134.20 L176.70 136.44M140.96 144.36 L137.75 142.43 L135.08 141.15M145.24 142.22 L145.03 148.64 L145.56 154.85M156.26 147.04 L160.22 150.78 L163.64 154.85" stroke-width="2.35"/><path d="M153.80 135.80 L151.12 129.38 L148.99 122.96M153.80 135.80 L156.48 129.38 L159.15 122.96M153.80 135.80 L160.22 134.73 L166.64 133.12M153.80 135.80 L149.52 139.55 L144.17 142.76M153.80 135.80 L155.94 141.15 L156.48 146.50" stroke-width="3.40"/><path d="M144.38 109.48 L146.84 111.73 L148.24 108.84M160.54 108.84 L162.15 111.73 L164.39 109.48M136.68 114.40 L138.61 116.11 L136.68 117.82M168.78 119.75 L166.85 121.68 L168.78 123.39M179.05 127.45 L176.59 128.95 L178.20 130.88" stroke-width="2.05"/></g>
<circle cx="176.59" cy="128.95" r="1.55" fill="#45802d"/>
<circle cx="131.22" cy="149.07" r="1.55" fill="#45802d"/>
<circle cx="153.27" cy="157.63" r="1.55" fill="#45802d"/>
<circle cx="176.70" cy="136.44" r="1.55" fill="#45802d"/>
<circle cx="135.08" cy="141.15" r="1.55" fill="#45802d"/>
<circle cx="145.56" cy="154.85" r="1.55" fill="#45802d"/>
<circle cx="163.64" cy="154.85" r="1.55" fill="#45802d"/>
<ellipse cx="153.80" cy="135.80" rx="4.65" ry="4.35" fill="#45802d"/>
<g fill="none" stroke="#93cf71" stroke-linecap="round" stroke-linejoin="round"><path d="M151.12 129.38 L148.99 122.96 L147.38 116.01 L146.84 111.73M156.48 129.38 L159.15 122.96 L160.76 116.54 L162.15 111.73M160.22 134.73 L166.64 133.12 L171.46 131.73 L176.59 128.95M149.52 139.55 L144.17 142.76 L137.75 145.97 L131.22 149.07M155.94 141.15 L156.48 146.50 L154.87 151.85 L153.27 157.63M148.13 119.22 L143.10 117.40 L138.61 116.11M159.79 120.82 L163.43 121.25 L166.85 121.68M171.46 131.73 L174.13 134.20 L176.70 136.44M140.96 144.36 L137.75 142.43 L135.08 141.15M145.24 142.22 L145.03 148.64 L145.56 154.85M156.26 147.04 L160.22 150.78 L163.64 154.85" stroke-width="1.45"/><path d="M153.80 135.80 L151.12 129.38 L148.99 122.96M153.80 135.80 L156.48 129.38 L159.15 122.96M153.80 135.80 L160.22 134.73 L166.64 133.12M153.80 135.80 L149.52 139.55 L144.17 142.76M153.80 135.80 L155.94 141.15 L156.48 146.50" stroke-width="2.50"/><path d="M144.38 109.48 L146.84 111.73 L148.24 108.84M160.54 108.84 L162.15 111.73 L164.39 109.48M136.68 114.40 L138.61 116.11 L136.68 117.82M168.78 119.75 L166.85 121.68 L168.78 123.39M179.05 127.45 L176.59 128.95 L178.20 130.88" stroke-width="1.15"/></g>
<circle cx="176.59" cy="128.95" r="1.10" fill="#93cf71"/>
<circle cx="131.22" cy="149.07" r="1.10" fill="#93cf71"/>
<circle cx="153.27" cy="157.63" r="1.10" fill="#93cf71"/>
<circle cx="176.70" cy="136.44" r="1.10" fill="#93cf71"/>
<circle cx="135.08" cy="141.15" r="1.10" fill="#93cf71"/>
<circle cx="145.56" cy="154.85" r="1.10" fill="#93cf71"/>
<circle cx="163.64" cy="154.85" r="1.10" fill="#93cf71"/>
<ellipse cx="153.80" cy="135.80" rx="4.20" ry="3.90" fill="#93cf71"/>
<path d="M153.80 135.80 L151.12 129.38 L148.99 122.96 L147.38 116.01M153.80 135.80 L149.52 139.55 L144.17 142.76 L137.75 145.97M153.80 135.80 L155.94 141.15 L156.48 146.50 L154.87 151.85M153.80 135.80 L160.22 134.73 L166.64 133.12" fill="none" stroke="#35622a" stroke-width="0.8" stroke-linecap="round" opacity="0.8"/>
<circle cx="152.30" cy="136.30" r="1.2" fill="#fff"/>
<g fill="none" stroke="#a8361e" stroke-linecap="round" stroke-linejoin="round"><path d="M201.12 129.38 L198.99 122.96 L197.38 116.01 L196.84 111.73M206.48 129.38 L209.15 122.96 L210.76 116.54 L212.15 111.73M210.22 134.73 L216.64 133.12 L221.46 131.73 L226.59 128.95M199.52 139.55 L194.17 142.76 L187.75 145.97 L181.22 149.07M205.94 141.15 L206.48 146.50 L204.87 151.85 L203.27 157.63M198.13 119.22 L193.10 117.40 L188.61 116.11M209.79 120.82 L213.43 121.25 L216.85 121.68M221.46 131.73 L224.13 134.20 L226.70 136.44M190.96 144.36 L187.75 142.43 L185.08 141.15M195.24 142.22 L195.03 148.64 L195.56 154.85M206.26 147.04 L210.22 150.78 L213.64 154.85" stroke-width="2.35"/><path d="M203.80 135.80 L201.12 129.38 L198.99 122.96M203.80 135.80 L206.48 129.38 L209.15 122.96M203.80 135.80 L210.22 134.73 L216.64 133.12M203.80 135.80 L199.52 139.55 L194.17 142.76M203.80 135.80 L205.94 141.15 L206.48 146.50" stroke-width="3.40"/><path d="M194.38 109.48 L196.84 111.73 L198.24 108.84M210.54 108.84 L212.15 111.73 L214.39 109.48M186.68 114.40 L188.61 116.11 L186.68 117.82M218.78 119.75 L216.85 121.68 L218.78 123.39M229.05 127.45 L226.59 128.95 L228.20 130.88" stroke-width="2.05"/></g>
<circle cx="226.59" cy="128.95" r="1.55" fill="#a8361e"/>
<circle cx="181.22" cy="149.07" r="1.55" fill="#a8361e"/>
<circle cx="203.27" cy="157.63" r="1.55" fill="#a8361e"/>
<circle cx="226.70" cy="136.44" r="1.55" fill="#a8361e"/>
<circle cx="185.08" cy="141.15" r="1.55" fill="#a8361e"/>
<circle cx="195.56" cy="154.85" r="1.55" fill="#a8361e"/>
<circle cx="213.64" cy="154.85" r="1.55" fill="#a8361e"/>
<ellipse cx="203.80" cy="135.80" rx="4.65" ry="4.35" fill="#a8361e"/>
<g fill="none" stroke="#dc6a4e" stroke-linecap="round" stroke-linejoin="round"><path d="M201.12 129.38 L198.99 122.96 L197.38 116.01 L196.84 111.73M206.48 129.38 L209.15 122.96 L210.76 116.54 L212.15 111.73M210.22 134.73 L216.64 133.12 L221.46 131.73 L226.59 128.95M199.52 139.55 L194.17 142.76 L187.75 145.97 L181.22 149.07M205.94 141.15 L206.48 146.50 L204.87 151.85 L203.27 157.63M198.13 119.22 L193.10 117.40 L188.61 116.11M209.79 120.82 L213.43 121.25 L216.85 121.68M221.46 131.73 L224.13 134.20 L226.70 136.44M190.96 144.36 L187.75 142.43 L185.08 141.15M195.24 142.22 L195.03 148.64 L195.56 154.85M206.26 147.04 L210.22 150.78 L213.64 154.85" stroke-width="1.45"/><path d="M203.80 135.80 L201.12 129.38 L198.99 122.96M203.80 135.80 L206.48 129.38 L209.15 122.96M203.80 135.80 L210.22 134.73 L216.64 133.12M203.80 135.80 L199.52 139.55 L194.17 142.76M203.80 135.80 L205.94 141.15 L206.48 146.50" stroke-width="2.50"/><path d="M194.38 109.48 L196.84 111.73 L198.24 108.84M210.54 108.84 L212.15 111.73 L214.39 109.48M186.68 114.40 L188.61 116.11 L186.68 117.82M218.78 119.75 L216.85 121.68 L218.78 123.39M229.05 127.45 L226.59 128.95 L228.20 130.88" stroke-width="1.15"/></g>
<circle cx="226.59" cy="128.95" r="1.10" fill="#dc6a4e"/>
<circle cx="181.22" cy="149.07" r="1.10" fill="#dc6a4e"/>
<circle cx="203.27" cy="157.63" r="1.10" fill="#dc6a4e"/>
<circle cx="226.70" cy="136.44" r="1.10" fill="#dc6a4e"/>
<circle cx="185.08" cy="141.15" r="1.10" fill="#dc6a4e"/>
<circle cx="195.56" cy="154.85" r="1.10" fill="#dc6a4e"/>
<circle cx="213.64" cy="154.85" r="1.10" fill="#dc6a4e"/>
<ellipse cx="203.80" cy="135.80" rx="4.20" ry="3.90" fill="#dc6a4e"/>
<path d="M203.80 135.80 L201.12 129.38 L198.99 122.96 L197.38 116.01M203.80 135.80 L199.52 139.55 L194.17 142.76 L187.75 145.97M203.80 135.80 L205.94 141.15 L206.48 146.50 L204.87 151.85M203.80 135.80 L210.22 134.73 L216.64 133.12" fill="none" stroke="#7a2a18" stroke-width="0.8" stroke-linecap="round" opacity="0.8"/>
<circle cx="202.30" cy="136.30" r="1.2" fill="#fff"/>
<g fill="none" stroke="#5583cc" stroke-linecap="round" stroke-linejoin="round"><path d="M94.98 294.68 L93.04 288.86 L91.58 282.56 L91.09 278.68M99.83 294.68 L102.25 288.86 L103.71 283.04 L104.97 278.68M103.22 299.53 L109.04 298.07 L113.41 296.81 L118.06 294.29M93.52 303.89 L88.67 306.81 L82.85 309.71 L76.93 312.53M99.34 305.35 L99.83 310.20 L98.37 315.05 L96.92 320.29M92.26 285.46 L87.70 283.82 L83.63 282.65M102.83 286.92 L106.13 287.31 L109.23 287.70M113.41 296.81 L115.83 299.05 L118.16 301.08M85.76 308.26 L82.85 306.51 L80.43 305.35M89.64 306.32 L89.45 312.14 L89.93 317.77M99.63 310.69 L103.22 314.08 L106.32 317.77" stroke-width="2.35"/><path d="M97.40 300.50 L94.98 294.68 L93.04 288.86M97.40 300.50 L99.83 294.68 L102.25 288.86M97.40 300.50 L103.22 299.53 L109.04 298.07M97.40 300.50 L93.52 303.89 L88.67 306.81M97.40 300.50 L99.34 305.35 L99.83 310.20" stroke-width="3.40"/><path d="M88.86 276.64 L91.09 278.68 L92.36 276.06M103.51 276.06 L104.97 278.68 L107.00 276.64M81.88 281.10 L83.63 282.65 L81.88 284.20M110.98 285.95 L109.23 287.70 L110.98 289.25M120.29 292.93 L118.06 294.29 L119.52 296.04" stroke-width="2.05"/></g>
<circle cx="118.06" cy="294.29" r="1.55" fill="#5583cc"/>
<circle cx="76.93" cy="312.53" r="1.55" fill="#5583cc"/>
<circle cx="96.92" cy="320.29" r="1.55" fill="#5583cc"/>
<circle cx="118.16" cy="301.08" r="1.55" fill="#5583cc"/>
<circle cx="80.43" cy="305.35" r="1.55" fill="#5583cc"/>
<circle cx="89.93" cy="317.77" r="1.55" fill="#5583cc"/>
<circle cx="106.32" cy="317.77" r="1.55" fill="#5583cc"/>
<ellipse cx="97.40" cy="300.50" rx="4.65" ry="4.35" fill="#5583cc"/>
<g fill="none" stroke="#8ab2e9" stroke-linecap="round" stroke-linejoin="round"><path d="M94.98 294.68 L93.04 288.86 L91.58 282.56 L91.09 278.68M99.83 294.68 L102.25 288.86 L103.71 283.04 L104.97 278.68M103.22 299.53 L109.04 298.07 L113.41 296.81 L118.06 294.29M93.52 303.89 L88.67 306.81 L82.85 309.71 L76.93 312.53M99.34 305.35 L99.83 310.20 L98.37 315.05 L96.92 320.29M92.26 285.46 L87.70 283.82 L83.63 282.65M102.83 286.92 L106.13 287.31 L109.23 287.70M113.41 296.81 L115.83 299.05 L118.16 301.08M85.76 308.26 L82.85 306.51 L80.43 305.35M89.64 306.32 L89.45 312.14 L89.93 317.77M99.63 310.69 L103.22 314.08 L106.32 317.77" stroke-width="1.45"/><path d="M97.40 300.50 L94.98 294.68 L93.04 288.86M97.40 300.50 L99.83 294.68 L102.25 288.86M97.40 300.50 L103.22 299.53 L109.04 298.07M97.40 300.50 L93.52 303.89 L88.67 306.81M97.40 300.50 L99.34 305.35 L99.83 310.20" stroke-width="2.50"/><path d="M88.86 276.64 L91.09 278.68 L92.36 276.06M103.51 276.06 L104.97 278.68 L107.00 276.64M81.88 281.10 L83.63 282.65 L81.88 284.20M110.98 285.95 L109.23 287.70 L110.98 289.25M120.29 292.93 L118.06 294.29 L119.52 296.04" stroke-width="1.15"/></g>
<circle cx="118.06" cy="294.29" r="1.10" fill="#8ab2e9"/>
<circle cx="76.93" cy="312.53" r="1.10" fill="#8ab2e9"/>
<circle cx="96.92" cy="320.29" r="1.10" fill="#8ab2e9"/>
<circle cx="118.16" cy="301.08" r="1.10" fill="#8ab2e9"/>
<circle cx="80.43" cy="305.35" r="1.10" fill="#8ab2e9"/>
<circle cx="89.93" cy="317.77" r="1.10" fill="#8ab2e9"/>
<circle cx="106.32" cy="317.77" r="1.10" fill="#8ab2e9"/>
<ellipse cx="97.40" cy="300.50" rx="4.20" ry="3.90" fill="#8ab2e9"/>
<circle cx="95.90" cy="301.00" r="1.2" fill="#fff"/>
<g fill="none" stroke="#4d8c30" stroke-linecap="round" stroke-linejoin="round"><path d="M141.57 294.68 L139.63 288.86 L138.18 282.56 L137.69 278.68M146.43 294.68 L148.85 288.86 L150.31 283.04 L151.57 278.68M149.82 299.53 L155.64 298.07 L160.00 296.81 L164.66 294.29M140.12 303.89 L135.27 306.81 L129.45 309.71 L123.53 312.53M145.94 305.35 L146.43 310.20 L144.97 315.05 L143.51 320.29M138.86 285.46 L134.30 283.82 L130.23 282.65M149.43 286.92 L152.73 287.31 L155.83 287.70M160.00 296.81 L162.43 299.05 L164.76 301.08M132.36 308.26 L129.45 306.51 L127.03 305.35M136.24 306.32 L136.05 312.14 L136.53 317.77M146.23 310.69 L149.82 314.08 L152.92 317.77" stroke-width="2.35"/><path d="M144.00 300.50 L141.57 294.68 L139.63 288.86M144.00 300.50 L146.43 294.68 L148.85 288.86M144.00 300.50 L149.82 299.53 L155.64 298.07M144.00 300.50 L140.12 303.89 L135.27 306.81M144.00 300.50 L145.94 305.35 L146.43 310.20" stroke-width="3.40"/><path d="M135.46 276.64 L137.69 278.68 L138.96 276.06M150.11 276.06 L151.57 278.68 L153.60 276.64M128.48 281.10 L130.23 282.65 L128.48 284.20M157.58 285.95 L155.83 287.70 L157.58 289.25M166.89 292.93 L164.66 294.29 L166.12 296.04" stroke-width="2.05"/></g>
<circle cx="164.66" cy="294.29" r="1.55" fill="#4d8c30"/>
<circle cx="123.53" cy="312.53" r="1.55" fill="#4d8c30"/>
<circle cx="143.51" cy="320.29" r="1.55" fill="#4d8c30"/>
<circle cx="164.76" cy="301.08" r="1.55" fill="#4d8c30"/>
<circle cx="127.03" cy="305.35" r="1.55" fill="#4d8c30"/>
<circle cx="136.53" cy="317.77" r="1.55" fill="#4d8c30"/>
<circle cx="152.92" cy="317.77" r="1.55" fill="#4d8c30"/>
<ellipse cx="144.00" cy="300.50" rx="4.65" ry="4.35" fill="#4d8c30"/>
<g fill="none" stroke="#8cc567" stroke-linecap="round" stroke-linejoin="round"><path d="M141.57 294.68 L139.63 288.86 L138.18 282.56 L137.69 278.68M146.43 294.68 L148.85 288.86 L150.31 283.04 L151.57 278.68M149.82 299.53 L155.64 298.07 L160.00 296.81 L164.66 294.29M140.12 303.89 L135.27 306.81 L129.45 309.71 L123.53 312.53M145.94 305.35 L146.43 310.20 L144.97 315.05 L143.51 320.29M138.86 285.46 L134.30 283.82 L130.23 282.65M149.43 286.92 L152.73 287.31 L155.83 287.70M160.00 296.81 L162.43 299.05 L164.76 301.08M132.36 308.26 L129.45 306.51 L127.03 305.35M136.24 306.32 L136.05 312.14 L136.53 317.77M146.23 310.69 L149.82 314.08 L152.92 317.77" stroke-width="1.45"/><path d="M144.00 300.50 L141.57 294.68 L139.63 288.86M144.00 300.50 L146.43 294.68 L148.85 288.86M144.00 300.50 L149.82 299.53 L155.64 298.07M144.00 300.50 L140.12 303.89 L135.27 306.81M144.00 300.50 L145.94 305.35 L146.43 310.20" stroke-width="2.50"/><path d="M135.46 276.64 L137.69 278.68 L138.96 276.06M150.11 276.06 L151.57 278.68 L153.60 276.64M128.48 281.10 L130.23 282.65 L128.48 284.20M157.58 285.95 L155.83 287.70 L157.58 289.25M166.89 292.93 L164.66 294.29 L166.12 296.04" stroke-width="1.15"/></g>
<circle cx="164.66" cy="294.29" r="1.10" fill="#8cc567"/>
<circle cx="123.53" cy="312.53" r="1.10" fill="#8cc567"/>
<circle cx="143.51" cy="320.29" r="1.10" fill="#8cc567"/>
<circle cx="164.76" cy="301.08" r="1.10" fill="#8cc567"/>
<circle cx="127.03" cy="305.35" r="1.10" fill="#8cc567"/>
<circle cx="136.53" cy="317.77" r="1.10" fill="#8cc567"/>
<circle cx="152.92" cy="317.77" r="1.10" fill="#8cc567"/>
<ellipse cx="144.00" cy="300.50" rx="4.20" ry="3.90" fill="#8cc567"/>
<circle cx="142.50" cy="301.00" r="1.2" fill="#fff"/>
<g fill="none" stroke="#b63c22" stroke-linecap="round" stroke-linejoin="round"><path d="M188.17 294.68 L186.23 288.86 L184.78 282.56 L184.29 278.68M193.03 294.68 L195.45 288.86 L196.91 283.04 L198.17 278.68M196.42 299.53 L202.24 298.07 L206.60 296.81 L211.26 294.29M186.72 303.89 L181.87 306.81 L176.05 309.71 L170.13 312.53M192.54 305.35 L193.03 310.20 L191.57 315.05 L190.11 320.29M185.46 285.46 L180.90 283.82 L176.83 282.65M196.03 286.92 L199.33 287.31 L202.43 287.70M206.60 296.81 L209.03 299.05 L211.36 301.08M178.96 308.26 L176.05 306.51 L173.62 305.35M182.84 306.32 L182.65 312.14 L183.13 317.77M192.83 310.69 L196.42 314.08 L199.52 317.77" stroke-width="2.35"/><path d="M190.60 300.50 L188.17 294.68 L186.23 288.86M190.60 300.50 L193.03 294.68 L195.45 288.86M190.60 300.50 L196.42 299.53 L202.24 298.07M190.60 300.50 L186.72 303.89 L181.87 306.81M190.60 300.50 L192.54 305.35 L193.03 310.20" stroke-width="3.40"/><path d="M182.06 276.64 L184.29 278.68 L185.56 276.06M196.71 276.06 L198.17 278.68 L200.20 276.64M175.08 281.10 L176.83 282.65 L175.08 284.20M204.18 285.95 L202.43 287.70 L204.18 289.25M213.49 292.93 L211.26 294.29 L212.72 296.04" stroke-width="2.05"/></g>
<circle cx="211.26" cy="294.29" r="1.55" fill="#b63c22"/>
<circle cx="170.13" cy="312.53" r="1.55" fill="#b63c22"/>
<circle cx="190.11" cy="320.29" r="1.55" fill="#b63c22"/>
<circle cx="211.36" cy="301.08" r="1.55" fill="#b63c22"/>
<circle cx="173.62" cy="305.35" r="1.55" fill="#b63c22"/>
<circle cx="183.13" cy="317.77" r="1.55" fill="#b63c22"/>
<circle cx="199.52" cy="317.77" r="1.55" fill="#b63c22"/>
<ellipse cx="190.60" cy="300.50" rx="4.65" ry="4.35" fill="#b63c22"/>
<g fill="none" stroke="#df6a4e" stroke-linecap="round" stroke-linejoin="round"><path d="M188.17 294.68 L186.23 288.86 L184.78 282.56 L184.29 278.68M193.03 294.68 L195.45 288.86 L196.91 283.04 L198.17 278.68M196.42 299.53 L202.24 298.07 L206.60 296.81 L211.26 294.29M186.72 303.89 L181.87 306.81 L176.05 309.71 L170.13 312.53M192.54 305.35 L193.03 310.20 L191.57 315.05 L190.11 320.29M185.46 285.46 L180.90 283.82 L176.83 282.65M196.03 286.92 L199.33 287.31 L202.43 287.70M206.60 296.81 L209.03 299.05 L211.36 301.08M178.96 308.26 L176.05 306.51 L173.62 305.35M182.84 306.32 L182.65 312.14 L183.13 317.77M192.83 310.69 L196.42 314.08 L199.52 317.77" stroke-width="1.45"/><path d="M190.60 300.50 L188.17 294.68 L186.23 288.86M190.60 300.50 L193.03 294.68 L195.45 288.86M190.60 300.50 L196.42 299.53 L202.24 298.07M190.60 300.50 L186.72 303.89 L181.87 306.81M190.60 300.50 L192.54 305.35 L193.03 310.20" stroke-width="2.50"/><path d="M182.06 276.64 L184.29 278.68 L185.56 276.06M196.71 276.06 L198.17 278.68 L200.20 276.64M175.08 281.10 L176.83 282.65 L175.08 284.20M204.18 285.95 L202.43 287.70 L204.18 289.25M213.49 292.93 L211.26 294.29 L212.72 296.04" stroke-width="1.15"/></g>
<circle cx="211.26" cy="294.29" r="1.10" fill="#df6a4e"/>
<circle cx="170.13" cy="312.53" r="1.10" fill="#df6a4e"/>
<circle cx="190.11" cy="320.29" r="1.10" fill="#df6a4e"/>
<circle cx="211.36" cy="301.08" r="1.10" fill="#df6a4e"/>
<circle cx="173.62" cy="305.35" r="1.10" fill="#df6a4e"/>
<circle cx="183.13" cy="317.77" r="1.10" fill="#df6a4e"/>
<circle cx="199.52" cy="317.77" r="1.10" fill="#df6a4e"/>
<ellipse cx="190.60" cy="300.50" rx="4.20" ry="3.90" fill="#df6a4e"/>
<circle cx="189.10" cy="301.00" r="1.2" fill="#fff"/>
<g fill="none" stroke="#3b57b4" stroke-linecap="round" stroke-linejoin="round"><path d="M91.62 342.52 L89.56 336.34 L88.02 329.64 L87.50 325.52M96.78 342.52 L99.35 336.34 L100.90 330.16 L102.23 325.52M100.38 347.67 L106.56 346.12 L111.20 344.79 L116.14 342.11M90.08 352.31 L84.93 355.39 L78.75 358.49 L72.47 361.47M96.26 353.85 L96.78 359.00 L95.23 364.15 L93.69 369.71M88.74 332.74 L83.90 330.98 L79.57 329.75M99.97 334.28 L103.47 334.69 L106.77 335.10M111.20 344.79 L113.77 347.15 L116.24 349.32M81.84 356.94 L78.75 355.09 L76.17 353.85M85.96 354.88 L85.75 361.06 L86.27 367.03M96.57 359.51 L100.38 363.12 L103.68 367.03" stroke-width="2.35"/><path d="M94.20 348.70 L91.62 342.52 L89.56 336.34M94.20 348.70 L96.78 342.52 L99.35 336.34M94.20 348.70 L100.38 347.67 L106.56 346.12M94.20 348.70 L90.08 352.31 L84.93 355.39M94.20 348.70 L96.26 353.85 L96.78 359.00" stroke-width="3.40"/><path d="M85.14 323.36 L87.50 325.52 L88.84 322.74M100.69 322.74 L102.23 325.52 L104.40 323.36M77.72 328.10 L79.57 329.75 L77.72 331.40M108.62 333.25 L106.77 335.10 L108.62 336.75M118.51 340.67 L116.14 342.11 L117.68 343.96" stroke-width="2.05"/></g>
<circle cx="116.14" cy="342.11" r="1.55" fill="#3b57b4"/>
<circle cx="72.47" cy="361.47" r="1.55" fill="#3b57b4"/>
<circle cx="93.69" cy="369.71" r="1.55" fill="#3b57b4"/>
<circle cx="116.24" cy="349.32" r="1.55" fill="#3b57b4"/>
<circle cx="76.17" cy="353.85" r="1.55" fill="#3b57b4"/>
<circle cx="86.27" cy="367.03" r="1.55" fill="#3b57b4"/>
<circle cx="103.68" cy="367.03" r="1.55" fill="#3b57b4"/>
<ellipse cx="94.20" cy="348.70" rx="4.65" ry="4.35" fill="#3b57b4"/>
<g fill="none" stroke="#7f9fe2" stroke-linecap="round" stroke-linejoin="round"><path d="M91.62 342.52 L89.56 336.34 L88.02 329.64 L87.50 325.52M96.78 342.52 L99.35 336.34 L100.90 330.16 L102.23 325.52M100.38 347.67 L106.56 346.12 L111.20 344.79 L116.14 342.11M90.08 352.31 L84.93 355.39 L78.75 358.49 L72.47 361.47M96.26 353.85 L96.78 359.00 L95.23 364.15 L93.69 369.71M88.74 332.74 L83.90 330.98 L79.57 329.75M99.97 334.28 L103.47 334.69 L106.77 335.10M111.20 344.79 L113.77 347.15 L116.24 349.32M81.84 356.94 L78.75 355.09 L76.17 353.85M85.96 354.88 L85.75 361.06 L86.27 367.03M96.57 359.51 L100.38 363.12 L103.68 367.03" stroke-width="1.45"/><path d="M94.20 348.70 L91.62 342.52 L89.56 336.34M94.20 348.70 L96.78 342.52 L99.35 336.34M94.20 348.70 L100.38 347.67 L106.56 346.12M94.20 348.70 L90.08 352.31 L84.93 355.39M94.20 348.70 L96.26 353.85 L96.78 359.00" stroke-width="2.50"/><path d="M85.14 323.36 L87.50 325.52 L88.84 322.74M100.69 322.74 L102.23 325.52 L104.40 323.36M77.72 328.10 L79.57 329.75 L77.72 331.40M108.62 333.25 L106.77 335.10 L108.62 336.75M118.51 340.67 L116.14 342.11 L117.68 343.96" stroke-width="1.15"/></g>
<circle cx="116.14" cy="342.11" r="1.10" fill="#7f9fe2"/>
<circle cx="72.47" cy="361.47" r="1.10" fill="#7f9fe2"/>
<circle cx="93.69" cy="369.71" r="1.10" fill="#7f9fe2"/>
<circle cx="116.24" cy="349.32" r="1.10" fill="#7f9fe2"/>
<circle cx="76.17" cy="353.85" r="1.10" fill="#7f9fe2"/>
<circle cx="86.27" cy="367.03" r="1.10" fill="#7f9fe2"/>
<circle cx="103.68" cy="367.03" r="1.10" fill="#7f9fe2"/>
<ellipse cx="94.20" cy="348.70" rx="4.20" ry="3.90" fill="#7f9fe2"/>
<path d="M94.20 348.70 L91.62 342.52 L89.56 336.34 L88.02 329.64M94.20 348.70 L90.08 352.31 L84.93 355.39 L78.75 358.49M94.20 348.70 L96.26 353.85 L96.78 359.00 L95.23 364.15M94.20 348.70 L100.38 347.67 L106.56 346.12" fill="none" stroke="#2f4590" stroke-width="0.8" stroke-linecap="round" opacity="0.8"/>
<circle cx="92.70" cy="349.20" r="1.2" fill="#fff"/>
<g fill="none" stroke="#45802d" stroke-linecap="round" stroke-linejoin="round"><path d="M139.83 342.52 L137.77 336.34 L136.22 329.64 L135.71 325.52M144.97 342.52 L147.55 336.34 L149.09 330.16 L150.43 325.52M148.58 347.67 L154.76 346.12 L159.40 344.79 L164.34 342.11M138.28 352.31 L133.13 355.39 L126.95 358.49 L120.67 361.47M144.46 353.85 L144.97 359.00 L143.43 364.15 L141.89 369.71M136.94 332.74 L132.10 330.98 L127.77 329.75M148.17 334.28 L151.67 334.69 L154.97 335.10M159.40 344.79 L161.97 347.15 L164.44 349.32M130.04 356.94 L126.95 355.09 L124.38 353.85M134.16 354.88 L133.95 361.06 L134.47 367.03M144.77 359.51 L148.58 363.12 L151.88 367.03" stroke-width="2.35"/><path d="M142.40 348.70 L139.83 342.52 L137.77 336.34M142.40 348.70 L144.97 342.52 L147.55 336.34M142.40 348.70 L148.58 347.67 L154.76 346.12M142.40 348.70 L138.28 352.31 L133.13 355.39M142.40 348.70 L144.46 353.85 L144.97 359.00" stroke-width="3.40"/><path d="M133.34 323.36 L135.71 325.52 L137.04 322.74M148.89 322.74 L150.43 325.52 L152.60 323.36M125.92 328.10 L127.77 329.75 L125.92 331.40M156.82 333.25 L154.97 335.10 L156.82 336.75M166.71 340.67 L164.34 342.11 L165.88 343.96" stroke-width="2.05"/></g>
<circle cx="164.34" cy="342.11" r="1.55" fill="#45802d"/>
<circle cx="120.67" cy="361.47" r="1.55" fill="#45802d"/>
<circle cx="141.89" cy="369.71" r="1.55" fill="#45802d"/>
<circle cx="164.44" cy="349.32" r="1.55" fill="#45802d"/>
<circle cx="124.38" cy="353.85" r="1.55" fill="#45802d"/>
<circle cx="134.47" cy="367.03" r="1.55" fill="#45802d"/>
<circle cx="151.88" cy="367.03" r="1.55" fill="#45802d"/>
<ellipse cx="142.40" cy="348.70" rx="4.65" ry="4.35" fill="#45802d"/>
<g fill="none" stroke="#93cf71" stroke-linecap="round" stroke-linejoin="round"><path d="M139.83 342.52 L137.77 336.34 L136.22 329.64 L135.71 325.52M144.97 342.52 L147.55 336.34 L149.09 330.16 L150.43 325.52M148.58 347.67 L154.76 346.12 L159.40 344.79 L164.34 342.11M138.28 352.31 L133.13 355.39 L126.95 358.49 L120.67 361.47M144.46 353.85 L144.97 359.00 L143.43 364.15 L141.89 369.71M136.94 332.74 L132.10 330.98 L127.77 329.75M148.17 334.28 L151.67 334.69 L154.97 335.10M159.40 344.79 L161.97 347.15 L164.44 349.32M130.04 356.94 L126.95 355.09 L124.38 353.85M134.16 354.88 L133.95 361.06 L134.47 367.03M144.77 359.51 L148.58 363.12 L151.88 367.03" stroke-width="1.45"/><path d="M142.40 348.70 L139.83 342.52 L137.77 336.34M142.40 348.70 L144.97 342.52 L147.55 336.34M142.40 348.70 L148.58 347.67 L154.76 346.12M142.40 348.70 L138.28 352.31 L133.13 355.39M142.40 348.70 L144.46 353.85 L144.97 359.00" stroke-width="2.50"/><path d="M133.34 323.36 L135.71 325.52 L137.04 322.74M148.89 322.74 L150.43 325.52 L152.60 323.36M125.92 328.10 L127.77 329.75 L125.92 331.40M156.82 333.25 L154.97 335.10 L156.82 336.75M166.71 340.67 L164.34 342.11 L165.88 343.96" stroke-width="1.15"/></g>
<circle cx="164.34" cy="342.11" r="1.10" fill="#93cf71"/>
<circle cx="120.67" cy="361.47" r="1.10" fill="#93cf71"/>
<circle cx="141.89" cy="369.71" r="1.10" fill="#93cf71"/>
<circle cx="164.44" cy="349.32" r="1.10" fill="#93cf71"/>
<circle cx="124.38" cy="353.85" r="1.10" fill="#93cf71"/>
<circle cx="134.47" cy="367.03" r="1.10" fill="#93cf71"/>
<circle cx="151.88" cy="367.03" r="1.10" fill="#93cf71"/>
<ellipse cx="142.40" cy="348.70" rx="4.20" ry="3.90" fill="#93cf71"/>
<path d="M142.40 348.70 L139.83 342.52 L137.77 336.34 L136.22 329.64M142.40 348.70 L138.28 352.31 L133.13 355.39 L126.95 358.49M142.40 348.70 L144.46 353.85 L144.97 359.00 L143.43 364.15M142.40 348.70 L148.58 347.67 L154.76 346.12" fill="none" stroke="#35622a" stroke-width="0.8" stroke-linecap="round" opacity="0.8"/>
<circle cx="140.90" cy="349.20" r="1.2" fill="#fff"/>
<g fill="none" stroke="#a8361e" stroke-linecap="round" stroke-linejoin="round"><path d="M186.43 342.52 L184.37 336.34 L182.82 329.64 L182.31 325.52M191.57 342.52 L194.15 336.34 L195.69 330.16 L197.03 325.52M195.18 347.67 L201.36 346.12 L206.00 344.79 L210.94 342.11M184.88 352.31 L179.73 355.39 L173.55 358.49 L167.27 361.47M191.06 353.85 L191.57 359.00 L190.03 364.15 L188.49 369.71M183.54 332.74 L178.70 330.98 L174.37 329.75M194.77 334.28 L198.27 334.69 L201.57 335.10M206.00 344.79 L208.57 347.15 L211.04 349.32M176.64 356.94 L173.55 355.09 L170.97 353.85M180.76 354.88 L180.55 361.06 L181.07 367.03M191.37 359.51 L195.18 363.12 L198.48 367.03" stroke-width="2.35"/><path d="M189.00 348.70 L186.43 342.52 L184.37 336.34M189.00 348.70 L191.57 342.52 L194.15 336.34M189.00 348.70 L195.18 347.67 L201.36 346.12M189.00 348.70 L184.88 352.31 L179.73 355.39M189.00 348.70 L191.06 353.85 L191.57 359.00" stroke-width="3.40"/><path d="M179.94 323.36 L182.31 325.52 L183.64 322.74M195.49 322.74 L197.03 325.52 L199.20 323.36M172.52 328.10 L174.37 329.75 L172.52 331.40M203.42 333.25 L201.57 335.10 L203.42 336.75M213.31 340.67 L210.94 342.11 L212.48 343.96" stroke-width="2.05"/></g>
<circle cx="210.94" cy="342.11" r="1.55" fill="#a8361e"/>
<circle cx="167.27" cy="361.47" r="1.55" fill="#a8361e"/>
<circle cx="188.49" cy="369.71" r="1.55" fill="#a8361e"/>
<circle cx="211.04" cy="349.32" r="1.55" fill="#a8361e"/>
<circle cx="170.97" cy="353.85" r="1.55" fill="#a8361e"/>
<circle cx="181.07" cy="367.03" r="1.55" fill="#a8361e"/>
<circle cx="198.48" cy="367.03" r="1.55" fill="#a8361e"/>
<ellipse cx="189.00" cy="348.70" rx="4.65" ry="4.35" fill="#a8361e"/>
<g fill="none" stroke="#dc6a4e" stroke-linecap="round" stroke-linejoin="round"><path d="M186.43 342.52 L184.37 336.34 L182.82 329.64 L182.31 325.52M191.57 342.52 L194.15 336.34 L195.69 330.16 L197.03 325.52M195.18 347.67 L201.36 346.12 L206.00 344.79 L210.94 342.11M184.88 352.31 L179.73 355.39 L173.55 358.49 L167.27 361.47M191.06 353.85 L191.57 359.00 L190.03 364.15 L188.49 369.71M183.54 332.74 L178.70 330.98 L174.37 329.75M194.77 334.28 L198.27 334.69 L201.57 335.10M206.00 344.79 L208.57 347.15 L211.04 349.32M176.64 356.94 L173.55 355.09 L170.97 353.85M180.76 354.88 L180.55 361.06 L181.07 367.03M191.37 359.51 L195.18 363.12 L198.48 367.03" stroke-width="1.45"/><path d="M189.00 348.70 L186.43 342.52 L184.37 336.34M189.00 348.70 L191.57 342.52 L194.15 336.34M189.00 348.70 L195.18 347.67 L201.36 346.12M189.00 348.70 L184.88 352.31 L179.73 355.39M189.00 348.70 L191.06 353.85 L191.57 359.00" stroke-width="2.50"/><path d="M179.94 323.36 L182.31 325.52 L183.64 322.74M195.49 322.74 L197.03 325.52 L199.20 323.36M172.52 328.10 L174.37 329.75 L172.52 331.40M203.42 333.25 L201.57 335.10 L203.42 336.75M213.31 340.67 L210.94 342.11 L212.48 343.96" stroke-width="1.15"/></g>
<circle cx="210.94" cy="342.11" r="1.10" fill="#dc6a4e"/>
<circle cx="167.27" cy="361.47" r="1.10" fill="#dc6a4e"/>
<circle cx="188.49" cy="369.71" r="1.10" fill="#dc6a4e"/>
<circle cx="211.04" cy="349.32" r="1.10" fill="#dc6a4e"/>
<circle cx="170.97" cy="353.85" r="1.10" fill="#dc6a4e"/>
<circle cx="181.07" cy="367.03" r="1.10" fill="#dc6a4e"/>
<circle cx="198.48" cy="367.03" r="1.10" fill="#dc6a4e"/>
<ellipse cx="189.00" cy="348.70" rx="4.20" ry="3.90" fill="#dc6a4e"/>
<path d="M189.00 348.70 L186.43 342.52 L184.37 336.34 L182.82 329.64M189.00 348.70 L184.88 352.31 L179.73 355.39 L173.55 358.49M189.00 348.70 L191.06 353.85 L191.57 359.00 L190.03 364.15M189.00 348.70 L195.18 347.67 L201.36 346.12" fill="none" stroke="#7a2a18" stroke-width="0.8" stroke-linecap="round" opacity="0.8"/>
<circle cx="187.50" cy="349.20" r="1.2" fill="#fff"/>
<text x="3.20" y="89.00" font-size="10.8" font-weight="bold" fill="#111" text-anchor="start">2D</text>
<text x="3.20" y="141.40" font-size="10.8" font-weight="bold" fill="#111" text-anchor="start">3D</text>
<path d="M20.4 90 Q21 93.6 30 93.6 L61 93.6 Q70.8 93.6 70.8 90 L70.8 88 Q66 86 45 86 Q25 86 20.4 88Z" fill="#e3e3e3"/>
<path d="M20.4 79 V90 Q21 93.6 30 93.6 L61 93.6 Q70.8 93.6 70.8 90 V79" fill="none" stroke="#555" stroke-width="0.8"/>
<path d="M20.6 128 Q45 123 70.6 128 V146 Q70.6 149.6 61 149.6 L30 149.6 Q20.6 149.6 20.6 146Z" fill="#d8d8d8"/>
<path d="M20.6 128 Q45 124.5 70.6 128 Q45 131 20.6 128Z" fill="#ececec"/>
<path d="M20.4 122.6 V146 Q20.6 149.6 30 149.6 L61 149.6 Q70.8 149.6 70.8 146 V122.6" fill="none" stroke="#555" stroke-width="0.8"/>
<rect x="51.40" y="84.20" width="15.00" height="12.10" fill="none" stroke="#555" stroke-width="0.6" stroke-dasharray="1.5,1"/>
<rect x="54.30" y="127.20" width="15.00" height="17.30" fill="none" stroke="#555" stroke-width="0.6" stroke-dasharray="1.5,1"/>
<path d="M-3.6 0L3.6 0M0 -2.7L0 2.7M-2.7 -2.25L-1.35 0M2.7 2.25L1.35 0M2.25 -2.7L0.9 -0.9" transform="translate(30 90) rotate(10)" stroke="#e27a3a" stroke-width="0.9" fill="none" stroke-linecap="round"/>
<path d="M-3.6 0L3.6 0M0 -2.7L0 2.7M-2.7 -2.25L-1.35 0M2.7 2.25L1.35 0M2.25 -2.7L0.9 -0.9" transform="translate(36 89.5) rotate(-20)" stroke="#e27a3a" stroke-width="0.9" fill="none" stroke-linecap="round"/>
<path d="M-3.6 0L3.6 0M0 -2.7L0 2.7M-2.7 -2.25L-1.35 0M2.7 2.25L1.35 0M2.25 -2.7L0.9 -0.9" transform="translate(44 91) rotate(0)" stroke="#e27a3a" stroke-width="0.9" fill="none" stroke-linecap="round"/>
<path d="M-3.6 0L3.6 0M0 -2.7L0 2.7M-2.7 -2.25L-1.35 0M2.7 2.25L1.35 0M2.25 -2.7L0.9 -0.9" transform="translate(50 90.5) rotate(30)" stroke="#e27a3a" stroke-width="0.9" fill="none" stroke-linecap="round"/>
<path d="M-3.6 0L3.6 0M0 -2.7L0 2.7M-2.7 -2.25L-1.35 0M2.7 2.25L1.35 0M2.25 -2.7L0.9 -0.9" transform="translate(57 89.5) rotate(-10)" stroke="#e27a3a" stroke-width="0.9" fill="none" stroke-linecap="round"/>
<path d="M-3.6 0L3.6 0M0 -2.7L0 2.7M-2.7 -2.25L-1.35 0M2.7 2.25L1.35 0M2.25 -2.7L0.9 -0.9" transform="translate(63 90) rotate(20)" stroke="#e27a3a" stroke-width="0.9" fill="none" stroke-linecap="round"/>
<path d="M-5.2 0L5.2 0M0 -3.9000000000000004L0 3.9000000000000004M-3.9000000000000004 -3.25L-1.9500000000000002 0M3.9000000000000004 3.25L1.9500000000000002 0M3.25 -3.9000000000000004L1.3 -1.3" transform="translate(30 139) rotate(0)" stroke="#e27a3a" stroke-width="0.9" fill="none" stroke-linecap="round"/>
<path d="M-5.2 0L5.2 0M0 -3.9000000000000004L0 3.9000000000000004M-3.9000000000000004 -3.25L-1.9500000000000002 0M3.9000000000000004 3.25L1.9500000000000002 0M3.25 -3.9000000000000004L1.3 -1.3" transform="translate(35 144) rotate(30)" stroke="#e27a3a" stroke-width="0.9" fill="none" stroke-linecap="round"/>
<path d="M-5.2 0L5.2 0M0 -3.9000000000000004L0 3.9000000000000004M-3.9000000000000004 -3.25L-1.9500000000000002 0M3.9000000000000004 3.25L1.9500000000000002 0M3.25 -3.9000000000000004L1.3 -1.3" transform="translate(42 129) rotate(-20)" stroke="#e27a3a" stroke-width="0.9" fill="none" stroke-linecap="round"/>
<path d="M-5.2 0L5.2 0M0 -3.9000000000000004L0 3.9000000000000004M-3.9000000000000004 -3.25L-1.9500000000000002 0M3.9000000000000004 3.25L1.9500000000000002 0M3.25 -3.9000000000000004L1.3 -1.3" transform="translate(44 135) rotate(45)" stroke="#e27a3a" stroke-width="0.9" fill="none" stroke-linecap="round"/>
<path d="M-5.2 0L5.2 0M0 -3.9000000000000004L0 3.9000000000000004M-3.9000000000000004 -3.25L-1.9500000000000002 0M3.9000000000000004 3.25L1.9500000000000002 0M3.25 -3.9000000000000004L1.3 -1.3" transform="translate(47 144) rotate(10)" stroke="#e27a3a" stroke-width="0.9" fill="none" stroke-linecap="round"/>
<path d="M-5.2 0L5.2 0M0 -3.9000000000000004L0 3.9000000000000004M-3.9000000000000004 -3.25L-1.9500000000000002 0M3.9000000000000004 3.25L1.9500000000000002 0M3.25 -3.9000000000000004L1.3 -1.3" transform="translate(53 134) rotate(80)" stroke="#e27a3a" stroke-width="0.9" fill="none" stroke-linecap="round"/>
<path d="M-5.2 0L5.2 0M0 -3.9000000000000004L0 3.9000000000000004M-3.9000000000000004 -3.25L-1.9500000000000002 0M3.9000000000000004 3.25L1.9500000000000002 0M3.25 -3.9000000000000004L1.3 -1.3" transform="translate(61 133) rotate(0)" stroke="#e27a3a" stroke-width="0.9" fill="none" stroke-linecap="round"/>
<path d="M-5.2 0L5.2 0M0 -3.9000000000000004L0 3.9000000000000004M-3.9000000000000004 -3.25L-1.9500000000000002 0M3.9000000000000004 3.25L1.9500000000000002 0M3.25 -3.9000000000000004L1.3 -1.3" transform="translate(64 140) rotate(30)" stroke="#e27a3a" stroke-width="0.9" fill="none" stroke-linecap="round"/>
<path d="M127 182.8 L230.3 161.8 L230.3 182.8Z" fill="url(#sev)"/>
<text x="104.10" y="171.60" font-size="8" font-weight="bold" fill="#2a3580" text-anchor="middle">Low</text>
<text x="104.10" y="180.40" font-size="7.8" font-weight="bold" fill="#2a3580" text-anchor="middle">genetic risk</text>
<line x1="82.30" y1="183.30" x2="127.00" y2="183.30" stroke="#2a3580" stroke-width="0.7" stroke-dasharray="1,1"/>
<text x="228.00" y="181.30" font-size="7.6" font-weight="bold" fill="#ffffff" text-anchor="end">Disease severity</text>
<text x="79.50" y="200.80" font-size="10.5" font-weight="bold" fill="#222" text-anchor="start">+</text>
<text x="96.30" y="201.50" font-size="10.2" font-weight="bold" fill="#222" text-anchor="start">LPS</text>
<path d="M123 186.8 V216" stroke="#8a8a8a" stroke-width="1.8"/><path d="M119.6 213.5 L123 221 L126.4 213.5Z" fill="#8a8a8a"/>
<path d="M134.4 214.4 V193" stroke="#b0b0b0" stroke-width="1.8"/><path d="M131 195.5 L134.4 188 L137.8 195.5Z" fill="#b0b0b0"/>
<text x="136.70" y="205.20" font-size="9.4" font-weight="bold" font-style="italic" fill="#222" text-anchor="start">inflammation</text>
<text x="22.50" y="246.30" font-size="10.5" fill="#888" text-anchor="start">+</text>
<text x="39.80" y="246.20" font-size="10.4" fill="#888" text-anchor="start">Anti-inflammatory</text>
<text x="39.80" y="253.70" font-size="10.4" fill="#888" text-anchor="start">drugs</text>
<path d="M134.9 224.9 Q124.4 224.9 124.4 232 V260 Q124.4 266.9 134.9 266.9" fill="none" stroke="#444" stroke-width="0.9"/>
<circle cx="137.3" cy="240.3" r="1.3" fill="#888"/><circle cx="137.3" cy="250.5" r="1.3" fill="#888"/>
<text x="144.00" y="243.70" font-size="10.3" font-weight="bold" fill="#888" text-anchor="start">Minocycline</text>
<text x="144.00" y="254.00" font-size="10.3" font-weight="bold" fill="#888" text-anchor="start">IC14</text>
<path d="M45.5 260.3 Q37 310 70 340" fill="none" stroke="#555" stroke-width="0.9"/>
<path d="M204 273.9 Q214.3 273.9 214.3 281 V365 Q214.3 372.3 204 372.3" fill="none" stroke="#444" stroke-width="0.9"/>
<path d="M214.3 343.7 H224" stroke="#777" stroke-width="1.1"/><path d="M223 340.8 L229 343.7 L223 346.6Z" fill="#777"/>
<text x="231.00" y="328.30" font-size="10.3" font-weight="bold" fill="#888" text-anchor="start">Cytokine</text>
<text x="231.00" y="340.00" font-size="10.3" font-weight="bold" fill="#888" text-anchor="start">inflammatory</text>
<text x="231.00" y="351.30" font-size="10.3" font-weight="bold" fill="#888" text-anchor="start">profiles:</text>
<circle cx="232.6" cy="359.8" r="1.1" fill="none" stroke="#999" stroke-width="0.6"/><circle cx="232.6" cy="371" r="1.1" fill="none" stroke="#999" stroke-width="0.6"/>
<text x="240.90" y="363.30" font-size="10.3" fill="#888" text-anchor="start">mRNA expression</text>
<text x="240.90" y="374.50" font-size="10.3" fill="#888" text-anchor="start">Protein secretion</text>
</svg>
</body></html>
